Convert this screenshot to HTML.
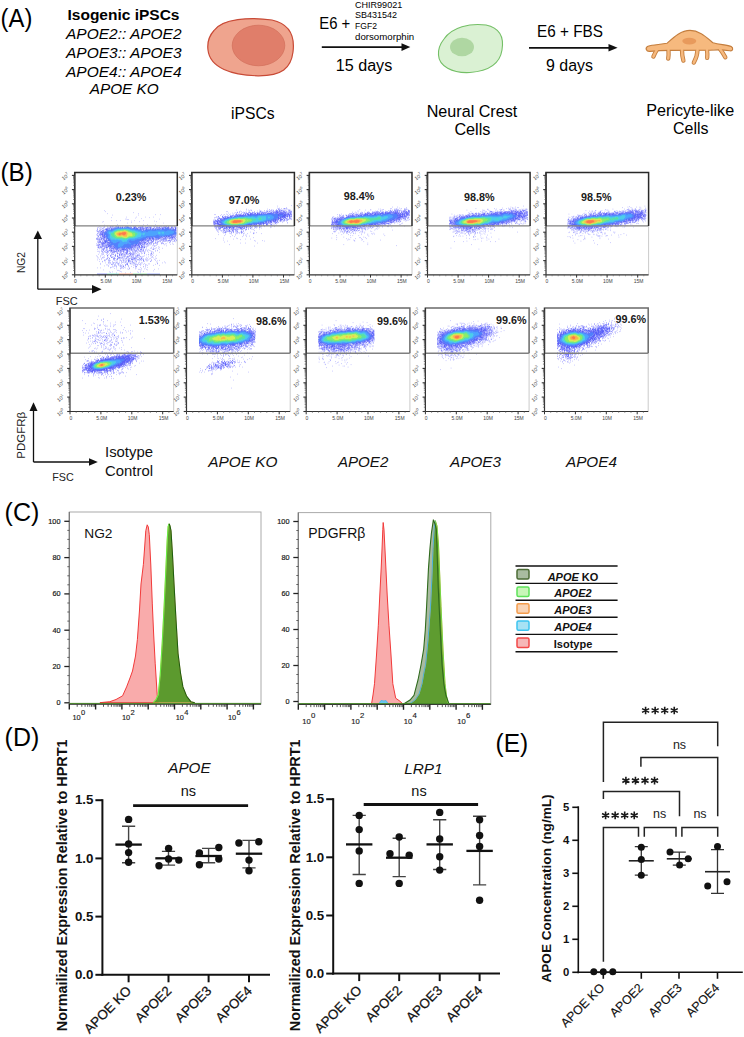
<!DOCTYPE html>
<html><head><meta charset="utf-8"><style>
html,body{margin:0;padding:0;background:#fff;width:744px;height:1037px;overflow:hidden}
svg{display:block;font-family:"Liberation Sans", sans-serif}
</style></head><body>
<svg width="744" height="1037" viewBox="0 0 744 1037">
<defs><filter id="bl" x="-20%" y="-50%" width="140%" height="200%"><feGaussianBlur stdDeviation="1.6"/></filter></defs>
<rect width="744" height="1037" fill="#fff"/>
<text x="0.6" y="26.6" font-size="26" text-anchor="start" font-weight="normal" font-style="normal" fill="#000" textLength="31.8" lengthAdjust="spacingAndGlyphs" >(A)</text>
<text x="123.5" y="20" font-size="14.5" text-anchor="middle" font-weight="bold" font-style="normal" fill="#000" textLength="112" lengthAdjust="spacingAndGlyphs" >Isogenic iPSCs</text>
<text x="123.8" y="39.0" font-size="14" text-anchor="middle" font-weight="normal" font-style="italic" fill="#000" textLength="115.5" lengthAdjust="spacingAndGlyphs" >APOE2:: APOE2</text>
<text x="123.8" y="57.8" font-size="14" text-anchor="middle" font-weight="normal" font-style="italic" fill="#000" textLength="115.5" lengthAdjust="spacingAndGlyphs" >APOE3:: APOE3</text>
<text x="123.8" y="76.6" font-size="14" text-anchor="middle" font-weight="normal" font-style="italic" fill="#000" textLength="115.5" lengthAdjust="spacingAndGlyphs" >APOE4:: APOE4</text>
<text x="124.2" y="94.2" font-size="14" text-anchor="middle" font-weight="normal" font-style="italic" fill="#000" textLength="69" lengthAdjust="spacingAndGlyphs" >APOE KO</text>
<path d="M214,30.5 C222,18.5 250,16.8 272,20 C290,24 295,36 293,52 C291,68 282,76 258,75.8 C232,75.3 210,68 208,50 C207,42 209,36 214,30.5 Z" fill="#EFA48E" stroke="#C84A36" stroke-width="1.2"/>
<ellipse cx="258.5" cy="45.5" rx="26.3" ry="20.3" fill="#E07E6A" stroke="#CF6A56" stroke-width="0.6"/>
<text x="319.3" y="28.6" font-size="17.2" text-anchor="start" font-weight="normal" font-style="normal" fill="#000" textLength="31" lengthAdjust="spacingAndGlyphs" >E6 +</text>
<text x="355" y="7.8" font-size="9.3" text-anchor="start" font-weight="normal" font-style="normal" fill="#000" textLength="47.2" lengthAdjust="spacingAndGlyphs" >CHIR99021</text>
<text x="355" y="18.4" font-size="9.3" text-anchor="start" font-weight="normal" font-style="normal" fill="#000" textLength="42" lengthAdjust="spacingAndGlyphs" >SB431542</text>
<text x="355" y="29.0" font-size="9.3" text-anchor="start" font-weight="normal" font-style="normal" fill="#000" textLength="22" lengthAdjust="spacingAndGlyphs" >FGF2</text>
<text x="355" y="39.599999999999994" font-size="9.3" text-anchor="start" font-weight="normal" font-style="normal" fill="#000" textLength="59.2" lengthAdjust="spacingAndGlyphs" >dorsomorphin</text>
<line x1="321.8" y1="47.1" x2="403" y2="47.1" stroke="#111" stroke-width="1.8"/>
<path d="M401.5,43.3 L410.3,47.1 L401.5,50.9 Z" fill="#111"/>
<text x="364" y="71" font-size="16" text-anchor="middle" font-weight="normal" font-style="normal" fill="#000" textLength="56.5" lengthAdjust="spacingAndGlyphs" >15 days</text>
<text x="252.8" y="118.7" font-size="15.7" text-anchor="middle" font-weight="normal" font-style="normal" fill="#000" textLength="43.5" lengthAdjust="spacingAndGlyphs" >iPSCs</text>
<path d="M444,39 C452,27 470,23 486,25 C500,28 504,38 502,50 C500,63 490,71 470,72.5 C452,73.5 439,66 438.5,55 C438,49 440,44 444,39 Z" fill="#DAF1D3" stroke="#74BF66" stroke-width="1.1"/>
<ellipse cx="462" cy="47" rx="12" ry="9.3" fill="#AFD7A2"/>
<text x="570" y="37.2" font-size="17" text-anchor="middle" font-weight="normal" font-style="normal" fill="#000" textLength="65.8" lengthAdjust="spacingAndGlyphs" >E6 + FBS</text>
<line x1="529" y1="47.8" x2="609.5" y2="47.8" stroke="#111" stroke-width="1.8"/>
<path d="M608.5,44 L617.6,47.8 L608.5,51.6 Z" fill="#111"/>
<text x="569.5" y="71.2" font-size="16.3" text-anchor="middle" font-weight="normal" font-style="normal" fill="#000" textLength="47" lengthAdjust="spacingAndGlyphs" >9 days</text>
<text x="472" y="116.6" font-size="16.3" text-anchor="middle" font-weight="normal" font-style="normal" fill="#000" textLength="90.6" lengthAdjust="spacingAndGlyphs" >Neural Crest</text>
<text x="472.4" y="134.9" font-size="16.3" text-anchor="middle" font-weight="normal" font-style="normal" fill="#000" textLength="36" lengthAdjust="spacingAndGlyphs" >Cells</text>
<path d="M657,49.5 Q655,53 653.4,56.6" fill="none" stroke="#C47E3E" stroke-width="4.3" stroke-linecap="round"/>
<path d="M668.5,50 Q668.8,55 668.2,58.6" fill="none" stroke="#C47E3E" stroke-width="4.3" stroke-linecap="round"/>
<path d="M682,50 Q682,56 683.4,60.6" fill="none" stroke="#C47E3E" stroke-width="4.3" stroke-linecap="round"/>
<path d="M697.5,50 Q697.2,57 693.8,62.6" fill="none" stroke="#C47E3E" stroke-width="4.3" stroke-linecap="round"/>
<path d="M707,50 Q707.6,54 707.2,57.9" fill="none" stroke="#C47E3E" stroke-width="4.3" stroke-linecap="round"/>
<path d="M720,49 Q723,53 725.3,57.3" fill="none" stroke="#C47E3E" stroke-width="4.3" stroke-linecap="round"/>
<path d="M648,46.2 C653,44.6 660,44.6 667,43.3 C674,37 681,30.4 690,30.4 C699,30.4 706,37 713,42.8 C720,44.8 728,44.6 731.2,46.6 C733.6,48.2 733,51.2 730,50.8 C724,49.8 716,49.6 710,50.2 L670,50.4 C664,50.4 656,50.8 650,51.4 C646,51.8 644.8,47.6 648,46.2 Z" fill="#F6B97E" stroke="#C47E3E" stroke-width="1.15"/>
<path d="M657,49.5 Q655,53 653.4,56.6" fill="none" stroke="#F6B97E" stroke-width="2.5" stroke-linecap="round"/>
<path d="M668.5,50 Q668.8,55 668.2,58.6" fill="none" stroke="#F6B97E" stroke-width="2.5" stroke-linecap="round"/>
<path d="M682,50 Q682,56 683.4,60.6" fill="none" stroke="#F6B97E" stroke-width="2.5" stroke-linecap="round"/>
<path d="M697.5,50 Q697.2,57 693.8,62.6" fill="none" stroke="#F6B97E" stroke-width="2.5" stroke-linecap="round"/>
<path d="M707,50 Q707.6,54 707.2,57.9" fill="none" stroke="#F6B97E" stroke-width="2.5" stroke-linecap="round"/>
<path d="M720,49 Q723,53 725.3,57.3" fill="none" stroke="#F6B97E" stroke-width="2.5" stroke-linecap="round"/>
<ellipse cx="689.3" cy="41.1" rx="7" ry="3.4" fill="#E89A5C"/>
<text x="690.2" y="116" font-size="16.3" text-anchor="middle" font-weight="normal" font-style="normal" fill="#000" textLength="88" lengthAdjust="spacingAndGlyphs" >Pericyte-like</text>
<text x="690.8" y="133.6" font-size="16.3" text-anchor="middle" font-weight="normal" font-style="normal" fill="#000" textLength="35.5" lengthAdjust="spacingAndGlyphs" >Cells</text>
<text x="0.5" y="180.6" font-size="26" text-anchor="start" font-weight="normal" font-style="normal" fill="#000" textLength="32.3" lengthAdjust="spacingAndGlyphs" >(B)</text>
<path d="M99 226.8h.5M100.5 227.3h.5M101 227.8h.5M175.5 241.8h.5M169 242.8h.5M157.5 243.8h.5m7 0h.5m.5 0h.5m5.5 0h.5M157 244.3h.5m13 0h.5m2.5 0h.5M164 244.8h.5M156 245.3h.5M152 245.8h.5m14 0h.5M158.5 246.8h.5M146.5 247.3h.5m4 0h.5m2 0h.5m5.5 0h.5M156 247.8h.5M146 248.3h.5m4 0h.5m.5 0h.5m3.5 0h.5m2 0h.5m4 0h.5M97 249.3h.5m62 0h.5M145.5 249.8h.5m.5 0h.5m1.5 0h.5M145.5 250.3h.5m1.5 0h.5m1 0h.5m6 0h.5m1 0h.5M150 250.8h.5m7 0h.5M97.5 251.3h1m.5 0h.5m48 0h.5m3.5 0h.5m3.5 0h.5M145 251.8h.5m7 0h.5M148.5 252.3h.5m2 0h.5m1.5 0h.5m5.5 0h.5M99.5 252.8h.5m38 0h.5M101.5 253.3h.5m40 0h.5m1.5 0h1m8.5 0h.5M103 253.8h.5m5.5 0h.5m30 0h.5m1.5 0h.5m2.5 0h.5m5 0h.5M98 254.3h.5m4.5 0h.5m2.5 0h.5m42 0h.5M101 254.8h.5m.5 0h.5m44 0h.5m1.5 0h.5M153 255.3h.5m3 0h.5M96.5 255.8h.5m3 0h.5m4 0h.5m39.5 0h.5m5 0h.5m.5 0h.5M97.5 256.4h.5m44 0h.5m.5 0h.5M100.5 256.9h.5m2.5 0h.5m44.5 0h.5m3 0h1m2.5 0h.5M102.5 257.4h.5m1 0h.5m42 0h.5m4 0h.5M97.5 257.9h.5m.5 0h.5m3 0h.5m.5 0h.5m49.5 0h.5M101.5 258.4h.5m45.5 0h.5m2.5 0h.5m5.5 0h.5M145.5 258.9h.5m.5 0h.5m2.5 0h.5m5 0h.5M99.5 259.4h.5m1.5 0h.5m49 0h.5m3 0h.5M97 259.9h.5m6.5 0h.5m1 0h.5m39 0h.5m.5 0h.5m.5 0h.5m1 0h.5M104 260.4h.5m46.5 0h.5m3.5 0h.5m3.5 0h.5M104 260.9h.5m1 0h.5m9.5 0h.5m3 0h.5m19.5 0h.5m7 0h.5m.5 0h.5m3 0h.5m5.5 0h.5M99.5 261.4h.5m2 0h.5m9.5 0h.5m24 0h.5m6 0h.5m1 0h.5m5 0h1M102.5 261.9h.5m14.5 0h.5m38 0h.5m8 0h.5M108 262.4h.5m3.5 0h.5m1.5 0h.5m4.5 0h.5m3.5 0h.5m15.5 0h.5m2 0h.5M105.5 262.9h.5m18.5 0h.5m11 0h.5m1.5 0h.5m3.5 0h.5m15 0h.5m4 0h.5m2.5 0h.5M100 263.4h.5m7.5 0h.5m1.5 0h.5m10.5 0h.5m18.5 0h.5m3.5 0h.5m13 0h.5M109.5 263.9h.5m9.5 0h.5m21 0h.5m6.5 0h.5m.5 0h.5m8 0h.5M100 264.4h.5m10.5 0h.5m31.5 0h.5m2 0h.5m9.5 0h.5M106 264.9h.5m.5 0h.5m38.5 0h.5M108.5 265.4h.5m9 0h.5m15 0h.5m6 0h.5m5 0h.5m1.5 0h.5m5 0h.5m6 0h.5M104 265.9h.5m7.5 0h.5m6.5 0h.5m8.5 0h1M108.5 266.4h.5m7 0h.5m15 0h.5m11 0h.5m1.5 0h.5M112.5 266.9h.5m.5 0h.5m14.5 0h.5m14 0h.5M110 267.4h.5m1 0h.5m4 0h.5m7.5 0h.5m9 0h.5m6 0h.5m6.5 0h.5M97.5 267.9h.5m2.5 0h.5m9 0h.5m12 0h.5m2.5 0h.5m3 0h.5m5.5 0h.5m1 0h.5m8 0h.5M114 268.4h.5m6 0h1m2 0h.5m5 0h.5m12 0h.5M116.5 268.9h.5m3 0h.5m7 0h.5m1 0h.5m5.5 0h.5m8.5 0h.5m14 0h.5M128.5 269.4h.5m9.5 0h.5m.5 0h.5m6.5 0h.5m7 0h.5M103.5 269.9h.5m36 0h.5m1 0h.5m5 0h.5M117 270.4h.5m.5 0h.5M119.5 270.9h.5m33.5 0h.5M120.5 271.4h.5m19.5 0h.5m2.5 0h.5M109 271.9h.5m3 0h.5m8.5 0h.5m15.5 0h.5M110 272.4h.5m20 0h.5m7.5 0h.5M116.5 272.9h.5m8.5 0h.5m14.5 0h.5" stroke="#2526fd" stroke-width="0.5" stroke-opacity="0.9" fill="none"/>
<path d="M104.5 226.8h.5m2.5 0h.5m43 0h.5m1.5 0h.5m.5 0h.5m1 0h.5m18 0h.5M98 227.3h.5m4.5 0h.5m1 0h.5M97.5 227.8h.5M102.5 228.3h1M97.5 228.8h.5m1 0h.5m.5 0h.5m2 0h.5M97.5 229.3h.5m3.5 0h.5m1 0h.5M97.5 229.8h.5m2.5 0h.5M99.5 230.3h1M96.5 230.8h1m1.5 0h.5M97 231.3h.5m1 0h1M97 231.8h.5m.5 0h.5M98.5 232.3h.5M98.5 233.3h.5M97 233.8h1M96.5 234.8h.5M97 235.3h.5m.5 0h.5M97 235.8h.5M98.5 236.3h.5M98 236.8h1M97 237.3h.5M99 237.8h.5m.5 0h.5m75 0h.5M97.5 238.3h1m76 0h.5M99.5 238.8h.5m69 0h.5m5.5 0h1M98 239.3h.5m.5 0h1m66.5 0h.5m6.5 0h.5M97 239.8h.5m1 0h.5m64.5 0h.5m1 0h1.5m5.5 0h.5m2 0h.5m.5 0h1M155.5 240.3h.5m3.5 0h1m.5 0h.5m2 0h.5m3 0h.5m.5 0h.5m.5 0h1m.5 0h.5m.5 0h.5m2 0h.5m1.5 0h.5M98 240.8h.5m3.5 0h.5m53.5 0h.5m1 0h.5m4 0h.5m1 0h.5m.5 0h.5m.5 0h1.5m1 0h1m.5 0h.5m.5 0h.5m3 0h.5m1.5 0h.5M97 241.3h.5m4.5 0h.5m51 0h.5m4 0h.5m.5 0h.5m.5 0h.5m2.5 0h.5m.5 0h.5m1 0h.5m7 0h.5m.5 0h.5M98 241.8h.5m54.5 0h.5m1.5 0h.5m2 0h1m1.5 0h.5m2 0h.5m4.5 0h.5m2 0h1m1.5 0h.5M97 242.3h.5m1 0h.5m49 0h1m1.5 0h.5m1.5 0h.5m2 0h.5m2 0h.5m11 0h.5M98.5 242.8h.5m47.5 0h.5m2 0h.5m1 0h1.5m3.5 0h1m.5 0h.5m4 0h1M147 243.3h1m1 0h1.5m.5 0h.5m1.5 0h.5m.5 0h.5m.5 0h.5m5.5 0h.5m1 0h1M96.5 243.8h.5m1.5 0h.5m47 0h.5m.5 0h.5m1 0h.5m4.5 0h.5m2 0h.5m5 0h.5m1 0h.5M97 244.3h.5m1.5 0h1m.5 0h.5m45 0h.5m.5 0h.5m4 0h.5m1 0h.5M98.5 244.8h.5m.5 0h.5m44.5 0h1m.5 0h.5m1.5 0h.5m1 0h.5m.5 0h.5M96.5 245.3h1m.5 0h1m.5 0h.5m44.5 0h.5m2 0h.5m6 0h.5M97.5 245.8h.5m2 0h.5m47.5 0h.5m5.5 0h.5m.5 0h.5M98 246.3h.5m46 0h.5m1.5 0h1m7 0h.5M98 246.8h.5m1 0h1.5m43 0h.5m.5 0h.5M97 247.3h.5m.5 0h.5m1.5 0h.5m.5 0h1m42 0h1M98 247.8h1m.5 0h1m3.5 0h.5m.5 0h.5m38.5 0h1M101 248.3h.5m.5 0h.5m1.5 0h1m38 0h.5M99.5 248.8h.5m3 0h1m2.5 0h.5m2 0h.5m32 0h.5m.5 0h.5m10.5 0h1M102.5 249.3h1m.5 0h.5m2 0h1m32.5 0h2m10.5 0h1.5M101 249.8h.5m.5 0h.5m.5 0h.5m30.5 0h1m1 0h.5m1 0h1.5m1.5 0h1m1.5 0h1M103 250.3h1m1 0h.5m1 0h1m1.5 0h1m21 0h1.5m.5 0h.5m1 0h1m.5 0h.5m6 0h.5m.5 0h.5M101.5 250.8h.5m4 0h.5m2 0h1m21 0h.5m4 0h.5m1 0h.5m1 0h.5m1 0h.5m.5 0h1m2 0h.5M101.5 251.3h1m1.5 0h.5m2.5 0h.5m.5 0h.5m2 0h.5m7.5 0h.5m10.5 0h.5m2 0h.5m2 0h1m1 0h1m2 0h.5m.5 0h.5m1.5 0h.5M102 251.8h.5m2 0h.5m.5 0h.5m1 0h1m7.5 0h1m.5 0h.5m2.5 0h.5m.5 0h.5m7.5 0h.5m2.5 0h.5m.5 0h.5m2 0h.5m4.5 0h1m1.5 0h.5m1 0h.5M102.5 252.3h1m1.5 0h.5m1 0h.5m1 0h.5m2 0h.5m1 0h1m.5 0h.5m.5 0h.5m2.5 0h.5m2 0h.5m3 0h1m6 0h.5m2.5 0h.5m1 0h.5m2 0h.5m6.5 0h.5M106.5 252.8h1m4 0h.5m1.5 0h1m1.5 0h.5m2.5 0h.5m.5 0h.5m1 0h.5m3.5 0h.5m4.5 0h.5m1 0h.5m1.5 0h.5m6.5 0h.5M107 253.3h.5m9.5 0h1.5m1.5 0h.5m3 0h.5m5 0h1.5m1 0h.5m1.5 0h1m1.5 0h.5m14.5 0h1M102.5 253.8h.5m8.5 0h1m5 0h.5m1 0h.5m1.5 0h.5m.5 0h1m1 0h.5m.5 0h.5m1 0h.5m.5 0h1m.5 0h.5m.5 0h.5m.5 0h.5m.5 0h.5m.5 0h.5m2 0h.5m15 0h.5M111.5 254.3h1m.5 0h1m1.5 0h.5m3.5 0h.5m.5 0h2m.5 0h.5m2.5 0h.5m3.5 0h.5m.5 0h.5m1 0h.5m.5 0h.5m3 0h.5m.5 0h.5m1 0h.5m12 0h.5M108 254.8h.5m7 0h.5m3 0h1m1.5 0h.5m2 0h1.5m1.5 0h.5m.5 0h.5m1.5 0h1m1 0h.5m.5 0h.5m.5 0h.5m16 0h.5m.5 0h.5M107 255.3h1m2.5 0h.5m.5 0h.5m3 0h.5m1.5 0h.5m1.5 0h1m1 0h.5m1.5 0h.5m2 0h.5m3.5 0h.5m.5 0h.5m1 0h.5m3 0h.5m.5 0h2M107.5 255.8h.5m2 0h1m3.5 0h1.5m1.5 0h.5m2 0h.5m1 0h1m2 0h.5m4.5 0h.5m1 0h.5m1.5 0h.5m4 0h1m.5 0h1M107.5 256.4h.5m2 0h.5m5 0h.5m1 0h1m5 0h.5m1.5 0h.5m2 0h.5m.5 0h1m2 0h.5m1.5 0h.5m1 0h.5m1 0h.5m.5 0h.5m2 0h.5M111.5 256.9h.5m.5 0h1m3.5 0h.5m.5 0h.5m.5 0h.5m2.5 0h.5m1.5 0h1m1 0h.5m.5 0h1m.5 0h.5m1 0h.5m.5 0h.5m1 0h.5m3.5 0h.5m3.5 0h1M108.5 257.4h.5m2 0h1.5m5.5 0h.5m1 0h.5m1 0h.5m11 0h.5m.5 0h1m.5 0h.5m1.5 0h.5m.5 0h.5M107 257.9h.5m6.5 0h1m3.5 0h2.5m1 0h1m.5 0h.5m2 0h.5m.5 0h.5m1 0h.5m2.5 0h.5m1 0h.5m2 0h1m2.5 0h.5m1.5 0h.5m1 0h.5M107.5 258.4h.5m1 0h1m3 0h1.5m.5 0h.5m1.5 0h.5m.5 0h.5m3 0h.5m3 0h.5m.5 0h.5m2.5 0h.5m.5 0h.5m.5 0h.5m1 0h.5m1 0h1.5m1 0h.5m2.5 0h.5m1 0h1M106.5 258.9h.5m.5 0h.5m6 0h.5m2.5 0h1m1 0h.5m3.5 0h.5m.5 0h.5m2 0h.5m1.5 0h1m3.5 0h1.5m.5 0h.5m3.5 0h.5m.5 0h.5m3 0h.5M106.5 259.4h.5m6 0h.5m1 0h.5m1 0h.5m1 0h.5m7.5 0h.5m5 0h2m1 0h.5m3 0h.5m.5 0h.5m1.5 0h.5m.5 0h1m.5 0h.5M108.5 259.9h.5m.5 0h.5m3 0h.5m4 0h.5m2.5 0h.5m1.5 0h.5m.5 0h.5m3 0h.5m.5 0h1.5m1.5 0h.5m.5 0h.5m1 0h.5m1.5 0h1m.5 0h.5m.5 0h.5m1 0h.5m.5 0h.5M108.5 260.4h1m.5 0h.5m3.5 0h.5m6 0h1m5 0h.5m1 0h.5m.5 0h.5m5.5 0h.5m5.5 0h.5m1.5 0h1M116.5 260.9h.5m6 0h1m.5 0h.5m.5 0h.5m2 0h1m.5 0h1m2 0h.5m1 0h.5m9 0h.5M109.5 261.4h.5m16.5 0h.5m1.5 0h1m.5 0h.5m1.5 0h.5m3.5 0h.5M108.5 261.9h.5m12 0h1m3 0h.5m2.5 0h1m2 0h.5m.5 0h.5m2.5 0h.5M109.5 262.4h.5m.5 0h.5m5.5 0h.5m5 0h.5m3 0h.5m6 0h.5m.5 0h.5M113 262.9h1m1.5 0h1m1 0h.5m8 0h.5m.5 0h.5m1.5 0h.5m.5 0h.5m3 0h.5m.5 0h.5M118.5 263.4h.5m8 0h.5m3 0h.5m3.5 0h.5M112 263.9h.5m1 0h.5m1.5 0h.5m1 0h.5m.5 0h.5m8 0h.5m.5 0h.5m2 0h.5m.5 0h.5m.5 0h.5m1 0h.5m1.5 0h.5m2.5 0h.5M111.5 264.4h1m2 0h.5m3 0h.5m6.5 0h.5m.5 0h.5m.5 0h1m7 0h.5m1 0h.5m2.5 0h1M115 264.9h.5m5 0h.5m1.5 0h.5m2 0h.5m2 0h.5m6.5 0h.5m2 0h1M120.5 265.4h1m1.5 0h.5m2 0h.5m9 0h.5M114 265.9h1.5m.5 0h.5m9 0h.5M120.5 266.4h1m1.5 0h1m11.5 0h1.5M120.5 266.9h.5m1 0h.5m1 0h.5m11.5 0h.5M121 267.4h.5" stroke="#1f23fa" stroke-width="0.5" stroke-opacity="1" fill="none"/>
<path d="M110 226.8h1m1.5 0h1m1.5 0h.5m7 0h.5m10 0h.5m6 0h.5m.5 0h1m.5 0h1m.5 0h.5m1.5 0h.5m2.5 0h.5m.5 0h.5m.5 0h.5m5.5 0h1m2 0h1m1 0h.5m1 0h.5m7.5 0h.5m.5 0h.5m2.5 0h.5M109.5 227.3h.5m.5 0h.5m20.5 0h.5m4.5 0h.5m1 0h1m1.5 0h.5m.5 0h1.5m2 0h.5m1 0h1.5m.5 0h1m1 0h.5m3.5 0h.5m1 0h.5m.5 0h.5m.5 0h.5m1 0h.5m1.5 0h.5m.5 0h.5m.5 0h.5m5 0h.5m1.5 0h1.5m2 0h1M107.5 227.8h.5m.5 0h.5m1 0h.5m27.5 0h.5m.5 0h2.5m2 0h1m.5 0h.5m.5 0h2m1 0h.5m.5 0h1.5m3 0h.5m1.5 0h1m.5 0h.5m.5 0h1m2.5 0h.5m8.5 0h1m1 0h.5m1 0h1.5M107 228.3h.5m.5 0h.5m1 0h1m32 0h1.5m.5 0h1m3 0h.5m1 0h1m.5 0h.5m.5 0h1.5m2.5 0h1m3.5 0h.5m8.5 0h2m.5 0h.5m.5 0h.5m1 0h1.5M105.5 228.8h1.5m.5 0h.5M104.5 229.3h.5m.5 0h.5M105 229.8h.5M102 230.3h.5m1 0h.5m.5 0h.5M102 230.8h2M100.5 231.3h1.5m.5 0h1M100 231.8h.5m.5 0h1M99.5 232.3h.5m1.5 0h.5M100 232.8h1M100 233.3h1M99 233.8h.5M99.5 234.3h1.5M99 234.8h.5m.5 0h.5M99 235.3h.5m1 0h1M100.5 235.8h.5m1 0h.5M100.5 236.3h.5m1 0h1m71.5 0h1.5M101.5 236.8h.5m.5 0h1m70 0h.5m.5 0h.5M100.5 237.3h.5m2 0h.5m63.5 0h.5m5.5 0h1m.5 0h.5m1 0h.5M100.5 237.8h.5m.5 0h1m1 0h1m59.5 0h.5m1 0h.5m1 0h.5m.5 0h.5m.5 0h.5m.5 0h.5m2 0h.5m1 0h1M96.5 238.3h.5m4 0h3.5m56.5 0h.5m1.5 0h.5m.5 0h2.5m1 0h1m1 0h1m1 0h1.5M96.5 238.8h1m4 0h.5m2.5 0h.5m54.5 0h.5m.5 0h.5m1.5 0h1.5m1.5 0h1m3 0h.5m.5 0h.5m2 0h.5M96.5 239.3h.5m.5 0h.5m2 0h.5m.5 0h.5m1.5 0h1.5m43 0h.5m.5 0h2.5m2 0h1.5m1.5 0h3m3.5 0h1m.5 0h1m6 0h.5m.5 0h.5M100 239.8h.5m.5 0h1.5m.5 0h.5m1 0h.5m41 0h1m1 0h.5m2.5 0h.5m.5 0h.5m1 0h1m.5 0h1m.5 0h.5m3.5 0h1.5m.5 0h.5m8.5 0h.5M99.5 240.3h.5m3 0h.5m.5 0h.5m39.5 0h.5m.5 0h.5m1 0h3m1 0h1.5m1 0h1M99 240.8h.5m1 0h.5m42 0h1m.5 0h1.5m1 0h.5m1 0h1m1 0h.5m.5 0h.5m1.5 0h.5M99.5 241.3h1m3.5 0h.5m40 0h.5m1 0h.5m.5 0h1.5m3 0h1M99.5 241.8h1.5m1.5 0h.5m.5 0h.5m38.5 0h1.5m.5 0h.5m1.5 0h.5m1.5 0h.5m2 0h.5m.5 0h1M99 242.3h1.5m1 0h.5m1.5 0h.5m38 0h1m.5 0h.5m.5 0h1.5M100 242.8h.5m1 0h2m40 0h2.5M101 243.3h3m38.5 0h.5m1 0h1m.5 0h.5M102 243.8h.5m.5 0h.5m.5 0h.5m37 0h1m.5 0h.5m.5 0h.5M101 244.3h.5m1 0h.5m.5 0h.5m.5 0h.5m.5 0h.5m36 0h1.5m1 0h.5M101.5 244.8h2m2 0h.5m34.5 0h.5m2.5 0h.5M102 245.3h1.5m.5 0h.5m1.5 0h.5m34.5 0h1m.5 0h.5M101 245.8h.5m2 0h.5m.5 0h2m32 0h1.5m1 0h1m1 0h.5M102.5 246.3h1m1.5 0h.5m1 0h.5m30 0h.5m.5 0h.5m.5 0h1m2 0h1M101.5 246.8h1.5m.5 0h1.5m1.5 0h1m.5 0h.5m30.5 0h1m1 0h1.5m1 0h.5M105.5 247.3h2m1.5 0h.5m25 0h.5m.5 0h1m.5 0h.5m1 0h1m1 0h.5m.5 0h2M106 247.8h2m2.5 0h.5m22.5 0h1m.5 0h.5m1.5 0h.5m.5 0h.5m.5 0h.5m.5 0h.5m.5 0h1M109.5 248.3h1m.5 0h.5m.5 0h.5m.5 0h.5m20 0h.5m.5 0h.5m1.5 0h1.5m1 0h.5M109.5 248.8h.5m1 0h2m.5 0h1m17 0h.5m.5 0h1m1.5 0h.5m2.5 0h.5M110.5 249.3h1m1.5 0h1m1 0h.5m4 0h.5m9 0h1.5m.5 0h1m1.5 0h.5m3.5 0h.5M110 249.8h.5m3.5 0h.5m1 0h2.5m.5 0h.5m.5 0h1m1 0h.5m5.5 0h.5m4 0h.5M110 250.3h.5m.5 0h1.5m1 0h1m3.5 0h1m1 0h1.5m2 0h.5m1.5 0h1.5m.5 0h1m.5 0h.5M110.5 250.8h1.5m.5 0h1m2.5 0h1.5m.5 0h.5m1 0h1m1 0h.5m.5 0h.5m.5 0h1.5m1.5 0h1.5M111 251.3h1m1.5 0h2.5m.5 0h.5m1 0h.5m.5 0h.5m1 0h.5m.5 0h.5m.5 0h1m3.5 0h1.5M112.5 251.8h1m.5 0h.5m8.5 0h1m2 0h1.5M125.5 252.3h.5m1.5 0h.5M126 252.8h2M126 253.3h1" stroke="#1a21f8" stroke-width="0.5" stroke-opacity="1" fill="none"/>
<path d="M111.5 226.8h1m3.5 0h1.5m.5 0h1m1 0h.5m4.5 0h1.5m3.5 0h.5m3.5 0h.5m.5 0h1m28.5 0h1m.5 0h1m1 0h1M115.5 227.3h.5m2.5 0h.5m.5 0h1m.5 0h.5m.5 0h1.5m.5 0h1m3.5 0h.5m.5 0h.5m.5 0h1m2 0h2m28.5 0h2m1 0h.5m1 0h.5M111 227.8h.5m1 0h.5m.5 0h2m.5 0h.5m3.5 0h1.5m.5 0h1m1.5 0h.5m4.5 0h1m1 0h.5m2 0h1m.5 0h.5m.5 0h.5m26 0h.5m2 0h1m.5 0h2M111.5 228.3h1m1 0h.5m.5 0h.5m16 0h.5m.5 0h.5m.5 0h2m.5 0h2.5m2 0h1m.5 0h.5m4.5 0h.5m11 0h.5m.5 0h.5m.5 0h1m1 0h1m.5 0h1m3 0h1M108.5 228.8h1.5m1 0h1m.5 0h1m23 0h2m1 0h.5m.5 0h1m.5 0h1.5m.5 0h.5m1 0h2m.5 0h.5m1 0h1m2 0h2m.5 0h1.5m1 0h1m1 0h1m.5 0h.5m.5 0h2m4 0h2m2.5 0h1m1.5 0h1M106 229.3h2m3 0h1.5m25.5 0h.5m1 0h1.5m.5 0h1.5m.5 0h.5m.5 0h.5m1 0h1.5m.5 0h.5m1 0h2m.5 0h1m.5 0h.5m.5 0h2m.5 0h1.5m2.5 0h.5m.5 0h1m6.5 0h2m1 0h3.5M105.5 229.8h2m33.5 0h1m1 0h1m1 0h1m28 0h.5m.5 0h1.5M106 230.3h.5m.5 0h.5m35.5 0h1m.5 0h.5m30 0h1.5M106 230.8h1m35.5 0h.5m32.5 0h.5M105 231.3h1m70 0h.5M102.5 231.8h.5m.5 0h.5m.5 0h.5m.5 0h.5m69.5 0h.5M102 232.3h.5m.5 0h2.5m70.5 0h.5M101.5 232.8h2M102.5 233.3h.5m.5 0h1M101 233.8h2.5M101 234.3h3M101.5 234.8h1.5m1 0h.5m69 0h1m.5 0h.5M102.5 235.3h1m.5 0h1m68 0h.5m.5 0h.5m1 0h1M102.5 235.8h2.5m.5 0h.5m66 0h1m1 0h.5m1 0h.5M103.5 236.3h.5m.5 0h.5m.5 0h.5m59.5 0h1.5m.5 0h3m.5 0h1.5m.5 0h1M103.5 236.8h3m53.5 0h.5m.5 0h1m1 0h.5m.5 0h1m.5 0h1.5m.5 0h2m2 0h.5m.5 0h.5M104 237.3h1.5m.5 0h.5m44.5 0h.5m8.5 0h1m1 0h1.5m1.5 0h1.5m3 0h1.5m.5 0h1.5M104.5 237.8h1m1 0h.5m40.5 0h1m.5 0h2m.5 0h2.5m.5 0h1m3 0h2m.5 0h1m.5 0h.5m8 0h1.5M105.5 238.3h.5m.5 0h.5m39.5 0h2m.5 0h1m.5 0h.5m.5 0h2.5m.5 0h.5m.5 0h5M106 238.8h1.5m38 0h.5m1 0h.5m1 0h2.5m.5 0h1.5m.5 0h.5m1.5 0h.5m2 0h.5M106.5 239.3h.5m.5 0h.5m34.5 0h4m5.5 0h.5M105.5 239.8h1.5m1 0h.5m33.5 0h2.5m1 0h.5M104.5 240.3h.5m.5 0h1m1 0h1m32 0h3M104.5 240.8h4.5m30.5 0h2m.5 0h1M104.5 241.3h1.5m1 0h.5m31.5 0h1m1 0h1M104.5 241.8h1.5m1.5 0h.5m1.5 0h.5m30 0h.5m.5 0h.5M104.5 242.3h1.5m.5 0h2.5m.5 0h.5m29 0h1m.5 0h1M103.5 242.8h.5m.5 0h1.5m.5 0h.5m.5 0h2.5m29 0h2m.5 0h.5M104 243.3h1m.5 0h.5m1 0h.5m.5 0h.5m.5 0h1.5m27.5 0h1.5m.5 0h.5m.5 0h.5M106 243.8h.5m1 0h1m.5 0h.5m28 0h1m.5 0h2.5M106.5 244.3h3m26 0h2m.5 0h1m.5 0h1M107.5 244.8h.5m.5 0h1m24 0h3.5m1 0h1.5m.5 0h.5M106.5 245.3h.5m1 0h.5m.5 0h.5m2 0h.5m.5 0h.5m18.5 0h4.5m.5 0h2M107 245.8h3m.5 0h.5m.5 0h1m.5 0h.5m18 0h.5m.5 0h.5m.5 0h.5m1 0h1m.5 0h1m.5 0h.5M108 246.3h4m.5 0h2m17 0h.5m.5 0h2.5m.5 0h1M108.5 246.8h.5m1.5 0h.5m.5 0h.5m.5 0h1m17.5 0h2m1.5 0h.5m.5 0h.5M109.5 247.3h1.5m.5 0h1m1 0h1.5m15.5 0h3M111.5 247.8h.5m.5 0h.5m.5 0h1.5m.5 0h.5m8 0h1.5m1 0h2.5m.5 0h1.5m.5 0h1M113.5 248.3h1m.5 0h1m.5 0h.5m2 0h.5m2.5 0h.5m.5 0h.5m.5 0h.5m.5 0h.5m.5 0h1m.5 0h.5m.5 0h1.5m1 0h.5M115 248.8h.5m.5 0h2m.5 0h1m.5 0h5m1 0h.5m.5 0h.5m.5 0h1.5m.5 0h1.5M116.5 249.3h.5m.5 0h.5m3 0h.5m.5 0h5m.5 0h.5M122 249.8h2m.5 0h1.5m1 0h.5" stroke="#141ef5" stroke-width="0.5" stroke-opacity="1" fill="none"/>
<path d="M126.5 226.8h2M117.5 227.3h1m8 0h2M116.5 227.8h3m5.5 0h4.5M115 228.3h12.5m.5 0h3m34 0h2.5M113.5 228.8h3m13.5 0h6.5m28 0h3.5M112.5 229.3h2.5m16 0h7m20.5 0h2m2.5 0h6M108 229.8h5.5m21.5 0h6m5 0h28M107.5 230.3h5.5m24.5 0h4m3.5 0h30M107 230.8h1.5m2.5 0h1.5m28 0h2m1 0h7m1 0h4.5m7.5 0h4m4 0h4M106.5 231.3h1.5m33 0h7.5m16.5 0h1.5m7 0h2M106 231.8h1.5m34.5 0h1.5m2.5 0h2m26 0h1.5M105.5 232.3h2m39 0h1m26.5 0h2M104.5 232.8h3m66 0h3M104.5 233.3h3m65.5 0h3.5M104 233.8h4m64 0h4.5M104 234.3h4.5m61 0h7M104.5 234.8h4.5m47.5 0h1.5m7 0h1.5m2 0h5M105.5 235.3h3.5m46.5 0h3.5m5.5 0h8M106 235.8h2.5m38 0h1m3 0h1m1.5 0h19M106 236.3h2m38 0h19M106.5 236.8h1.5m37.5 0h14.5M106.5 237.3h1.5m35 0h7.5m1 0h1.5m1.5 0h5M107 237.8h1.5m33 0h5.5m8.5 0h3M107 238.3h2.5m31 0h6M107.5 238.8h2m30 0h6M108 239.3h2m26.5 0h6M108.5 239.8h2m24.5 0h7M108.5 240.3h2.5m18.5 0h1.5m3.5 0h6M109 240.8h2m18 0h10.5M106 241.3h1m2.5 0h2m17 0h10.5M106 241.8h1m3 0h2m5.5 0h2.5m8.5 0h10.5M110 242.3h3m3.5 0h3.5m8.5 0h10.5M110 242.8h3.5m2 0h4m9 0h.5m1 0h8.5M110.5 243.3h8.5m8.5 0h1m2 0h7.5M110.5 243.8h8m8 0h2.5m1.5 0h7M110 244.3h8m5.5 0h10.5M109.5 244.8h8.5m5.5 0h9.5M109.5 245.3h2m2 0h4.5m5 0h8.5M110 245.8h.5m3.5 0h4m4.5 0h8.5M114.5 246.3h3.5m3.5 0h9.5M114.5 246.8h3.5m1.5 0h11.5M115 247.3h15.5M116 247.8h4.5m.5 0h3M117 248.3h2" stroke="#0a4bfa" stroke-width="0.5" stroke-opacity="1" fill="none"/>
<path d="M127.5 228.3h.5M116.5 228.8h13.5M115 229.3h3m2 0h1m7.5 0h2.5M113.5 229.8h3m13.5 0h5M113 230.3h2m16.5 0h6M108.5 230.8h2.5m1.5 0h1.5m20.5 0h6m10 0h1m4.5 0h7.5m4 0h4M108 231.3h5m22.5 0h5.5m7.5 0h16.5m1.5 0h7M107.5 231.8h5m25.5 0h4m1.5 0h2.5m2 0h26M107.5 232.3h1.5m30.5 0h7m1 0h10.5m2 0h2m2 0h10M107.5 232.8h1.5m31.5 0h17.5m2.5 0h1m2.5 0h9.5M107.5 233.3h2m31.5 0h2.5m1 0h13.5m2.5 0h1.5m1.5 0h9.5M108 233.8h1.5m32 0h1m2 0h14.5m1 0h12M108.5 234.3h1.5m31.5 0h1m2 0h25M109 234.8h1m31 0h2m1 0h12.5m1.5 0h7m1.5 0h2M109 235.3h1m31 0h14.5m3.5 0h5.5M108.5 235.8h1.5m31 0h5.5m1 0h3m1 0h1.5M108 236.3h2m30.5 0h5.5M108 236.8h2m29.5 0h6M108 237.3h2m27.5 0h5.5M108.5 237.8h2m26 0h5M109.5 238.3h1m24 0h6M109.5 238.8h1.5m18 0h10.5M110 239.3h1.5m2 0h.5m14 0h8.5M110.5 239.8h4.5m1 0h2.5m9 0h7.5M111 240.3h10.5m5.5 0h2.5m1.5 0h3.5M111 240.8h11m5 0h2M111.5 241.3h10.5m4.5 0h2M112 241.8h5.5m2.5 0h3m.5 0h5M113 242.3h3.5m3.5 0h8.5M113.5 242.8h2m4 0h9m.5 0h1M119 243.3h8.5m1 0h2M118.5 243.8h8m2.5 0h1.5M118 244.3h5.5M118 244.8h5.5M118 245.3h5M118 245.8h4.5M118 246.3h3.5M118 246.8h1.5" stroke="#007efc" stroke-width="0.5" stroke-opacity="1" fill="none"/>
<path d="M118 229.3h2m1 0h7.5M116.5 229.8h5m5 0h3.5M115 230.3h2.5m11.5 0h2.5M114 230.8h2m14 0h4.5M113 231.3h1.5m17 0h4M112.5 231.8h1.5m20.5 0h3.5M109 232.3h4.5m21.5 0h4.5m18.5 0h2m2 0h2M109 232.8h4m23 0h4.5m17.5 0h2.5m1 0h2.5M109.5 233.3h2m25.5 0h4m2.5 0h1m13.5 0h2.5m1.5 0h1.5M109.5 233.8h1.5m26.5 0h4m1 0h2m14.5 0h1M110 234.3h1m26.5 0h4m1 0h2M110 234.8h1m26 0h4m2 0h1M110 235.3h1.5m25 0h4.5M110 235.8h1.5m24.5 0h5M110 236.3h2m24 0h4.5M110 236.8h2.5m22.5 0h4.5M110 237.3h3.5m20 0h4M110.5 237.8h4m15 0h7M110.5 238.3h5m12.5 0h6.5M111 238.8h8.5m1.5 0h1.5m4.5 0h2M111.5 239.3h2m.5 0h9m2 0h3M115 239.8h1m2.5 0h9M121.5 240.3h5.5M122 240.8h5M122 241.3h4.5M123 241.8h.5" stroke="#00bae1" stroke-width="0.5" stroke-opacity="1" fill="none"/>
<path d="M121.5 229.8h5M117.5 230.3h5.5m3 0h3M116 230.8h2m10 0h2M114.5 231.3h2m12.5 0h2.5M114 231.8h1.5m14.5 0h4.5M113.5 232.3h1m17 0h3.5M113 232.8h1.5m18 0h3.5M111.5 233.3h2.5m20.5 0h2.5M111 233.8h3m21 0h2.5M111 234.3h3m21 0h2.5M111 234.8h3.5m20.5 0h2M111.5 235.3h3m20.5 0h1.5M111.5 235.8h3.5m19.5 0h1.5M112 236.3h3.5m18 0h2.5M112.5 236.8h3m17 0h2.5M113.5 237.3h3m12 0h5M114.5 237.8h8m5 0h2M115.5 238.3h9.5m1 0h2M119.5 238.8h1.5m1.5 0h4.5M123 239.3h2" stroke="#17d67d" stroke-width="0.5" stroke-opacity="1" fill="none"/>
<path d="M123 230.3h3M118 230.8h6m1.5 0h2.5M116.5 231.3h3.5m7 0h2M115.5 231.8h1.5m11 0h2M114.5 232.3h1.5m12.5 0h3M114.5 232.8h1m15 0h2M114 233.3h1m16.5 0h3M114 233.8h1m17 0h3M114 234.3h1.5m16.5 0h3M114.5 234.8h1m17 0h2.5M114.5 235.3h1.5m16.5 0h2.5M115 235.8h1.5m13 0h.5m2 0h2.5M115.5 236.3h1.5m11.5 0h5M115.5 236.8h6.5m6 0h4.5M116.5 237.3h7m3.5 0h1.5M122.5 237.8h5M125 238.3h1" stroke="#5be42f" stroke-width="0.5" stroke-opacity="1" fill="none"/>
<path d="M124 230.8h1.5M120 231.3h7M117 231.8h5m4.5 0h1.5M116 232.3h3m8 0h1.5M115.5 232.8h2m10 0h3M115 233.3h1.5m11 0h4M115 233.8h1.5m11 0h4.5M115.5 234.3h1m11 0h4.5M115.5 234.8h1.5m10 0h5.5M116 235.3h1.5m9.5 0h5.5M116.5 235.8h2m2.5 0h1.5m4.5 0h2.5m.5 0h2M117 236.3h6.5m3.5 0h1.5M122 236.8h6M123.5 237.3h3.5" stroke="#c8e913" stroke-width="0.5" stroke-opacity="1" fill="none"/>
<path d="M122 231.8h4.5M119 232.3h4.5m2 0h1.5M117.5 232.8h4.5m4 0h1.5M116.5 233.3h3m6.5 0h1.5M116.5 233.8h2m7.5 0h1.5M116.5 234.3h2m3 0h.5m3.5 0h2M117 234.8h2m1.5 0h2.5m2 0h2M117.5 235.3h9.5M118.5 235.8h2.5m1.5 0h4.5M123.5 236.3h3.5" stroke="#f69a03" stroke-width="0.5" stroke-opacity="1" fill="none"/>
<path d="M123.5 232.3h2M122 232.8h4M119.5 233.3h6.5M118.5 233.8h7.5M118.5 234.3h3m.5 0h3.5M119 234.8h1.5m2.5 0h2" stroke="#ff4100" stroke-width="0.5" stroke-opacity="1" fill="none"/><path d="M104 210.6h.5M105.5 211.6h.5M133 212.6h.5M107.5 213.6h.5m30.5 0h.5M155 214.6h.5m4.5 0h.5M112 215.1h.5m26 0h.5M126 217.1h.5m9.5 0h.5m8.5 0h.5m7.5 0h.5M111.5 217.6h.5m37.5 0h.5M135 218.1h.5M141 218.6h.5M125.5 219.1h1m33 0h.5M127.5 219.6h.5m.5 0h.5M111 220.6h.5m5 0h.5m3 0h.5m13.5 0h.5m8.5 0h.5M131.5 221.1h.5m22 0h.5M103 221.6h.5m35.5 0h.5m17 0h.5M102 222.1h.5M131 222.6h.5M127 223.1h.5m36 0h.5M117 224.6h.5m25.5 0h.5m3.5 0h.5m7.5 0h.5M104.5 225.1h.5" stroke="#2526fd" stroke-width="0.5" stroke-opacity="0.8" fill="none"/>
<g opacity="0.6"><path d="M97,273.6h10v1h-10z" fill="#3040ff"/><path d="M107,273.6h12v1h-12z" fill="#20d0a0"/><path d="M119,273.6h14v1h-14z" fill="#ff6020"/><path d="M133,273.6h14v1h-14z" fill="#40d060"/><path d="M147,273.6h13v1h-13z" fill="#4060ff"/></g>
<line x1="74.7" y1="225.9" x2="177.3" y2="225.9" stroke="#808080" stroke-width="1.4"/>
<line x1="177.3" y1="225.9" x2="177.3" y2="274.8" stroke="#c4c4c4" stroke-width="0.9"/>
<path d="M74.7,225.9 V172.5 H177.3 V225.9" fill="none" stroke="#2a2a2a" stroke-width="1.5"/>
<line x1="74.7" y1="172.5" x2="74.7" y2="274.8" stroke="#333" stroke-width="1.2"/>
<line x1="74.7" y1="274.8" x2="177.3" y2="274.8" stroke="#333" stroke-width="1.2"/>
<line x1="71.9" y1="274.8" x2="74.7" y2="274.8" stroke="#333" stroke-width="1.1"/>
<line x1="73.10000000000001" y1="270.5" x2="74.7" y2="270.5" stroke="#555" stroke-width="0.7"/>
<line x1="73.10000000000001" y1="268.0" x2="74.7" y2="268.0" stroke="#555" stroke-width="0.7"/>
<line x1="73.10000000000001" y1="266.3" x2="74.7" y2="266.3" stroke="#555" stroke-width="0.7"/>
<line x1="73.10000000000001" y1="264.9" x2="74.7" y2="264.9" stroke="#555" stroke-width="0.7"/>
<line x1="73.10000000000001" y1="263.7" x2="74.7" y2="263.7" stroke="#555" stroke-width="0.7"/>
<line x1="73.10000000000001" y1="262.7" x2="74.7" y2="262.7" stroke="#555" stroke-width="0.7"/>
<line x1="73.10000000000001" y1="262.0" x2="74.7" y2="262.0" stroke="#555" stroke-width="0.7"/>
<line x1="73.10000000000001" y1="261.3" x2="74.7" y2="261.3" stroke="#555" stroke-width="0.7"/>
<text x="0" y="0" font-size="5.2" text-anchor="middle" fill="#555" transform="translate(66.5 277.4) rotate(-38)">10<tspan dy="-2.4" font-size="3.8">0</tspan></text>
<line x1="71.9" y1="260.6" x2="74.7" y2="260.6" stroke="#333" stroke-width="1.1"/>
<line x1="73.10000000000001" y1="256.3" x2="74.7" y2="256.3" stroke="#555" stroke-width="0.7"/>
<line x1="73.10000000000001" y1="253.8" x2="74.7" y2="253.8" stroke="#555" stroke-width="0.7"/>
<line x1="73.10000000000001" y1="252.1" x2="74.7" y2="252.1" stroke="#555" stroke-width="0.7"/>
<line x1="73.10000000000001" y1="250.7" x2="74.7" y2="250.7" stroke="#555" stroke-width="0.7"/>
<line x1="73.10000000000001" y1="249.5" x2="74.7" y2="249.5" stroke="#555" stroke-width="0.7"/>
<line x1="73.10000000000001" y1="248.5" x2="74.7" y2="248.5" stroke="#555" stroke-width="0.7"/>
<line x1="73.10000000000001" y1="247.8" x2="74.7" y2="247.8" stroke="#555" stroke-width="0.7"/>
<line x1="73.10000000000001" y1="247.1" x2="74.7" y2="247.1" stroke="#555" stroke-width="0.7"/>
<text x="0" y="0" font-size="5.2" text-anchor="middle" fill="#555" transform="translate(66.5 263.2) rotate(-38)">10<tspan dy="-2.4" font-size="3.8">1</tspan></text>
<line x1="71.9" y1="246.4" x2="74.7" y2="246.4" stroke="#333" stroke-width="1.1"/>
<line x1="73.10000000000001" y1="242.1" x2="74.7" y2="242.1" stroke="#555" stroke-width="0.7"/>
<line x1="73.10000000000001" y1="239.6" x2="74.7" y2="239.6" stroke="#555" stroke-width="0.7"/>
<line x1="73.10000000000001" y1="237.9" x2="74.7" y2="237.9" stroke="#555" stroke-width="0.7"/>
<line x1="73.10000000000001" y1="236.5" x2="74.7" y2="236.5" stroke="#555" stroke-width="0.7"/>
<line x1="73.10000000000001" y1="235.3" x2="74.7" y2="235.3" stroke="#555" stroke-width="0.7"/>
<line x1="73.10000000000001" y1="234.3" x2="74.7" y2="234.3" stroke="#555" stroke-width="0.7"/>
<line x1="73.10000000000001" y1="233.6" x2="74.7" y2="233.6" stroke="#555" stroke-width="0.7"/>
<line x1="73.10000000000001" y1="232.9" x2="74.7" y2="232.9" stroke="#555" stroke-width="0.7"/>
<text x="0" y="0" font-size="5.2" text-anchor="middle" fill="#555" transform="translate(66.5 249.0) rotate(-38)">10<tspan dy="-2.4" font-size="3.8">2</tspan></text>
<line x1="71.9" y1="232.2" x2="74.7" y2="232.2" stroke="#333" stroke-width="1.1"/>
<line x1="73.10000000000001" y1="227.9" x2="74.7" y2="227.9" stroke="#555" stroke-width="0.7"/>
<line x1="73.10000000000001" y1="225.4" x2="74.7" y2="225.4" stroke="#555" stroke-width="0.7"/>
<line x1="73.10000000000001" y1="223.7" x2="74.7" y2="223.7" stroke="#555" stroke-width="0.7"/>
<line x1="73.10000000000001" y1="222.3" x2="74.7" y2="222.3" stroke="#555" stroke-width="0.7"/>
<line x1="73.10000000000001" y1="221.1" x2="74.7" y2="221.1" stroke="#555" stroke-width="0.7"/>
<line x1="73.10000000000001" y1="220.1" x2="74.7" y2="220.1" stroke="#555" stroke-width="0.7"/>
<line x1="73.10000000000001" y1="219.4" x2="74.7" y2="219.4" stroke="#555" stroke-width="0.7"/>
<line x1="73.10000000000001" y1="218.7" x2="74.7" y2="218.7" stroke="#555" stroke-width="0.7"/>
<text x="0" y="0" font-size="5.2" text-anchor="middle" fill="#555" transform="translate(66.5 234.8) rotate(-38)">10<tspan dy="-2.4" font-size="3.8">3</tspan></text>
<line x1="71.9" y1="218.0" x2="74.7" y2="218.0" stroke="#333" stroke-width="1.1"/>
<line x1="73.10000000000001" y1="213.7" x2="74.7" y2="213.7" stroke="#555" stroke-width="0.7"/>
<line x1="73.10000000000001" y1="211.2" x2="74.7" y2="211.2" stroke="#555" stroke-width="0.7"/>
<line x1="73.10000000000001" y1="209.5" x2="74.7" y2="209.5" stroke="#555" stroke-width="0.7"/>
<line x1="73.10000000000001" y1="208.1" x2="74.7" y2="208.1" stroke="#555" stroke-width="0.7"/>
<line x1="73.10000000000001" y1="206.9" x2="74.7" y2="206.9" stroke="#555" stroke-width="0.7"/>
<line x1="73.10000000000001" y1="205.9" x2="74.7" y2="205.9" stroke="#555" stroke-width="0.7"/>
<line x1="73.10000000000001" y1="205.2" x2="74.7" y2="205.2" stroke="#555" stroke-width="0.7"/>
<line x1="73.10000000000001" y1="204.5" x2="74.7" y2="204.5" stroke="#555" stroke-width="0.7"/>
<text x="0" y="0" font-size="5.2" text-anchor="middle" fill="#555" transform="translate(66.5 220.6) rotate(-38)">10<tspan dy="-2.4" font-size="3.8">4</tspan></text>
<line x1="71.9" y1="203.8" x2="74.7" y2="203.8" stroke="#333" stroke-width="1.1"/>
<line x1="73.10000000000001" y1="199.5" x2="74.7" y2="199.5" stroke="#555" stroke-width="0.7"/>
<line x1="73.10000000000001" y1="197.0" x2="74.7" y2="197.0" stroke="#555" stroke-width="0.7"/>
<line x1="73.10000000000001" y1="195.3" x2="74.7" y2="195.3" stroke="#555" stroke-width="0.7"/>
<line x1="73.10000000000001" y1="193.9" x2="74.7" y2="193.9" stroke="#555" stroke-width="0.7"/>
<line x1="73.10000000000001" y1="192.7" x2="74.7" y2="192.7" stroke="#555" stroke-width="0.7"/>
<line x1="73.10000000000001" y1="191.7" x2="74.7" y2="191.7" stroke="#555" stroke-width="0.7"/>
<line x1="73.10000000000001" y1="191.0" x2="74.7" y2="191.0" stroke="#555" stroke-width="0.7"/>
<line x1="73.10000000000001" y1="190.3" x2="74.7" y2="190.3" stroke="#555" stroke-width="0.7"/>
<text x="0" y="0" font-size="5.2" text-anchor="middle" fill="#555" transform="translate(66.5 206.4) rotate(-38)">10<tspan dy="-2.4" font-size="3.8">5</tspan></text>
<line x1="71.9" y1="189.6" x2="74.7" y2="189.6" stroke="#333" stroke-width="1.1"/>
<line x1="73.10000000000001" y1="185.3" x2="74.7" y2="185.3" stroke="#555" stroke-width="0.7"/>
<line x1="73.10000000000001" y1="182.8" x2="74.7" y2="182.8" stroke="#555" stroke-width="0.7"/>
<line x1="73.10000000000001" y1="181.1" x2="74.7" y2="181.1" stroke="#555" stroke-width="0.7"/>
<line x1="73.10000000000001" y1="179.7" x2="74.7" y2="179.7" stroke="#555" stroke-width="0.7"/>
<line x1="73.10000000000001" y1="178.5" x2="74.7" y2="178.5" stroke="#555" stroke-width="0.7"/>
<line x1="73.10000000000001" y1="177.5" x2="74.7" y2="177.5" stroke="#555" stroke-width="0.7"/>
<line x1="73.10000000000001" y1="176.8" x2="74.7" y2="176.8" stroke="#555" stroke-width="0.7"/>
<line x1="73.10000000000001" y1="176.1" x2="74.7" y2="176.1" stroke="#555" stroke-width="0.7"/>
<text x="0" y="0" font-size="5.2" text-anchor="middle" fill="#555" transform="translate(66.5 192.2) rotate(-38)">10<tspan dy="-2.4" font-size="3.8">6</tspan></text>
<line x1="71.9" y1="175.4" x2="74.7" y2="175.4" stroke="#333" stroke-width="1.1"/>
<text x="0" y="0" font-size="5.2" text-anchor="middle" fill="#555" transform="translate(66.5 178.0) rotate(-38)">10<tspan dy="-2.4" font-size="3.8">7</tspan></text>
<line x1="74.7" y1="274.8" x2="74.7" y2="277.6" stroke="#333" stroke-width="1"/>
<line x1="80.8" y1="274.8" x2="80.8" y2="276.3" stroke="#666" stroke-width="0.6"/>
<line x1="86.9" y1="274.8" x2="86.9" y2="276.3" stroke="#666" stroke-width="0.6"/>
<line x1="93.0" y1="274.8" x2="93.0" y2="276.3" stroke="#666" stroke-width="0.6"/>
<line x1="99.2" y1="274.8" x2="99.2" y2="276.3" stroke="#666" stroke-width="0.6"/>
<text x="75.5" y="283.1" font-size="5" text-anchor="middle" fill="#444">0</text>
<line x1="105.3" y1="274.8" x2="105.3" y2="277.6" stroke="#333" stroke-width="1"/>
<line x1="111.4" y1="274.8" x2="111.4" y2="276.3" stroke="#666" stroke-width="0.6"/>
<line x1="117.5" y1="274.8" x2="117.5" y2="276.3" stroke="#666" stroke-width="0.6"/>
<line x1="123.6" y1="274.8" x2="123.6" y2="276.3" stroke="#666" stroke-width="0.6"/>
<line x1="129.7" y1="274.8" x2="129.7" y2="276.3" stroke="#666" stroke-width="0.6"/>
<text x="106.1" y="283.1" font-size="5" text-anchor="middle" fill="#444">5.0M</text>
<line x1="135.8" y1="274.8" x2="135.8" y2="277.6" stroke="#333" stroke-width="1"/>
<line x1="142.0" y1="274.8" x2="142.0" y2="276.3" stroke="#666" stroke-width="0.6"/>
<line x1="148.1" y1="274.8" x2="148.1" y2="276.3" stroke="#666" stroke-width="0.6"/>
<line x1="154.2" y1="274.8" x2="154.2" y2="276.3" stroke="#666" stroke-width="0.6"/>
<line x1="160.3" y1="274.8" x2="160.3" y2="276.3" stroke="#666" stroke-width="0.6"/>
<text x="136.6" y="283.1" font-size="5" text-anchor="middle" fill="#444">10M</text>
<line x1="166.4" y1="274.8" x2="166.4" y2="277.6" stroke="#333" stroke-width="1"/>
<line x1="172.5" y1="274.8" x2="172.5" y2="276.3" stroke="#666" stroke-width="0.6"/>
<text x="167.2" y="283.1" font-size="5" text-anchor="middle" fill="#444">15M</text>
<text x="131" y="200.5" font-size="10.8" text-anchor="middle" font-weight="bold" font-style="normal" fill="#1a1a1a" >0.23%</text>
<path d="M291 205.6h.5M277.5 206.1h.5M286.5 207.6h.5M277 208.1h.5m1.5 0h.5M278.5 208.6h.5m2.5 0h.5m1 0h.5m.5 0h1m.5 0h.5m.5 0h.5M246.5 209.1h.5m20.5 0h.5m16 0h.5m1.5 0h.5m1 0h.5M269 209.6h.5m6.5 0h.5m11.5 0h.5M236 210.1h.5m10 0h.5m1 0h.5m1.5 0h.5m1 0h.5m7.5 0h.5m9.5 0h.5m1 0h1.5m.5 0h.5m15.5 0h1.5M249 210.6h.5m2 0h.5m8.5 0h.5m3.5 0h.5m1 0h.5M240 211.1h.5m17 0h.5m3.5 0h.5m2 0h.5M226 211.6h.5m1 0h.5m11 0h.5m1.5 0h.5m13 0h.5M237 212.1h.5m1.5 0h.5m4 0h.5m1.5 0h1M235.5 212.6h.5m1 0h1m1.5 0h.5m2 0h.5M228 213.1h.5m3.5 0h.5m2 0h.5m1 0h.5m4.5 0h.5M226 214.1h.5m3.5 0h.5m3 0h.5M214 214.6h.5m.5 0h.5m6 0h.5m2 0h.5m2.5 0h.5m2 0h.5M223.5 215.1h.5M220.5 215.6h.5M216.5 216.6h.5m1 0h1M217 217.1h.5M214.5 217.6h.5m.5 0h.5m.5 0h.5M214 219.1h.5m75.5 0h.5m1 0h.5M291.5 219.6h.5M286 220.6h.5m1 0h.5M284.5 221.1h.5m1 0h.5M283 221.6h.5M278.5 222.1h.5M278.5 222.6h.5m3.5 0h.5m4 0h.5M277.5 223.1h.5m9 0h.5M273.5 224.1h1m2 0h.5M270 224.6h.5m.5 0h1M268.5 225.1h.5m1 0h.5m1.5 0h.5M264 225.6h.5m7 0h.5M261 226.6h.5m2.5 0h.5m6 0h.5m3.5 0h.5M214 227.1h.5m43 0h.5m2.5 0h.5m10 0h.5M255.5 227.6h.5m3 0h1m10.5 0h.5M256 228.1h.5m4.5 0h.5M215 228.6h.5m.5 0h.5m33.5 0h1m3 0h.5M248 229.1h1m2 0h.5m.5 0h.5m7 0h.5M216.5 229.6h1m.5 0h.5m20 0h.5m6.5 0h1.5m6 0h.5M216 230.1h.5m27 0h.5M217.5 230.6h.5m2.5 0h1m19.5 0h.5m3.5 0h.5m9 0h.5M218.5 231.1h.5m2 0h.5m22 0h.5M217.5 231.6h.5m9.5 0h1m5 0h.5m9.5 0h.5M222 232.1h.5m1 0h.5m11.5 0h.5m1 0h1m2.5 0h.5m9 0h.5M218.5 232.6h.5m5 0h.5m8.5 0h1m2.5 0h.5m1 0h.5m1 0h.5m2.5 0h.5m10 0h.5m2.5 0h.5M223.5 233.1h.5m1 0h.5m3.5 0h.5m1.5 0h.5m9.5 0h1m2.5 0h.5m9 0h.5M230.5 233.6h.5m5.5 0h1m1.5 0h.5m4 0h.5m3 0h.5m5.5 0h1m7.5 0h.5M231.5 234.1h.5m3.5 0h.5m7 0h.5M218.5 234.6h.5m6.5 0h.5M235 235.1h.5m9.5 0h.5m.5 0h.5M224.5 235.6h.5m7.5 0h.5m10 0h.5M249.5 236.1h.5M230 236.6h.5m4 0h.5m7 0h.5m4 0h.5M253 237.6h.5M223.5 238.1h.5m12 0h.5M215.5 238.6h.5m21.5 0h.5M233 239.1h.5m12 0h.5m4.5 0h.5M240 239.6h.5M223 240.1h.5M254 240.6h.5m7.5 0h.5M227 241.1h.5m28 0h.5m8 0h.5M224.5 242.1h.5M240 243.1h.5m5 0h.5m11.5 0h.5M229.5 244.6h.5M254.5 246.1h.5" stroke="#2526fd" stroke-width="0.5" stroke-opacity="0.9" fill="none"/>
<path d="M278.5 209.1h.5m.5 0h.5M278 209.6h.5m1.5 0h.5M276.5 210.1h.5m1 0h.5m.5 0h1m1.5 0h1m.5 0h.5m1.5 0h.5M270.5 210.6h.5m2 0h.5m1.5 0h.5m1 0h1.5m1 0h.5m.5 0h.5m.5 0h1.5m1.5 0h.5m3.5 0h.5m1 0h.5M267 211.1h1.5m3 0h.5m1.5 0h.5m2 0h1m2 0h1m.5 0h.5m2 0h1m1.5 0h1m1.5 0h.5m1 0h.5m.5 0h1M259 211.6h.5m.5 0h1m5 0h.5m.5 0h.5m1.5 0h1m.5 0h.5m1.5 0h1m1 0h.5m4.5 0h1m1 0h1m.5 0h.5m.5 0h1m1 0h.5m2.5 0h.5m1 0h1M248.5 212.1h1.5m2 0h.5m1.5 0h.5m6 0h1m.5 0h1m.5 0h.5m1.5 0h.5m.5 0h.5m.5 0h.5m3 0h.5m15.5 0h.5m.5 0h.5m2 0h.5m.5 0h.5M244 212.6h.5m2 0h.5m1.5 0h.5m.5 0h.5m.5 0h.5m1.5 0h.5m.5 0h.5m2 0h.5m.5 0h.5m1.5 0h.5m4.5 0h1m21.5 0h.5m1.5 0h1.5m.5 0h.5M243 213.1h.5m.5 0h1m5 0h.5m1.5 0h1.5m.5 0h1m.5 0h.5m34 0h2M236.5 213.6h.5m4 0h.5m3.5 0h.5m.5 0h2M238.5 214.1h.5m.5 0h1m3 0h.5m46.5 0h.5M235 214.6h.5m.5 0h1m.5 0h1m.5 0h.5m51.5 0h1M232.5 215.1h.5m.5 0h.5m56.5 0h.5m.5 0h.5M228.5 215.6h.5m1.5 0h1m59.5 0h.5M222.5 216.1h.5m2.5 0h.5m1 0h.5m62.5 0h.5M222 216.6h1m1 0h.5m1 0h.5m.5 0h1m62.5 0h.5m.5 0h1M218.5 217.1h.5m3 0h.5m.5 0h.5m64 0h.5m1 0h1.5M219 217.6h.5m3 0h.5m66 0h.5M218 218.1h.5m.5 0h.5m66.5 0h.5m.5 0h.5m1.5 0h.5m.5 0h.5m1 0h.5M218.5 218.6h2m64.5 0h.5m.5 0h.5m2.5 0h.5m1 0h.5M217 219.1h1.5m66 0h.5m1 0h1.5m.5 0h.5m.5 0h.5M217.5 219.6h.5m64.5 0h.5m1 0h1m2 0h.5m.5 0h.5M213.5 220.1h.5m1 0h1m62.5 0h.5m.5 0h.5m3.5 0h.5m.5 0h.5m.5 0h.5m1.5 0h.5M214.5 220.6h.5m.5 0h1m63.5 0h1m2 0h.5m1 0h.5M215 221.1h1m61 0h1m1.5 0h.5m.5 0h.5m.5 0h1M277 221.6h.5m2.5 0h.5M273 222.1h.5m1 0h1.5m.5 0h1M271.5 222.6h.5m2 0h.5m.5 0h.5m.5 0h1M268.5 223.1h1m1 0h.5m1 0h.5M269 223.6h.5m.5 0h.5m4.5 0h1M266 224.1h.5m.5 0h.5m4 0h.5M213.5 224.6h.5m.5 0h.5m.5 0h.5m45.5 0h.5m1.5 0h.5m2 0h1m.5 0h.5M214 225.1h.5m1 0h.5m43 0h.5m4 0h.5m2 0h2M214.5 225.6h.5m1.5 0h.5m40.5 0h.5m.5 0h1.5m1.5 0h.5m1 0h.5M215 226.1h1m38.5 0h1m1 0h.5m.5 0h.5m1.5 0h.5M214.5 226.6h.5m.5 0h.5m.5 0h1m.5 0h.5m29.5 0h.5m.5 0h.5m.5 0h1m1 0h.5m1.5 0h.5m1 0h.5m.5 0h.5m2 0h.5m1 0h.5M216 227.1h1.5m.5 0h.5m.5 0h.5m26.5 0h1m.5 0h1m1 0h.5m.5 0h1m.5 0h.5m2 0h.5m.5 0h.5m.5 0h.5M215.5 227.6h.5m2 0h.5m1.5 0h1m25 0h1m4.5 0h.5M216 228.1h.5m2 0h1.5m3 0h.5m11 0h.5m1 0h.5m1 0h.5m1 0h.5m4.5 0h1m3 0h.5m1.5 0h.5M218 228.6h.5m1 0h1.5m2 0h.5m.5 0h1.5m.5 0h.5m1 0h.5m5.5 0h.5m2 0h.5m2 0h.5m1 0h2m1 0h1m.5 0h.5m1 0h.5M219.5 229.1h.5m.5 0h.5m2 0h.5m3.5 0h.5m.5 0h.5m3 0h.5m.5 0h1.5m.5 0h1.5m1 0h.5m2 0h1m1 0h1m3 0h.5M219.5 229.6h.5m3.5 0h.5m.5 0h.5m1 0h.5m2 0h.5m1 0h.5m1 0h1m1 0h.5m.5 0h1m1 0h.5m.5 0h.5m3.5 0h1M222.5 230.1h1.5m1 0h.5m.5 0h1m.5 0h1m.5 0h1m2 0h.5m3.5 0h.5m.5 0h.5M224 230.6h1m4 0h1m2 0h1.5m2 0h.5m.5 0h.5M227.5 231.1h.5m.5 0h.5m1.5 0h1m1.5 0h1m1 0h.5m1.5 0h.5M223.5 231.6h.5m1 0h.5m.5 0h.5m2.5 0h1m.5 0h.5m1.5 0h.5m3.5 0h1m3.5 0h1M224.5 232.1h2m4.5 0h.5m10 0h1M225 232.6h.5m5.5 0h.5m10 0h.5" stroke="#1f23fa" stroke-width="0.5" stroke-opacity="1" fill="none"/>
<path d="M275 211.6h.5m.5 0h2.5M272.5 212.1h.5m1 0h.5m.5 0h1m.5 0h3.5m.5 0h1m1.5 0h1m.5 0h1M261 212.6h.5m.5 0h.5m.5 0h.5m1.5 0h.5m1 0h.5m1 0h.5m1.5 0h.5m.5 0h1m1 0h1m.5 0h.5m.5 0h2.5m.5 0h.5m1 0h3.5m.5 0h2M251.5 213.1h.5m5 0h3m.5 0h.5m.5 0h.5m.5 0h1m2 0h1m12.5 0h1.5m.5 0h.5m1 0h.5m1 0h.5m.5 0h.5m.5 0h1m.5 0h.5M248.5 213.6h.5m1 0h2.5m1.5 0h.5m.5 0h1m1 0h1m.5 0h.5m.5 0h.5m1 0h.5m23.5 0h1m1.5 0h1.5m.5 0h1M244.5 214.1h1.5m1 0h2m.5 0h1.5m.5 0h.5m.5 0h1m1 0h1.5m29.5 0h1m.5 0h2m1 0h.5M240.5 214.6h.5m.5 0h.5m1 0h1m1 0h1.5m.5 0h1m38 0h1.5m.5 0h2.5M235.5 215.1h2m1 0h1m.5 0h1.5m.5 0h1.5m42.5 0h.5m.5 0h1.5m.5 0h1M232 215.6h.5m1 0h.5m.5 0h.5m.5 0h.5m50.5 0h1m.5 0h.5m.5 0h1M230 216.1h1m.5 0h1.5m.5 0h.5m52 0h2m1 0h1M229 216.6h.5m.5 0h1.5m54.5 0h.5m.5 0h1.5m.5 0h.5M224.5 217.1h2m.5 0h.5m.5 0h1m56 0h.5M223 217.6h1m1 0h.5m58.5 0h2M222 218.1h.5m.5 0h.5m59.5 0h.5m.5 0h.5m.5 0h.5M220.5 218.6h2m.5 0h.5m56.5 0h1.5m1.5 0h1M220 219.1h.5m59.5 0h1m.5 0h1.5M220 219.6h1m56.5 0h1.5m1 0h2.5M217.5 220.1h2m56.5 0h.5m1 0h.5m2.5 0h1.5M216.5 220.6h.5m.5 0h1.5m56 0h1m.5 0h1M213.5 221.1h.5m2 0h.5m.5 0h1m.5 0h.5m54 0h.5m.5 0h.5m.5 0h1.5M213.5 221.6h1.5m1 0h2m.5 0h.5m52 0h1.5m.5 0h2.5M213.5 222.1h1m.5 0h1m.5 0h2.5m49 0h4M213.5 222.6h1.5m2 0h1m48.5 0h.5m1 0h.5m1.5 0h.5m.5 0h.5M213.5 223.1h.5m.5 0h1.5m.5 0h2.5m45 0h.5m.5 0h3.5M213.5 223.6h.5m.5 0h4.5m44 0h2.5m.5 0h.5m.5 0h.5M214 224.1h1m2 0h1m.5 0h.5m39 0h1.5m1 0h2m.5 0h1M216 224.6h.5m1.5 0h1m37.5 0h.5m2 0h2M217 225.1h2.5m32.5 0h.5m1 0h1m.5 0h.5m1 0h.5M217.5 225.6h.5m1 0h.5m28.5 0h.5m.5 0h.5m.5 0h.5m.5 0h1m.5 0h1.5m.5 0h1.5M217.5 226.1h1.5m.5 0h1m25.5 0h1m.5 0h1m1.5 0h1M219 226.6h1m.5 0h.5m23.5 0h.5m.5 0h.5m.5 0h1M220.5 227.1h1m.5 0h1.5m1 0h2m8.5 0h.5m.5 0h1.5m1 0h.5m.5 0h3m1.5 0h.5m.5 0h.5M221 227.6h2m1 0h.5m1.5 0h1m.5 0h.5m.5 0h2m2.5 0h1.5m2.5 0h.5m.5 0h3m.5 0h1.5m.5 0h.5m.5 0h.5M224 228.1h1m.5 0h1.5m.5 0h.5m1 0h1.5m.5 0h.5m.5 0h.5m.5 0h1m6 0h.5m.5 0h.5m.5 0h.5M225.5 228.6h.5m3 0h1m1.5 0h.5m.5 0h.5" stroke="#1a21f8" stroke-width="0.5" stroke-opacity="1" fill="none"/>
<path d="M267.5 213.1h.5m.5 0h3m1 0h3.5m.5 0h1.5m.5 0h.5m4 0h.5M261.5 213.6h.5m.5 0h1.5m.5 0h1m1.5 0h6m.5 0h.5m1 0h.5m.5 0h1m.5 0h1m.5 0h5.5M256.5 214.1h2m.5 0h1m.5 0h2m1 0h3.5m9.5 0h2.5m.5 0h5.5M248 214.6h1m.5 0h6m.5 0h5m17 0h5m.5 0h2.5M244.5 215.1h1m2.5 0h3.5m3.5 0h1.5m21.5 0h1.5m3.5 0h3M236.5 215.6h1.5m.5 0h8m31.5 0h1m4 0h3M234.5 216.1h2m.5 0h3.5m.5 0h2.5m34.5 0h1m3 0h4M231.5 216.6h.5m.5 0h.5m1 0h1.5m43 0h1m1 0h5M230 217.1h.5m.5 0h1m46 0h1m1 0h5M227 217.6h3.5m47.5 0h1m.5 0h1.5m.5 0h2M224 218.1h4m49.5 0h3m.5 0h.5M223.5 218.6h2m51.5 0h.5m.5 0h2M223 219.1h.5m.5 0h.5m51 0h.5m.5 0h2M221 219.6h2.5m51 0h2.5M220 220.1h1.5m51 0h3.5M219.5 220.6h.5m.5 0h.5m50 0h3m.5 0h.5M219 221.1h1.5m47.5 0h1m.5 0h1.5M219 221.6h1.5m45.5 0h1m.5 0h.5m.5 0h.5m.5 0h1.5M220 222.1h.5m44.5 0h1.5m.5 0h.5M219 222.6h1.5m42.5 0h1.5m1 0h1M219.5 223.1h1.5m37.5 0h1m.5 0h4M221 223.6h.5m35.5 0h4.5m1 0h.5M219 224.1h2.5m31 0h2m.5 0h2.5M219 224.6h2.5m26.5 0h4m.5 0h1m.5 0h1.5m.5 0h.5M219.5 225.1h2.5m24.5 0h5.5M219.5 225.6h6m20 0h2M220.5 226.1h6.5m12.5 0h2m.5 0h3m.5 0h.5M222 226.6h2m.5 0h.5m1 0h4m4 0h4m.5 0h1.5m1 0h.5m.5 0h.5m.5 0h1.5M226.5 227.1h.5m.5 0h4m.5 0h2.5M230.5 227.6h1m.5 0h.5" stroke="#141ef5" stroke-width="0.5" stroke-opacity="1" fill="none"/>
<path d="M267 214.1h9.5M261 214.6h17M251.5 215.1h3.5m1.5 0h7.5m2 0h1.5m3.5 0h7m1.5 0h3.5M246.5 215.6h11.5m14 0h6m1 0h4M240.5 216.1h.5m2.5 0h8m3 0h2.5m16 0h5m1 0h2.5M235.5 216.6h9m29 0h4.5m1.5 0h1M233 217.1h4m36.5 0h4.5M230.5 217.6h3.5m39.5 0h4.5M228 218.1h3m42.5 0h4M225.5 218.6h3m44.5 0h4M224.5 219.1h2.5m44.5 0h4M223.5 219.6h2m45 0h4M221.5 220.1h3m43 0h4.5M221 220.6h2.5m42.5 0h5M220.5 221.1h1.5m43 0h2.5M220.5 221.6h1m42 0h2.5M220.5 222.1h1.5m38 0h4.5M220.5 222.6h1.5m35.5 0h5.5M221 223.1h1.5m30.5 0h5.5M221.5 223.6h1.5m26 0h1.5m.5 0h6M221.5 224.1h2m24 0h5m2 0h.5M221.5 224.6h4m20.5 0h2M222 225.1h4.5m18 0h2M225.5 225.6h2.5m10 0h7M227 226.1h12.5M230 226.6h3.5" stroke="#0a4bfa" stroke-width="0.5" stroke-opacity="1" fill="none"/>
<path d="M264 215.1h2m1.5 0h3.5M258 215.6h14M251.5 216.1h3m2.5 0h16M244.5 216.6h14m7 0h8M237 217.1h8m1 0h2m1.5 0h2m1.5 0h4.5m8.5 0h2m1.5 0h4M234 217.6h3.5m17.5 0h2m9 0h2m1.5 0h4M231 218.1h4m31 0h2.5m1 0h4M228.5 218.6h3m34.5 0h7M227 219.1h2m37 0h5.5M225.5 219.6h2m38 0h5M224.5 220.1h1.5m38.5 0h3M223.5 220.6h1.5m38 0h3M222 221.1h2.5m36 0h4.5M221.5 221.6h2.5m33.5 0h6M222 222.1h1.5m29.5 0h7M222 222.6h1.5m28.5 0h5.5M222.5 223.1h1.5m24.5 0h4.5M223 223.6h1.5m22.5 0h2m1.5 0h.5M223.5 224.1h2.5m19.5 0h2M225.5 224.6h1.5m17 0h2M226.5 225.1h2.5m8.5 0h7M228 225.6h10" stroke="#007efc" stroke-width="0.5" stroke-opacity="1" fill="none"/>
<path d="M258.5 216.6h7M245 217.1h1m2 0h1.5m2 0h1.5m4.5 0h8.5m2 0h1.5M237.5 217.6h17.5m2 0h9m2 0h1.5M235 218.1h3m3 0h.5m6.5 0h11m2 0h5m2.5 0h1M231.5 218.6h3.5m17 0h6.5m3 0h4.5M229 219.1h2.5m21.5 0h1m1 0h3.5m3 0h4.5M227.5 219.6h1.5m27 0h3m2 0h4.5M226 220.1h2.5m27 0h9M225 220.6h2m26 0h10M224.5 221.1h1.5m26.5 0h8M224 221.6h1.5m26.5 0h5.5M223.5 222.1h1.5m26 0h2M223.5 222.6h1.5m23 0h4M224 223.1h1.5m21 0h2M224.5 223.6h2m18.5 0h2M226 224.1h1.5m16.5 0h1.5M227 224.6h3.5m7.5 0h6M229 225.1h8.5" stroke="#00bae1" stroke-width="0.5" stroke-opacity="1" fill="none"/>
<path d="M238 218.1h3m.5 0h6.5m11 0h2M235 218.6h3m2 0h3.5m2 0h6.5m6.5 0h3M231.5 219.1h2.5m14 0h5m1 0h1m3.5 0h3M229 219.6h2.5m19.5 0h5m3 0h2M228.5 220.1h1m22 0h4M227 220.6h2m22.5 0h1.5M226 221.1h2.5m22.5 0h1.5M225.5 221.6h2m21.5 0h3M225 222.1h2m20 0h4M225 222.6h2m18.5 0h2.5M225.5 223.1h2m17 0h2M226.5 223.6h2.5m14 0h2M227.5 224.1h3.5m7.5 0h5.5M230.5 224.6h7.5" stroke="#17d67d" stroke-width="0.5" stroke-opacity="1" fill="none"/>
<path d="M238 218.6h2m3.5 0h2M234 219.1h4m1.5 0h8.5M231.5 219.6h2m11 0h6.5M229.5 220.1h2m13.5 0h6.5M229 220.6h1m15.5 0h1.5m.5 0h4M228.5 221.1h1m15.5 0h6M227.5 221.6h2m15 0h4.5M227 222.1h2.5m14.5 0h3M227 222.6h2.5m14 0h2M227.5 223.1h2.5m12 0h2.5M229 223.6h2.5m7 0h4.5M231 224.1h7.5" stroke="#5be42f" stroke-width="0.5" stroke-opacity="1" fill="none"/>
<path d="M238 219.1h1.5M233.5 219.6h11M231.5 220.1h2m9 0h2.5M230 220.6h2m11 0h2.5m1.5 0h.5M229.5 221.1h1.5m12 0h2M229.5 221.6h1m12.5 0h1.5M229.5 222.1h1m12 0h1.5M229.5 222.6h1.5m10 0h2.5M230 223.1h2m6.5 0h3.5M231.5 223.6h7" stroke="#c8e913" stroke-width="0.5" stroke-opacity="1" fill="none"/>
<path d="M233.5 220.1h9M232 220.6h2m7 0h2M231 221.1h2m8.5 0h1.5M230.5 221.6h2m9 0h1.5M230.5 222.1h2m8 0h2M231 222.6h2m4.5 0h3.5M232 223.1h6.5" stroke="#f69a03" stroke-width="0.5" stroke-opacity="1" fill="none"/>
<path d="M234 220.6h7M233 221.1h8.5M232.5 221.6h9M232.5 222.1h8M233 222.6h4.5" stroke="#ff4100" stroke-width="0.5" stroke-opacity="1" fill="none"/>
<line x1="191.8" y1="225.9" x2="294.4" y2="225.9" stroke="#808080" stroke-width="1.4"/>
<line x1="294.4" y1="225.9" x2="294.4" y2="274.8" stroke="#c4c4c4" stroke-width="0.9"/>
<path d="M191.8,225.9 V172.5 H294.4 V225.9" fill="none" stroke="#2a2a2a" stroke-width="1.5"/>
<line x1="191.8" y1="172.5" x2="191.8" y2="274.8" stroke="#333" stroke-width="1.2"/>
<line x1="191.8" y1="274.8" x2="294.4" y2="274.8" stroke="#333" stroke-width="1.2"/>
<line x1="189.0" y1="274.8" x2="191.8" y2="274.8" stroke="#333" stroke-width="1.1"/>
<line x1="190.20000000000002" y1="270.5" x2="191.8" y2="270.5" stroke="#555" stroke-width="0.7"/>
<line x1="190.20000000000002" y1="268.0" x2="191.8" y2="268.0" stroke="#555" stroke-width="0.7"/>
<line x1="190.20000000000002" y1="266.3" x2="191.8" y2="266.3" stroke="#555" stroke-width="0.7"/>
<line x1="190.20000000000002" y1="264.9" x2="191.8" y2="264.9" stroke="#555" stroke-width="0.7"/>
<line x1="190.20000000000002" y1="263.7" x2="191.8" y2="263.7" stroke="#555" stroke-width="0.7"/>
<line x1="190.20000000000002" y1="262.7" x2="191.8" y2="262.7" stroke="#555" stroke-width="0.7"/>
<line x1="190.20000000000002" y1="262.0" x2="191.8" y2="262.0" stroke="#555" stroke-width="0.7"/>
<line x1="190.20000000000002" y1="261.3" x2="191.8" y2="261.3" stroke="#555" stroke-width="0.7"/>
<text x="0" y="0" font-size="5.2" text-anchor="middle" fill="#555" transform="translate(183.6 277.4) rotate(-38)">10<tspan dy="-2.4" font-size="3.8">0</tspan></text>
<line x1="189.0" y1="260.6" x2="191.8" y2="260.6" stroke="#333" stroke-width="1.1"/>
<line x1="190.20000000000002" y1="256.3" x2="191.8" y2="256.3" stroke="#555" stroke-width="0.7"/>
<line x1="190.20000000000002" y1="253.8" x2="191.8" y2="253.8" stroke="#555" stroke-width="0.7"/>
<line x1="190.20000000000002" y1="252.1" x2="191.8" y2="252.1" stroke="#555" stroke-width="0.7"/>
<line x1="190.20000000000002" y1="250.7" x2="191.8" y2="250.7" stroke="#555" stroke-width="0.7"/>
<line x1="190.20000000000002" y1="249.5" x2="191.8" y2="249.5" stroke="#555" stroke-width="0.7"/>
<line x1="190.20000000000002" y1="248.5" x2="191.8" y2="248.5" stroke="#555" stroke-width="0.7"/>
<line x1="190.20000000000002" y1="247.8" x2="191.8" y2="247.8" stroke="#555" stroke-width="0.7"/>
<line x1="190.20000000000002" y1="247.1" x2="191.8" y2="247.1" stroke="#555" stroke-width="0.7"/>
<text x="0" y="0" font-size="5.2" text-anchor="middle" fill="#555" transform="translate(183.6 263.2) rotate(-38)">10<tspan dy="-2.4" font-size="3.8">1</tspan></text>
<line x1="189.0" y1="246.4" x2="191.8" y2="246.4" stroke="#333" stroke-width="1.1"/>
<line x1="190.20000000000002" y1="242.1" x2="191.8" y2="242.1" stroke="#555" stroke-width="0.7"/>
<line x1="190.20000000000002" y1="239.6" x2="191.8" y2="239.6" stroke="#555" stroke-width="0.7"/>
<line x1="190.20000000000002" y1="237.9" x2="191.8" y2="237.9" stroke="#555" stroke-width="0.7"/>
<line x1="190.20000000000002" y1="236.5" x2="191.8" y2="236.5" stroke="#555" stroke-width="0.7"/>
<line x1="190.20000000000002" y1="235.3" x2="191.8" y2="235.3" stroke="#555" stroke-width="0.7"/>
<line x1="190.20000000000002" y1="234.3" x2="191.8" y2="234.3" stroke="#555" stroke-width="0.7"/>
<line x1="190.20000000000002" y1="233.6" x2="191.8" y2="233.6" stroke="#555" stroke-width="0.7"/>
<line x1="190.20000000000002" y1="232.9" x2="191.8" y2="232.9" stroke="#555" stroke-width="0.7"/>
<text x="0" y="0" font-size="5.2" text-anchor="middle" fill="#555" transform="translate(183.6 249.0) rotate(-38)">10<tspan dy="-2.4" font-size="3.8">2</tspan></text>
<line x1="189.0" y1="232.2" x2="191.8" y2="232.2" stroke="#333" stroke-width="1.1"/>
<line x1="190.20000000000002" y1="227.9" x2="191.8" y2="227.9" stroke="#555" stroke-width="0.7"/>
<line x1="190.20000000000002" y1="225.4" x2="191.8" y2="225.4" stroke="#555" stroke-width="0.7"/>
<line x1="190.20000000000002" y1="223.7" x2="191.8" y2="223.7" stroke="#555" stroke-width="0.7"/>
<line x1="190.20000000000002" y1="222.3" x2="191.8" y2="222.3" stroke="#555" stroke-width="0.7"/>
<line x1="190.20000000000002" y1="221.1" x2="191.8" y2="221.1" stroke="#555" stroke-width="0.7"/>
<line x1="190.20000000000002" y1="220.1" x2="191.8" y2="220.1" stroke="#555" stroke-width="0.7"/>
<line x1="190.20000000000002" y1="219.4" x2="191.8" y2="219.4" stroke="#555" stroke-width="0.7"/>
<line x1="190.20000000000002" y1="218.7" x2="191.8" y2="218.7" stroke="#555" stroke-width="0.7"/>
<text x="0" y="0" font-size="5.2" text-anchor="middle" fill="#555" transform="translate(183.6 234.8) rotate(-38)">10<tspan dy="-2.4" font-size="3.8">3</tspan></text>
<line x1="189.0" y1="218.0" x2="191.8" y2="218.0" stroke="#333" stroke-width="1.1"/>
<line x1="190.20000000000002" y1="213.7" x2="191.8" y2="213.7" stroke="#555" stroke-width="0.7"/>
<line x1="190.20000000000002" y1="211.2" x2="191.8" y2="211.2" stroke="#555" stroke-width="0.7"/>
<line x1="190.20000000000002" y1="209.5" x2="191.8" y2="209.5" stroke="#555" stroke-width="0.7"/>
<line x1="190.20000000000002" y1="208.1" x2="191.8" y2="208.1" stroke="#555" stroke-width="0.7"/>
<line x1="190.20000000000002" y1="206.9" x2="191.8" y2="206.9" stroke="#555" stroke-width="0.7"/>
<line x1="190.20000000000002" y1="205.9" x2="191.8" y2="205.9" stroke="#555" stroke-width="0.7"/>
<line x1="190.20000000000002" y1="205.2" x2="191.8" y2="205.2" stroke="#555" stroke-width="0.7"/>
<line x1="190.20000000000002" y1="204.5" x2="191.8" y2="204.5" stroke="#555" stroke-width="0.7"/>
<text x="0" y="0" font-size="5.2" text-anchor="middle" fill="#555" transform="translate(183.6 220.6) rotate(-38)">10<tspan dy="-2.4" font-size="3.8">4</tspan></text>
<line x1="189.0" y1="203.8" x2="191.8" y2="203.8" stroke="#333" stroke-width="1.1"/>
<line x1="190.20000000000002" y1="199.5" x2="191.8" y2="199.5" stroke="#555" stroke-width="0.7"/>
<line x1="190.20000000000002" y1="197.0" x2="191.8" y2="197.0" stroke="#555" stroke-width="0.7"/>
<line x1="190.20000000000002" y1="195.3" x2="191.8" y2="195.3" stroke="#555" stroke-width="0.7"/>
<line x1="190.20000000000002" y1="193.9" x2="191.8" y2="193.9" stroke="#555" stroke-width="0.7"/>
<line x1="190.20000000000002" y1="192.7" x2="191.8" y2="192.7" stroke="#555" stroke-width="0.7"/>
<line x1="190.20000000000002" y1="191.7" x2="191.8" y2="191.7" stroke="#555" stroke-width="0.7"/>
<line x1="190.20000000000002" y1="191.0" x2="191.8" y2="191.0" stroke="#555" stroke-width="0.7"/>
<line x1="190.20000000000002" y1="190.3" x2="191.8" y2="190.3" stroke="#555" stroke-width="0.7"/>
<text x="0" y="0" font-size="5.2" text-anchor="middle" fill="#555" transform="translate(183.6 206.4) rotate(-38)">10<tspan dy="-2.4" font-size="3.8">5</tspan></text>
<line x1="189.0" y1="189.6" x2="191.8" y2="189.6" stroke="#333" stroke-width="1.1"/>
<line x1="190.20000000000002" y1="185.3" x2="191.8" y2="185.3" stroke="#555" stroke-width="0.7"/>
<line x1="190.20000000000002" y1="182.8" x2="191.8" y2="182.8" stroke="#555" stroke-width="0.7"/>
<line x1="190.20000000000002" y1="181.1" x2="191.8" y2="181.1" stroke="#555" stroke-width="0.7"/>
<line x1="190.20000000000002" y1="179.7" x2="191.8" y2="179.7" stroke="#555" stroke-width="0.7"/>
<line x1="190.20000000000002" y1="178.5" x2="191.8" y2="178.5" stroke="#555" stroke-width="0.7"/>
<line x1="190.20000000000002" y1="177.5" x2="191.8" y2="177.5" stroke="#555" stroke-width="0.7"/>
<line x1="190.20000000000002" y1="176.8" x2="191.8" y2="176.8" stroke="#555" stroke-width="0.7"/>
<line x1="190.20000000000002" y1="176.1" x2="191.8" y2="176.1" stroke="#555" stroke-width="0.7"/>
<text x="0" y="0" font-size="5.2" text-anchor="middle" fill="#555" transform="translate(183.6 192.2) rotate(-38)">10<tspan dy="-2.4" font-size="3.8">6</tspan></text>
<line x1="189.0" y1="175.4" x2="191.8" y2="175.4" stroke="#333" stroke-width="1.1"/>
<text x="0" y="0" font-size="5.2" text-anchor="middle" fill="#555" transform="translate(183.6 178.0) rotate(-38)">10<tspan dy="-2.4" font-size="3.8">7</tspan></text>
<line x1="191.8" y1="274.8" x2="191.8" y2="277.6" stroke="#333" stroke-width="1"/>
<line x1="197.9" y1="274.8" x2="197.9" y2="276.3" stroke="#666" stroke-width="0.6"/>
<line x1="204.0" y1="274.8" x2="204.0" y2="276.3" stroke="#666" stroke-width="0.6"/>
<line x1="210.1" y1="274.8" x2="210.1" y2="276.3" stroke="#666" stroke-width="0.6"/>
<line x1="216.3" y1="274.8" x2="216.3" y2="276.3" stroke="#666" stroke-width="0.6"/>
<text x="192.6" y="283.1" font-size="5" text-anchor="middle" fill="#444">0</text>
<line x1="222.4" y1="274.8" x2="222.4" y2="277.6" stroke="#333" stroke-width="1"/>
<line x1="228.5" y1="274.8" x2="228.5" y2="276.3" stroke="#666" stroke-width="0.6"/>
<line x1="234.6" y1="274.8" x2="234.6" y2="276.3" stroke="#666" stroke-width="0.6"/>
<line x1="240.7" y1="274.8" x2="240.7" y2="276.3" stroke="#666" stroke-width="0.6"/>
<line x1="246.8" y1="274.8" x2="246.8" y2="276.3" stroke="#666" stroke-width="0.6"/>
<text x="223.2" y="283.1" font-size="5" text-anchor="middle" fill="#444">5.0M</text>
<line x1="252.9" y1="274.8" x2="252.9" y2="277.6" stroke="#333" stroke-width="1"/>
<line x1="259.1" y1="274.8" x2="259.1" y2="276.3" stroke="#666" stroke-width="0.6"/>
<line x1="265.2" y1="274.8" x2="265.2" y2="276.3" stroke="#666" stroke-width="0.6"/>
<line x1="271.3" y1="274.8" x2="271.3" y2="276.3" stroke="#666" stroke-width="0.6"/>
<line x1="277.4" y1="274.8" x2="277.4" y2="276.3" stroke="#666" stroke-width="0.6"/>
<text x="253.7" y="283.1" font-size="5" text-anchor="middle" fill="#444">10M</text>
<line x1="283.5" y1="274.8" x2="283.5" y2="277.6" stroke="#333" stroke-width="1"/>
<line x1="289.6" y1="274.8" x2="289.6" y2="276.3" stroke="#666" stroke-width="0.6"/>
<text x="284.3" y="283.1" font-size="5" text-anchor="middle" fill="#444">15M</text>
<text x="244" y="203.7" font-size="10.8" text-anchor="middle" font-weight="bold" font-style="normal" fill="#1a1a1a" >97.0%</text>
<path d="M392.1 207.1h.5m4.5 0h.5M406.1 207.6h.5M399.1 208.1h.5M390.1 208.6h.5m.5 0h.5m4.5 0h.5m4.5 0h.5m3 0h.5m1.5 0h.5M378.6 209.1h.5m1 0h.5m13.5 0h.5m3 0h.5m2.5 0h.5m3.5 0h.5m.5 0h.5M359.6 209.6h.5m10.5 0h.5m11.5 0h1m24 0h.5M365.1 210.1h.5m5 0h.5m10.5 0h.5m10 0h.5M380.1 210.6h.5m7.5 0h.5m12.5 0h.5M357.6 211.1h.5m.5 0h.5M368.6 211.6h.5m3.5 0h.5M352.1 212.1h.5m2.5 0h.5m6 0h.5m2 0h.5M356.6 212.6h.5M352.1 213.1h.5m2 0h.5m3 0h.5M349.6 213.6h.5M341.1 214.1h.5M337.1 214.6h.5m2 0h.5M339.1 215.1h.5m3.5 0h.5m1.5 0h.5M339.6 215.6h.5m.5 0h.5m2 0h.5M333.6 216.6h.5m3.5 0h.5M332.6 217.1h.5M332.1 217.6h.5M332.1 218.1h.5M407.1 218.6h.5m1 0h.5M331.1 219.1h.5M409.1 219.6h.5M403.6 220.1h.5m.5 0h.5m2 0h.5m.5 0h.5M400.6 220.6h.5m5 0h.5M405.6 221.1h.5M400.1 221.6h1M399.1 222.6h.5M397.6 223.1h.5m4 0h.5M394.6 223.6h.5m6.5 0h.5M389.6 224.6h1m8.5 0h.5m.5 0h.5M384.6 225.6h.5m3 0h.5M387.1 226.1h.5m16.5 0h.5M382.1 226.6h.5m5 0h1M377.1 227.1h.5m1.5 0h.5m2.5 0h.5m9 0h.5M368.1 227.6h.5m4 0h.5M367.1 228.1h.5m2 0h.5m8.5 0h.5M331.1 228.6h.5m36.5 0h.5m2.5 0h.5m4.5 0h.5M334.1 229.1h.5m41 0h.5m1 0h.5M333.1 229.6h1m28.5 0h.5m2 0h.5m2 0h.5M335.1 230.1h.5m4 0h.5m19 0h1m2 0h.5m3 0h.5m8.5 0h.5m17 0h.5M336.1 230.6h.5m21.5 0h1M334.1 231.1h.5m6 0h.5m.5 0h.5m13.5 0h.5m1.5 0h.5m3.5 0h.5m.5 0h.5m7 0h.5M333.1 231.6h.5m1 0h1m6.5 0h.5m7 0h.5m2.5 0h.5m7.5 0h.5m1 0h.5m9 0h.5M334.6 232.1h.5m5.5 0h.5m1 0h.5m.5 0h.5m2.5 0h.5m2 0h1.5m2.5 0h.5m2 0h.5m9 0h.5M344.1 232.6h.5m1.5 0h.5m4.5 0h.5m8 0h.5m2.5 0h.5M338.6 233.1h.5m8 0h.5m5.5 0h.5m7.5 0h.5m2.5 0h.5m9 0h.5M332.1 233.6h.5m10.5 0h.5m3 0h.5m3.5 0h.5m2.5 0h.5m1 0h.5m16 0h.5M367.6 234.1h.5m4 0h.5m1.5 0h.5m9 0h.5M341.6 234.6h.5m6 0h.5m12.5 0h.5M367.6 235.1h.5M336.1 235.6h.5m13.5 0h.5m2 0h.5m5.5 0h.5m25.5 0h.5M368.6 236.1h.5M343.6 237.1h.5m19.5 0h.5M336.6 237.6h.5m13.5 0h.5m8 0h.5m.5 0h.5m4.5 0h.5M331.6 238.1h.5M346.1 238.6h.5m8.5 0h.5m5.5 0h.5m4.5 0h.5M348.1 239.1h.5M336.1 239.6h.5m13 0h.5m12 0h.5M347.6 240.1h.5m5.5 0h.5m7.5 0h.5m18 0h.5M354.1 240.6h.5M354.6 241.1h.5M363.6 241.6h.5M367.6 243.1h.5M343.6 244.6h.5m23.5 0h.5M396.1 245.6h.5" stroke="#2526fd" stroke-width="0.5" stroke-opacity="0.9" fill="none"/>
<path d="M395.6 209.1h.5M396.1 209.6h.5m1 0h.5m6 0h.5m1 0h1M390.1 210.1h.5m3.5 0h1.5m.5 0h.5m1.5 0h1m5.5 0h.5m3 0h.5M390.1 210.6h.5m3.5 0h.5m1 0h.5m1 0h1m1 0h.5m.5 0h.5m2.5 0h.5m1 0h1m2.5 0h1.5M375.6 211.1h.5m1 0h.5m2.5 0h.5m1.5 0h.5m2.5 0h.5m3.5 0h.5m.5 0h1m.5 0h1m4.5 0h.5m1.5 0h1m2 0h.5m1 0h2m1 0h.5m1 0h1.5M376.6 211.6h.5m.5 0h1m2 0h.5m2 0h.5m3 0h.5m.5 0h.5m13 0h.5m1.5 0h1.5m.5 0h.5m.5 0h1m1 0h.5M367.6 212.1h.5m4.5 0h.5m.5 0h1.5m.5 0h1.5m.5 0h.5m1 0h.5m2 0h.5m.5 0h.5m2 0h1m13 0h.5m1.5 0h1m.5 0h.5m.5 0h1M360.6 212.6h.5m1 0h.5m4.5 0h1.5m.5 0h.5m3 0h1m.5 0h.5m24.5 0h.5m1.5 0h1m1 0h.5m.5 0h.5M361.1 213.1h.5m.5 0h.5m2.5 0h.5m1 0h.5m2.5 0h.5m1.5 0h1.5M350.6 213.6h1m1.5 0h1m6 0h1m3.5 0h.5M349.6 214.1h.5m1.5 0h.5m3.5 0h2m2 0h.5m.5 0h2.5M348.6 214.6h.5m3 0h1m1.5 0h.5m.5 0h.5m.5 0h.5m.5 0h.5M346.6 215.1h.5m1.5 0h.5m.5 0h.5M342.1 215.6h.5m3.5 0h1m62 0h.5M340.6 216.1h.5m2.5 0h.5m2.5 0h.5M339.6 216.6h.5m1 0h.5m.5 0h.5m1 0h.5m62 0h.5M339.6 217.1h.5m1.5 0h1.5m63 0h1m.5 0h1.5M335.6 217.6h.5m1.5 0h1m66 0h1m3 0h.5M333.6 218.1h1m1 0h.5m.5 0h.5m66 0h.5m1 0h.5m2 0h.5M333.6 218.6h1.5m.5 0h.5m1 0h1m63.5 0h.5m1 0h1m.5 0h1M331.6 219.1h1m2 0h2m65 0h.5m2 0h.5m.5 0h1M333.1 219.6h.5m.5 0h.5m.5 0h.5m63.5 0h1m.5 0h.5m.5 0h.5m3.5 0h.5M332.6 220.1h.5m1 0h.5m64.5 0h.5M332.1 220.6h1m1 0h.5m63.5 0h.5m.5 0h.5M331.1 221.1h.5m64.5 0h1m.5 0h.5m1.5 0h.5M332.1 221.6h1m60.5 0h.5m2.5 0h.5m1 0h1M332.1 222.1h1m59 0h.5m.5 0h1m1 0h.5m1 0h.5M331.1 222.6h.5m.5 0h.5m57.5 0h2.5m1.5 0h.5M332.1 223.1h.5m54.5 0h.5m.5 0h1m1.5 0h1M332.1 223.6h.5m53.5 0h3.5M331.1 224.1h1.5m51.5 0h1M331.1 224.6h.5m1 0h1.5m45 0h1.5m2 0h.5m1.5 0h.5m.5 0h.5m2 0h.5M331.1 225.1h2.5m44.5 0h.5m2 0h1m1 0h1m1.5 0h.5M332.6 225.6h.5m.5 0h1m41 0h1m2 0h.5m1.5 0h.5M333.1 226.1h.5m.5 0h1m31.5 0h.5m1 0h.5m4.5 0h.5m2 0h.5m.5 0h1m.5 0h1M331.6 226.6h.5m1 0h.5m31 0h.5m3 0h.5m1.5 0h.5m1.5 0h.5m1.5 0h.5m1.5 0h.5m.5 0h.5M332.1 227.1h.5m.5 0h.5m.5 0h1.5m27 0h1m2.5 0h.5m.5 0h.5m2 0h.5m.5 0h.5m2 0h.5M331.6 227.6h.5m1.5 0h.5m1.5 0h.5m.5 0h.5m24 0h.5m3 0h1m5 0h.5m1 0h.5M331.6 228.1h.5m1 0h.5m1.5 0h.5m1 0h.5m.5 0h.5m.5 0h.5m.5 0h.5m.5 0h1m15.5 0h.5m1.5 0h1m.5 0h.5m.5 0h1.5m1.5 0h.5M333.6 228.6h.5m5 0h2m1 0h.5m6.5 0h.5m.5 0h.5m.5 0h.5m5.5 0h2.5m2 0h.5m1 0h.5m.5 0h.5m1 0h.5M335.1 229.1h.5m.5 0h2m.5 0h.5m4 0h.5m5.5 0h.5m2.5 0h.5m1 0h.5m.5 0h1m1 0h1m3.5 0h.5m2.5 0h.5m.5 0h.5M339.6 229.6h.5m1 0h1m1 0h.5m3.5 0h.5m2 0h.5m.5 0h1m.5 0h1m.5 0h.5m.5 0h.5m2 0h.5M341.6 230.1h.5m1.5 0h.5m1 0h.5m2 0h1m1.5 0h.5m1 0h.5m1 0h.5m.5 0h.5m1 0h.5M344.1 230.6h.5m1 0h.5m2.5 0h.5m1.5 0h1m2.5 0h1m1 0h1M344.1 231.1h.5m1 0h.5m1 0h.5m4.5 0h.5m1 0h.5M344.6 231.6h.5m1 0h.5m.5 0h1M347.6 232.1h.5" stroke="#1f23fa" stroke-width="0.5" stroke-opacity="1" fill="none"/>
<path d="M395.1 211.1h2M390.6 211.6h1.5m1 0h1m.5 0h1m1.5 0h1m10.5 0h1M386.1 212.1h1.5m1.5 0h1m.5 0h.5m2 0h1.5m.5 0h2m.5 0h1m7 0h2m1 0h1M375.6 212.6h.5m.5 0h1m1 0h1m1.5 0h.5m.5 0h1m.5 0h.5m.5 0h1.5m.5 0h1m.5 0h5m4 0h1m7 0h1.5m.5 0h1.5m.5 0h.5M368.1 213.1h.5m.5 0h.5m3.5 0h.5m1 0h1.5m.5 0h4m.5 0h3m1 0h1m.5 0h.5m10.5 0h2m.5 0h.5m1.5 0h1.5m.5 0h.5m.5 0h2.5m1 0h1M365.1 213.6h1.5m.5 0h2m.5 0h1.5m.5 0h2m.5 0h.5m.5 0h1.5m.5 0h.5m20.5 0h1m.5 0h2m.5 0h1m.5 0h1.5m.5 0h3.5M363.6 214.1h.5m1 0h1.5m.5 0h1m.5 0h1m.5 0h1.5m1 0h.5m28.5 0h2m.5 0h.5m1 0h.5m.5 0h.5m.5 0h.5m.5 0h.5M359.6 214.6h.5m.5 0h.5m1.5 0h.5m.5 0h1.5m37 0h3m1 0h2.5m.5 0h.5M350.1 215.1h1m1 0h2m1 0h.5m1 0h3m.5 0h.5m.5 0h1m.5 0h.5m39.5 0h.5m1 0h1m.5 0h4M348.6 215.6h.5m.5 0h1m.5 0h1.5m.5 0h.5m1 0h.5m.5 0h1.5m45.5 0h1m.5 0h1m.5 0h.5m.5 0h.5m.5 0h.5M347.6 216.1h2m.5 0h.5m52 0h1m.5 0h1.5m.5 0h.5M347.1 216.6h.5m.5 0h.5m53.5 0h1.5m.5 0h2M343.6 217.1h.5m2 0h.5m54.5 0h2.5m.5 0h.5m.5 0h.5M340.1 217.6h1.5m.5 0h.5m.5 0h1m56 0h.5m1 0h.5m.5 0h.5m.5 0h.5M339.1 218.1h.5m.5 0h3m56.5 0h1.5m1 0h.5M338.6 218.6h1.5m.5 0h.5m57.5 0h.5m.5 0h.5m.5 0h.5M337.1 219.1h2m58 0h1m.5 0h1.5M336.1 219.6h.5m.5 0h.5m.5 0h1m57 0h.5m1 0h1.5M336.1 220.1h2m56.5 0h.5m.5 0h1.5m.5 0h.5M334.6 220.6h1m.5 0h1.5m56 0h2m.5 0h.5M334.6 221.1h.5m.5 0h1m55 0h1.5m.5 0h1M333.6 221.6h.5m.5 0h1m53 0h1m.5 0h1m.5 0h.5m1 0h.5M333.6 222.1h2m53.5 0h1m.5 0h.5m.5 0h.5M332.6 222.6h1.5m.5 0h.5m50.5 0h.5m.5 0h.5M333.6 223.1h1.5m48 0h1m1.5 0h.5M332.6 223.6h1m1 0h.5m44.5 0h.5m.5 0h2m.5 0h2.5M334.6 224.1h1.5m41 0h2m.5 0h.5m1 0h.5m1 0h.5M334.6 224.6h.5m.5 0h1m38.5 0h1m1 0h.5m.5 0h.5M335.6 225.1h1m31.5 0h.5m3 0h.5m.5 0h1.5m1.5 0h2M335.6 225.6h1.5m28 0h1.5m.5 0h.5m1 0h.5m1 0h.5m2.5 0h.5M336.1 226.1h.5m.5 0h1m.5 0h.5m23 0h1m.5 0h1m1 0h1m2.5 0h3M335.6 226.6h3m.5 0h2.5m19 0h.5m2 0h1.5M337.1 227.1h1m1 0h.5m.5 0h1.5m15 0h1m1 0h.5m.5 0h1m.5 0h.5M338.1 227.6h.5m.5 0h.5m1 0h.5m6 0h1m.5 0h1m.5 0h.5m1 0h5.5m.5 0h.5m.5 0h.5m1 0h.5M342.1 228.1h1m.5 0h.5m.5 0h.5m.5 0h5m.5 0h.5m1 0h1m.5 0h.5m.5 0h1.5M343.1 228.6h1.5m1.5 0h2m5.5 0h.5M344.1 229.1h1m.5 0h1.5" stroke="#1a21f8" stroke-width="0.5" stroke-opacity="1" fill="none"/>
<path d="M393.6 212.6h1m.5 0h1.5M387.1 213.1h2.5m.5 0h.5m1 0h.5m.5 0h5M378.6 213.6h.5m.5 0h4m.5 0h.5m.5 0h6m.5 0h1m.5 0h.5m.5 0h3.5M374.1 214.1h5m.5 0h1.5m.5 0h.5m.5 0h1m1.5 0h1.5m10 0h1m.5 0h1m.5 0h1.5M365.1 214.6h3m1 0h.5m.5 0h2m.5 0h.5m.5 0h3m.5 0h.5m3 0h.5m16 0h1m.5 0h2m.5 0h1M363.6 215.1h2.5m.5 0h4m.5 0h.5m.5 0h1.5m23.5 0h4m.5 0h1M358.1 215.6h1m.5 0h2.5m1 0h1.5m32.5 0h4m1 0h.5M351.6 216.1h2m.5 0h1m2 0h.5m.5 0h1m38.5 0h.5m1 0h.5m.5 0h2.5M348.6 216.6h1m.5 0h4.5m1 0h1.5m40.5 0h4.5M346.6 217.1h3.5m47.5 0h3.5M345.6 217.6h2m49.5 0h3M343.6 218.1h2m51 0h1m.5 0h1.5M341.6 218.6h.5m.5 0h.5m.5 0h.5m51 0h.5m.5 0h2.5M339.6 219.1h1m.5 0h1m.5 0h.5m51 0h3M339.1 219.6h2.5m50.5 0h2m.5 0h.5m.5 0h.5M338.6 220.1h2m49 0h2m.5 0h2.5M338.1 220.6h.5m49.5 0h1.5m.5 0h2M336.6 221.1h1.5m.5 0h.5m48.5 0h1.5m.5 0h1m.5 0h.5M335.6 221.6h2.5m48 0h2.5M335.6 222.1h2m45.5 0h.5m.5 0h1m.5 0h.5m.5 0h.5M335.1 222.6h2.5m44 0h2m.5 0h1.5M335.6 223.1h1m.5 0h.5m40 0h.5m1 0h.5m.5 0h1.5m.5 0h1M335.6 223.6h1.5m.5 0h.5m37.5 0h3M337.1 224.1h1.5m32.5 0h2m.5 0h3M336.6 224.6h3m27 0h1m1 0h4.5m.5 0h1.5M336.6 225.1h3m.5 0h.5m23 0h1.5m1.5 0h.5m1.5 0h2m.5 0h.5M337.6 225.6h4m20 0h2m.5 0h1M339.6 226.1h1m1.5 0h.5m17.5 0h.5m1 0h.5M342.1 226.6h1.5m3 0h2.5m5 0h2m1 0h1.5m.5 0h.5m.5 0h.5M342.6 227.1h4.5m.5 0h1.5m.5 0h1.5m.5 0h3m.5 0h.5M345.1 227.6h.5m.5 0h1" stroke="#141ef5" stroke-width="0.5" stroke-opacity="1" fill="none"/>
<path d="M383.6 214.1h1.5m1.5 0h10M377.6 214.6h3m1 0h7m1 0h7.5M373.6 215.1h5m.5 0h7m5 0h6M364.6 215.6h12.5m3.5 0h2.5m9 0h5M359.1 216.1h9m2 0h4m18.5 0h5M354.6 216.6h1m1.5 0h3m.5 0h3m29 0h5M350.1 217.1h7m35.5 0h5M347.6 217.6h3m41 0h5.5M345.6 218.1h2.5m42.5 0h5.5M344.1 218.6h2m43.5 0h5.5M343.1 219.1h1.5m44 0h5.5M341.6 219.6h2m44 0h4.5M340.6 220.1h1.5m44.5 0h3M339.6 220.6h2m44.5 0h2M339.1 221.1h2m42 0h4M338.1 221.6h2.5m41 0h4.5M337.6 222.1h3m36 0h6.5M337.6 222.6h3m34.5 0h6.5M337.6 223.1h3m31 0h5M338.1 223.6h2.5m29 0h6M338.6 224.1h2.5m25 0h5M339.6 224.6h2m21 0h4M341.1 225.1h1.5m18.5 0h1.5M341.6 225.6h1.5m16.5 0h2M342.6 226.1h17.5M344.1 226.6h2.5m2.5 0h5" stroke="#0a4bfa" stroke-width="0.5" stroke-opacity="1" fill="none"/>
<path d="M388.6 214.6h1M378.6 215.1h.5m7 0h5M377.1 215.6h3.5m2.5 0h9M368.1 216.1h2m4 0h4m2 0h12.5M360.1 216.6h.5m3 0h13.5m4 0h3.5m3 0h5M357.1 217.1h7m6 0h4m8 0h1m4.5 0h5M350.6 217.6h6.5m30.5 0h4M348.1 218.1h2.5m36.5 0h3.5M346.1 218.6h2m38 0h3.5M344.6 219.1h1.5m39 0h3.5M343.6 219.6h1m38.5 0h4.5M342.1 220.1h2m38 0h4.5M341.6 220.6h1m38.5 0h5M341.1 221.1h1m34 0h7M340.6 221.6h1m32 0h8M340.6 222.1h1m30.5 0h4.5M340.6 222.6h1m29 0h4.5M340.6 223.1h1m25.5 0h4.5M340.6 223.6h1.5m23.5 0h4M341.1 224.1h1.5m20 0h3.5M341.6 224.6h1.5m18 0h1.5M342.6 225.1h1.5m15 0h2M343.1 225.6h16.5" stroke="#007efc" stroke-width="0.5" stroke-opacity="1" fill="none"/>
<path d="M378.1 216.1h2M377.1 216.6h4m3.5 0h3M364.1 217.1h6m4 0h4m2 0h2m1 0h4.5M357.1 217.6h7.5m1 0h11.5m3.5 0h7M350.6 218.1h5m14 0h5.5m5.5 0h6.5M348.1 218.6h2m30.5 0h5.5M346.1 219.1h2m32.5 0h4.5M344.6 219.6h2m31.5 0h5M344.1 220.1h1m28.5 0h8.5M342.6 220.6h1.5m28.5 0h8.5M342.1 221.1h1.5m28 0h4.5M341.6 221.6h1.5m27.5 0h3M341.6 222.1h1m26 0h3.5M341.6 222.6h1m24 0h4M341.6 223.1h1.5m22 0h2M342.1 223.6h1.5m18.5 0h3.5M342.6 224.1h1.5m17 0h1.5M343.1 224.6h4m12 0h2M344.1 225.1h15" stroke="#00bae1" stroke-width="0.5" stroke-opacity="1" fill="none"/>
<path d="M378.1 217.1h2M364.6 217.6h1m11.5 0h3.5M355.6 218.1h14m5.5 0h5.5M350.1 218.6h5m11.5 0h14M348.1 219.1h1.5m18.5 0h12.5M346.6 219.6h1.5m21 0h9M345.1 220.1h1.5m23 0h4M344.1 220.6h1.5m24 0h3M343.6 221.1h1.5m23 0h3.5M343.1 221.6h1.5m22 0h4M342.6 222.1h1.5m21.5 0h3M342.6 222.6h1.5m19.5 0h3M343.1 223.1h1.5m17.5 0h3M343.6 223.6h2m15.5 0h1M344.1 224.1h3.5m11.5 0h2M347.1 224.6h12" stroke="#17d67d" stroke-width="0.5" stroke-opacity="1" fill="none"/>
<path d="M355.1 218.6h11.5M349.6 219.1h5.5m8 0h5M348.1 219.6h1.5m16 0h3.5M346.6 220.1h1.5m17.5 0h4M345.6 220.6h1.5m18.5 0h4M345.1 221.1h1m19 0h3M344.6 221.6h1m18 0h3M344.1 222.1h1.5m17 0h3M344.1 222.6h1.5m16 0h2M344.6 223.1h2m14 0h1.5M345.6 223.6h2.5m11 0h2M347.6 224.1h11.5" stroke="#5be42f" stroke-width="0.5" stroke-opacity="1" fill="none"/>
<path d="M355.1 219.1h8M349.6 219.6h5.5m5.5 0h5M348.1 220.1h2m12 0h3.5M347.1 220.6h1.5m14 0h3M346.1 221.1h1.5m14.5 0h3M345.6 221.6h1.5m14.5 0h2M345.6 222.1h1.5m13.5 0h2M345.6 222.6h2m12 0h2M346.6 223.1h3m3.5 0h1m4.5 0h2M348.1 223.6h11" stroke="#c8e913" stroke-width="0.5" stroke-opacity="1" fill="none"/>
<path d="M355.1 219.6h5.5M350.1 220.1h6m1.5 0h4.5M348.6 220.6h2m2 0h1.5m5.5 0h3M347.6 221.1h2m10 0h2.5M347.1 221.6h2m10.5 0h2M347.1 222.1h2.5m9.5 0h1.5M347.6 222.6h2.5m2 0h3m2.5 0h2M349.6 223.1h3.5m1 0h4.5" stroke="#f69a03" stroke-width="0.5" stroke-opacity="1" fill="none"/>
<path d="M356.1 220.1h1.5M350.6 220.6h2m1.5 0h5.5M349.6 221.1h10M349.1 221.6h10.5M349.6 222.1h9.5M350.1 222.6h2m3 0h2.5" stroke="#ff4100" stroke-width="0.5" stroke-opacity="1" fill="none"/>
<line x1="309.4" y1="225.9" x2="412.0" y2="225.9" stroke="#808080" stroke-width="1.4"/>
<line x1="412.0" y1="225.9" x2="412.0" y2="274.8" stroke="#c4c4c4" stroke-width="0.9"/>
<path d="M309.4,225.9 V172.5 H412.0 V225.9" fill="none" stroke="#2a2a2a" stroke-width="1.5"/>
<line x1="309.4" y1="172.5" x2="309.4" y2="274.8" stroke="#333" stroke-width="1.2"/>
<line x1="309.4" y1="274.8" x2="412.0" y2="274.8" stroke="#333" stroke-width="1.2"/>
<line x1="306.59999999999997" y1="274.8" x2="309.4" y2="274.8" stroke="#333" stroke-width="1.1"/>
<line x1="307.79999999999995" y1="270.5" x2="309.4" y2="270.5" stroke="#555" stroke-width="0.7"/>
<line x1="307.79999999999995" y1="268.0" x2="309.4" y2="268.0" stroke="#555" stroke-width="0.7"/>
<line x1="307.79999999999995" y1="266.3" x2="309.4" y2="266.3" stroke="#555" stroke-width="0.7"/>
<line x1="307.79999999999995" y1="264.9" x2="309.4" y2="264.9" stroke="#555" stroke-width="0.7"/>
<line x1="307.79999999999995" y1="263.7" x2="309.4" y2="263.7" stroke="#555" stroke-width="0.7"/>
<line x1="307.79999999999995" y1="262.7" x2="309.4" y2="262.7" stroke="#555" stroke-width="0.7"/>
<line x1="307.79999999999995" y1="262.0" x2="309.4" y2="262.0" stroke="#555" stroke-width="0.7"/>
<line x1="307.79999999999995" y1="261.3" x2="309.4" y2="261.3" stroke="#555" stroke-width="0.7"/>
<text x="0" y="0" font-size="5.2" text-anchor="middle" fill="#555" transform="translate(301.2 277.4) rotate(-38)">10<tspan dy="-2.4" font-size="3.8">0</tspan></text>
<line x1="306.59999999999997" y1="260.6" x2="309.4" y2="260.6" stroke="#333" stroke-width="1.1"/>
<line x1="307.79999999999995" y1="256.3" x2="309.4" y2="256.3" stroke="#555" stroke-width="0.7"/>
<line x1="307.79999999999995" y1="253.8" x2="309.4" y2="253.8" stroke="#555" stroke-width="0.7"/>
<line x1="307.79999999999995" y1="252.1" x2="309.4" y2="252.1" stroke="#555" stroke-width="0.7"/>
<line x1="307.79999999999995" y1="250.7" x2="309.4" y2="250.7" stroke="#555" stroke-width="0.7"/>
<line x1="307.79999999999995" y1="249.5" x2="309.4" y2="249.5" stroke="#555" stroke-width="0.7"/>
<line x1="307.79999999999995" y1="248.5" x2="309.4" y2="248.5" stroke="#555" stroke-width="0.7"/>
<line x1="307.79999999999995" y1="247.8" x2="309.4" y2="247.8" stroke="#555" stroke-width="0.7"/>
<line x1="307.79999999999995" y1="247.1" x2="309.4" y2="247.1" stroke="#555" stroke-width="0.7"/>
<text x="0" y="0" font-size="5.2" text-anchor="middle" fill="#555" transform="translate(301.2 263.2) rotate(-38)">10<tspan dy="-2.4" font-size="3.8">1</tspan></text>
<line x1="306.59999999999997" y1="246.4" x2="309.4" y2="246.4" stroke="#333" stroke-width="1.1"/>
<line x1="307.79999999999995" y1="242.1" x2="309.4" y2="242.1" stroke="#555" stroke-width="0.7"/>
<line x1="307.79999999999995" y1="239.6" x2="309.4" y2="239.6" stroke="#555" stroke-width="0.7"/>
<line x1="307.79999999999995" y1="237.9" x2="309.4" y2="237.9" stroke="#555" stroke-width="0.7"/>
<line x1="307.79999999999995" y1="236.5" x2="309.4" y2="236.5" stroke="#555" stroke-width="0.7"/>
<line x1="307.79999999999995" y1="235.3" x2="309.4" y2="235.3" stroke="#555" stroke-width="0.7"/>
<line x1="307.79999999999995" y1="234.3" x2="309.4" y2="234.3" stroke="#555" stroke-width="0.7"/>
<line x1="307.79999999999995" y1="233.6" x2="309.4" y2="233.6" stroke="#555" stroke-width="0.7"/>
<line x1="307.79999999999995" y1="232.9" x2="309.4" y2="232.9" stroke="#555" stroke-width="0.7"/>
<text x="0" y="0" font-size="5.2" text-anchor="middle" fill="#555" transform="translate(301.2 249.0) rotate(-38)">10<tspan dy="-2.4" font-size="3.8">2</tspan></text>
<line x1="306.59999999999997" y1="232.2" x2="309.4" y2="232.2" stroke="#333" stroke-width="1.1"/>
<line x1="307.79999999999995" y1="227.9" x2="309.4" y2="227.9" stroke="#555" stroke-width="0.7"/>
<line x1="307.79999999999995" y1="225.4" x2="309.4" y2="225.4" stroke="#555" stroke-width="0.7"/>
<line x1="307.79999999999995" y1="223.7" x2="309.4" y2="223.7" stroke="#555" stroke-width="0.7"/>
<line x1="307.79999999999995" y1="222.3" x2="309.4" y2="222.3" stroke="#555" stroke-width="0.7"/>
<line x1="307.79999999999995" y1="221.1" x2="309.4" y2="221.1" stroke="#555" stroke-width="0.7"/>
<line x1="307.79999999999995" y1="220.1" x2="309.4" y2="220.1" stroke="#555" stroke-width="0.7"/>
<line x1="307.79999999999995" y1="219.4" x2="309.4" y2="219.4" stroke="#555" stroke-width="0.7"/>
<line x1="307.79999999999995" y1="218.7" x2="309.4" y2="218.7" stroke="#555" stroke-width="0.7"/>
<text x="0" y="0" font-size="5.2" text-anchor="middle" fill="#555" transform="translate(301.2 234.8) rotate(-38)">10<tspan dy="-2.4" font-size="3.8">3</tspan></text>
<line x1="306.59999999999997" y1="218.0" x2="309.4" y2="218.0" stroke="#333" stroke-width="1.1"/>
<line x1="307.79999999999995" y1="213.7" x2="309.4" y2="213.7" stroke="#555" stroke-width="0.7"/>
<line x1="307.79999999999995" y1="211.2" x2="309.4" y2="211.2" stroke="#555" stroke-width="0.7"/>
<line x1="307.79999999999995" y1="209.5" x2="309.4" y2="209.5" stroke="#555" stroke-width="0.7"/>
<line x1="307.79999999999995" y1="208.1" x2="309.4" y2="208.1" stroke="#555" stroke-width="0.7"/>
<line x1="307.79999999999995" y1="206.9" x2="309.4" y2="206.9" stroke="#555" stroke-width="0.7"/>
<line x1="307.79999999999995" y1="205.9" x2="309.4" y2="205.9" stroke="#555" stroke-width="0.7"/>
<line x1="307.79999999999995" y1="205.2" x2="309.4" y2="205.2" stroke="#555" stroke-width="0.7"/>
<line x1="307.79999999999995" y1="204.5" x2="309.4" y2="204.5" stroke="#555" stroke-width="0.7"/>
<text x="0" y="0" font-size="5.2" text-anchor="middle" fill="#555" transform="translate(301.2 220.6) rotate(-38)">10<tspan dy="-2.4" font-size="3.8">4</tspan></text>
<line x1="306.59999999999997" y1="203.8" x2="309.4" y2="203.8" stroke="#333" stroke-width="1.1"/>
<line x1="307.79999999999995" y1="199.5" x2="309.4" y2="199.5" stroke="#555" stroke-width="0.7"/>
<line x1="307.79999999999995" y1="197.0" x2="309.4" y2="197.0" stroke="#555" stroke-width="0.7"/>
<line x1="307.79999999999995" y1="195.3" x2="309.4" y2="195.3" stroke="#555" stroke-width="0.7"/>
<line x1="307.79999999999995" y1="193.9" x2="309.4" y2="193.9" stroke="#555" stroke-width="0.7"/>
<line x1="307.79999999999995" y1="192.7" x2="309.4" y2="192.7" stroke="#555" stroke-width="0.7"/>
<line x1="307.79999999999995" y1="191.7" x2="309.4" y2="191.7" stroke="#555" stroke-width="0.7"/>
<line x1="307.79999999999995" y1="191.0" x2="309.4" y2="191.0" stroke="#555" stroke-width="0.7"/>
<line x1="307.79999999999995" y1="190.3" x2="309.4" y2="190.3" stroke="#555" stroke-width="0.7"/>
<text x="0" y="0" font-size="5.2" text-anchor="middle" fill="#555" transform="translate(301.2 206.4) rotate(-38)">10<tspan dy="-2.4" font-size="3.8">5</tspan></text>
<line x1="306.59999999999997" y1="189.6" x2="309.4" y2="189.6" stroke="#333" stroke-width="1.1"/>
<line x1="307.79999999999995" y1="185.3" x2="309.4" y2="185.3" stroke="#555" stroke-width="0.7"/>
<line x1="307.79999999999995" y1="182.8" x2="309.4" y2="182.8" stroke="#555" stroke-width="0.7"/>
<line x1="307.79999999999995" y1="181.1" x2="309.4" y2="181.1" stroke="#555" stroke-width="0.7"/>
<line x1="307.79999999999995" y1="179.7" x2="309.4" y2="179.7" stroke="#555" stroke-width="0.7"/>
<line x1="307.79999999999995" y1="178.5" x2="309.4" y2="178.5" stroke="#555" stroke-width="0.7"/>
<line x1="307.79999999999995" y1="177.5" x2="309.4" y2="177.5" stroke="#555" stroke-width="0.7"/>
<line x1="307.79999999999995" y1="176.8" x2="309.4" y2="176.8" stroke="#555" stroke-width="0.7"/>
<line x1="307.79999999999995" y1="176.1" x2="309.4" y2="176.1" stroke="#555" stroke-width="0.7"/>
<text x="0" y="0" font-size="5.2" text-anchor="middle" fill="#555" transform="translate(301.2 192.2) rotate(-38)">10<tspan dy="-2.4" font-size="3.8">6</tspan></text>
<line x1="306.59999999999997" y1="175.4" x2="309.4" y2="175.4" stroke="#333" stroke-width="1.1"/>
<text x="0" y="0" font-size="5.2" text-anchor="middle" fill="#555" transform="translate(301.2 178.0) rotate(-38)">10<tspan dy="-2.4" font-size="3.8">7</tspan></text>
<line x1="309.4" y1="274.8" x2="309.4" y2="277.6" stroke="#333" stroke-width="1"/>
<line x1="315.5" y1="274.8" x2="315.5" y2="276.3" stroke="#666" stroke-width="0.6"/>
<line x1="321.6" y1="274.8" x2="321.6" y2="276.3" stroke="#666" stroke-width="0.6"/>
<line x1="327.7" y1="274.8" x2="327.7" y2="276.3" stroke="#666" stroke-width="0.6"/>
<line x1="333.9" y1="274.8" x2="333.9" y2="276.3" stroke="#666" stroke-width="0.6"/>
<text x="310.2" y="283.1" font-size="5" text-anchor="middle" fill="#444">0</text>
<line x1="340.0" y1="274.8" x2="340.0" y2="277.6" stroke="#333" stroke-width="1"/>
<line x1="346.1" y1="274.8" x2="346.1" y2="276.3" stroke="#666" stroke-width="0.6"/>
<line x1="352.2" y1="274.8" x2="352.2" y2="276.3" stroke="#666" stroke-width="0.6"/>
<line x1="358.3" y1="274.8" x2="358.3" y2="276.3" stroke="#666" stroke-width="0.6"/>
<line x1="364.4" y1="274.8" x2="364.4" y2="276.3" stroke="#666" stroke-width="0.6"/>
<text x="340.8" y="283.1" font-size="5" text-anchor="middle" fill="#444">5.0M</text>
<line x1="370.5" y1="274.8" x2="370.5" y2="277.6" stroke="#333" stroke-width="1"/>
<line x1="376.7" y1="274.8" x2="376.7" y2="276.3" stroke="#666" stroke-width="0.6"/>
<line x1="382.8" y1="274.8" x2="382.8" y2="276.3" stroke="#666" stroke-width="0.6"/>
<line x1="388.9" y1="274.8" x2="388.9" y2="276.3" stroke="#666" stroke-width="0.6"/>
<line x1="395.0" y1="274.8" x2="395.0" y2="276.3" stroke="#666" stroke-width="0.6"/>
<text x="371.3" y="283.1" font-size="5" text-anchor="middle" fill="#444">10M</text>
<line x1="401.1" y1="274.8" x2="401.1" y2="277.6" stroke="#333" stroke-width="1"/>
<line x1="407.2" y1="274.8" x2="407.2" y2="276.3" stroke="#666" stroke-width="0.6"/>
<text x="401.9" y="283.1" font-size="5" text-anchor="middle" fill="#444">15M</text>
<text x="359" y="200.3" font-size="10.8" text-anchor="middle" font-weight="bold" font-style="normal" fill="#1a1a1a" >98.4%</text>
<path d="M523.2 206.1h.5M510.7 207.1h.5m4 0h.5M512.2 207.6h.5m4.5 0h.5m.5 0h.5M502.2 208.1h.5m5.5 0h.5m5 0h.5M475.7 208.6h.5m18 0h.5m11.5 0h.5m3.5 0h.5m1.5 0h.5M487.7 209.1h.5m8 0h.5m12 0h1m4 0h.5m1 0h1m5.5 0h.5m1.5 0h.5m1 0h.5m.5 0h1M487.2 209.6h.5m12 0h.5m.5 0h1.5m1.5 0h.5m5.5 0h.5m16.5 0h.5M466.7 210.1h.5m15 0h.5m1 0h.5m4 0h.5m6.5 0h.5M483.7 210.6h.5m5.5 0h.5m13.5 0h.5M484.7 211.1h.5M470.7 211.6h.5m9 0h.5m5.5 0h.5M481.7 212.1h1m3 0h.5M468.7 212.6h.5M471.2 213.1h.5m1 0h.5M451.7 214.1h.5M459.2 214.6h.5m1 0h.5m1.5 0h.5M454.2 215.1h.5m3 0h.5M453.7 216.1h.5m1.5 0h1m.5 0h.5M454.2 216.6h1M449.7 217.1h.5m.5 0h.5m1.5 0h.5M449.7 217.6h.5M451.7 218.1h.5M449.7 218.6h.5M519.7 221.1h.5M520.7 221.6h.5m3.5 0h1.5M523.7 222.1h.5M516.2 222.6h1M515.7 223.1h.5m4 0h.5m4.5 0h.5M511.2 223.6h.5m3.5 0h1m1 0h.5m3.5 0h.5m2 0h.5M511.7 224.1h.5m6 0h.5m.5 0h.5m3 0h.5M506.7 224.6h.5m2 0h.5m9.5 0h.5M504.7 225.1h.5M502.2 225.6h.5m1.5 0h1m.5 0h.5m3 0h.5M498.7 226.1h.5m3 0h.5M503.7 226.6h.5M494.2 227.1h.5m15 0h.5M490.7 227.6h.5m3 0h.5m17.5 0h.5M486.7 228.1h.5m5.5 0h.5M450.7 228.6h1m.5 0h.5m32 0h.5m3 0h.5m2.5 0h.5M449.7 229.1h1m2 0h.5m32 0h.5m2 0h.5m2 0h.5m1.5 0h.5M449.7 229.6h.5m3.5 0h.5m28 0h.5m2 0h.5m5.5 0h.5m.5 0h.5M455.7 230.1h.5m2.5 0h.5m.5 0h.5m23 0h.5M456.2 230.6h.5m.5 0h.5m18 0h.5m9 0h.5m8.5 0h.5M453.7 231.1h.5m.5 0h1m.5 0h.5m23.5 0h.5m.5 0h.5m6.5 0h.5M457.2 231.6h1m.5 0h.5m.5 0h.5m1.5 0h.5m1.5 0h1m18 0h.5m1.5 0h.5M452.7 232.1h.5m.5 0h.5m4 0h.5m.5 0h.5m6.5 0h.5m5 0h.5m3 0h.5m3.5 0h.5m5.5 0h.5m31.5 0h.5M456.2 232.6h.5m5 0h.5m8 0h.5m2 0h1m1.5 0h.5m1.5 0h.5M456.7 233.1h1m2.5 0h.5m.5 0h.5m.5 0h.5m1 0h.5m4.5 0h.5m2 0h.5m3 0h.5m2 0h.5m1.5 0h.5m.5 0h.5m3 0h.5m6.5 0h.5M455.2 233.6h1m9 0h.5m2.5 0h.5m1.5 0h.5m4.5 0h.5M464.7 234.1h.5m3 0h.5m6 0h.5m6.5 0h.5m2.5 0h.5M459.2 234.6h.5m9.5 0h.5M474.2 235.1h.5m5.5 0h.5m6.5 0h.5M456.2 235.6h.5m9.5 0h.5m2.5 0h.5M453.7 236.1h.5m4.5 0h.5m1 0h.5m2 0h.5M453.2 236.6h.5m19.5 0h.5m1.5 0h.5M473.2 237.1h1m6.5 0h.5m5 0h.5m4.5 0h.5M466.2 238.1h.5m16 0h.5m3.5 0h.5M469.2 238.6h.5m11.5 0h.5M477.7 239.1h.5m10.5 0h.5m9.5 0h.5M473.7 239.6h.5m1 0h.5M486.7 240.1h.5M466.7 241.1h.5m14 0h.5M454.2 241.6h.5m8.5 0h.5m26.5 0h.5m4.5 0h.5M471.2 244.6h.5M450.7 248.1h.5M478.7 249.1h.5" stroke="#2526fd" stroke-width="0.5" stroke-opacity="0.9" fill="none"/>
<path d="M510.7 209.6h.5m4.5 0h.5m3.5 0h.5m2.5 0h.5M509.7 210.1h.5m2.5 0h.5m1 0h.5m1.5 0h.5m2 0h.5m1 0h.5m1.5 0h.5m2 0h1M500.2 210.6h.5m9.5 0h.5m.5 0h1m1 0h1m1.5 0h.5m.5 0h.5m2.5 0h.5m2 0h3M496.7 211.1h.5m.5 0h.5m3 0h.5m2 0h.5m4 0h.5m3.5 0h.5m.5 0h.5m1 0h1.5m1.5 0h1m1.5 0h1.5m1.5 0h1m1 0h.5m.5 0h1M489.7 211.6h2.5m1.5 0h.5m3.5 0h.5m1 0h.5m.5 0h.5m.5 0h.5m.5 0h.5m2 0h.5m1 0h1.5m.5 0h1.5m4 0h1m8 0h1m1.5 0h.5m.5 0h.5m.5 0h.5M482.7 212.1h.5m2 0h.5m5 0h.5m.5 0h1m2.5 0h1m1.5 0h.5m1.5 0h.5m23.5 0h1m1.5 0h.5m.5 0h.5M483.7 212.6h.5m5 0h.5m1 0h.5m1.5 0h.5m31 0h.5m.5 0h1.5m.5 0h.5M475.7 213.1h1m1.5 0h1m5 0h.5m2.5 0h1m36 0h.5m.5 0h.5m.5 0h1M469.2 213.6h.5m2 0h1.5m2 0h1.5m1 0h.5m1 0h.5m.5 0h.5m1.5 0h.5m.5 0h.5m3 0h1.5M468.7 214.1h.5m.5 0h1m3 0h.5m.5 0h1m2.5 0h1m.5 0h.5m1 0h.5M467.2 214.6h.5m.5 0h.5M462.7 215.1h.5m2.5 0h.5m2 0h.5m.5 0h1M459.7 215.6h1m3 0h.5m1.5 0h1.5M459.2 216.1h.5m1 0h.5m.5 0h1m.5 0h.5m1.5 0h.5M458.7 216.6h1.5M456.2 217.1h.5m3 0h.5m65.5 0h.5m.5 0h.5M453.7 217.6h1m2.5 0h1.5m.5 0h.5m64.5 0h.5m2 0h1M453.2 218.1h.5m2 0h1m.5 0h1m63.5 0h1.5m.5 0h.5m1 0h1m.5 0h.5M452.7 218.6h.5m.5 0h.5m.5 0h1m64.5 0h.5m1 0h.5m.5 0h.5m.5 0h.5m.5 0h.5m.5 0h.5M449.7 219.1h.5m4 0h.5m69 0h1m2 0h1M450.7 219.6h.5m.5 0h.5m1.5 0h.5m65 0h1m.5 0h.5m1 0h1.5m3.5 0h.5M449.2 220.1h.5m.5 0h.5m1 0h1m65 0h.5m1.5 0h.5m2.5 0h1m1 0h1M449.2 220.6h1m.5 0h1.5m69 0h1m2.5 0h.5M514.2 221.1h.5m.5 0h.5m1.5 0h.5M512.7 221.6h.5m.5 0h1m1.5 0h.5M509.2 222.1h.5m1 0h.5m.5 0h.5m2.5 0h.5M507.7 222.6h.5m.5 0h1m1 0h.5M449.7 223.1h.5m55 0h1.5m2 0h.5M449.2 223.6h1.5m55 0h1.5m1 0h.5M449.7 224.1h1m50 0h.5m1 0h1m1.5 0h.5m1 0h.5M449.2 224.6h.5m1.5 0h.5m47.5 0h.5m.5 0h.5M497.7 225.1h1m4 0h.5M451.2 225.6h2m38.5 0h.5m.5 0h.5m3.5 0h.5M449.2 226.1h.5m1 0h1m.5 0h.5m33.5 0h.5m1 0h1.5m.5 0h.5m2.5 0h1m1 0h.5M449.7 226.6h1m1.5 0h.5m.5 0h.5m31 0h.5m1.5 0h.5m1 0h.5m1.5 0h1m1 0h.5m.5 0h.5M449.7 227.1h.5m3 0h1m.5 0h.5m29 0h1m4.5 0h.5M450.7 227.6h.5m2.5 0h.5m.5 0h.5m.5 0h.5m.5 0h1m23.5 0h.5m.5 0h.5m.5 0h.5M451.7 228.1h.5m1.5 0h.5m.5 0h.5m1.5 0h.5m1 0h.5m21 0h1m4 0h1M455.2 228.6h.5m3 0h.5m.5 0h.5m1.5 0h.5m9.5 0h.5m3.5 0h.5m.5 0h.5m1 0h1m1.5 0h1m2 0h.5M454.7 229.1h.5m1 0h.5m4.5 0h.5m1 0h.5m5.5 0h1m.5 0h1m.5 0h.5m.5 0h1m.5 0h.5m.5 0h.5m1 0h.5m.5 0h1m.5 0h.5M458.2 229.6h.5m3 0h.5m1 0h.5m2 0h1m.5 0h1.5m3.5 0h1m1 0h.5m.5 0h.5m3.5 0h.5M461.2 230.1h1m.5 0h1m.5 0h2.5m.5 0h.5m1.5 0h1m1 0h.5m.5 0h1.5m3 0h.5m.5 0h.5M461.2 230.6h.5m.5 0h1m2.5 0h1m3 0h.5m2.5 0h.5m1.5 0h.5M465.7 231.1h.5m1.5 0h1.5m.5 0h1m2 0h1m.5 0h.5M467.2 231.6h.5m1 0h1m.5 0h.5m1.5 0h.5m1.5 0h1M466.7 232.1h1m.5 0h.5M468.7 232.6h.5" stroke="#1f23fa" stroke-width="0.5" stroke-opacity="1" fill="none"/>
<path d="M511.2 211.1h1M505.2 211.6h.5m4 0h.5m.5 0h1m.5 0h.5m2.5 0h1m.5 0h1.5m1.5 0h2M500.7 212.1h.5m1.5 0h.5m1 0h2m.5 0h1m1.5 0h.5m1 0h3.5m.5 0h1m.5 0h3.5m.5 0h2M495.2 212.6h3.5m.5 0h3m1 0h1.5m3 0h2m5 0h.5m.5 0h1.5m.5 0h.5m.5 0h1.5m.5 0h1m.5 0h.5M491.7 213.1h.5m1 0h2.5m1 0h.5m1 0h.5m1 0h1.5m12.5 0h1.5m2.5 0h1m1 0h1.5m.5 0h1.5m.5 0h.5m3 0h.5M483.7 213.6h1.5m3 0h.5m.5 0h.5m1 0h2m.5 0h1.5m4.5 0h1m21 0h2m1 0h1m.5 0h.5m.5 0h.5M482.2 214.1h.5m.5 0h2.5m1 0h.5m1.5 0h1m.5 0h1m30 0h1m.5 0h.5m.5 0h1.5m.5 0h1m.5 0h.5M472.7 214.6h1m.5 0h.5m1.5 0h1m1.5 0h1m1 0h4.5m1 0h.5m.5 0h.5m34 0h.5m.5 0h1m.5 0h.5m2 0h1M471.2 215.1h.5m.5 0h1.5m2 0h1.5m1 0h1.5m.5 0h1m.5 0h1m39.5 0h.5m.5 0h1m.5 0h1.5m.5 0h1M467.7 215.6h1m.5 0h.5m2 0h.5m49 0h1m1 0h1.5m.5 0h.5m.5 0h1.5M465.7 216.1h.5m.5 0h1.5m.5 0h1m51.5 0h1m.5 0h4M461.2 216.6h1m1 0h.5m.5 0h1m.5 0h1m54 0h2m.5 0h.5m.5 0h1M461.7 217.1h2m.5 0h1m55 0h.5m.5 0h4M460.2 217.6h1m58.5 0h1m1 0h1.5M459.7 218.1h.5m58.5 0h.5M455.7 218.6h1.5m62 0h.5M455.2 219.1h1m.5 0h1.5m.5 0h.5m58 0h2.5M454.7 219.6h1.5m58.5 0h1m1 0h.5m1 0h1M453.2 220.1h1m.5 0h.5m58.5 0h.5m.5 0h1m1 0h.5M453.7 220.6h1m55 0h.5m1 0h4M449.7 221.1h1.5m1 0h.5m1 0h.5m54 0h1m1.5 0h1.5m1.5 0h.5M449.7 221.6h2m1 0h.5m54 0h.5m.5 0h1.5m.5 0h.5m1 0h.5M450.2 222.1h1m.5 0h1.5m52 0h2m.5 0h.5M450.2 222.6h2m.5 0h.5m47.5 0h4m2 0h1M450.2 223.1h1m.5 0h1.5m46 0h.5m1 0h2.5m.5 0h1M451.2 223.6h1m46.5 0h.5m1 0h.5m1 0h.5m.5 0h.5M451.2 224.1h.5m.5 0h.5m.5 0h.5m41 0h4.5M452.2 224.6h1m37 0h.5m.5 0h3.5m1.5 0h1m.5 0h1M453.2 225.1h1.5m33.5 0h.5m.5 0h1m1 0h3.5M453.7 225.6h1m.5 0h.5m29 0h.5m2 0h1.5m1.5 0h1M454.7 226.1h2.5m26.5 0h2M454.2 226.6h.5m1 0h.5m1 0h1.5m23 0h1m.5 0h.5M455.2 227.1h1.5m1.5 0h.5m1 0h1m.5 0h.5m.5 0h1m10.5 0h1m2 0h.5m2 0h1m.5 0h.5m1.5 0h1M457.7 227.6h1m1 0h1m1 0h.5m1 0h1m.5 0h.5m3 0h.5m1 0h3.5m1 0h1m1 0h1m1.5 0h2M459.2 228.1h1m.5 0h1m.5 0h.5m.5 0h2.5m.5 0h1m.5 0h1m.5 0h2m3 0h1m.5 0h1.5m.5 0h1M463.2 228.6h1m.5 0h.5m.5 0h2m.5 0h.5m.5 0h2M466.7 229.1h1" stroke="#1a21f8" stroke-width="0.5" stroke-opacity="1" fill="none"/>
<path d="M504.7 212.6h1m1 0h1m2.5 0h1.5m.5 0h.5M501.2 213.1h.5m.5 0h5.5m.5 0h5m2 0h2.5M494.7 213.6h1m.5 0h2m2 0h3.5m5 0h1.5m2 0h4.5m1.5 0h3M491.2 214.1h1m.5 0h1m1 0h4m.5 0h.5m.5 0h2m11 0h1m.5 0h2.5m.5 0h3.5M488.2 214.6h1m.5 0h1m.5 0h6.5m.5 0h1.5m.5 0h.5m13.5 0h3m.5 0h.5m.5 0h1m.5 0h.5M483.2 215.1h1m1.5 0h.5m.5 0h.5m1 0h.5m27.5 0h1m1 0h2.5M472.2 215.6h4m1 0h2m.5 0h.5m.5 0h1.5m1 0h3.5m30 0h4.5M469.7 216.1h3.5m.5 0h.5m42 0h1m.5 0h2m.5 0h1M466.7 216.6h1.5m.5 0h1.5m46 0h.5m1 0h2.5M465.7 217.1h1m.5 0h.5m49.5 0h.5m.5 0h2M461.2 217.6h1.5m.5 0h2m.5 0h.5m49 0h1m.5 0h1.5m1 0h.5M460.2 218.1h.5m.5 0h3m49.5 0h5M459.7 218.6h1.5m52 0h1m.5 0h2.5m.5 0h.5M459.2 219.1h1m51.5 0h2.5m1 0h1.5M456.7 219.6h1m1 0h1m49.5 0h.5m.5 0h1m.5 0h.5m.5 0h2M455.2 220.1h3.5m49 0h5M454.7 220.6h.5m.5 0h1.5m49.5 0h.5m.5 0h.5m.5 0h.5M454.2 221.1h.5m.5 0h.5m50 0h1m.5 0h1M453.7 221.6h1.5m46 0h3m.5 0h.5m.5 0h1M453.2 222.1h.5m.5 0h.5m45 0h1.5m.5 0h.5m.5 0h.5m.5 0h1M453.7 222.6h.5m44.5 0h1.5M453.7 223.1h1m38.5 0h1.5m2.5 0h2M453.2 223.6h1m.5 0h.5m35 0h.5m.5 0h1.5m.5 0h3m.5 0h1m.5 0h.5M453.7 224.1h1.5m34.5 0h1.5m.5 0h1m.5 0h.5m.5 0h.5M454.2 224.6h.5m.5 0h.5m29.5 0h3m1 0h1M455.2 225.1h.5m.5 0h1m26.5 0h1m1.5 0h.5m.5 0h.5M457.2 225.6h2m23 0h1m.5 0h.5M458.2 226.1h.5m.5 0h4.5m13.5 0h3m.5 0h.5m.5 0h.5m.5 0h1M458.7 226.6h1m.5 0h10.5m.5 0h.5m.5 0h1m1 0h1m.5 0h.5m.5 0h2.5m.5 0h.5m.5 0h.5M463.2 227.1h1m.5 0h2m.5 0h5m3 0h1M466.2 227.6h1.5" stroke="#141ef5" stroke-width="0.5" stroke-opacity="1" fill="none"/>
<path d="M503.7 213.6h4.5m2 0h2M502.2 214.1h11M500.7 214.6h3.5m3.5 0h2.5m1 0h2.5M488.7 215.1h14.5m9 0h4M486.7 215.6h16m9.5 0h4M474.2 216.1h13.5m8.5 0h1.5m15 0h3.5M470.2 216.6h10.5m32 0h3.5M467.7 217.1h3m41.5 0h4M466.2 217.6h2.5m43 0h3M464.2 218.1h2m43.5 0h4M461.2 218.6h3.5m44 0h4.5M460.2 219.1h2.5m45 0h4M459.7 219.6h1m45.5 0h3M458.7 220.1h1.5m45 0h2.5M457.2 220.6h2m42.5 0h5M455.7 221.1h3m41 0h6M455.2 221.6h3m40.5 0h2.5M454.7 222.1h3m35 0h7M454.7 222.6h2m34 0h8M454.7 223.1h1.5m33.5 0h3m2 0h2M455.2 223.6h1m32.5 0h1.5M455.2 224.1h2m27 0h5M455.7 224.6h3m24 0h2M457.2 225.1h3m21.5 0h2M459.2 225.6h6m11 0h6M463.7 226.1h13.5" stroke="#0a4bfa" stroke-width="0.5" stroke-opacity="1" fill="none"/>
<path d="M504.2 214.6h3.5m2.5 0h1M503.2 215.1h9M502.7 215.6h9.5M487.7 216.1h8.5m1.5 0h6m2.5 0h2.5m1 0h3M480.7 216.6h23m5.5 0h3.5M470.7 217.1h10.5m11 0h7m2.5 0h1.5m4.5 0h4.5M468.7 217.6h2.5m31 0h1m4 0h4.5M466.2 218.1h2.5m38 0h3M464.7 218.6h1.5m36.5 0h6M462.7 219.1h2m37.5 0h5.5M460.7 219.6h2.5m38 0h5M460.2 220.1h1.5m38.5 0h5M459.2 220.6h1.5m31.5 0h2.5m4 0h3M458.7 221.1h1.5m31.5 0h8M458.2 221.6h1.5m31 0h8M457.7 222.1h1.5m30.5 0h3M456.7 222.6h2.5m29.5 0h2M456.2 223.1h3m28.5 0h2M456.2 223.6h3m24.5 0h5M457.2 224.1h3m22 0h2M458.7 224.6h4m18.5 0h1.5M460.2 225.1h7m8.5 0h6M465.2 225.6h11" stroke="#007efc" stroke-width="0.5" stroke-opacity="1" fill="none"/>
<path d="M503.7 216.1h2.5m2.5 0h1M503.7 216.6h5.5M481.2 217.1h11m7 0h2.5m1.5 0h4.5M471.2 217.6h11m2.5 0h17.5m1 0h4M468.7 218.1h2.5m1 0h.5m17.5 0h16.5M466.2 218.6h2m23 0h11.5M464.7 219.1h1.5m25 0h4.5m1 0h.5m1 0h4M463.2 219.6h2m25.5 0h10.5M461.7 220.1h2m27 0h9.5M460.7 220.6h1.5m28 0h2m2.5 0h4M460.2 221.1h1m28.5 0h2M459.7 221.6h1m28 0h2M459.2 222.1h1.5m27 0h2M459.2 222.6h1.5m24 0h4M459.2 223.1h1.5m22.5 0h4.5M459.2 223.6h2.5m20 0h2M460.2 224.1h3m17.5 0h1.5M462.7 224.6h5m7.5 0h6M467.2 225.1h8.5" stroke="#00bae1" stroke-width="0.5" stroke-opacity="1" fill="none"/>
<path d="M482.2 217.6h2.5M471.2 218.1h1m.5 0h17.5M468.2 218.6h5.5m11 0h6.5M466.2 219.1h2m19 0h4m4.5 0h1m.5 0h1M465.2 219.6h1m21.5 0h3M463.7 220.1h1.5m22 0h3.5M462.2 220.6h1.5m23 0h3.5M461.2 221.1h1.5m22.5 0h4.5M460.7 221.6h1.5m22 0h4.5M460.7 222.1h1.5m21.5 0h4M460.7 222.6h1.5m20.5 0h2M460.7 223.1h2m18.5 0h2M461.7 223.6h2m13.5 0h.5m2.5 0h1.5M463.2 224.1h4m7.5 0h6M467.7 224.6h7.5" stroke="#17d67d" stroke-width="0.5" stroke-opacity="1" fill="none"/>
<path d="M473.7 218.6h11M468.2 219.1h6m6.5 0h6.5M466.2 219.6h2m14 0h5.5M465.2 220.1h1.5m16 0h4.5M463.7 220.6h2m17 0h4M462.7 221.1h2m18 0h2.5M462.2 221.6h1.5m18.5 0h2M462.2 222.1h1.5m18 0h2M462.2 222.6h1.5m17 0h2M462.7 223.1h3m11 0h1m2 0h1.5M463.7 223.6h3.5m6.5 0h3.5m.5 0h2.5M467.2 224.1h7.5" stroke="#5be42f" stroke-width="0.5" stroke-opacity="1" fill="none"/>
<path d="M474.2 219.1h6.5M468.2 219.6h10.5m.5 0h3M466.7 220.1h1.5m12 0h2.5M465.7 220.6h1.5m13.5 0h2M464.7 221.1h1.5m14.5 0h2M463.7 221.6h2.5m14 0h2M463.7 222.1h2.5m13.5 0h2M463.7 222.6h3m9.5 0h4.5M465.7 223.1h1.5m6.5 0h3m1 0h2M467.2 223.6h6.5" stroke="#c8e913" stroke-width="0.5" stroke-opacity="1" fill="none"/>
<path d="M478.7 219.6h.5M468.2 220.1h12M467.2 220.6h1.5m8 0h4M466.2 221.1h1.5m10 0h3M466.2 221.6h1m10 0h3M466.2 222.1h1m7.5 0h5M466.7 222.6h1m5.5 0h3M467.2 223.1h6.5" stroke="#f69a03" stroke-width="0.5" stroke-opacity="1" fill="none"/>
<path d="M468.7 220.6h8M467.7 221.1h10M467.2 221.6h10M467.2 222.1h7.5M467.7 222.6h5.5" stroke="#ff4100" stroke-width="0.5" stroke-opacity="1" fill="none"/>
<line x1="427.5" y1="225.9" x2="530.1" y2="225.9" stroke="#808080" stroke-width="1.4"/>
<line x1="530.1" y1="225.9" x2="530.1" y2="274.8" stroke="#c4c4c4" stroke-width="0.9"/>
<path d="M427.5,225.9 V172.5 H530.1 V225.9" fill="none" stroke="#2a2a2a" stroke-width="1.5"/>
<line x1="427.5" y1="172.5" x2="427.5" y2="274.8" stroke="#333" stroke-width="1.2"/>
<line x1="427.5" y1="274.8" x2="530.1" y2="274.8" stroke="#333" stroke-width="1.2"/>
<line x1="424.7" y1="274.8" x2="427.5" y2="274.8" stroke="#333" stroke-width="1.1"/>
<line x1="425.9" y1="270.5" x2="427.5" y2="270.5" stroke="#555" stroke-width="0.7"/>
<line x1="425.9" y1="268.0" x2="427.5" y2="268.0" stroke="#555" stroke-width="0.7"/>
<line x1="425.9" y1="266.3" x2="427.5" y2="266.3" stroke="#555" stroke-width="0.7"/>
<line x1="425.9" y1="264.9" x2="427.5" y2="264.9" stroke="#555" stroke-width="0.7"/>
<line x1="425.9" y1="263.7" x2="427.5" y2="263.7" stroke="#555" stroke-width="0.7"/>
<line x1="425.9" y1="262.7" x2="427.5" y2="262.7" stroke="#555" stroke-width="0.7"/>
<line x1="425.9" y1="262.0" x2="427.5" y2="262.0" stroke="#555" stroke-width="0.7"/>
<line x1="425.9" y1="261.3" x2="427.5" y2="261.3" stroke="#555" stroke-width="0.7"/>
<text x="0" y="0" font-size="5.2" text-anchor="middle" fill="#555" transform="translate(419.3 277.4) rotate(-38)">10<tspan dy="-2.4" font-size="3.8">0</tspan></text>
<line x1="424.7" y1="260.6" x2="427.5" y2="260.6" stroke="#333" stroke-width="1.1"/>
<line x1="425.9" y1="256.3" x2="427.5" y2="256.3" stroke="#555" stroke-width="0.7"/>
<line x1="425.9" y1="253.8" x2="427.5" y2="253.8" stroke="#555" stroke-width="0.7"/>
<line x1="425.9" y1="252.1" x2="427.5" y2="252.1" stroke="#555" stroke-width="0.7"/>
<line x1="425.9" y1="250.7" x2="427.5" y2="250.7" stroke="#555" stroke-width="0.7"/>
<line x1="425.9" y1="249.5" x2="427.5" y2="249.5" stroke="#555" stroke-width="0.7"/>
<line x1="425.9" y1="248.5" x2="427.5" y2="248.5" stroke="#555" stroke-width="0.7"/>
<line x1="425.9" y1="247.8" x2="427.5" y2="247.8" stroke="#555" stroke-width="0.7"/>
<line x1="425.9" y1="247.1" x2="427.5" y2="247.1" stroke="#555" stroke-width="0.7"/>
<text x="0" y="0" font-size="5.2" text-anchor="middle" fill="#555" transform="translate(419.3 263.2) rotate(-38)">10<tspan dy="-2.4" font-size="3.8">1</tspan></text>
<line x1="424.7" y1="246.4" x2="427.5" y2="246.4" stroke="#333" stroke-width="1.1"/>
<line x1="425.9" y1="242.1" x2="427.5" y2="242.1" stroke="#555" stroke-width="0.7"/>
<line x1="425.9" y1="239.6" x2="427.5" y2="239.6" stroke="#555" stroke-width="0.7"/>
<line x1="425.9" y1="237.9" x2="427.5" y2="237.9" stroke="#555" stroke-width="0.7"/>
<line x1="425.9" y1="236.5" x2="427.5" y2="236.5" stroke="#555" stroke-width="0.7"/>
<line x1="425.9" y1="235.3" x2="427.5" y2="235.3" stroke="#555" stroke-width="0.7"/>
<line x1="425.9" y1="234.3" x2="427.5" y2="234.3" stroke="#555" stroke-width="0.7"/>
<line x1="425.9" y1="233.6" x2="427.5" y2="233.6" stroke="#555" stroke-width="0.7"/>
<line x1="425.9" y1="232.9" x2="427.5" y2="232.9" stroke="#555" stroke-width="0.7"/>
<text x="0" y="0" font-size="5.2" text-anchor="middle" fill="#555" transform="translate(419.3 249.0) rotate(-38)">10<tspan dy="-2.4" font-size="3.8">2</tspan></text>
<line x1="424.7" y1="232.2" x2="427.5" y2="232.2" stroke="#333" stroke-width="1.1"/>
<line x1="425.9" y1="227.9" x2="427.5" y2="227.9" stroke="#555" stroke-width="0.7"/>
<line x1="425.9" y1="225.4" x2="427.5" y2="225.4" stroke="#555" stroke-width="0.7"/>
<line x1="425.9" y1="223.7" x2="427.5" y2="223.7" stroke="#555" stroke-width="0.7"/>
<line x1="425.9" y1="222.3" x2="427.5" y2="222.3" stroke="#555" stroke-width="0.7"/>
<line x1="425.9" y1="221.1" x2="427.5" y2="221.1" stroke="#555" stroke-width="0.7"/>
<line x1="425.9" y1="220.1" x2="427.5" y2="220.1" stroke="#555" stroke-width="0.7"/>
<line x1="425.9" y1="219.4" x2="427.5" y2="219.4" stroke="#555" stroke-width="0.7"/>
<line x1="425.9" y1="218.7" x2="427.5" y2="218.7" stroke="#555" stroke-width="0.7"/>
<text x="0" y="0" font-size="5.2" text-anchor="middle" fill="#555" transform="translate(419.3 234.8) rotate(-38)">10<tspan dy="-2.4" font-size="3.8">3</tspan></text>
<line x1="424.7" y1="218.0" x2="427.5" y2="218.0" stroke="#333" stroke-width="1.1"/>
<line x1="425.9" y1="213.7" x2="427.5" y2="213.7" stroke="#555" stroke-width="0.7"/>
<line x1="425.9" y1="211.2" x2="427.5" y2="211.2" stroke="#555" stroke-width="0.7"/>
<line x1="425.9" y1="209.5" x2="427.5" y2="209.5" stroke="#555" stroke-width="0.7"/>
<line x1="425.9" y1="208.1" x2="427.5" y2="208.1" stroke="#555" stroke-width="0.7"/>
<line x1="425.9" y1="206.9" x2="427.5" y2="206.9" stroke="#555" stroke-width="0.7"/>
<line x1="425.9" y1="205.9" x2="427.5" y2="205.9" stroke="#555" stroke-width="0.7"/>
<line x1="425.9" y1="205.2" x2="427.5" y2="205.2" stroke="#555" stroke-width="0.7"/>
<line x1="425.9" y1="204.5" x2="427.5" y2="204.5" stroke="#555" stroke-width="0.7"/>
<text x="0" y="0" font-size="5.2" text-anchor="middle" fill="#555" transform="translate(419.3 220.6) rotate(-38)">10<tspan dy="-2.4" font-size="3.8">4</tspan></text>
<line x1="424.7" y1="203.8" x2="427.5" y2="203.8" stroke="#333" stroke-width="1.1"/>
<line x1="425.9" y1="199.5" x2="427.5" y2="199.5" stroke="#555" stroke-width="0.7"/>
<line x1="425.9" y1="197.0" x2="427.5" y2="197.0" stroke="#555" stroke-width="0.7"/>
<line x1="425.9" y1="195.3" x2="427.5" y2="195.3" stroke="#555" stroke-width="0.7"/>
<line x1="425.9" y1="193.9" x2="427.5" y2="193.9" stroke="#555" stroke-width="0.7"/>
<line x1="425.9" y1="192.7" x2="427.5" y2="192.7" stroke="#555" stroke-width="0.7"/>
<line x1="425.9" y1="191.7" x2="427.5" y2="191.7" stroke="#555" stroke-width="0.7"/>
<line x1="425.9" y1="191.0" x2="427.5" y2="191.0" stroke="#555" stroke-width="0.7"/>
<line x1="425.9" y1="190.3" x2="427.5" y2="190.3" stroke="#555" stroke-width="0.7"/>
<text x="0" y="0" font-size="5.2" text-anchor="middle" fill="#555" transform="translate(419.3 206.4) rotate(-38)">10<tspan dy="-2.4" font-size="3.8">5</tspan></text>
<line x1="424.7" y1="189.6" x2="427.5" y2="189.6" stroke="#333" stroke-width="1.1"/>
<line x1="425.9" y1="185.3" x2="427.5" y2="185.3" stroke="#555" stroke-width="0.7"/>
<line x1="425.9" y1="182.8" x2="427.5" y2="182.8" stroke="#555" stroke-width="0.7"/>
<line x1="425.9" y1="181.1" x2="427.5" y2="181.1" stroke="#555" stroke-width="0.7"/>
<line x1="425.9" y1="179.7" x2="427.5" y2="179.7" stroke="#555" stroke-width="0.7"/>
<line x1="425.9" y1="178.5" x2="427.5" y2="178.5" stroke="#555" stroke-width="0.7"/>
<line x1="425.9" y1="177.5" x2="427.5" y2="177.5" stroke="#555" stroke-width="0.7"/>
<line x1="425.9" y1="176.8" x2="427.5" y2="176.8" stroke="#555" stroke-width="0.7"/>
<line x1="425.9" y1="176.1" x2="427.5" y2="176.1" stroke="#555" stroke-width="0.7"/>
<text x="0" y="0" font-size="5.2" text-anchor="middle" fill="#555" transform="translate(419.3 192.2) rotate(-38)">10<tspan dy="-2.4" font-size="3.8">6</tspan></text>
<line x1="424.7" y1="175.4" x2="427.5" y2="175.4" stroke="#333" stroke-width="1.1"/>
<text x="0" y="0" font-size="5.2" text-anchor="middle" fill="#555" transform="translate(419.3 178.0) rotate(-38)">10<tspan dy="-2.4" font-size="3.8">7</tspan></text>
<line x1="427.5" y1="274.8" x2="427.5" y2="277.6" stroke="#333" stroke-width="1"/>
<line x1="433.6" y1="274.8" x2="433.6" y2="276.3" stroke="#666" stroke-width="0.6"/>
<line x1="439.7" y1="274.8" x2="439.7" y2="276.3" stroke="#666" stroke-width="0.6"/>
<line x1="445.8" y1="274.8" x2="445.8" y2="276.3" stroke="#666" stroke-width="0.6"/>
<line x1="452.0" y1="274.8" x2="452.0" y2="276.3" stroke="#666" stroke-width="0.6"/>
<text x="428.3" y="283.1" font-size="5" text-anchor="middle" fill="#444">0</text>
<line x1="458.1" y1="274.8" x2="458.1" y2="277.6" stroke="#333" stroke-width="1"/>
<line x1="464.2" y1="274.8" x2="464.2" y2="276.3" stroke="#666" stroke-width="0.6"/>
<line x1="470.3" y1="274.8" x2="470.3" y2="276.3" stroke="#666" stroke-width="0.6"/>
<line x1="476.4" y1="274.8" x2="476.4" y2="276.3" stroke="#666" stroke-width="0.6"/>
<line x1="482.5" y1="274.8" x2="482.5" y2="276.3" stroke="#666" stroke-width="0.6"/>
<text x="458.9" y="283.1" font-size="5" text-anchor="middle" fill="#444">5.0M</text>
<line x1="488.6" y1="274.8" x2="488.6" y2="277.6" stroke="#333" stroke-width="1"/>
<line x1="494.8" y1="274.8" x2="494.8" y2="276.3" stroke="#666" stroke-width="0.6"/>
<line x1="500.9" y1="274.8" x2="500.9" y2="276.3" stroke="#666" stroke-width="0.6"/>
<line x1="507.0" y1="274.8" x2="507.0" y2="276.3" stroke="#666" stroke-width="0.6"/>
<line x1="513.1" y1="274.8" x2="513.1" y2="276.3" stroke="#666" stroke-width="0.6"/>
<text x="489.4" y="283.1" font-size="5" text-anchor="middle" fill="#444">10M</text>
<line x1="519.2" y1="274.8" x2="519.2" y2="277.6" stroke="#333" stroke-width="1"/>
<line x1="525.3" y1="274.8" x2="525.3" y2="276.3" stroke="#666" stroke-width="0.6"/>
<text x="520.0" y="283.1" font-size="5" text-anchor="middle" fill="#444">15M</text>
<text x="479.2" y="201" font-size="10.8" text-anchor="middle" font-weight="bold" font-style="normal" fill="#1a1a1a" >98.8%</text>
<path d="M644.7 206.1h.5M629.2 206.6h.5M627.7 207.1h.5m8 0h.5m3 0h.5M622.2 207.6h.5m8 0h.5M631.7 208.1h.5m7.5 0h.5m.5 0h.5m4 0h.5M635.2 208.6h.5M612.7 209.1h.5m11 0h.5m3.5 0h1m3 0h.5m2 0h.5M605.2 209.6h.5m21.5 0h1m10.5 0h1m1 0h.5M606.7 210.1h.5m.5 0h.5m18 0h.5M585.7 210.6h.5m9 0h1m5.5 0h.5m14.5 0h.5m5.5 0h.5m.5 0h.5m1 0h.5M589.2 211.1h.5m2 0h1m7.5 0h.5m4 0h.5m3.5 0h.5m10 0h.5M594.7 211.6h.5M590.7 212.1h.5m1.5 0h.5M588.2 212.6h.5m6.5 0h.5M584.7 213.1h.5M583.7 213.6h.5M568.7 214.1h.5M577.7 214.6h.5m4 0h.5M579.7 215.1h.5M577.7 215.6h.5M573.7 216.1h.5M571.7 216.6h.5m1 0h.5m2 0h1M568.7 217.1h.5m3 0h.5m1 0h.5M569.7 217.6h.5M568.2 218.6h.5m2.5 0h.5M644.7 219.6h.5M644.7 220.1h.5M642.2 220.6h.5M642.7 221.1h.5m2 0h.5M638.2 221.6h.5M643.2 222.1h.5M634.2 222.6h.5M637.2 223.1h.5M636.2 223.6h.5m1.5 0h.5M630.2 224.1h.5m1 0h.5M622.7 225.1h.5m2 0h.5M620.2 225.6h1m5.5 0h.5M624.7 226.1h.5M616.2 226.6h.5m.5 0h.5M622.7 227.1h.5m1 0h.5m8.5 0h.5M608.2 227.6h.5M567.7 228.6h.5m38.5 0h.5M603.2 229.1h.5m1.5 0h1m4 0h.5M571.7 229.6h.5m30 0h.5m3 0h.5M603.2 230.1h.5m4 0h.5M571.7 230.6h.5m1 0h.5m3 0h.5m18.5 0h.5m1 0h.5m2 0h.5m10 0h.5M573.7 231.1h1m2.5 0h.5m2.5 0h.5m2.5 0h.5m6.5 0h.5m3.5 0h1m1 0h.5m3 0h.5m1 0h.5M575.7 231.6h.5m4 0h.5m.5 0h.5m1.5 0h.5m3 0h.5M569.2 232.1h.5m7 0h.5m7.5 0h1m6 0h.5m.5 0h.5m4 0h.5m15.5 0h.5m1 0h.5M568.7 232.6h.5m4 0h1m.5 0h.5m5 0h1m11.5 0h.5m7 0h.5m.5 0h1M579.2 233.1h.5m5.5 0h.5m1.5 0h.5m10.5 0h.5m5.5 0h.5m.5 0h.5m8.5 0h.5M576.2 233.6h.5m.5 0h.5m5 0h.5m40.5 0h.5M575.2 234.1h.5m12.5 0h1m4.5 0h.5m2.5 0h.5m5 0h.5m2 0h.5M589.7 234.6h.5m3.5 0h.5m26.5 0h.5M575.2 235.1h.5m20.5 0h.5m14.5 0h.5m6.5 0h.5m7.5 0h.5M572.2 235.6h.5m7.5 0h.5m1 0h.5m15.5 0h.5m1.5 0h.5m6 0h.5m.5 0h.5M578.7 236.1h.5m5 0h.5m13 0h1m.5 0h.5m2 0h.5m3.5 0h.5M567.7 236.6h.5m1.5 0h.5M591.7 237.1h.5m7.5 0h.5m18.5 0h.5M570.2 237.6h.5M572.7 238.1h.5m11 0h1M599.7 238.6h.5M584.7 239.1h.5m23 0h.5M577.7 239.6h.5m5 0h.5M593.2 240.6h.5M573.2 241.1h.5m7 0h.5M610.2 242.6h.5M574.7 243.1h.5m19 0h.5M597.2 244.6h.5" stroke="#2526fd" stroke-width="0.5" stroke-opacity="0.9" fill="none"/>
<path d="M645.7 209.1h.5M631.7 209.6h.5m3 0h.5m9 0h.5M628.7 210.1h.5m.5 0h.5m2 0h.5m.5 0h.5m1 0h.5m.5 0h1m3 0h.5m2.5 0h.5m1.5 0h.5m.5 0h.5M628.2 210.6h.5m1 0h1m1.5 0h1m1 0h1m.5 0h1m1 0h1m2.5 0h1.5m.5 0h.5m1.5 0h1M614.7 211.1h.5m6.5 0h.5m5 0h.5m1.5 0h1m2.5 0h.5m2 0h1m1 0h1.5m.5 0h.5m1.5 0h.5m1 0h.5m2 0h.5M600.2 211.6h.5m8 0h.5m5 0h1m4.5 0h1m2 0h1m.5 0h.5m1 0h.5m7.5 0h.5m8 0h.5m1 0h.5m.5 0h1M598.7 212.1h1m.5 0h1m6.5 0h.5m6.5 0h1m1 0h1.5m.5 0h.5m.5 0h.5m1 0h.5m.5 0h.5m.5 0h.5m19 0h.5m2.5 0h.5M594.2 212.6h.5m5 0h1m1.5 0h.5m1.5 0h.5m1.5 0h.5m.5 0h.5m.5 0h.5m1 0h.5m2.5 0h.5m3 0h.5m1 0h.5m24.5 0h.5m.5 0h.5m.5 0h.5m.5 0h.5M590.7 213.1h.5m.5 0h.5m1.5 0h.5m1 0h.5m2 0h1m.5 0h1.5m1.5 0h.5m.5 0h1.5m4.5 0h.5m1.5 0h1m31.5 0h.5M589.7 213.6h.5m1 0h.5m1.5 0h1m.5 0h.5m3 0h1.5m1.5 0h1m41.5 0h.5M586.2 214.1h.5m2 0h1m.5 0h.5m2.5 0h.5m2 0h.5m.5 0h.5m.5 0h.5m46 0h1m.5 0h.5M584.7 214.6h1.5m58 0h.5m.5 0h.5M584.2 215.1h.5m60.5 0h1M578.7 215.6h1m1 0h.5m.5 0h.5m2 0h.5m1.5 0h1m58.5 0h.5M578.2 216.1h.5m1.5 0h.5m1 0h.5m.5 0h.5m62 0h.5M578.2 216.6h.5m.5 0h.5m1.5 0h.5m62.5 0h.5m.5 0h.5M577.7 217.1h1.5m65 0h.5m.5 0h.5M572.7 217.6h.5m2.5 0h.5m.5 0h1m66.5 0h.5M575.2 218.1h.5m66.5 0h1.5m2 0h.5M572.7 218.6h.5m.5 0h1m.5 0h.5m66 0h1m1 0h1m.5 0h.5M571.7 219.1h.5m1 0h1m64.5 0h.5m4.5 0h.5M567.7 219.6h1.5m2.5 0h.5m65.5 0h1m2.5 0h1m.5 0h.5m.5 0h.5M568.7 220.1h.5m1 0h1m64.5 0h1m1 0h.5m.5 0h.5M567.7 220.6h.5m1 0h.5m1 0h.5m.5 0h.5m61 0h.5m1 0h1m.5 0h1m1 0h.5M568.7 221.1h1m62 0h.5m1 0h.5m2 0h.5m.5 0h.5M568.2 221.6h1m61 0h.5m1.5 0h.5m2.5 0h1M567.7 222.1h.5m59 0h1m1 0h1m2 0h1m.5 0h1m.5 0h.5M626.2 222.6h.5m2.5 0h2m1.5 0h.5m.5 0h.5M567.7 223.1h1.5m57 0h2.5M567.7 223.6h.5m53.5 0h.5m2 0h1.5m.5 0h.5m1 0h.5M620.7 224.1h.5m.5 0h.5m2 0h1.5M567.7 224.6h.5m50 0h.5m1.5 0h1M567.7 225.1h.5m1 0h.5m45 0h1m3 0h.5m2 0h.5M568.2 225.6h.5m.5 0h.5m41.5 0h.5m1 0h.5m2.5 0h1m.5 0h.5m1 0h.5M567.7 226.1h1m39.5 0h.5m2 0h1m.5 0h.5m1.5 0h.5m.5 0h1m2 0h.5M568.2 226.6h2m2.5 0h.5m.5 0h.5m34 0h.5m1 0h.5m1 0h.5M568.2 227.1h1m.5 0h.5m1.5 0h.5m.5 0h.5m.5 0h1.5m27 0h1m.5 0h1.5m1.5 0h1m2.5 0h.5M567.7 227.6h.5m3 0h1.5m27.5 0h.5m.5 0h.5m1.5 0h1.5m.5 0h.5m2 0h.5M569.7 228.1h1.5m1.5 0h.5m1 0h.5m1 0h.5m.5 0h.5m18 0h1m.5 0h.5m1 0h.5m.5 0h.5m1 0h.5M570.7 228.6h.5m2 0h.5m.5 0h.5m.5 0h.5m1 0h2m1.5 0h1m.5 0h.5m8.5 0h1.5m1.5 0h.5m4 0h.5m1 0h2M571.7 229.1h.5m1 0h.5m1 0h.5m.5 0h1m.5 0h.5m1.5 0h.5m2 0h.5m1.5 0h.5m.5 0h.5m3.5 0h.5m1.5 0h.5m2.5 0h.5m1 0h1m1 0h.5m2 0h.5M572.7 229.6h.5m2 0h.5m1 0h.5m1 0h.5m.5 0h1m1 0h1m2 0h.5m1 0h.5m1 0h.5m.5 0h.5m.5 0h1m5 0h.5m2 0h.5m1 0h.5m.5 0h.5m.5 0h.5M578.2 230.1h1m2 0h.5m1.5 0h.5m1 0h.5m.5 0h.5m2 0h.5m.5 0h.5m1 0h.5m1.5 0h.5m.5 0h.5m3 0h1m.5 0h.5m1 0h.5M579.7 230.6h.5m1 0h.5m.5 0h.5m5.5 0h1m2 0h.5m1.5 0h.5M584.7 231.1h.5m1 0h.5m.5 0h.5m.5 0h.5m3.5 0h1M592.7 231.6h.5" stroke="#1f23fa" stroke-width="0.5" stroke-opacity="1" fill="none"/>
<path d="M630.7 211.1h1.5M627.7 211.6h.5m.5 0h.5m.5 0h2m.5 0h1m2 0h2.5m1 0h1m1 0h1.5M625.2 212.1h1m1.5 0h1.5m.5 0h.5m1 0h.5m.5 0h.5m.5 0h1m1 0h3m.5 0h1m.5 0h1.5M615.7 212.6h.5m4 0h.5m1 0h1m1 0h.5m1 0h.5m6.5 0h1.5m1.5 0h.5m.5 0h.5m.5 0h.5m.5 0h1m.5 0h1m.5 0h1.5M606.2 213.1h1m1 0h.5m4 0h1.5m.5 0h3.5m1 0h.5m1.5 0h1m11.5 0h1m1 0h.5m1 0h1m2.5 0h2.5M603.2 213.6h1m.5 0h2.5m.5 0h.5m1 0h2m.5 0h1m.5 0h1m2 0h.5m.5 0h.5m1 0h.5m15.5 0h2m4 0h1.5m.5 0h.5M599.7 214.1h2.5m1 0h7m1 0h.5m.5 0h.5m28 0h2M590.2 214.6h1.5m1 0h.5m2 0h.5m.5 0h1m.5 0h.5m.5 0h2m.5 0h1m1.5 0h.5m36.5 0h.5m.5 0h1.5m.5 0h.5M589.2 215.1h.5m.5 0h.5m.5 0h1m.5 0h2m.5 0h.5m1.5 0h.5m43 0h.5m.5 0h.5m.5 0h2M588.2 215.6h.5m1 0h1.5m49 0h2m1 0h1m.5 0h.5M583.7 216.1h1m.5 0h2m1.5 0h.5m51 0h.5m.5 0h.5m1 0h2M582.2 216.6h.5m2.5 0h.5m54.5 0h1m1.5 0h1.5M580.2 217.1h1m1 0h1m56.5 0h2M580.2 217.6h1.5m56 0h2m.5 0h2.5M576.7 218.1h1.5m.5 0h.5m.5 0h.5m55.5 0h4.5m.5 0h1.5M576.7 218.6h1m.5 0h.5m55.5 0h1m1 0h.5m.5 0h1m1 0h.5m.5 0h.5M574.2 219.1h.5m1 0h.5m.5 0h.5m57 0h1m.5 0h.5m1.5 0h1M573.2 219.6h1m.5 0h1.5m56 0h1.5m.5 0h1m.5 0h1.5M573.2 220.1h1.5m56 0h2m.5 0h.5m1 0h.5M572.7 220.6h1.5m52.5 0h.5m.5 0h1m.5 0h2m.5 0h1.5M570.7 221.1h1m.5 0h1.5m52 0h3.5m.5 0h1M569.7 221.6h1.5m.5 0h1.5m52 0h1.5M569.7 222.1h2m.5 0h.5m50 0h2m.5 0h.5m.5 0h.5M569.7 222.6h1m1 0h.5m47.5 0h3m2 0h.5m.5 0h.5M569.2 223.1h.5m.5 0h1.5m46.5 0h1m2 0h.5M569.2 223.6h2m.5 0h.5m42.5 0h1m.5 0h2m.5 0h1M569.2 224.1h.5m.5 0h1.5m42 0h.5m.5 0h2.5m.5 0h1.5M569.7 224.6h.5m1 0h1m38 0h.5m.5 0h.5m.5 0h1m.5 0h.5m1 0h1m1 0h1M570.2 225.1h1m.5 0h2.5m32.5 0h4.5m1 0h1M570.2 225.6h2.5m1 0h1m30.5 0h2m.5 0h1m1 0h1M571.7 226.1h1.5m1 0h.5m.5 0h1m25 0h1.5m.5 0h1m.5 0h1.5m.5 0h.5m.5 0h.5M575.2 226.6h.5m.5 0h.5m22 0h.5m.5 0h.5m.5 0h.5m1.5 0h2m.5 0h1.5M575.7 227.1h2.5m.5 0h1.5m13.5 0h1.5m.5 0h2.5m.5 0h.5m2 0h.5M576.2 227.6h.5m.5 0h3.5m.5 0h1m1 0h1.5m3 0h.5m.5 0h.5m.5 0h1m.5 0h1.5m1.5 0h1m1 0h1.5m.5 0h.5M577.7 228.1h1m.5 0h1.5m.5 0h.5m.5 0h1.5m.5 0h.5m1 0h1.5m1 0h2m1 0h1.5m.5 0h.5m.5 0h.5M578.7 228.6h1.5m2.5 0h.5m.5 0h1m.5 0h.5m1 0h.5m.5 0h1.5m.5 0h1M585.2 229.1h1.5m.5 0h.5" stroke="#1a21f8" stroke-width="0.5" stroke-opacity="1" fill="none"/>
<path d="M625.7 212.6h3m.5 0h3M622.7 213.1h2m.5 0h.5m.5 0h1.5m.5 0h5m5 0h.5m1 0h1M619.2 213.6h4m.5 0h1m8 0h1.5m3.5 0h1m.5 0h1.5M612.7 214.1h2.5m.5 0h.5m.5 0h.5m.5 0h3.5m11.5 0h1.5m.5 0h1m1 0h1.5m.5 0h2M604.7 214.6h2m1 0h6m.5 0h.5m.5 0h1m.5 0h.5m16 0h.5m.5 0h6.5M598.2 215.1h1m.5 0h1.5m1.5 0h1m.5 0h2.5m.5 0h.5m2 0h.5m.5 0h.5m1 0h.5m21.5 0h2.5m.5 0h2.5m.5 0h.5M591.7 215.6h1m.5 0h3m.5 0h2m3.5 0h.5m31.5 0h2m.5 0h2m.5 0h1M589.2 216.1h.5m1 0h1m.5 0h2m1.5 0h.5m.5 0h.5m37 0h1m.5 0h1m.5 0h1.5m1 0h.5M586.2 216.6h.5m.5 0h3m44 0h6M583.2 217.1h4m46.5 0h1.5m.5 0h.5m.5 0h.5m.5 0h2M581.7 217.6h1.5m.5 0h.5m49 0h3m.5 0h1M580.2 218.1h2.5m49.5 0h1.5m.5 0h1.5M578.7 218.6h.5m.5 0h1.5m49.5 0h3.5M577.2 219.1h1.5m.5 0h.5m49.5 0h1m.5 0h2.5M576.2 219.6h1m.5 0h.5m47.5 0h1.5m.5 0h3m.5 0h.5M574.7 220.1h.5m.5 0h.5m.5 0h.5m48.5 0h1.5m.5 0h3M574.2 220.6h.5m.5 0h1m48.5 0h.5m.5 0h.5M574.7 221.1h.5m48 0h.5m.5 0h1.5M573.2 221.6h1.5m48 0h2.5M572.7 222.1h1.5m43 0h2m.5 0h.5m.5 0h1M573.7 222.6h.5m42 0h1.5m.5 0h.5m.5 0h.5M572.2 223.1h1m.5 0h.5m39 0h.5m.5 0h2.5m.5 0h.5M572.2 223.6h1m.5 0h.5m37.5 0h3M572.2 224.1h.5m.5 0h1.5m32 0h1.5m.5 0h.5m.5 0h.5m.5 0h1m.5 0h1M572.2 224.6h3.5m27.5 0h3.5m.5 0h.5m.5 0h2M574.2 225.1h2.5m25 0h1m1 0h1.5m.5 0h.5M575.2 225.6h1.5m23.5 0h2.5m.5 0h.5m.5 0h1M576.2 226.1h3.5m.5 0h1m13 0h1m1 0h1m.5 0h3.5M577.2 226.6h.5m.5 0h.5m.5 0h2m1.5 0h.5m8.5 0h1.5m.5 0h.5m.5 0h1.5m.5 0h1M581.2 227.1h4.5m.5 0h1.5m.5 0h1.5m.5 0h1m.5 0h1.5M585.7 227.6h1.5" stroke="#141ef5" stroke-width="0.5" stroke-opacity="1" fill="none"/>
<path d="M624.7 213.6h6.5M621.7 214.1h11M618.2 214.6h4.5m3 0h2.5m3 0h2M608.7 215.1h1m3 0h8.5m10.5 0h2.5M599.2 215.6h3m.5 0h15m14.5 0h2M594.7 216.1h1m1.5 0h7.5m6 0h1m20.5 0h2M590.2 216.6h7.5m34.5 0h2M587.2 217.1h3.5m41 0h2M584.2 217.6h3m41 0h5M582.7 218.1h1.5m43.5 0h4.5M581.2 218.6h2m42.5 0h5M579.7 219.1h2m43 0h4.5M578.2 219.6h2m44 0h1.5M577.2 220.1h1.5m45 0h1.5M576.2 220.6h2m44 0h2.5M575.2 221.1h2m41 0h5M574.7 221.6h2m38.5 0h7M574.2 222.1h2m38 0h3M574.2 222.6h1.5m37 0h2M574.2 223.1h1.5m32 0h5.5M574.2 223.6h2m28 0h7.5M574.7 224.1h2m26 0h4M575.7 224.6h2m23.5 0h2M576.7 225.1h3.5m18 0h3.5M577.7 225.6h4m12 0h6.5M581.2 226.1h5m2.5 0h5.5M583.7 226.6h8" stroke="#0a4bfa" stroke-width="0.5" stroke-opacity="1" fill="none"/>
<path d="M622.7 214.6h3m2.5 0h3M621.2 215.1h10.5M617.7 215.6h4.5m2.5 0h7.5M604.7 216.1h6m1 0h9.5m4 0h7M597.7 216.6h9m2 0h6.5m3 0h1.5m5.5 0h7M590.7 217.1h7.5m4 0h1m22 0h6.5M587.2 217.6h4m33.5 0h3.5M584.2 218.1h2.5m37.5 0h3.5M583.2 218.6h1.5m39 0h2M581.7 219.1h2m39.5 0h1.5M580.2 219.6h2m37 0h5M578.7 220.1h2m37.5 0h5.5M578.2 220.6h1m36 0h7M577.2 221.1h1.5m35.5 0h4M576.7 221.6h1.5m35 0h2M576.2 222.1h1.5m31 0h5.5M575.7 222.6h2m28 0h7M575.7 223.1h2m25.5 0h4.5M576.2 223.6h2m24 0h2M576.7 224.1h3m21 0h2M577.7 224.6h3m16 0h4.5M580.2 225.1h2m11 0h5M581.7 225.6h5.5m3.5 0h3M586.2 226.1h2.5" stroke="#007efc" stroke-width="0.5" stroke-opacity="1" fill="none"/>
<path d="M622.2 215.6h2.5M621.2 216.1h4M606.7 216.6h2m6.5 0h3m1.5 0h5.5M598.2 217.1h4m1 0h22M591.2 217.6h7m3 0h3m5 0h6.5m2 0h7M586.7 218.1h4.5m19 0h2.5m5.5 0h6M584.7 218.6h2m24 0h1.5m6 0h5.5M583.7 219.1h1.5m33 0h5M582.2 219.6h1.5m27.5 0h.5m2 0h5.5M580.7 220.1h2m27.5 0h2m.5 0h5.5M579.2 220.6h2m28.5 0h5.5M578.7 221.1h1.5m28.5 0h5.5M578.2 221.6h1m27.5 0h6.5M577.7 222.1h1.5m25 0h4.5M577.7 222.6h1.5m24 0h2.5M577.7 223.1h1.5m22.5 0h1.5M578.2 223.6h2m20 0h2M579.7 224.1h1.5m15 0h4.5M580.7 224.6h2m1 0h1.5m8 0h3.5M582.2 225.1h5m4 0h2M587.2 225.6h3.5" stroke="#00bae1" stroke-width="0.5" stroke-opacity="1" fill="none"/>
<path d="M598.2 217.6h3m3 0h5m6.5 0h2M591.2 218.1h8m1.5 0h9.5m2.5 0h5.5M586.7 218.6h4.5m10.5 0h6m.5 0h2.5m1.5 0h6M585.2 219.1h1.5m22 0h9.5M583.7 219.6h1.5m23 0h3m.5 0h2M582.7 220.1h1.5m22 0h4m2 0h.5M581.2 220.6h2m22 0h4.5M580.2 221.1h1.5m23 0h4M579.2 221.6h2m22.5 0h3M579.2 222.1h1.5m22 0h1.5M579.2 222.6h1.5m20.5 0h2M579.2 223.1h2m17 0h3.5M580.2 223.6h1.5m14.5 0h4M581.2 224.1h4m8 0h3M582.7 224.6h1m1.5 0h1.5m4.5 0h2M587.2 225.1h4" stroke="#17d67d" stroke-width="0.5" stroke-opacity="1" fill="none"/>
<path d="M599.2 218.1h1.5M591.2 218.6h10.5m6 0h.5M586.7 219.1h5m3.5 0h2.5m3 0h8M585.2 219.6h1.5m14.5 0h7M584.2 220.1h1m16.5 0h4.5M583.2 220.6h1m17.5 0h3.5M581.7 221.1h1.5m18.5 0h3M581.2 221.6h1.5m19 0h2M580.7 222.1h1.5m18 0h2.5M580.7 222.6h1.5m15 0h4M581.2 223.1h1.5m13 0h2.5M581.7 223.6h4m7.5 0h3M585.2 224.1h1.5m4.5 0h2M586.7 224.6h4.5" stroke="#5be42f" stroke-width="0.5" stroke-opacity="1" fill="none"/>
<path d="M591.7 219.1h3.5m2.5 0h3M586.7 219.6h5.5m1.5 0h7.5M585.2 220.1h1.5m9 0h3m1.5 0h1.5M584.2 220.6h1.5m15 0h1M583.2 221.1h1.5m13 0h1m1.5 0h1.5M582.7 221.6h1.5m13 0h4.5M582.2 222.1h1.5m12.5 0h4M582.2 222.6h2.5m10.5 0h2M582.7 223.1h3m7 0h3M585.7 223.6h1.5m4 0h2M586.7 224.1h4.5" stroke="#c8e913" stroke-width="0.5" stroke-opacity="1" fill="none"/>
<path d="M592.2 219.6h1.5M586.7 220.1h9m3 0h1.5M585.7 220.6h2m6 0h7M584.7 221.1h2m7.5 0h3.5m1 0h1.5M584.2 221.6h2m8 0h3M583.7 222.1h2.5m7.5 0h2.5M584.7 222.6h2m5.5 0h3M585.7 223.1h3.5m1.5 0h2M587.2 223.6h4" stroke="#f69a03" stroke-width="0.5" stroke-opacity="1" fill="none"/>
<path d="M587.7 220.6h6M586.7 221.1h7.5M586.2 221.6h8M586.2 222.1h7.5M586.7 222.6h5.5M589.2 223.1h1.5" stroke="#ff4100" stroke-width="0.5" stroke-opacity="1" fill="none"/>
<line x1="546.0" y1="225.9" x2="648.6" y2="225.9" stroke="#808080" stroke-width="1.4"/>
<line x1="648.6" y1="225.9" x2="648.6" y2="274.8" stroke="#c4c4c4" stroke-width="0.9"/>
<path d="M546.0,225.9 V172.5 H648.6 V225.9" fill="none" stroke="#2a2a2a" stroke-width="1.5"/>
<line x1="546.0" y1="172.5" x2="546.0" y2="274.8" stroke="#333" stroke-width="1.2"/>
<line x1="546.0" y1="274.8" x2="648.6" y2="274.8" stroke="#333" stroke-width="1.2"/>
<line x1="543.2" y1="274.8" x2="546.0" y2="274.8" stroke="#333" stroke-width="1.1"/>
<line x1="544.4" y1="270.5" x2="546.0" y2="270.5" stroke="#555" stroke-width="0.7"/>
<line x1="544.4" y1="268.0" x2="546.0" y2="268.0" stroke="#555" stroke-width="0.7"/>
<line x1="544.4" y1="266.3" x2="546.0" y2="266.3" stroke="#555" stroke-width="0.7"/>
<line x1="544.4" y1="264.9" x2="546.0" y2="264.9" stroke="#555" stroke-width="0.7"/>
<line x1="544.4" y1="263.7" x2="546.0" y2="263.7" stroke="#555" stroke-width="0.7"/>
<line x1="544.4" y1="262.7" x2="546.0" y2="262.7" stroke="#555" stroke-width="0.7"/>
<line x1="544.4" y1="262.0" x2="546.0" y2="262.0" stroke="#555" stroke-width="0.7"/>
<line x1="544.4" y1="261.3" x2="546.0" y2="261.3" stroke="#555" stroke-width="0.7"/>
<text x="0" y="0" font-size="5.2" text-anchor="middle" fill="#555" transform="translate(537.8 277.4) rotate(-38)">10<tspan dy="-2.4" font-size="3.8">0</tspan></text>
<line x1="543.2" y1="260.6" x2="546.0" y2="260.6" stroke="#333" stroke-width="1.1"/>
<line x1="544.4" y1="256.3" x2="546.0" y2="256.3" stroke="#555" stroke-width="0.7"/>
<line x1="544.4" y1="253.8" x2="546.0" y2="253.8" stroke="#555" stroke-width="0.7"/>
<line x1="544.4" y1="252.1" x2="546.0" y2="252.1" stroke="#555" stroke-width="0.7"/>
<line x1="544.4" y1="250.7" x2="546.0" y2="250.7" stroke="#555" stroke-width="0.7"/>
<line x1="544.4" y1="249.5" x2="546.0" y2="249.5" stroke="#555" stroke-width="0.7"/>
<line x1="544.4" y1="248.5" x2="546.0" y2="248.5" stroke="#555" stroke-width="0.7"/>
<line x1="544.4" y1="247.8" x2="546.0" y2="247.8" stroke="#555" stroke-width="0.7"/>
<line x1="544.4" y1="247.1" x2="546.0" y2="247.1" stroke="#555" stroke-width="0.7"/>
<text x="0" y="0" font-size="5.2" text-anchor="middle" fill="#555" transform="translate(537.8 263.2) rotate(-38)">10<tspan dy="-2.4" font-size="3.8">1</tspan></text>
<line x1="543.2" y1="246.4" x2="546.0" y2="246.4" stroke="#333" stroke-width="1.1"/>
<line x1="544.4" y1="242.1" x2="546.0" y2="242.1" stroke="#555" stroke-width="0.7"/>
<line x1="544.4" y1="239.6" x2="546.0" y2="239.6" stroke="#555" stroke-width="0.7"/>
<line x1="544.4" y1="237.9" x2="546.0" y2="237.9" stroke="#555" stroke-width="0.7"/>
<line x1="544.4" y1="236.5" x2="546.0" y2="236.5" stroke="#555" stroke-width="0.7"/>
<line x1="544.4" y1="235.3" x2="546.0" y2="235.3" stroke="#555" stroke-width="0.7"/>
<line x1="544.4" y1="234.3" x2="546.0" y2="234.3" stroke="#555" stroke-width="0.7"/>
<line x1="544.4" y1="233.6" x2="546.0" y2="233.6" stroke="#555" stroke-width="0.7"/>
<line x1="544.4" y1="232.9" x2="546.0" y2="232.9" stroke="#555" stroke-width="0.7"/>
<text x="0" y="0" font-size="5.2" text-anchor="middle" fill="#555" transform="translate(537.8 249.0) rotate(-38)">10<tspan dy="-2.4" font-size="3.8">2</tspan></text>
<line x1="543.2" y1="232.2" x2="546.0" y2="232.2" stroke="#333" stroke-width="1.1"/>
<line x1="544.4" y1="227.9" x2="546.0" y2="227.9" stroke="#555" stroke-width="0.7"/>
<line x1="544.4" y1="225.4" x2="546.0" y2="225.4" stroke="#555" stroke-width="0.7"/>
<line x1="544.4" y1="223.7" x2="546.0" y2="223.7" stroke="#555" stroke-width="0.7"/>
<line x1="544.4" y1="222.3" x2="546.0" y2="222.3" stroke="#555" stroke-width="0.7"/>
<line x1="544.4" y1="221.1" x2="546.0" y2="221.1" stroke="#555" stroke-width="0.7"/>
<line x1="544.4" y1="220.1" x2="546.0" y2="220.1" stroke="#555" stroke-width="0.7"/>
<line x1="544.4" y1="219.4" x2="546.0" y2="219.4" stroke="#555" stroke-width="0.7"/>
<line x1="544.4" y1="218.7" x2="546.0" y2="218.7" stroke="#555" stroke-width="0.7"/>
<text x="0" y="0" font-size="5.2" text-anchor="middle" fill="#555" transform="translate(537.8 234.8) rotate(-38)">10<tspan dy="-2.4" font-size="3.8">3</tspan></text>
<line x1="543.2" y1="218.0" x2="546.0" y2="218.0" stroke="#333" stroke-width="1.1"/>
<line x1="544.4" y1="213.7" x2="546.0" y2="213.7" stroke="#555" stroke-width="0.7"/>
<line x1="544.4" y1="211.2" x2="546.0" y2="211.2" stroke="#555" stroke-width="0.7"/>
<line x1="544.4" y1="209.5" x2="546.0" y2="209.5" stroke="#555" stroke-width="0.7"/>
<line x1="544.4" y1="208.1" x2="546.0" y2="208.1" stroke="#555" stroke-width="0.7"/>
<line x1="544.4" y1="206.9" x2="546.0" y2="206.9" stroke="#555" stroke-width="0.7"/>
<line x1="544.4" y1="205.9" x2="546.0" y2="205.9" stroke="#555" stroke-width="0.7"/>
<line x1="544.4" y1="205.2" x2="546.0" y2="205.2" stroke="#555" stroke-width="0.7"/>
<line x1="544.4" y1="204.5" x2="546.0" y2="204.5" stroke="#555" stroke-width="0.7"/>
<text x="0" y="0" font-size="5.2" text-anchor="middle" fill="#555" transform="translate(537.8 220.6) rotate(-38)">10<tspan dy="-2.4" font-size="3.8">4</tspan></text>
<line x1="543.2" y1="203.8" x2="546.0" y2="203.8" stroke="#333" stroke-width="1.1"/>
<line x1="544.4" y1="199.5" x2="546.0" y2="199.5" stroke="#555" stroke-width="0.7"/>
<line x1="544.4" y1="197.0" x2="546.0" y2="197.0" stroke="#555" stroke-width="0.7"/>
<line x1="544.4" y1="195.3" x2="546.0" y2="195.3" stroke="#555" stroke-width="0.7"/>
<line x1="544.4" y1="193.9" x2="546.0" y2="193.9" stroke="#555" stroke-width="0.7"/>
<line x1="544.4" y1="192.7" x2="546.0" y2="192.7" stroke="#555" stroke-width="0.7"/>
<line x1="544.4" y1="191.7" x2="546.0" y2="191.7" stroke="#555" stroke-width="0.7"/>
<line x1="544.4" y1="191.0" x2="546.0" y2="191.0" stroke="#555" stroke-width="0.7"/>
<line x1="544.4" y1="190.3" x2="546.0" y2="190.3" stroke="#555" stroke-width="0.7"/>
<text x="0" y="0" font-size="5.2" text-anchor="middle" fill="#555" transform="translate(537.8 206.4) rotate(-38)">10<tspan dy="-2.4" font-size="3.8">5</tspan></text>
<line x1="543.2" y1="189.6" x2="546.0" y2="189.6" stroke="#333" stroke-width="1.1"/>
<line x1="544.4" y1="185.3" x2="546.0" y2="185.3" stroke="#555" stroke-width="0.7"/>
<line x1="544.4" y1="182.8" x2="546.0" y2="182.8" stroke="#555" stroke-width="0.7"/>
<line x1="544.4" y1="181.1" x2="546.0" y2="181.1" stroke="#555" stroke-width="0.7"/>
<line x1="544.4" y1="179.7" x2="546.0" y2="179.7" stroke="#555" stroke-width="0.7"/>
<line x1="544.4" y1="178.5" x2="546.0" y2="178.5" stroke="#555" stroke-width="0.7"/>
<line x1="544.4" y1="177.5" x2="546.0" y2="177.5" stroke="#555" stroke-width="0.7"/>
<line x1="544.4" y1="176.8" x2="546.0" y2="176.8" stroke="#555" stroke-width="0.7"/>
<line x1="544.4" y1="176.1" x2="546.0" y2="176.1" stroke="#555" stroke-width="0.7"/>
<text x="0" y="0" font-size="5.2" text-anchor="middle" fill="#555" transform="translate(537.8 192.2) rotate(-38)">10<tspan dy="-2.4" font-size="3.8">6</tspan></text>
<line x1="543.2" y1="175.4" x2="546.0" y2="175.4" stroke="#333" stroke-width="1.1"/>
<text x="0" y="0" font-size="5.2" text-anchor="middle" fill="#555" transform="translate(537.8 178.0) rotate(-38)">10<tspan dy="-2.4" font-size="3.8">7</tspan></text>
<line x1="546.0" y1="274.8" x2="546.0" y2="277.6" stroke="#333" stroke-width="1"/>
<line x1="552.1" y1="274.8" x2="552.1" y2="276.3" stroke="#666" stroke-width="0.6"/>
<line x1="558.2" y1="274.8" x2="558.2" y2="276.3" stroke="#666" stroke-width="0.6"/>
<line x1="564.3" y1="274.8" x2="564.3" y2="276.3" stroke="#666" stroke-width="0.6"/>
<line x1="570.5" y1="274.8" x2="570.5" y2="276.3" stroke="#666" stroke-width="0.6"/>
<text x="546.8" y="283.1" font-size="5" text-anchor="middle" fill="#444">0</text>
<line x1="576.6" y1="274.8" x2="576.6" y2="277.6" stroke="#333" stroke-width="1"/>
<line x1="582.7" y1="274.8" x2="582.7" y2="276.3" stroke="#666" stroke-width="0.6"/>
<line x1="588.8" y1="274.8" x2="588.8" y2="276.3" stroke="#666" stroke-width="0.6"/>
<line x1="594.9" y1="274.8" x2="594.9" y2="276.3" stroke="#666" stroke-width="0.6"/>
<line x1="601.0" y1="274.8" x2="601.0" y2="276.3" stroke="#666" stroke-width="0.6"/>
<text x="577.4" y="283.1" font-size="5" text-anchor="middle" fill="#444">5.0M</text>
<line x1="607.1" y1="274.8" x2="607.1" y2="277.6" stroke="#333" stroke-width="1"/>
<line x1="613.3" y1="274.8" x2="613.3" y2="276.3" stroke="#666" stroke-width="0.6"/>
<line x1="619.4" y1="274.8" x2="619.4" y2="276.3" stroke="#666" stroke-width="0.6"/>
<line x1="625.5" y1="274.8" x2="625.5" y2="276.3" stroke="#666" stroke-width="0.6"/>
<line x1="631.6" y1="274.8" x2="631.6" y2="276.3" stroke="#666" stroke-width="0.6"/>
<text x="607.9" y="283.1" font-size="5" text-anchor="middle" fill="#444">10M</text>
<line x1="637.7" y1="274.8" x2="637.7" y2="277.6" stroke="#333" stroke-width="1"/>
<line x1="643.8" y1="274.8" x2="643.8" y2="276.3" stroke="#666" stroke-width="0.6"/>
<text x="638.5" y="283.1" font-size="5" text-anchor="middle" fill="#444">15M</text>
<text x="596.2" y="201" font-size="10.8" text-anchor="middle" font-weight="bold" font-style="normal" fill="#1a1a1a" >98.5%</text>
<line x1="37.8" y1="289.2" x2="37.8" y2="238" stroke="#111" stroke-width="1.3"/>
<path d="M33.6,239 L37.8,230.4 L42,239 Z" fill="#111"/>
<line x1="37.8" y1="289.2" x2="93" y2="289.2" stroke="#111" stroke-width="1.3"/>
<path d="M92,285 L101.6,289.2 L92,293.4 Z" fill="#111"/>
<text x="0" y="0" font-size="11.5" text-anchor="middle" fill="#222" transform="translate(25.2 262.5) rotate(-90)" textLength="21" lengthAdjust="spacingAndGlyphs">NG2</text>
<text x="66.8" y="304.5" font-size="11" text-anchor="middle" font-weight="normal" font-style="normal" fill="#222" >FSC</text>
<path d="M110 313.6h.5M98.5 316.1h.5M103 319.1h1m17.5 0h.5M97.5 319.6h.5M101 320.1h1M82 320.6h.5m25 0h.5M103 321.6h.5M103.5 322.1h.5m11 0h.5m5 0h.5M93 323.1h.5m16.5 0h.5M85.5 323.6h.5m8.5 0h.5M103 324.1h.5M100.5 324.6h.5m14 0h.5M91.5 325.1h.5m5.5 0h.5m1 0h.5m6 0h.5m4.5 0h.5m2.5 0h.5m.5 0h.5m15 0h.5M99.5 325.6h1m3.5 0h.5m16.5 0h.5M106.5 326.1h.5m.5 0h.5M105 326.6h.5m4.5 0h.5m2.5 0h.5M97 327.1h.5M124.5 327.6h.5M94 328.1h.5m3 0h.5M83 328.6h.5m1 0h.5m10 0h.5m10 0h.5M94 329.1h1m10 0h.5m1.5 0h.5m1.5 0h.5M98 329.6h1m9 0h.5m4.5 0h.5m.5 0h.5m1 0h.5m7.5 0h.5M89 330.1h.5m9.5 0h.5m2 0h.5m1.5 0h.5m5.5 0h.5M82 330.6h.5m4 0h.5m13.5 0h1m14.5 0h.5m9 0h.5m4 0h.5M107 331.1h.5m3 0h.5m4.5 0h.5m12 0h.5m4 0h.5M96.5 331.6h.5m1.5 0h.5m1 0h.5M98.5 332.1h.5m11 0h.5m3.5 0h.5m5.5 0h.5m5.5 0h.5M83.5 332.6h.5m14.5 0h.5m1.5 0h.5m2.5 0h.5m.5 0h.5m6 0h.5m4.5 0h.5m6 0h.5M85.5 333.1h.5m2 0h.5m8 0h.5m1 0h1m.5 0h.5m1 0h.5m.5 0h.5m3.5 0h.5m1.5 0h.5m.5 0h.5m3.5 0h.5m7 0h.5m1.5 0h.5m7 0h.5M106 333.6h1m5.5 0h.5M97.5 334.1h.5m15 0h.5m16.5 0h.5M94.5 334.6h.5m14.5 0h.5m2.5 0h.5M83 335.1h.5m9 0h.5m2 0h.5m.5 0h.5m3.5 0h.5m7 0h.5m3.5 0h.5m2 0h1M90 335.6h.5m2 0h.5m.5 0h.5m3.5 0h.5m1 0h.5m5 0h.5m1 0h.5m1.5 0h.5m.5 0h.5m4.5 0h1m3 0h.5M89 336.1h.5m4 0h1m.5 0h.5m1 0h1m3 0h.5m.5 0h.5m1.5 0h.5m1 0h.5m6.5 0h.5M88 336.6h.5m1.5 0h.5m6.5 0h.5m.5 0h.5m3 0h.5m1 0h.5m1.5 0h.5m1.5 0h.5m1.5 0h.5m7.5 0h.5m.5 0h.5M98 337.1h.5m3.5 0h.5m1 0h.5m1 0h.5m1 0h.5m3.5 0h.5m2 0h.5m1.5 0h.5m.5 0h.5m16 0h.5M92.5 337.6h.5m7 0h.5m1.5 0h.5m1.5 0h.5m1.5 0h1m4 0h.5m6.5 0h.5m5 0h.5m2.5 0h.5M88.5 338.1h.5m3 0h.5m2.5 0h1m3.5 0h.5m6.5 0h1m7 0h.5m6 0h.5m2.5 0h.5m7 0h.5M88.5 338.6h.5m1 0h.5m10.5 0h.5m7 0h.5m7 0h.5m.5 0h.5m3.5 0h.5m1.5 0h.5m20.5 0h.5M88.5 339.1h.5m7.5 0h.5m8 0h.5m.5 0h.5m4.5 0h.5m1.5 0h.5m2.5 0h.5M97.5 339.6h1m4 0h.5m2.5 0h.5m1 0h.5m3.5 0h.5m17.5 0h.5M87.5 340.1h.5m6.5 0h1.5m2.5 0h.5m1.5 0h.5m3 0h1.5m10 0h.5m1 0h.5M95.5 340.6h.5m3 0h.5m4.5 0h1m1.5 0h.5m.5 0h.5m2.5 0h.5m.5 0h.5m9.5 0h.5M90 341.1h.5m2 0h.5m9.5 0h.5m2.5 0h.5m3.5 0h.5m6 0h.5m5.5 0h.5M93.5 341.6h2m.5 0h.5m9.5 0h.5m3.5 0h.5m5 0h.5m.5 0h.5M88.5 342.1h.5m8.5 0h.5m5.5 0h.5m5 0h.5m2.5 0h.5m4.5 0h.5M92.5 342.6h.5m4 0h.5m2 0h.5m7.5 0h.5m.5 0h.5m2 0h.5m.5 0h.5m5.5 0h.5m3.5 0h.5M86.5 343.1h.5m8 0h.5m5 0h1.5m2.5 0h.5m13.5 0h.5M93.5 343.6h.5m1.5 0h.5m4.5 0h1m.5 0h.5m3.5 0h.5m7.5 0h.5m3.5 0h.5M91 344.1h.5m13 0h.5m2 0h.5m3 0h.5m3.5 0h.5m1.5 0h1M89.5 344.6h.5m10 0h.5m3 0h.5m6.5 0h.5m.5 0h.5m2 0h.5M103 345.1h.5m.5 0h.5m6.5 0h1m3 0h.5m1 0h.5m6.5 0h.5M97 345.6h.5m.5 0h.5m2.5 0h.5m8 0h1m5.5 0h.5M90 346.1h.5m20 0h.5M101.5 346.6h.5m3 0h.5m8 0h.5M89 347.1h.5m14 0h.5m2 0h.5m7 0h.5m.5 0h.5M101 347.6h.5m19.5 0h.5m9.5 0h.5M88.5 348.1h.5m6 0h.5m1.5 0h.5m8 0h.5m.5 0h.5m1 0h.5m2.5 0h.5m2 0h.5m5.5 0h.5M94.5 348.6h.5m10.5 0h.5m4 0h.5m5 0h.5M96.5 349.1h.5m6 0h.5m.5 0h.5m2.5 0h.5m7 0h.5M108.5 349.6h.5m.5 0h1m10.5 0h.5M115.5 350.1h.5m8 0h.5M92.5 350.6h.5m.5 0h.5m15 0h.5M91.5 351.1h.5m10.5 0h.5m9 0h.5m21.5 0h.5M89 351.6h.5m2.5 0h.5m2 0h.5m7 0h.5m24.5 0h.5m3.5 0h.5m.5 0h.5m8 0h.5M96.5 352.1h.5m4 0h.5m10.5 0h.5m13.5 0h.5m1.5 0h.5m8.5 0h.5M94 352.6h.5m8 0h.5m1 0h.5m2 0h.5m2.5 0h.5m18.5 0h.5m11 0h.5m.5 0h1M101 353.1h.5m4 0h.5m2 0h.5m2.5 0h.5m13 0h.5m6.5 0h.5M109 353.6h.5m14 0h.5m3.5 0h.5m3.5 0h.5m2 0h1m1 0h1m3.5 0h.5M98 354.1h.5m17.5 0h.5m.5 0h.5m7 0h1m6.5 0h.5m3.5 0h.5M105.5 354.6h.5m1 0h.5m3 0h1m1.5 0h.5m3.5 0h.5m1 0h1m3 0h.5m10 0h.5m.5 0h.5m.5 0h.5m4.5 0h.5m2.5 0h.5M119.5 355.1h.5m.5 0h.5m14 0h1m1 0h.5m2.5 0h.5M100.5 355.6h.5m6 0h.5m3 0h.5m3 0h.5m21 0h.5m2.5 0h.5M99 356.1h.5m8 0h.5m.5 0h.5m29 0h.5m1 0h.5M90.5 356.6h.5m6 0h.5m5 0h.5m3 0h.5m1.5 0h1m27 0h1.5m4 0h.5M84 357.1h.5m10.5 0h.5m7 0h1m1 0h.5m31 0h.5m.5 0h1M101.5 357.6h.5m36.5 0h.5M135.5 358.1h.5m3 0h.5M88.5 358.6h.5m8.5 0h.5m2 0h.5m38 0h.5M94.5 359.1h.5m1 0h.5m38.5 0h1m.5 0h.5m.5 0h.5M85.5 359.6h.5m8 0h.5m.5 0h.5M91.5 360.1h.5m43 0h.5M87.5 360.6h1m47.5 0h.5M86.5 361.1h1.5m.5 0h.5m47.5 0h.5m4 0h.5m1.5 0h.5M91 361.6h.5m44.5 0h.5M89 362.1h.5m42.5 0h.5M84 363.1h.5m3.5 0h.5m44 0h.5m6.5 0h.5M84 363.6h1m2 0h.5m43 0h.5m1.5 0h.5M83 364.1h.5m2.5 0h.5m42 0h1m.5 0h.5M83.5 364.6h.5m1.5 0h.5m41 0h.5M85 365.1h.5m41 0h.5m1 0h.5m.5 0h.5m.5 0h1M82.5 365.6h.5m1 0h.5m42.5 0h.5m1.5 0h.5m5.5 0h.5M84 366.1h.5m41.5 0h.5m7.5 0h.5M82 366.6h.5m41 0h.5m.5 0h.5M83.5 367.1h.5m43.5 0h.5m3 0h.5M82 367.6h1m.5 0h.5m37.5 0h.5m3 0h.5m5 0h.5M122 368.1h.5m.5 0h.5M82 368.6h.5m.5 0h.5m34.5 0h.5m1 0h.5m7.5 0h.5M82 369.1h.5m34 0h.5m5 0h1m5 0h.5M115 369.6h.5m6 0h.5m8 0h.5M113 370.1h.5m3.5 0h.5M84 370.6h1m26.5 0h.5m1 0h.5m4 0h1M82.5 371.1h1.5m25.5 0h2m.5 0h.5m.5 0h1m4.5 0h.5m2.5 0h.5M82.5 371.6h.5m27 0h.5m12 0h.5M113.5 372.1h.5m2.5 0h.5M82.5 372.6h.5m1 0h1m.5 0h1m3 0h.5m6.5 0h.5m3.5 0h1.5m2 0h1m.5 0h.5m1.5 0h.5m5.5 0h1m6.5 0h.5m.5 0h.5m.5 0h.5m2.5 0h.5M84.5 373.1h.5m2.5 0h.5m1.5 0h.5m1.5 0h.5m1 0h.5m3 0h.5m3 0h.5m1 0h2m1.5 0h.5m1.5 0h1m3 0h1m1 0h.5m1 0h.5m3 0h.5m.5 0h2m2 0h.5M88 373.6h.5m5 0h.5m.5 0h.5m2.5 0h1m1 0h.5m7 0h.5m6 0h.5M101 374.1h.5m.5 0h1M84.5 374.6h.5m8.5 0h.5m7.5 0h.5m3.5 0h.5m2.5 0h.5m1 0h.5m5.5 0h.5m3 0h.5m16.5 0h.5M93.5 375.1h.5m1.5 0h.5m2 0h.5m3 0h.5m5 0h.5M88.5 375.6h.5m14.5 0h.5M88 376.1h.5m4.5 0h.5m17.5 0h.5m14 0h.5M106.5 376.6h.5m2 0h.5m2 0h.5M106.5 377.1h.5M98.5 377.6h.5M82 378.1h.5m16.5 0h.5m4.5 0h.5m1.5 0h.5M111.5 378.6h.5m1 0h.5" stroke="#2526fd" stroke-width="0.5" stroke-opacity="0.9" fill="none"/>
<path d="M128.5 354.1h1m.5 0h1.5M123.5 354.6h2m1.5 0h.5m1 0h.5m.5 0h1m1 0h.5M116.5 355.1h.5m.5 0h.5m1 0h.5m2 0h.5m1 0h.5m.5 0h.5m1.5 0h.5m1 0h.5m.5 0h.5m.5 0h.5m.5 0h1m.5 0h1m.5 0h.5m.5 0h.5M117 355.6h.5m2 0h.5m2 0h1.5m.5 0h.5m.5 0h1.5m.5 0h.5m1 0h1.5m.5 0h.5m1 0h.5m.5 0h1.5M114 356.1h.5m.5 0h.5m.5 0h1m.5 0h1.5m.5 0h.5m1 0h.5m.5 0h1m.5 0h1.5m4.5 0h2.5m.5 0h.5m1 0h2M111 356.6h.5m1 0h.5m.5 0h1m.5 0h.5m.5 0h1m.5 0h1.5m11 0h.5m1 0h.5m1 0h.5m1 0h1M106 357.1h.5m.5 0h.5m.5 0h.5m2.5 0h.5m.5 0h3.5m15.5 0h.5m.5 0h.5m1 0h.5m1.5 0h.5M103 357.6h1m2.5 0h1m1 0h.5m1 0h2m19 0h3M103 358.1h.5m2 0h.5m1 0h.5m1.5 0h.5m22 0h.5m1 0h.5m.5 0h1M100.5 358.6h.5m.5 0h.5m.5 0h.5m.5 0h1m27 0h3m.5 0h.5M100 359.1h2m29.5 0h1m.5 0h1.5M98 359.6h1m32 0h3M97 360.1h1m.5 0h.5m33 0h1m.5 0h.5M95 360.6h.5m.5 0h1.5m33.5 0h1M129.5 361.1h3.5M91.5 361.6h.5m.5 0h.5m.5 0h.5m35 0h.5m1 0h1M90.5 362.1h.5m1 0h.5m1 0h.5m34 0h.5m.5 0h.5m.5 0h1M91 362.6h1.5m35 0h.5m.5 0h.5m1 0h.5m.5 0h.5M89 363.1h2.5m34 0h.5m.5 0h.5m1 0h.5m1 0h1.5M88 363.6h1m1.5 0h.5m33.5 0h.5m.5 0h1m1.5 0h.5m.5 0h.5M87.5 364.1h.5m1.5 0h1m34 0h.5M86 364.6h1m1 0h1.5m34.5 0h1.5M85.5 365.1h.5m2 0h1m34 0h1.5m.5 0h1.5M85 365.6h2m.5 0h1m35 0h.5m1 0h.5M86.5 366.1h1m32.5 0h.5m.5 0h.5m.5 0h.5m1 0h.5m.5 0h.5M85 366.6h.5m.5 0h.5m1 0h.5m30.5 0h1.5m.5 0h1m.5 0h1M85 367.1h1m1 0h.5m29.5 0h4M84.5 367.6h3m29 0h1m.5 0h.5m.5 0h1M84.5 368.1h.5m.5 0h1.5m.5 0h.5m26.5 0h1m3 0h.5M85 368.6h3.5m24 0h.5m.5 0h2M84 369.1h.5m2 0h.5m.5 0h1m22 0h2m.5 0h1M83 369.6h4m1 0h.5m21.5 0h1m1 0h1.5M85 370.1h.5m1 0h.5m.5 0h1m16.5 0h3.5m.5 0h1M82 370.6h1.5m2.5 0h.5m.5 0h3m13 0h1.5m.5 0h.5m.5 0h1m.5 0h.5m.5 0h.5m.5 0h1.5M87.5 371.1h2m1.5 0h.5m8.5 0h1.5m2.5 0h1m.5 0h.5m1 0h1.5M87.5 371.6h.5m1.5 0h3.5m1 0h1.5m2 0h1m6 0h1m.5 0h.5m.5 0h1M87 372.1h1.5m.5 0h.5m.5 0h.5m1 0h1.5m2 0h.5m1.5 0h.5m.5 0h.5m.5 0h1m1 0h.5m4.5 0h1M88 372.6h1m3.5 0h.5m1 0h1m3 0h.5m.5 0h.5m.5 0h.5" stroke="#1f23fa" stroke-width="0.5" stroke-opacity="1" fill="none"/>
<path d="M127.5 355.6h1M125 356.1h.5m.5 0h3.5M119 356.6h5m.5 0h4.5m.5 0h.5M115.5 357.1h1m1 0h.5m.5 0h1.5m.5 0h2m.5 0h1m.5 0h4.5m.5 0h.5M112 357.6h.5m.5 0h.5m1 0h1m.5 0h1m.5 0h2.5m4 0h2.5m.5 0h.5m.5 0h2m.5 0h.5M109.5 358.1h1m1.5 0h2.5m1 0h.5m9.5 0h5m.5 0h.5M105 358.6h1.5m.5 0h.5m.5 0h1m.5 0h3m1 0h.5m12 0h5M102.5 359.1h1.5m1 0h4m17.5 0h2m.5 0h2M101.5 359.6h.5m.5 0h.5m.5 0h1m22.5 0h3m.5 0h.5M100 360.1h.5m.5 0h1m25 0h.5m.5 0h2.5M97.5 360.6h2m27 0h4M96.5 361.1h.5m.5 0h.5m28.5 0h1.5m.5 0h.5M95.5 361.6h1m29 0h3.5M94 362.1h.5m.5 0h.5m28.5 0h2.5m.5 0h1M93 362.6h.5m.5 0h.5m29 0h1.5m.5 0h2M91.5 363.1h1.5m30.5 0h1.5M91 363.6h1.5m31 0h1M90.5 364.1h1.5m30.5 0h1.5M90 364.6h1.5m29.5 0h2.5M89 365.1h.5m.5 0h1m28 0h3m.5 0h.5M88.5 365.6h2m27.5 0h4M88.5 366.1h1.5m27 0h.5m.5 0h1m.5 0h.5M88 366.6h2m25.5 0h1.5m.5 0h.5M87.5 367.1h.5m1 0h1m24 0h1.5M88 367.6h1.5m22.5 0h2m.5 0h1.5M88 368.1h.5m.5 0h1.5m19.5 0h4M88.5 368.6h1.5m17.5 0h4m.5 0h.5M88.5 369.1h2m15.5 0h1.5m1.5 0h.5M88.5 369.6h1m.5 0h1.5m11.5 0h2m.5 0h2M89 370.1h4m8 0h2.5m.5 0h1M90 370.6h1m.5 0h4m.5 0h.5m.5 0h5.5M91.5 371.1h1.5m.5 0h3.5m.5 0h.5m1 0h.5" stroke="#1a21f8" stroke-width="0.5" stroke-opacity="1" fill="none"/>
<path d="M120 357.6h1m.5 0h2.5M116 358.1h9.5M112.5 358.6h1m1 0h.5m.5 0h10M109 359.1h3.5m.5 0h1m.5 0h1.5m8 0h2.5M104.5 359.6h6.5m13.5 0h2.5M102 360.1h4m18.5 0h2M100 360.6h3m21 0h2.5M98.5 361.1h2m22 0h4M97 361.6h1m24 0h3M95.5 362.1h2m24.5 0h2M94.5 362.6h.5m.5 0h.5m25.5 0h2M93.5 363.1h1.5m26 0h2.5M93 363.6h1m26 0h3M92 364.1h1.5m25 0h1m.5 0h2.5M91.5 364.6h1.5m24.5 0h3.5M91 365.1h1.5m24 0h2.5M90.5 365.6h1.5m23 0h3M90 366.1h1.5m22.5 0h1m.5 0h1.5M90 366.6h1.5m21 0h1.5m.5 0h1M90 367.1h1.5m19 0h1.5m.5 0h1M90 367.6h1.5m17.5 0h3M90.5 368.1h1.5m15.5 0h2.5M90.5 368.6h2m12 0h3M91 369.1h2m9.5 0h2.5M92 369.6h.5m.5 0h3m3.5 0h3.5M93 370.1h1.5m.5 0h5.5" stroke="#141ef5" stroke-width="0.5" stroke-opacity="1" fill="none"/>
<path d="M116 359.1h8M111 359.6h13.5M106 360.1h10m3.5 0h5M103 360.6h5.5m11.5 0h4M100.5 361.1h3m17 0h2M99 361.6h1.5m20 0h1.5M97.5 362.1h1.5m21 0h2M96 362.6h1.5m22 0h2M95 363.1h1m21.5 0h3.5M94 363.6h1m21.5 0h3.5M93.5 364.1h1m21.5 0h2.5M93 364.6h.5m21.5 0h2.5M92.5 365.1h1m20.5 0h2.5M92 365.6h1m19.5 0h2.5M91.5 366.1h1m18.5 0h3M91.5 366.6h1m17.5 0h2.5M91.5 367.1h1m16 0h2M91.5 367.6h1.5m13.5 0h2.5M92 368.1h1.5m11 0h2.5M92.5 368.6h2m8 0h2M93 369.1h9.5M96 369.6h3.5" stroke="#0a4bfa" stroke-width="0.5" stroke-opacity="1" fill="none"/>
<path d="M116 360.1h3.5M108.5 360.6h11.5M103.5 361.1h17M100.5 361.6h3m12.5 0h4.5M99 362.1h1.5m15.5 0h4M97.5 362.6h1.5m16.5 0h4M96 363.1h1.5m17.5 0h2.5M95 363.6h1m18.5 0h2M94.5 364.1h.5m18.5 0h2.5M93.5 364.6h1m18 0h2.5M93.5 365.1h.5m17.5 0h2.5M93 365.6h1m16.5 0h2M92.5 366.1h1m16 0h1.5M92.5 366.6h1m15 0h1.5M92.5 367.1h1.5m12.5 0h2M93 367.6h1.5m10 0h2M93.5 368.1h2m7 0h2M94.5 368.6h8" stroke="#007efc" stroke-width="0.5" stroke-opacity="1" fill="none"/>
<path d="M103.5 361.6h12.5M100.5 362.1h3m6.5 0h6M99 362.6h1m11.5 0h4M97.5 363.1h1.5m12.5 0h3.5M96 363.6h1.5m14 0h3M95 364.1h1.5m14.5 0h2.5M94.5 364.6h1m15 0h2M94 365.1h1m15 0h1.5M94 365.6h.5m14.5 0h1.5M93.5 366.1h1m13.5 0h1.5M93.5 366.6h1m12 0h2M94 367.1h1m9.5 0h2M94.5 367.6h1.5m7 0h1.5M95.5 368.1h7" stroke="#00bae1" stroke-width="0.5" stroke-opacity="1" fill="none"/>
<path d="M103.5 362.1h6.5M100 362.6h3.5m4.5 0h3.5M99 363.1h1m9.5 0h2M97.5 363.6h1.5m10.5 0h2M96.5 364.1h1m12 0h1.5M95.5 364.6h1m13 0h1M95 365.1h1m12.5 0h1.5M94.5 365.6h1m12 0h1.5M94.5 366.1h1m10.5 0h2M94.5 366.6h1.5m8.5 0h2M95 367.1h1.5m6.5 0h1.5M96 367.6h7" stroke="#17d67d" stroke-width="0.5" stroke-opacity="1" fill="none"/>
<path d="M103.5 362.6h4.5M100 363.1h9.5M99 363.6h1m7 0h2.5M97.5 364.1h1.5m8.5 0h2M96.5 364.6h1.5m9.5 0h2M96 365.1h1.5m9 0h2M95.5 365.6h1.5m8.5 0h2M95.5 366.1h1.5m7.5 0h1.5M96 366.6h1.5m5.5 0h1.5M96.5 367.1h3m1.5 0h2" stroke="#5be42f" stroke-width="0.5" stroke-opacity="1" fill="none"/>
<path d="M100 363.6h2m.5 0h4.5M99 364.1h1.5m4 0h3M98 364.6h1.5m5.5 0h2.5M97.5 365.1h1.5m5.5 0h2M97 365.6h1.5m5.5 0h1.5M97 366.1h2m4 0h1.5M97.5 366.6h3m1 0h1.5M99.5 367.1h1.5" stroke="#c8e913" stroke-width="0.5" stroke-opacity="1" fill="none"/>
<path d="M102 363.6h.5M100.5 364.1h4M99.5 364.6h1m2.5 0h2M99 365.1h1.5m2.5 0h1.5M98.5 365.6h2m2 0h1.5M99 366.1h4M100.5 366.6h1" stroke="#f69a03" stroke-width="0.5" stroke-opacity="1" fill="none"/>
<path d="M100.5 364.6h2.5M100.5 365.1h2.5M100.5 365.6h2" stroke="#ff4100" stroke-width="0.5" stroke-opacity="1" fill="none"/>
<line x1="70.0" y1="353.3" x2="173.7" y2="353.3" stroke="#808080" stroke-width="1.4"/>
<line x1="173.7" y1="353.3" x2="173.7" y2="411.5" stroke="#c4c4c4" stroke-width="0.9"/>
<path d="M70.0,353.3 V308.0 H173.7 V353.3" fill="none" stroke="#6a6a6a" stroke-width="1.5"/>
<line x1="70.0" y1="308.0" x2="70.0" y2="411.5" stroke="#333" stroke-width="1.2"/>
<line x1="70.0" y1="411.5" x2="173.7" y2="411.5" stroke="#333" stroke-width="1.2"/>
<line x1="67.2" y1="411.5" x2="70.0" y2="411.5" stroke="#333" stroke-width="1.1"/>
<line x1="68.4" y1="407.2" x2="70.0" y2="407.2" stroke="#555" stroke-width="0.7"/>
<line x1="68.4" y1="404.6" x2="70.0" y2="404.6" stroke="#555" stroke-width="0.7"/>
<line x1="68.4" y1="402.9" x2="70.0" y2="402.9" stroke="#555" stroke-width="0.7"/>
<line x1="68.4" y1="401.4" x2="70.0" y2="401.4" stroke="#555" stroke-width="0.7"/>
<line x1="68.4" y1="400.3" x2="70.0" y2="400.3" stroke="#555" stroke-width="0.7"/>
<line x1="68.4" y1="399.3" x2="70.0" y2="399.3" stroke="#555" stroke-width="0.7"/>
<line x1="68.4" y1="398.6" x2="70.0" y2="398.6" stroke="#555" stroke-width="0.7"/>
<line x1="68.4" y1="397.8" x2="70.0" y2="397.8" stroke="#555" stroke-width="0.7"/>
<text x="0" y="0" font-size="5.2" text-anchor="middle" fill="#555" transform="translate(61.8 414.1) rotate(-38)">10<tspan dy="-2.4" font-size="3.8">0</tspan></text>
<line x1="67.2" y1="397.1" x2="70.0" y2="397.1" stroke="#333" stroke-width="1.1"/>
<line x1="68.4" y1="392.8" x2="70.0" y2="392.8" stroke="#555" stroke-width="0.7"/>
<line x1="68.4" y1="390.2" x2="70.0" y2="390.2" stroke="#555" stroke-width="0.7"/>
<line x1="68.4" y1="388.5" x2="70.0" y2="388.5" stroke="#555" stroke-width="0.7"/>
<line x1="68.4" y1="387.1" x2="70.0" y2="387.1" stroke="#555" stroke-width="0.7"/>
<line x1="68.4" y1="385.9" x2="70.0" y2="385.9" stroke="#555" stroke-width="0.7"/>
<line x1="68.4" y1="384.9" x2="70.0" y2="384.9" stroke="#555" stroke-width="0.7"/>
<line x1="68.4" y1="384.2" x2="70.0" y2="384.2" stroke="#555" stroke-width="0.7"/>
<line x1="68.4" y1="383.5" x2="70.0" y2="383.5" stroke="#555" stroke-width="0.7"/>
<text x="0" y="0" font-size="5.2" text-anchor="middle" fill="#555" transform="translate(61.8 399.7) rotate(-38)">10<tspan dy="-2.4" font-size="3.8">1</tspan></text>
<line x1="67.2" y1="382.8" x2="70.0" y2="382.8" stroke="#333" stroke-width="1.1"/>
<line x1="68.4" y1="378.4" x2="70.0" y2="378.4" stroke="#555" stroke-width="0.7"/>
<line x1="68.4" y1="375.9" x2="70.0" y2="375.9" stroke="#555" stroke-width="0.7"/>
<line x1="68.4" y1="374.1" x2="70.0" y2="374.1" stroke="#555" stroke-width="0.7"/>
<line x1="68.4" y1="372.7" x2="70.0" y2="372.7" stroke="#555" stroke-width="0.7"/>
<line x1="68.4" y1="371.5" x2="70.0" y2="371.5" stroke="#555" stroke-width="0.7"/>
<line x1="68.4" y1="370.5" x2="70.0" y2="370.5" stroke="#555" stroke-width="0.7"/>
<line x1="68.4" y1="369.8" x2="70.0" y2="369.8" stroke="#555" stroke-width="0.7"/>
<line x1="68.4" y1="369.1" x2="70.0" y2="369.1" stroke="#555" stroke-width="0.7"/>
<text x="0" y="0" font-size="5.2" text-anchor="middle" fill="#555" transform="translate(61.8 385.4) rotate(-38)">10<tspan dy="-2.4" font-size="3.8">2</tspan></text>
<line x1="67.2" y1="368.4" x2="70.0" y2="368.4" stroke="#333" stroke-width="1.1"/>
<line x1="68.4" y1="364.1" x2="70.0" y2="364.1" stroke="#555" stroke-width="0.7"/>
<line x1="68.4" y1="361.5" x2="70.0" y2="361.5" stroke="#555" stroke-width="0.7"/>
<line x1="68.4" y1="359.8" x2="70.0" y2="359.8" stroke="#555" stroke-width="0.7"/>
<line x1="68.4" y1="358.3" x2="70.0" y2="358.3" stroke="#555" stroke-width="0.7"/>
<line x1="68.4" y1="357.2" x2="70.0" y2="357.2" stroke="#555" stroke-width="0.7"/>
<line x1="68.4" y1="356.2" x2="70.0" y2="356.2" stroke="#555" stroke-width="0.7"/>
<line x1="68.4" y1="355.5" x2="70.0" y2="355.5" stroke="#555" stroke-width="0.7"/>
<line x1="68.4" y1="354.7" x2="70.0" y2="354.7" stroke="#555" stroke-width="0.7"/>
<text x="0" y="0" font-size="5.2" text-anchor="middle" fill="#555" transform="translate(61.8 371.0) rotate(-38)">10<tspan dy="-2.4" font-size="3.8">3</tspan></text>
<line x1="67.2" y1="354.0" x2="70.0" y2="354.0" stroke="#333" stroke-width="1.1"/>
<line x1="68.4" y1="349.7" x2="70.0" y2="349.7" stroke="#555" stroke-width="0.7"/>
<line x1="68.4" y1="347.1" x2="70.0" y2="347.1" stroke="#555" stroke-width="0.7"/>
<line x1="68.4" y1="345.4" x2="70.0" y2="345.4" stroke="#555" stroke-width="0.7"/>
<line x1="68.4" y1="344.0" x2="70.0" y2="344.0" stroke="#555" stroke-width="0.7"/>
<line x1="68.4" y1="342.8" x2="70.0" y2="342.8" stroke="#555" stroke-width="0.7"/>
<line x1="68.4" y1="341.8" x2="70.0" y2="341.8" stroke="#555" stroke-width="0.7"/>
<line x1="68.4" y1="341.1" x2="70.0" y2="341.1" stroke="#555" stroke-width="0.7"/>
<line x1="68.4" y1="340.4" x2="70.0" y2="340.4" stroke="#555" stroke-width="0.7"/>
<text x="0" y="0" font-size="5.2" text-anchor="middle" fill="#555" transform="translate(61.8 356.6) rotate(-38)">10<tspan dy="-2.4" font-size="3.8">4</tspan></text>
<line x1="67.2" y1="339.6" x2="70.0" y2="339.6" stroke="#333" stroke-width="1.1"/>
<line x1="68.4" y1="335.3" x2="70.0" y2="335.3" stroke="#555" stroke-width="0.7"/>
<line x1="68.4" y1="332.7" x2="70.0" y2="332.7" stroke="#555" stroke-width="0.7"/>
<line x1="68.4" y1="331.0" x2="70.0" y2="331.0" stroke="#555" stroke-width="0.7"/>
<line x1="68.4" y1="329.6" x2="70.0" y2="329.6" stroke="#555" stroke-width="0.7"/>
<line x1="68.4" y1="328.4" x2="70.0" y2="328.4" stroke="#555" stroke-width="0.7"/>
<line x1="68.4" y1="327.4" x2="70.0" y2="327.4" stroke="#555" stroke-width="0.7"/>
<line x1="68.4" y1="326.7" x2="70.0" y2="326.7" stroke="#555" stroke-width="0.7"/>
<line x1="68.4" y1="326.0" x2="70.0" y2="326.0" stroke="#555" stroke-width="0.7"/>
<text x="0" y="0" font-size="5.2" text-anchor="middle" fill="#555" transform="translate(61.8 342.2) rotate(-38)">10<tspan dy="-2.4" font-size="3.8">5</tspan></text>
<line x1="67.2" y1="325.3" x2="70.0" y2="325.3" stroke="#333" stroke-width="1.1"/>
<line x1="68.4" y1="321.0" x2="70.0" y2="321.0" stroke="#555" stroke-width="0.7"/>
<line x1="68.4" y1="318.4" x2="70.0" y2="318.4" stroke="#555" stroke-width="0.7"/>
<line x1="68.4" y1="316.6" x2="70.0" y2="316.6" stroke="#555" stroke-width="0.7"/>
<line x1="68.4" y1="315.2" x2="70.0" y2="315.2" stroke="#555" stroke-width="0.7"/>
<line x1="68.4" y1="314.1" x2="70.0" y2="314.1" stroke="#555" stroke-width="0.7"/>
<line x1="68.4" y1="313.1" x2="70.0" y2="313.1" stroke="#555" stroke-width="0.7"/>
<line x1="68.4" y1="312.3" x2="70.0" y2="312.3" stroke="#555" stroke-width="0.7"/>
<line x1="68.4" y1="311.6" x2="70.0" y2="311.6" stroke="#555" stroke-width="0.7"/>
<text x="0" y="0" font-size="5.2" text-anchor="middle" fill="#555" transform="translate(61.8 327.9) rotate(-38)">10<tspan dy="-2.4" font-size="3.8">6</tspan></text>
<line x1="67.2" y1="310.9" x2="70.0" y2="310.9" stroke="#333" stroke-width="1.1"/>
<text x="0" y="0" font-size="5.2" text-anchor="middle" fill="#555" transform="translate(61.8 313.5) rotate(-38)">10<tspan dy="-2.4" font-size="3.8">7</tspan></text>
<line x1="70.0" y1="411.5" x2="70.0" y2="414.3" stroke="#333" stroke-width="1"/>
<line x1="76.2" y1="411.5" x2="76.2" y2="413.0" stroke="#666" stroke-width="0.6"/>
<line x1="82.4" y1="411.5" x2="82.4" y2="413.0" stroke="#666" stroke-width="0.6"/>
<line x1="88.5" y1="411.5" x2="88.5" y2="413.0" stroke="#666" stroke-width="0.6"/>
<line x1="94.7" y1="411.5" x2="94.7" y2="413.0" stroke="#666" stroke-width="0.6"/>
<text x="70.8" y="419.8" font-size="5" text-anchor="middle" fill="#444">0</text>
<line x1="100.9" y1="411.5" x2="100.9" y2="414.3" stroke="#333" stroke-width="1"/>
<line x1="107.1" y1="411.5" x2="107.1" y2="413.0" stroke="#666" stroke-width="0.6"/>
<line x1="113.3" y1="411.5" x2="113.3" y2="413.0" stroke="#666" stroke-width="0.6"/>
<line x1="119.4" y1="411.5" x2="119.4" y2="413.0" stroke="#666" stroke-width="0.6"/>
<line x1="125.6" y1="411.5" x2="125.6" y2="413.0" stroke="#666" stroke-width="0.6"/>
<text x="101.7" y="419.8" font-size="5" text-anchor="middle" fill="#444">5.0M</text>
<line x1="131.8" y1="411.5" x2="131.8" y2="414.3" stroke="#333" stroke-width="1"/>
<line x1="138.0" y1="411.5" x2="138.0" y2="413.0" stroke="#666" stroke-width="0.6"/>
<line x1="144.2" y1="411.5" x2="144.2" y2="413.0" stroke="#666" stroke-width="0.6"/>
<line x1="150.3" y1="411.5" x2="150.3" y2="413.0" stroke="#666" stroke-width="0.6"/>
<line x1="156.5" y1="411.5" x2="156.5" y2="413.0" stroke="#666" stroke-width="0.6"/>
<text x="132.6" y="419.8" font-size="5" text-anchor="middle" fill="#444">10M</text>
<line x1="162.7" y1="411.5" x2="162.7" y2="414.3" stroke="#333" stroke-width="1"/>
<line x1="168.9" y1="411.5" x2="168.9" y2="413.0" stroke="#666" stroke-width="0.6"/>
<text x="163.5" y="419.8" font-size="5" text-anchor="middle" fill="#444">15M</text>
<text x="154" y="324.4" font-size="10.8" text-anchor="middle" font-weight="bold" font-style="normal" fill="#1a1a1a" >1.53%</text>
<path d="M233 318.6h.5M207.5 323.6h.5m30 0h.5M210.5 324.1h.5m20 0h.5m2 0h.5m2 0h.5M231 324.6h.5m9 0h.5m8 0h.5M229 325.1h.5m1.5 0h.5m8 0h.5m1 0h.5m6 0h.5M228 325.6h.5m5.5 0h.5m2.5 0h.5m4 0h.5m3.5 0h.5m.5 0h.5M224.5 326.1h1m1.5 0h.5m3.5 0h.5m1.5 0h.5m4 0h.5m.5 0h.5m1.5 0h.5m9 0h.5M218 326.6h.5m9 0h.5m5 0h.5m1 0h.5m5 0h.5m9.5 0h1M202.5 327.1h.5m15.5 0h.5m3.5 0h.5m8 0h.5m1.5 0h.5M202 327.6h.5m3.5 0h.5m4.5 0h.5m4.5 0h.5m34.5 0h.5M253 328.1h.5M252 328.6h.5M255 329.1h.5M205.5 329.6h.5M202 330.6h.5m1 0h.5M253 346.1h.5M254 346.6h.5M249.5 347.6h.5M243.5 348.1h.5m4.5 0h.5M242.5 348.6h.5m1.5 0h.5m5.5 0h1M199.5 349.1h.5m44.5 0h.5m4 0h.5m.5 0h.5m.5 0h.5M247 349.6h.5M239.5 350.1h.5M202 350.6h.5m38.5 0h.5M200 351.1h.5m5.5 0h.5m28 0h.5M206.5 351.6h.5m28.5 0h.5m1 0h.5m3 0h.5M199.5 352.1h.5M202 352.6h.5m20 0h.5m5.5 0h.5m2 0h.5m1 0h.5m2 0h.5m2.5 0h.5m8.5 0h.5M201 353.1h.5m2 0h.5m6.5 0h.5m17 0h.5m3 0h.5m17 0h.5M204.5 353.6h.5m15 0h.5m4.5 0h.5m7 0h.5M202.5 354.1h.5m24.5 0h.5m2.5 0h.5m1 0h.5M207.5 354.6h.5m4 0h.5m4.5 0h.5m2.5 0h.5m3 0h.5m1.5 0h1m9.5 0h.5M223 355.1h.5m2 0h.5m2.5 0h.5m15 0h.5M221 355.6h.5m7 0h.5m4 0h.5M217.5 356.1h.5m5 0h1m5 0h.5m9 0h.5M214 356.6h.5m15 0h.5m22.5 0h.5M242.5 357.1h.5M241 357.6h.5M217.5 358.1h.5m2.5 0h.5m1.5 0h.5m11 0h.5M212.5 358.6h.5m5 0h.5m4 0h.5m6 0h.5m.5 0h.5m1.5 0h.5m16.5 0h.5M228.5 359.1h.5m4 0h.5m9.5 0h.5m8 0h.5M221.5 359.6h.5m1.5 0h.5m10 0h.5m12.5 0h.5M222.5 360.1h.5m14.5 0h.5M217.5 360.6h.5m1 0h.5M235.5 361.1h.5m3.5 0h.5m4 0h.5M244.5 361.6h.5M212.5 362.1h.5m22.5 0h.5m1.5 0h.5m6 0h.5m.5 0h.5M213.5 362.6h.5m21.5 0h.5m2 0h.5m1 0h.5m1 0h.5m3.5 0h.5M211.5 363.1h.5M234.5 363.6h.5M209.5 364.1h.5M209 364.6h.5m31 0h.5M233.5 365.1h.5m5.5 0h.5M234 365.6h1M231.5 366.1h.5M207 366.6h.5m24.5 0h.5m1 0h.5m5.5 0h.5M206.5 367.1h.5m28.5 0h.5m6 0h.5M230.5 367.6h.5m1 0h.5M228 368.1h.5M200.5 368.6h.5m5.5 0h.5M205 369.6h1m7.5 0h.5m2.5 0h.5M202.5 370.1h.5m12.5 0h.5m4.5 0h.5M200.5 370.6h.5m7.5 0h.5m.5 0h.5m.5 0h.5m.5 0h.5M202.5 371.1h.5m5 0h.5m4 0h.5m19 0h.5M199.5 372.1h.5m4 0h.5m43.5 0h.5M201.5 372.6h.5M212 373.1h.5M211.5 373.6h.5M212 374.1h.5m24.5 0h.5M211 374.6h.5M230 377.1h.5M233 380.1h.5M231 388.1h.5" stroke="#2526fd" stroke-width="0.5" stroke-opacity="0.9" fill="none"/>
<path d="M236.5 326.1h.5M235 326.6h.5m1.5 0h.5m8.5 0h.5M226 327.1h.5m8.5 0h.5m10 0h.5m.5 0h.5m1 0h.5M222.5 327.6h.5m2.5 0h.5m10 0h1m4.5 0h.5m.5 0h1m.5 0h.5m3.5 0h.5M219.5 328.1h.5m.5 0h.5m3 0h.5m.5 0h.5m4 0h.5m7 0h.5m7 0h.5m.5 0h.5m.5 0h.5m1.5 0h.5M211 328.6h.5m1.5 0h.5m1 0h1m2 0h1m1 0h.5m1 0h1m1 0h.5m1 0h1m.5 0h.5m1 0h1m9 0h.5m.5 0h.5m1 0h2m2 0h.5m.5 0h.5m2.5 0h1m.5 0h1M207 329.1h.5m2 0h.5m1.5 0h.5m.5 0h.5m1 0h.5m2.5 0h.5m.5 0h.5m.5 0h1m.5 0h1m1 0h.5m.5 0h.5m7.5 0h1m7 0h1m5.5 0h.5m1 0h.5m.5 0h2.5M206.5 329.6h1m1 0h.5m.5 0h.5m1 0h.5m2 0h1m2.5 0h.5m16 0h1m12.5 0h1m1 0h.5m1 0h.5m1.5 0h.5m.5 0h.5M206.5 330.1h.5m.5 0h.5m.5 0h.5m2 0h.5m4 0h.5M206 330.6h.5m.5 0h.5m2.5 0h1m40.5 0h.5m1.5 0h1M201 331.1h.5m1.5 0h.5m4 0h1m.5 0h.5m44.5 0h.5m.5 0h.5M199 331.6h.5m1.5 0h.5m1 0h.5m1.5 0h.5m.5 0h.5m47 0h.5m1.5 0h.5M200.5 332.1h.5M199 332.6h.5m1 0h.5m.5 0h.5m1.5 0h.5m51 0h.5M200 333.1h.5m.5 0h.5m.5 0h.5M201.5 333.6h1M199.5 334.1h.5M254.5 341.1h.5M254.5 341.6h.5M253 342.1h1m1 0h.5M254.5 342.6h.5M249.5 343.1h.5m2.5 0h.5M248.5 343.6h.5m1 0h.5M248 344.1h.5m3 0h1M251 344.6h1.5M249.5 345.1h.5m2 0h.5m.5 0h.5M243 345.6h1.5m1 0h1m1.5 0h.5m2 0h.5M242 346.1h1m2 0h.5m.5 0h.5m1 0h.5m2.5 0h1M241 346.6h.5m4 0h.5m.5 0h1M200 347.1h.5m40 0h.5m.5 0h.5m1.5 0h.5m2.5 0h1M239.5 347.6h.5M200.5 348.1h.5m32 0h.5m5 0h.5m5.5 0h1M200.5 348.6h.5m.5 0h.5m.5 0h.5m2 0h.5m28.5 0h1m.5 0h1.5m1 0h.5m.5 0h.5m1 0h.5M205.5 349.1h.5m2.5 0h.5m.5 0h.5m.5 0h1m7 0h1m.5 0h1m14 0h.5m1.5 0h.5m1.5 0h.5M201 349.6h.5m2 0h.5m2.5 0h1.5m.5 0h.5m1 0h.5m2 0h.5m.5 0h.5m.5 0h.5m1 0h.5m2 0h.5m3.5 0h.5m.5 0h1m3.5 0h.5m.5 0h.5m.5 0h1m.5 0h.5m.5 0h1m2 0h.5m.5 0h1M208 350.1h.5m.5 0h.5m.5 0h.5m1.5 0h.5m.5 0h.5m1 0h1m.5 0h1m3 0h.5m2.5 0h.5m3.5 0h.5m1.5 0h1m1.5 0h2m3 0h1m.5 0h.5M206 350.6h.5m5 0h.5m.5 0h.5m2 0h.5m.5 0h.5m1.5 0h.5m1 0h.5m1 0h.5m3.5 0h.5m.5 0h.5m2 0h1m8.5 0h.5M207 351.1h.5m.5 0h.5m2 0h.5m.5 0h1m.5 0h.5m4.5 0h.5m3.5 0h.5m2 0h.5m2 0h1.5m3 0h.5m1.5 0h.5m3 0h.5M209 351.6h.5m1 0h.5m1 0h.5m1 0h1m1 0h1m.5 0h.5m.5 0h1.5m4.5 0h.5m1 0h1m5.5 0h.5M210 352.1h.5m1 0h.5m.5 0h.5m.5 0h.5m2 0h1m6 0h.5M216.5 352.6h1m.5 0h.5m5 0h.5m.5 0h.5M215.5 353.1h.5m1 0h.5m1.5 0h.5m5 0h.5M213.5 353.6h1m1 0h.5M213.5 354.1h.5m.5 0h.5m.5 0h.5M224.5 360.1h.5m7.5 0h.5M230.5 360.6h.5m1 0h1M217 361.1h.5m4.5 0h.5m2 0h.5m2 0h.5m1.5 0h.5m1 0h.5m2.5 0h.5M217 361.6h.5m.5 0h1m2 0h1m2 0h1m1 0h.5m1.5 0h.5m2.5 0h1m1 0h.5m1 0h.5M217.5 362.1h1m3.5 0h1m3 0h.5m1 0h1.5m3.5 0h.5m1 0h1M216.5 362.6h1m.5 0h.5m3 0h1m5.5 0h.5m.5 0h.5m.5 0h1.5m.5 0h1M214.5 363.1h1m3 0h1m1.5 0h.5m8.5 0h.5m1 0h1M213.5 363.6h.5m5.5 0h.5m.5 0h.5m11 0h1M213.5 364.1h.5m1.5 0h.5m2.5 0h.5M210.5 364.6h.5m2 0h.5m1.5 0h1.5m.5 0h.5m3 0h.5m8.5 0h.5M211 365.1h.5m2.5 0h.5m3 0h1m11 0h.5m.5 0h.5M208 365.6h1m.5 0h.5m1 0h.5m1.5 0h.5m5.5 0h.5m9 0h.5M211 366.1h.5m2.5 0h.5m4 0h1m8 0h.5m1.5 0h.5M208.5 366.6h1.5m1 0h.5m1.5 0h.5m.5 0h.5m11.5 0h1m.5 0h1m.5 0h.5m1 0h.5M207 367.1h.5m2.5 0h.5m.5 0h1.5m1.5 0h.5m1.5 0h.5m1.5 0h1m3.5 0h.5m.5 0h1m2.5 0h1m2.5 0h.5M207 367.6h.5m4 0h1m1 0h.5m1 0h.5m1.5 0h.5m.5 0h1m.5 0h.5m1.5 0h.5m2 0h.5m4.5 0h.5M208 368.1h.5m.5 0h1m.5 0h.5m.5 0h.5m1.5 0h.5m1.5 0h1m.5 0h.5m1 0h.5m.5 0h1.5m2 0h1M209 368.6h1m1 0h.5m.5 0h.5m1 0h.5m3.5 0h.5m2.5 0h1.5M211 369.1h1m2 0h.5m5.5 0h.5M212.5 369.6h.5m8 0h.5" stroke="#1f23fa" stroke-width="0.5" stroke-opacity="1" fill="none"/>
<path d="M225.5 329.1h.5m.5 0h.5m.5 0h.5m3 0h.5m4.5 0h1m.5 0h1m2.5 0h1.5m.5 0h1m.5 0h.5M218.5 329.6h.5m.5 0h1m.5 0h.5m5 0h1.5m.5 0h1m.5 0h1m.5 0h.5m2.5 0h2m.5 0h.5m1 0h1m2 0h.5m.5 0h.5m2 0h.5M216 330.1h2m.5 0h1m1.5 0h.5m.5 0h.5m.5 0h1m1.5 0h1m1 0h1.5m.5 0h.5m1.5 0h.5m2 0h.5m.5 0h.5m1.5 0h1.5m.5 0h.5m2 0h.5m2 0h.5m1 0h.5m.5 0h.5m1 0h.5M214 330.6h.5m.5 0h.5m1 0h1m.5 0h2m.5 0h1.5m.5 0h1.5m1.5 0h.5m8 0h.5m14.5 0h2M210 331.1h1m1.5 0h.5m1 0h.5m1 0h1m31.5 0h1m.5 0h.5m.5 0h2M209 331.6h.5m.5 0h.5m1 0h1m2.5 0h1m34.5 0h1m.5 0h.5M205.5 332.1h1m1 0h.5m2 0h.5m41 0h.5m.5 0h1.5M206 332.6h.5m.5 0h1m44 0h.5m2 0h.5M204 333.1h1m.5 0h.5m46.5 0h2M204 333.6h1m48 0h1.5M203.5 334.1h.5m49 0h.5m.5 0h.5m.5 0h.5M199 334.6h.5m1 0h1m1 0h.5m50.5 0h.5m.5 0h.5M201.5 335.1h.5m51.5 0h.5m.5 0h1M200 335.6h.5m53.5 0h.5M254 336.1h.5m.5 0h.5M254 336.6h.5M254 337.1h1M254 337.6h1M254 338.1h.5m.5 0h.5M253.5 338.6h1M253 339.1h1m.5 0h.5M252.5 339.6h1m.5 0h1M252 340.1h2.5M251 340.6h1.5M250.5 341.1h.5m1 0h1M250.5 341.6h1.5m1 0h.5M250.5 342.1h.5m1 0h.5M249.5 342.6h.5m1 0h.5m.5 0h.5M246.5 343.1h1.5m.5 0h.5m2 0h.5m.5 0h.5M245.5 343.6h2.5M242 344.1h1m.5 0h2M199 344.6h.5m36 0h.5m2.5 0h1m.5 0h2m3.5 0h.5m.5 0h.5M199 345.1h1m34.5 0h.5m1 0h.5m.5 0h1.5m.5 0h1m3 0h.5m1.5 0h.5M199 345.6h.5m.5 0h1m28.5 0h.5m4 0h1m.5 0h.5m3.5 0h.5m1 0h1M199.5 346.1h1.5m5 0h.5m21.5 0h1m1 0h.5m1 0h1.5m.5 0h.5m1.5 0h.5m.5 0h1m.5 0h.5m1.5 0h.5m.5 0h1M200.5 346.6h1m3.5 0h.5m1.5 0h.5m1 0h.5m1.5 0h.5m16 0h.5m.5 0h.5m1 0h.5m.5 0h1m3.5 0h2m.5 0h.5m.5 0h1m.5 0h.5M201.5 347.1h1m.5 0h.5m1 0h1m1 0h.5m.5 0h.5m.5 0h1m.5 0h.5m.5 0h.5m7 0h.5m1.5 0h1m1.5 0h.5m2 0h1m.5 0h.5m.5 0h2.5m1 0h.5m1.5 0h.5m1 0h.5m.5 0h.5m1 0h.5m.5 0h.5m.5 0h.5M201 347.6h.5m.5 0h1.5m.5 0h.5m.5 0h1m.5 0h.5m1 0h2m1.5 0h1m.5 0h.5m.5 0h.5m2 0h.5m.5 0h2m1.5 0h3.5m.5 0h.5m2.5 0h1m.5 0h.5m.5 0h.5m.5 0h1m.5 0h.5m.5 0h1m3 0h1M201.5 348.1h1m2.5 0h1m1 0h.5m.5 0h1m2 0h3m1 0h3m.5 0h.5m2.5 0h.5m.5 0h1m1.5 0h.5m2 0h.5m2 0h.5m1 0h1m5 0h.5M208 348.6h.5m.5 0h1m1.5 0h.5m1.5 0h.5m1.5 0h2.5m1 0h.5m1.5 0h2m2 0h1m.5 0h2m1 0h1m.5 0h.5M213.5 349.1h.5m2.5 0h.5m4 0h.5m1 0h.5m.5 0h1m.5 0h.5m1 0h1m1.5 0h1m1.5 0h.5m.5 0h.5M224.5 349.6h1.5m.5 0h.5M224.5 362.1h1M223 362.6h1m1 0h1M222.5 363.1h1.5m.5 0h1m3 0h1M223 363.6h1m.5 0h1.5m1.5 0h.5m1 0h.5M221 364.1h.5m.5 0h1m1 0h4.5M221 364.6h1m3 0h1.5m1.5 0h.5M215 365.1h1.5m5.5 0h2m1 0h1.5m1 0h1.5M215.5 365.6h.5m.5 0h.5m.5 0h.5m2.5 0h1m.5 0h.5m1 0h.5m.5 0h1.5M215 366.1h2.5m.5 0h.5m1.5 0h1m.5 0h.5m.5 0h1M216 366.6h.5m1 0h.5m.5 0h.5m2 0h1m1.5 0h.5M220 367.1h.5M220 367.6h.5m.5 0h.5" stroke="#1a21f8" stroke-width="0.5" stroke-opacity="1" fill="none"/>
<path d="M226.5 330.1h.5m3 0h.5m11.5 0h1m.5 0h.5M226 330.6h1.5m2 0h1m.5 0h1.5m4.5 0h2m1.5 0h1.5m.5 0h1m.5 0h1m.5 0h.5M217.5 331.1h.5m.5 0h2m.5 0h1m.5 0h.5m.5 0h.5m1 0h1m2 0h1m2.5 0h3m1 0h2m.5 0h1m.5 0h1m.5 0h1m3 0h1m.5 0h.5M213 331.6h.5m.5 0h1m1.5 0h.5m.5 0h.5m.5 0h.5m1 0h2m.5 0h1.5m.5 0h2m12 0h1.5m6 0h.5m.5 0h1m.5 0h2M212 332.1h3m1 0h.5m.5 0h.5m29.5 0h1.5m.5 0h.5m1.5 0h.5M209 332.6h1m.5 0h.5m.5 0h1m1.5 0h.5m34 0h2.5m.5 0h.5M206 333.1h.5m1 0h1.5m.5 0h1m40 0h2M206.5 333.6h1m1 0h1m41.5 0h1.5M204 334.1h2m45 0h.5m.5 0h1M203.5 334.6h1m47 0h.5m.5 0h.5M203 335.1h1m47.5 0h1.5M199 335.6h.5m2 0h1m49.5 0h1M199 336.1h1m.5 0h.5m.5 0h1m49.5 0h.5m1 0h.5M199.5 336.6h1.5m51 0h.5m.5 0h1M199.5 337.1h.5m.5 0h.5m50.5 0h.5m.5 0h1.5M199 337.6h.5m52 0h.5m.5 0h.5M251 338.1h1.5m.5 0h.5M252.5 338.6h.5M250 339.1h3M249.5 339.6h.5m.5 0h1M249.5 340.1h.5m1 0h.5M249 340.6h2M249 341.1h1.5M244.5 341.6h.5m.5 0h1.5m.5 0h2M246.5 342.1h2.5M199 342.6h1m43.5 0h1.5m.5 0h1.5m.5 0h.5M199 343.1h1.5m42 0h.5m.5 0h2M199 343.6h1m1 0h.5m37.5 0h3.5m2 0h.5M200 344.1h1.5m31.5 0h1.5m.5 0h.5m1 0h1.5m1 0h.5m.5 0h1m.5 0h.5M200.5 344.6h1.5m27 0h6.5M201.5 345.1h1m2 0h2.5m23.5 0h1m.5 0h1m.5 0h1M201 345.6h3m1.5 0h1m1 0h1.5m1 0h2m7.5 0h1m.5 0h.5m.5 0h1.5m1 0h2.5m1 0h1m1 0h1m.5 0h.5m.5 0h1.5M202 346.1h3m3.5 0h1m1 0h.5m.5 0h1m.5 0h1.5m2 0h1m.5 0h1m2 0h1.5m.5 0h1m.5 0h1m1 0h1M202 346.6h.5m1.5 0h1m4 0h.5m2 0h4m.5 0h1m1 0h1.5m.5 0h.5m.5 0h.5m1 0h1m.5 0h1m.5 0h1M212.5 347.1h.5m.5 0h.5m.5 0h1.5m.5 0h.5m.5 0h1m3 0h.5m.5 0h.5M214.5 347.6h1" stroke="#141ef5" stroke-width="0.5" stroke-opacity="1" fill="none"/>
<path d="M229.5 331.1h2m10.5 0h3M227 331.6h11.5m1.5 0h6M218 332.1h10m3.5 0h10m3.5 0h2M215.5 332.6h6.5m2.5 0h2m11.5 0h2.5m5.5 0h2.5M211.5 333.1h6m29 0h4M209.5 333.6h5.5m32.5 0h3.5M206 334.1h5.5m37 0h2.5M205 334.6h3.5m41 0h2M204 335.1h2.5m43 0h2M203 335.6h2m45 0h2M202.5 336.1h1.5m46.5 0h1.5M201.5 336.6h2m47 0h1.5M201 337.1h2m47.5 0h1M200 337.6h2.5m47.5 0h1.5M199 338.1h3m47.5 0h1.5M199 338.6h2m48 0h1.5M199 339.1h1.5m48 0h1.5M199 339.6h1m48.5 0h1M199 340.1h1m48 0h1.5M199 340.6h1m44.5 0h4.5M199 341.1h1.5m43.5 0h4.5M199 341.6h2m42 0h1.5M199 342.1h3m39.5 0h2.5M200 342.6h2.5m36 0h4.5M201 343.1h2.5m28.5 0h10M201.5 343.6h5m22.5 0h9.5M202 344.1h5m14 0h4m2.5 0h5.5M202 344.6h6.5m1.5 0h2m7.5 0h9M202.5 345.1h1.5m3 0h20.5M209 345.6h1m2 0h7.5M215 346.1h1.5" stroke="#0a4bfa" stroke-width="0.5" stroke-opacity="1" fill="none"/>
<path d="M228 332.1h3.5m10 0h3.5M222 332.6h2.5m2 0h11.5m2.5 0h5.5M217.5 333.1h10.5m6 0h12.5M215 333.6h4m.5 0h1.5m4 0h1m9.5 0h5m2 0h5M211.5 334.1h5m20.5 0h2m4.5 0h5M208.5 334.6h6.5m30.5 0h4M206.5 335.1h5.5m35.5 0h2M205 335.6h2.5m41 0h1.5M204 336.1h2.5m42 0h2M203.5 336.6h2m43 0h2M203 337.1h2m43 0h2.5M202.5 337.6h1.5m43.5 0h2.5M202 338.1h1.5m43.5 0h2.5M201 338.6h2m44 0h2M200.5 339.1h2.5m43.5 0h2M200 339.6h2.5m42 0h4M200 340.1h2m41.5 0h4.5M200 340.6h2m40.5 0h2M200.5 341.1h2m38.5 0h3M201 341.6h2.5m34.5 0h5M202 342.1h4m25.5 0h2.5m2.5 0h5M202.5 342.6h4.5m22.5 0h9M203.5 343.1h4m13.5 0h5m2 0h4M206.5 343.6h6m7.5 0h9M207 344.1h14m4 0h2.5M208.5 344.6h1.5m2 0h7.5" stroke="#007efc" stroke-width="0.5" stroke-opacity="1" fill="none"/>
<path d="M228 333.1h6M219 333.6h.5m1.5 0h4m1 0h9.5m5 0h2M216.5 334.1h5.5m2 0h7m3.5 0h2.5m2 0h4.5M215 334.6h2.5m17.5 0h4.5m2.5 0h3.5M212 335.1h4m20 0h2.5m4.5 0h4.5M207.5 335.6h6.5m29.5 0h5M206.5 336.1h5.5m32.5 0h4M205.5 336.6h2m37.5 0h3.5M205 337.1h2m38 0h3M204 337.6h2.5m38.5 0h2.5M203.5 338.1h2m39.5 0h2M203 338.6h2m39 0h3M203 339.1h1.5m37.5 0h4.5M202.5 339.6h2m37 0h3M202 340.1h5m33.5 0h3M202 340.6h5m30.5 0h5M202.5 341.1h4.5m29.5 0h4.5M203.5 341.6h4m4 0h1.5m17 0h8M206 342.1h2m2.5 0h3m7.5 0h6.5m.5 0h3.5m2.5 0h2.5M207 342.6h7m5.5 0h10M207.5 343.1h13.5m5 0h2M212.5 343.6h7.5" stroke="#00bae1" stroke-width="0.5" stroke-opacity="1" fill="none"/>
<path d="M222 334.1h2m7 0h3.5M217.5 334.6h17.5m4.5 0h2.5M216 335.1h6.5m2 0h7m2.5 0h2m2.5 0h4.5M214 335.6h3m3.5 0h1m13 0h5m2.5 0h1.5M212 336.1h3.5m20 0h3.5m3 0h2.5M207.5 336.6h6m22.5 0h1m5 0h3M207 337.1h5m29 0h4M206.5 337.6h4m29.5 0h5M205.5 338.1h4.5m29 0h6M205 338.6h4.5m29.5 0h5M204.5 339.1h5m26.5 0h1.5m.5 0h4M204.5 339.6h5m26.5 0h5.5M207 340.1h2m26.5 0h5M207 340.6h2m1 0h3.5m13 0h.5m5.5 0h5M207 341.1h7m8.5 0h14M207.5 341.6h4m1.5 0h2.5m2 0h12.5M208 342.1h2.5m3 0h7.5m6.5 0h.5M214 342.6h5.5" stroke="#17d67d" stroke-width="0.5" stroke-opacity="1" fill="none"/>
<path d="M222.5 335.1h2m7 0h2.5M217 335.6h3.5m1 0h13m5 0h2.5M215.5 336.1h2.5m1 0h3.5m2.5 0h6.5m1.5 0h2.5m3.5 0h3M213.5 336.6h3.5m3 0h1.5m5 0h3.5m4 0h2m1 0h5M212 337.1h4m19 0h6M210.5 337.6h3.5m21 0h5M210 338.1h3m22 0h4M209.5 338.6h3m22.5 0h4M209.5 339.1h3m22 0h1.5m1.5 0h.5M209.5 339.6h4m13.5 0h1m5 0h3M209 340.1h6.5m9.5 0h5m1 0h4.5M209 340.6h1m3.5 0h7m.5 0h5.5m.5 0h5.5M214 341.1h8.5M215.5 341.6h2" stroke="#5be42f" stroke-width="0.5" stroke-opacity="1" fill="none"/>
<path d="M218 336.1h1m3.5 0h2.5m6.5 0h1.5M217 336.6h3m1.5 0h5m3.5 0h4M216 337.1h7m1.5 0h10.5M214 337.6h8m3 0h10M213 338.1h8m4.5 0h9.5M212.5 338.6h5.5m.5 0h2.5m4.5 0h9.5M212.5 339.1h5.5m.5 0h2.5m1 0h12.5M213.5 339.6h13.5m1 0h5M215.5 340.1h9.5m5 0h1M220.5 340.6h.5" stroke="#c8e913" stroke-width="0.5" stroke-opacity="1" fill="none"/>
<path d="M223 337.1h1.5M222 337.6h3M221 338.1h4.5M218 338.6h.5m2.5 0h4.5M218 339.1h.5m2.5 0h1" stroke="#f69a03" stroke-width="0.5" stroke-opacity="1" fill="none"/>
<line x1="186.5" y1="353.3" x2="290.2" y2="353.3" stroke="#808080" stroke-width="1.4"/>
<line x1="290.2" y1="353.3" x2="290.2" y2="411.5" stroke="#c4c4c4" stroke-width="0.9"/>
<path d="M186.5,353.3 V308.0 H290.2 V353.3" fill="none" stroke="#6a6a6a" stroke-width="1.5"/>
<line x1="186.5" y1="308.0" x2="186.5" y2="411.5" stroke="#333" stroke-width="1.2"/>
<line x1="186.5" y1="411.5" x2="290.2" y2="411.5" stroke="#333" stroke-width="1.2"/>
<line x1="183.7" y1="411.5" x2="186.5" y2="411.5" stroke="#333" stroke-width="1.1"/>
<line x1="184.9" y1="407.2" x2="186.5" y2="407.2" stroke="#555" stroke-width="0.7"/>
<line x1="184.9" y1="404.6" x2="186.5" y2="404.6" stroke="#555" stroke-width="0.7"/>
<line x1="184.9" y1="402.9" x2="186.5" y2="402.9" stroke="#555" stroke-width="0.7"/>
<line x1="184.9" y1="401.4" x2="186.5" y2="401.4" stroke="#555" stroke-width="0.7"/>
<line x1="184.9" y1="400.3" x2="186.5" y2="400.3" stroke="#555" stroke-width="0.7"/>
<line x1="184.9" y1="399.3" x2="186.5" y2="399.3" stroke="#555" stroke-width="0.7"/>
<line x1="184.9" y1="398.6" x2="186.5" y2="398.6" stroke="#555" stroke-width="0.7"/>
<line x1="184.9" y1="397.8" x2="186.5" y2="397.8" stroke="#555" stroke-width="0.7"/>
<text x="0" y="0" font-size="5.2" text-anchor="middle" fill="#555" transform="translate(178.3 414.1) rotate(-38)">10<tspan dy="-2.4" font-size="3.8">0</tspan></text>
<line x1="183.7" y1="397.1" x2="186.5" y2="397.1" stroke="#333" stroke-width="1.1"/>
<line x1="184.9" y1="392.8" x2="186.5" y2="392.8" stroke="#555" stroke-width="0.7"/>
<line x1="184.9" y1="390.2" x2="186.5" y2="390.2" stroke="#555" stroke-width="0.7"/>
<line x1="184.9" y1="388.5" x2="186.5" y2="388.5" stroke="#555" stroke-width="0.7"/>
<line x1="184.9" y1="387.1" x2="186.5" y2="387.1" stroke="#555" stroke-width="0.7"/>
<line x1="184.9" y1="385.9" x2="186.5" y2="385.9" stroke="#555" stroke-width="0.7"/>
<line x1="184.9" y1="384.9" x2="186.5" y2="384.9" stroke="#555" stroke-width="0.7"/>
<line x1="184.9" y1="384.2" x2="186.5" y2="384.2" stroke="#555" stroke-width="0.7"/>
<line x1="184.9" y1="383.5" x2="186.5" y2="383.5" stroke="#555" stroke-width="0.7"/>
<text x="0" y="0" font-size="5.2" text-anchor="middle" fill="#555" transform="translate(178.3 399.7) rotate(-38)">10<tspan dy="-2.4" font-size="3.8">1</tspan></text>
<line x1="183.7" y1="382.8" x2="186.5" y2="382.8" stroke="#333" stroke-width="1.1"/>
<line x1="184.9" y1="378.4" x2="186.5" y2="378.4" stroke="#555" stroke-width="0.7"/>
<line x1="184.9" y1="375.9" x2="186.5" y2="375.9" stroke="#555" stroke-width="0.7"/>
<line x1="184.9" y1="374.1" x2="186.5" y2="374.1" stroke="#555" stroke-width="0.7"/>
<line x1="184.9" y1="372.7" x2="186.5" y2="372.7" stroke="#555" stroke-width="0.7"/>
<line x1="184.9" y1="371.5" x2="186.5" y2="371.5" stroke="#555" stroke-width="0.7"/>
<line x1="184.9" y1="370.5" x2="186.5" y2="370.5" stroke="#555" stroke-width="0.7"/>
<line x1="184.9" y1="369.8" x2="186.5" y2="369.8" stroke="#555" stroke-width="0.7"/>
<line x1="184.9" y1="369.1" x2="186.5" y2="369.1" stroke="#555" stroke-width="0.7"/>
<text x="0" y="0" font-size="5.2" text-anchor="middle" fill="#555" transform="translate(178.3 385.4) rotate(-38)">10<tspan dy="-2.4" font-size="3.8">2</tspan></text>
<line x1="183.7" y1="368.4" x2="186.5" y2="368.4" stroke="#333" stroke-width="1.1"/>
<line x1="184.9" y1="364.1" x2="186.5" y2="364.1" stroke="#555" stroke-width="0.7"/>
<line x1="184.9" y1="361.5" x2="186.5" y2="361.5" stroke="#555" stroke-width="0.7"/>
<line x1="184.9" y1="359.8" x2="186.5" y2="359.8" stroke="#555" stroke-width="0.7"/>
<line x1="184.9" y1="358.3" x2="186.5" y2="358.3" stroke="#555" stroke-width="0.7"/>
<line x1="184.9" y1="357.2" x2="186.5" y2="357.2" stroke="#555" stroke-width="0.7"/>
<line x1="184.9" y1="356.2" x2="186.5" y2="356.2" stroke="#555" stroke-width="0.7"/>
<line x1="184.9" y1="355.5" x2="186.5" y2="355.5" stroke="#555" stroke-width="0.7"/>
<line x1="184.9" y1="354.7" x2="186.5" y2="354.7" stroke="#555" stroke-width="0.7"/>
<text x="0" y="0" font-size="5.2" text-anchor="middle" fill="#555" transform="translate(178.3 371.0) rotate(-38)">10<tspan dy="-2.4" font-size="3.8">3</tspan></text>
<line x1="183.7" y1="354.0" x2="186.5" y2="354.0" stroke="#333" stroke-width="1.1"/>
<line x1="184.9" y1="349.7" x2="186.5" y2="349.7" stroke="#555" stroke-width="0.7"/>
<line x1="184.9" y1="347.1" x2="186.5" y2="347.1" stroke="#555" stroke-width="0.7"/>
<line x1="184.9" y1="345.4" x2="186.5" y2="345.4" stroke="#555" stroke-width="0.7"/>
<line x1="184.9" y1="344.0" x2="186.5" y2="344.0" stroke="#555" stroke-width="0.7"/>
<line x1="184.9" y1="342.8" x2="186.5" y2="342.8" stroke="#555" stroke-width="0.7"/>
<line x1="184.9" y1="341.8" x2="186.5" y2="341.8" stroke="#555" stroke-width="0.7"/>
<line x1="184.9" y1="341.1" x2="186.5" y2="341.1" stroke="#555" stroke-width="0.7"/>
<line x1="184.9" y1="340.4" x2="186.5" y2="340.4" stroke="#555" stroke-width="0.7"/>
<text x="0" y="0" font-size="5.2" text-anchor="middle" fill="#555" transform="translate(178.3 356.6) rotate(-38)">10<tspan dy="-2.4" font-size="3.8">4</tspan></text>
<line x1="183.7" y1="339.6" x2="186.5" y2="339.6" stroke="#333" stroke-width="1.1"/>
<line x1="184.9" y1="335.3" x2="186.5" y2="335.3" stroke="#555" stroke-width="0.7"/>
<line x1="184.9" y1="332.7" x2="186.5" y2="332.7" stroke="#555" stroke-width="0.7"/>
<line x1="184.9" y1="331.0" x2="186.5" y2="331.0" stroke="#555" stroke-width="0.7"/>
<line x1="184.9" y1="329.6" x2="186.5" y2="329.6" stroke="#555" stroke-width="0.7"/>
<line x1="184.9" y1="328.4" x2="186.5" y2="328.4" stroke="#555" stroke-width="0.7"/>
<line x1="184.9" y1="327.4" x2="186.5" y2="327.4" stroke="#555" stroke-width="0.7"/>
<line x1="184.9" y1="326.7" x2="186.5" y2="326.7" stroke="#555" stroke-width="0.7"/>
<line x1="184.9" y1="326.0" x2="186.5" y2="326.0" stroke="#555" stroke-width="0.7"/>
<text x="0" y="0" font-size="5.2" text-anchor="middle" fill="#555" transform="translate(178.3 342.2) rotate(-38)">10<tspan dy="-2.4" font-size="3.8">5</tspan></text>
<line x1="183.7" y1="325.3" x2="186.5" y2="325.3" stroke="#333" stroke-width="1.1"/>
<line x1="184.9" y1="321.0" x2="186.5" y2="321.0" stroke="#555" stroke-width="0.7"/>
<line x1="184.9" y1="318.4" x2="186.5" y2="318.4" stroke="#555" stroke-width="0.7"/>
<line x1="184.9" y1="316.6" x2="186.5" y2="316.6" stroke="#555" stroke-width="0.7"/>
<line x1="184.9" y1="315.2" x2="186.5" y2="315.2" stroke="#555" stroke-width="0.7"/>
<line x1="184.9" y1="314.1" x2="186.5" y2="314.1" stroke="#555" stroke-width="0.7"/>
<line x1="184.9" y1="313.1" x2="186.5" y2="313.1" stroke="#555" stroke-width="0.7"/>
<line x1="184.9" y1="312.3" x2="186.5" y2="312.3" stroke="#555" stroke-width="0.7"/>
<line x1="184.9" y1="311.6" x2="186.5" y2="311.6" stroke="#555" stroke-width="0.7"/>
<text x="0" y="0" font-size="5.2" text-anchor="middle" fill="#555" transform="translate(178.3 327.9) rotate(-38)">10<tspan dy="-2.4" font-size="3.8">6</tspan></text>
<line x1="183.7" y1="310.9" x2="186.5" y2="310.9" stroke="#333" stroke-width="1.1"/>
<text x="0" y="0" font-size="5.2" text-anchor="middle" fill="#555" transform="translate(178.3 313.5) rotate(-38)">10<tspan dy="-2.4" font-size="3.8">7</tspan></text>
<line x1="186.5" y1="411.5" x2="186.5" y2="414.3" stroke="#333" stroke-width="1"/>
<line x1="192.7" y1="411.5" x2="192.7" y2="413.0" stroke="#666" stroke-width="0.6"/>
<line x1="198.9" y1="411.5" x2="198.9" y2="413.0" stroke="#666" stroke-width="0.6"/>
<line x1="205.0" y1="411.5" x2="205.0" y2="413.0" stroke="#666" stroke-width="0.6"/>
<line x1="211.2" y1="411.5" x2="211.2" y2="413.0" stroke="#666" stroke-width="0.6"/>
<text x="187.3" y="419.8" font-size="5" text-anchor="middle" fill="#444">0</text>
<line x1="217.4" y1="411.5" x2="217.4" y2="414.3" stroke="#333" stroke-width="1"/>
<line x1="223.6" y1="411.5" x2="223.6" y2="413.0" stroke="#666" stroke-width="0.6"/>
<line x1="229.8" y1="411.5" x2="229.8" y2="413.0" stroke="#666" stroke-width="0.6"/>
<line x1="235.9" y1="411.5" x2="235.9" y2="413.0" stroke="#666" stroke-width="0.6"/>
<line x1="242.1" y1="411.5" x2="242.1" y2="413.0" stroke="#666" stroke-width="0.6"/>
<text x="218.2" y="419.8" font-size="5" text-anchor="middle" fill="#444">5.0M</text>
<line x1="248.3" y1="411.5" x2="248.3" y2="414.3" stroke="#333" stroke-width="1"/>
<line x1="254.5" y1="411.5" x2="254.5" y2="413.0" stroke="#666" stroke-width="0.6"/>
<line x1="260.7" y1="411.5" x2="260.7" y2="413.0" stroke="#666" stroke-width="0.6"/>
<line x1="266.8" y1="411.5" x2="266.8" y2="413.0" stroke="#666" stroke-width="0.6"/>
<line x1="273.0" y1="411.5" x2="273.0" y2="413.0" stroke="#666" stroke-width="0.6"/>
<text x="249.1" y="419.8" font-size="5" text-anchor="middle" fill="#444">10M</text>
<line x1="279.2" y1="411.5" x2="279.2" y2="414.3" stroke="#333" stroke-width="1"/>
<line x1="285.4" y1="411.5" x2="285.4" y2="413.0" stroke="#666" stroke-width="0.6"/>
<text x="280.0" y="419.8" font-size="5" text-anchor="middle" fill="#444">15M</text>
<text x="271.2" y="324.6" font-size="10.8" text-anchor="middle" font-weight="bold" font-style="normal" fill="#1a1a1a" >98.6%</text>
<path d="M335.8 320.6h.5M362.8 322.1h.5M352.8 322.6h.5m13.5 0h.5M359.8 324.1h.5M333.8 324.6h.5m35.5 0h.5M321.8 325.1h.5m17.5 0h.5m.5 0h.5m4 0h.5M334.3 325.6h.5m8 0h.5m4 0h.5m8.5 0h.5m3.5 0h.5m2.5 0h.5m4 0h.5M340.3 326.1h.5m5 0h.5m12.5 0h.5m1.5 0h.5m11 0h.5M338.3 326.6h.5m2.5 0h.5m2 0h.5m7 0h1m4.5 0h.5m4.5 0h.5m7.5 0h.5M328.3 327.1h.5m1 0h.5m8.5 0h.5m16 0h.5M334.8 327.6h.5m5.5 0h.5m29 0h.5M325.8 328.1h.5m2 0h.5m1 0h.5M332.3 328.6h.5M322.3 329.1h.5m5.5 0h.5M320.8 329.6h1m2 0h.5m.5 0h.5M322.8 330.1h.5m3 0h.5M372.8 343.1h.5M371.3 344.1h.5M367.8 345.1h.5M372.8 345.6h.5M369.3 346.1h.5m.5 0h.5m1 0h.5M372.8 346.6h.5M363.3 347.1h.5m2 0h.5m3.5 0h.5M363.8 347.6h.5M361.3 348.1h.5m3.5 0h.5M360.3 348.6h.5m4.5 0h.5M318.8 349.1h.5m53 0h.5M360.8 349.6h.5m4.5 0h.5M354.8 350.1h.5m2.5 0h1M351.3 350.6h.5m1 0h.5m6 0h.5m6.5 0h.5M358.3 351.1h.5M320.8 351.6h.5m31.5 0h.5m1.5 0h1m4 0h.5m3.5 0h.5M318.8 352.1h.5m31 0h.5m4 0h.5M326.8 352.6h.5m.5 0h.5m10 0h.5m11 0h.5m5 0h1m5 0h.5m3.5 0h.5M320.8 353.1h.5m10.5 0h.5m8 0h.5m1.5 0h.5m7.5 0h.5M319.3 353.6h.5m.5 0h.5m2 0h.5m3 0h.5m3.5 0h.5m1.5 0h.5m2.5 0h.5m4.5 0h.5m4 0h.5m.5 0h.5m1.5 0h.5m11 0h.5M323.3 354.1h.5m5 0h1m9 0h.5m6.5 0h.5m11 0h.5M322.3 354.6h.5m8.5 0h.5m1 0h.5m7 0h.5m5.5 0h.5M328.3 355.1h.5m13.5 0h.5m.5 0h.5m5.5 0h.5M326.3 355.6h.5m9 0h.5m2 0h.5M327.3 356.1h.5m1 0h.5m1.5 0h.5m5 0h.5m2 0h.5m4 0h.5m24.5 0h.5M322.8 356.6h.5m27.5 0h.5M318.8 357.1h.5m12 0h.5m3 0h.5M335.8 357.6h.5m6 0h.5M322.3 358.1h.5m8.5 0h.5m9.5 0h.5m7.5 0h.5M318.8 358.6h.5m3 0h.5m16 0h.5M323.3 359.1h.5m23 0h.5M319.3 359.6h.5m3 0h.5m6.5 0h.5M330.3 360.1h.5m11 0h.5m2 0h.5m1 0h.5M330.3 360.6h.5M328.8 361.6h.5m6 0h.5M318.8 362.1h.5m5 0h.5m13.5 0h.5m6 0h.5M323.8 362.6h.5m13 0h.5m9.5 0h.5M327.8 363.1h.5M335.8 363.6h.5m5 0h.5M324.8 364.1h.5m21 0h.5M325.3 364.6h.5m25 0h.5M338.8 365.1h.5M332.3 366.1h.5m10 0h.5m1 0h.5M347.8 367.1h.5M326.3 367.6h.5M332.3 371.1h.5" stroke="#2526fd" stroke-width="0.5" stroke-opacity="0.9" fill="none"/>
<path d="M347.3 326.6h.5M349.8 327.1h.5m.5 0h.5m8 0h.5m2.5 0h.5m.5 0h.5M335.3 327.6h1.5m9 0h.5m.5 0h.5m1 0h1m7 0h1m2 0h.5m1.5 0h.5M336.8 328.1h.5m3 0h.5m1 0h.5m2 0h1m1.5 0h1m2 0h.5m2.5 0h1m1.5 0h.5m2 0h.5m4 0h1m2.5 0h.5m4 0h.5M334.3 328.6h.5m.5 0h.5m3.5 0h.5m1.5 0h.5m8.5 0h.5m1 0h.5m3 0h.5m1 0h.5m.5 0h1m2 0h.5m3 0h.5m.5 0h.5m.5 0h.5m.5 0h1.5m.5 0h.5m1.5 0h.5M333.3 329.1h.5m1.5 0h2m.5 0h1m1 0h.5m4 0h.5m23.5 0h.5m2 0h.5m1 0h.5M334.8 329.6h.5m.5 0h.5m6.5 0h.5m26.5 0h.5m.5 0h.5m.5 0h.5M329.3 330.1h.5m.5 0h1.5m1 0h1m36 0h.5m3 0h1M329.8 330.6h1m41 0h.5M319.8 331.1h.5m1 0h.5m.5 0h.5m2 0h.5m2.5 0h.5m.5 0h.5M318.8 331.6h.5m.5 0h.5m.5 0h.5m.5 0h.5m.5 0h.5M318.3 332.1h.5m2.5 0h.5m1.5 0h1.5M320.3 332.6h2M319.3 333.1h.5M319.3 333.6h2M319.3 334.1h.5M372.3 340.6h1M371.8 341.1h1m1 0h.5M370.8 342.1h.5m.5 0h.5m1 0h.5M368.8 342.6h1M369.3 343.1h1m3 0h.5M365.3 343.6h.5m1 0h.5m1 0h.5m1.5 0h.5M363.3 344.1h1m5.5 0h.5M361.8 344.6h1m.5 0h1m1.5 0h.5m.5 0h1M358.3 345.1h.5m.5 0h1m.5 0h.5m1 0h.5m1.5 0h1m.5 0h.5m1 0h.5M318.8 345.6h1m38 0h.5m1.5 0h.5m1.5 0h.5m.5 0h.5m1.5 0h.5M318.3 346.1h.5m.5 0h.5m1.5 0h.5m30.5 0h.5m1 0h.5m3 0h.5m6 0h1m.5 0h.5M319.3 346.6h.5m31.5 0h.5m2.5 0h2m3 0h.5m4.5 0h.5m1 0h.5M321.3 347.1h1m29 0h1.5m1 0h.5m1.5 0h.5m.5 0h.5m2 0h.5m4.5 0h.5M322.3 347.6h.5m27 0h.5m.5 0h.5m1 0h1m.5 0h.5m.5 0h.5m.5 0h.5m.5 0h1m.5 0h.5M319.3 348.1h1m1 0h.5m.5 0h.5m29 0h.5m1.5 0h1.5m4 0h.5M319.8 348.6h.5m.5 0h1m.5 0h1m3 0h.5m.5 0h.5m21.5 0h1m5.5 0h.5m2 0h.5m.5 0h.5M320.8 349.1h.5m1 0h.5m.5 0h1m.5 0h.5m.5 0h.5m24 0h.5m.5 0h.5m1 0h.5m1.5 0h.5m1 0h.5m2 0h1M321.8 349.6h1.5m.5 0h1m1.5 0h1.5m.5 0h.5m16 0h.5m1.5 0h.5m.5 0h1m1 0h.5m.5 0h.5m.5 0h.5m2 0h.5m1 0h.5M324.3 350.1h.5m3 0h1m1.5 0h.5m5.5 0h.5m1 0h.5m4.5 0h2m1 0h.5m.5 0h.5m1.5 0h.5M322.8 350.6h.5m1.5 0h.5m2.5 0h1m.5 0h.5m1.5 0h.5m4 0h1m.5 0h.5m1 0h.5m1 0h.5m.5 0h.5m1 0h1m2 0h1.5m.5 0h.5m2 0h.5M322.8 351.1h.5m1 0h.5m4 0h1m2 0h1m.5 0h.5m1 0h.5m.5 0h1m1 0h1m.5 0h.5m1.5 0h.5m2.5 0h.5m5 0h.5M323.8 351.6h.5m4.5 0h.5m3.5 0h.5m1.5 0h.5m5 0h.5m1 0h.5m1 0h1m1.5 0h.5m2 0h.5M329.3 352.1h1m.5 0h.5m1.5 0h.5m.5 0h1.5m4.5 0h.5m.5 0h.5m3 0h1m2.5 0h.5M344.3 352.6h.5m1.5 0h.5M334.8 353.1h.5M336.8 353.6h.5M337.3 354.1h.5M336.3 354.6h.5m.5 0h.5M337.3 355.1h.5" stroke="#1f23fa" stroke-width="0.5" stroke-opacity="1" fill="none"/>
<path d="M346.8 328.6h3m2.5 0h1m9.5 0h1.5M347.3 329.1h.5m.5 0h.5m.5 0h1.5m1.5 0h1m.5 0h1m2 0h1m.5 0h1m.5 0h.5m1.5 0h2m.5 0h.5m1.5 0h2M336.3 329.6h.5m1 0h.5m.5 0h.5m.5 0h1m.5 0h.5m.5 0h.5m1.5 0h1m.5 0h1.5m1 0h.5m.5 0h1m1.5 0h1.5m1 0h2m1 0h1.5m.5 0h.5m.5 0h.5m.5 0h1m1.5 0h.5m2 0h.5m2 0h.5M335.8 330.1h.5m.5 0h3m1.5 0h.5m1 0h.5m.5 0h.5m1.5 0h.5m4.5 0h1m15.5 0h1.5M330.8 330.6h.5m1 0h.5m.5 0h.5m1 0h.5m1.5 0h1.5m.5 0h.5m5 0h.5m23.5 0h.5m.5 0h1m2.5 0h1M330.3 331.1h1m1 0h.5m1 0h1m.5 0h1m33 0h1m3.5 0h.5M327.8 331.6h.5m2 0h.5m39 0h1.5m.5 0h.5m.5 0h1.5M325.8 332.1h4m.5 0h.5m39.5 0h1m.5 0h2M323.3 332.6h.5m.5 0h1m.5 0h1m1 0h.5m42.5 0h.5m.5 0h1.5m.5 0h.5M323.8 333.1h.5m1 0h1m45 0h1.5m.5 0h.5M322.8 333.6h.5m.5 0h.5m47.5 0h1.5M320.3 334.1h.5m1 0h.5m.5 0h.5M318.8 334.6h1M318.3 335.1h.5m.5 0h.5m.5 0h1M319.3 335.6h.5M318.3 336.1h.5M372.3 338.6h.5m.5 0h1M371.3 339.1h1.5m.5 0h1M372.3 339.6h.5m1 0h.5M371.3 340.1h1m1.5 0h.5M369.8 340.6h.5m.5 0h.5m.5 0h.5M366.8 341.1h.5m.5 0h1m1 0h.5M366.8 341.6h1.5m.5 0h2M364.3 342.1h.5m.5 0h1.5m1.5 0h1.5M318.3 342.6h.5m44 0h1m.5 0h.5m1 0h1M318.8 343.1h1m41.5 0h.5m.5 0h1m.5 0h.5M318.8 343.6h1.5m37 0h1m1.5 0h1m2.5 0h.5M318.8 344.1h1m.5 0h.5m1 0h.5m34.5 0h1.5m.5 0h1.5m1 0h.5m.5 0h.5M319.3 344.6h1.5m.5 0h1.5m26 0h1m.5 0h1m.5 0h.5m.5 0h1m.5 0h.5m1 0h.5m1.5 0h.5M319.3 345.1h1m.5 0h.5m.5 0h2.5m22.5 0h.5m.5 0h.5m.5 0h1m.5 0h.5m2 0h.5m2 0h1.5m.5 0h.5M320.3 345.6h2m1 0h.5m.5 0h.5m11.5 0h.5m.5 0h1m2.5 0h.5m6 0h1.5m.5 0h2.5m.5 0h.5m1 0h.5m.5 0h1m.5 0h1M323.3 346.1h.5m.5 0h.5m4.5 0h.5m7 0h.5m1 0h.5m1 0h3m2.5 0h1.5m1.5 0h.5m2 0h1.5M324.3 346.6h1m.5 0h.5m1 0h.5m.5 0h1m.5 0h.5m5 0h2m.5 0h4m.5 0h.5m2 0h.5m.5 0h.5m.5 0h.5m1 0h1.5M323.3 347.1h1.5m1.5 0h1.5m1.5 0h4m4.5 0h.5m1.5 0h.5m1 0h4m2.5 0h.5m.5 0h.5M323.3 347.6h1.5m.5 0h2m.5 0h.5m.5 0h1m1 0h1m1 0h1m2.5 0h1m.5 0h1m.5 0h1.5m1.5 0h1m1 0h1m.5 0h.5m1 0h1.5m.5 0h.5M324.3 348.1h1m1 0h1m.5 0h2.5m1 0h.5m1.5 0h1.5m1 0h2.5m.5 0h.5m.5 0h.5m.5 0h.5m1 0h.5m.5 0h.5m3.5 0h2.5M323.8 348.6h.5m5 0h.5m1 0h.5m.5 0h.5m1 0h1.5m.5 0h1m.5 0h3.5m.5 0h1m1 0h.5m.5 0h1m1 0h2.5M330.3 349.1h1.5m.5 0h3m3 0h.5m1.5 0h.5m.5 0h1m1.5 0h2m2.5 0h.5M331.3 349.6h.5m.5 0h.5m.5 0h1.5m4 0h4.5M331.8 350.1h.5m1 0h.5m2 0h.5m2 0h.5m1.5 0h1.5m.5 0h.5M333.3 350.6h.5m.5 0h1" stroke="#1a21f8" stroke-width="0.5" stroke-opacity="1" fill="none"/>
<path d="M362.3 329.6h1M346.3 330.1h1m.5 0h1m.5 0h1m2 0h1m.5 0h.5m.5 0h1m.5 0h1m2 0h2m.5 0h3.5m1 0h.5M340.3 330.6h1m.5 0h.5m.5 0h.5m2 0h1m.5 0h4m1.5 0h2m4.5 0h.5m.5 0h.5m1 0h2m.5 0h.5m.5 0h2.5M336.8 331.1h.5m1.5 0h.5m1 0h2.5m.5 0h.5m.5 0h2m5 0h.5m16 0h.5m.5 0h.5M332.3 331.6h.5m.5 0h2.5m.5 0h1.5m.5 0h.5m30.5 0h.5M332.3 332.1h.5m2.5 0h.5m32.5 0h1m.5 0h.5M329.3 332.6h1m.5 0h1m37.5 0h.5M326.3 333.1h1m1.5 0h1m.5 0h.5m38.5 0h.5m1 0h.5M324.3 333.6h.5m1 0h.5m.5 0h.5m1 0h1.5m39.5 0h1.5m2.5 0h1M323.3 334.1h1.5m.5 0h1m43.5 0h2.5m.5 0h1.5M322.3 334.6h.5m.5 0h2m45.5 0h1m1.5 0h1M321.3 335.1h.5m.5 0h2m46.5 0h3.5M320.8 335.6h1m49.5 0h1.5m.5 0h1M320.3 336.1h1m50.5 0h2.5M318.3 336.6h3m50 0h2M318.3 337.1h1.5m.5 0h.5m50 0h1.5m1 0h.5M318.3 337.6h2m50 0h1m.5 0h2.5M370.3 338.1h.5m.5 0h.5m1 0h.5m.5 0h.5M318.8 338.6h.5m50.5 0h2M318.3 339.1h.5m50.5 0h1.5M318.3 339.6h.5m50 0h2M318.3 340.1h.5m47.5 0h3.5M318.8 340.6h.5m46 0h.5m.5 0h2.5m.5 0h.5M318.3 341.1h1.5m44.5 0h.5m.5 0h.5M318.3 341.6h1.5m42.5 0h.5m.5 0h2.5M318.8 342.1h.5m.5 0h1m36 0h.5m1 0h1m2.5 0h1m.5 0h1M318.8 342.6h.5m.5 0h2m34.5 0h4.5m1 0h.5M319.8 343.1h1m.5 0h2.5m32 0h1m1 0h.5m.5 0h2.5M320.8 343.6h1m1 0h.5m.5 0h.5m.5 0h.5m23 0h1m.5 0h.5m1.5 0h3m1 0h1.5M323.3 344.1h2m.5 0h.5m14 0h1m.5 0h1m.5 0h.5m.5 0h.5m1 0h2.5m1.5 0h.5m3 0h.5m1 0h2M324.3 344.6h1.5m3.5 0h2.5m2.5 0h1m1.5 0h2m.5 0h6.5m.5 0h.5m1 0h1m6 0h.5M324.8 345.1h4.5m.5 0h.5m.5 0h.5m.5 0h1.5m1 0h1.5m.5 0h1m1 0h2m1 0h.5m.5 0h2m.5 0h.5m.5 0h1M325.8 345.6h2m1.5 0h1m1 0h3.5m1 0h.5m2 0h.5m.5 0h1m1.5 0h1m.5 0h2.5M325.8 346.1h.5m.5 0h1m2.5 0h.5m.5 0h3.5m8.5 0h2M326.8 346.6h.5m3.5 0h2.5m.5 0h1.5M334.3 347.1h1M334.8 347.6h.5m.5 0h.5M334.8 348.1h.5" stroke="#141ef5" stroke-width="0.5" stroke-opacity="1" fill="none"/>
<path d="M354.3 330.6h4M346.8 331.1h4.5m1.5 0h2.5m2 0h10M338.8 331.6h14.5m5.5 0h4m1.5 0h4M333.3 332.1h2m1.5 0h9.5m19.5 0h2.5M331.8 332.6h6m29 0h2M330.8 333.1h1.5m35 0h1.5M329.8 333.6h1.5m36 0h2M326.3 334.1h4.5m37 0h2M325.3 334.6h2m1.5 0h1m39 0h1.5M324.3 335.1h2m42.5 0h2M322.3 335.6h3m44 0h2M321.3 336.1h3m45 0h2.5M321.3 336.6h1m47 0h2M320.8 337.1h1.5m46.5 0h2M320.3 337.6h1.5m47 0h1.5M319.8 338.1h2m46.5 0h2M319.3 338.6h2.5m46 0h2M318.8 339.1h2.5m45 0h3M318.8 339.6h2.5m44 0h3.5M318.8 340.1h2.5m42.5 0h2.5M319.3 340.6h2m41 0h3M319.8 341.1h2m35 0h2m2.5 0h3M320.3 341.6h2m33.5 0h6.5M320.8 342.1h2.5m32 0h1.5m2.5 0h2M321.8 342.6h3.5m25 0h6M323.8 343.1h3m10.5 0h2m2.5 0h14M325.3 343.6h3m.5 0h19.5M326.3 344.1h14m4.5 0h1M326.8 344.6h2.5m2.5 0h2.5" stroke="#0a4bfa" stroke-width="0.5" stroke-opacity="1" fill="none"/>
<path d="M355.3 331.1h2M353.3 331.6h5.5m4 0h1.5M346.3 332.1h8m3.5 0h8M337.8 332.6h9m12.5 0h7.5M332.3 333.1h7m21 0h2m2.5 0h2.5M331.3 333.6h6.5m27.5 0h2M330.8 334.1h1.5m33 0h2.5M327.3 334.6h1.5m1 0h1.5m34.5 0h3M326.3 335.1h4m36 0h2.5M325.3 335.6h1.5m40 0h2.5M324.3 336.1h1.5m41.5 0h2M322.3 336.6h3m42.5 0h1.5M322.3 337.1h2m43 0h1.5M321.8 337.6h1.5m44 0h1.5M321.8 338.1h1.5m43 0h2M321.8 338.6h1m42.5 0h2.5M321.3 339.1h1.5m41 0h2.5M321.3 339.6h1m40 0h3M321.3 340.1h1m39 0h2.5M321.3 340.6h1.5m33.5 0h6M321.8 341.1h1.5m31.5 0h2m2 0h2.5M322.3 341.6h1.5m27.5 0h4.5M323.3 342.1h4m14.5 0h3.5m1.5 0h8.5M325.3 342.6h25M326.8 343.1h10.5m2 0h2.5M328.3 343.6h.5" stroke="#007efc" stroke-width="0.5" stroke-opacity="1" fill="none"/>
<path d="M354.3 332.1h3.5M346.8 332.6h8m2 0h2.5M339.3 333.1h8m10 0h3m2 0h2.5M337.8 333.6h5.5m15 0h7M332.3 334.1h7m20.5 0h2.5m1 0h2M331.3 334.6h5m28 0h1.5M330.3 335.1h1.5m33 0h1.5M326.8 335.6h4m34.5 0h1.5M325.8 336.1h4m36 0h1.5M325.3 336.6h1m39.5 0h2M324.3 337.1h1.5m40 0h1.5M323.3 337.6h2m40 0h2M323.3 338.1h2m37.5 0h3.5M322.8 338.6h2m37 0h3.5M322.8 339.1h1.5m36.5 0h3M322.3 339.6h1.5m33 0h5.5M322.3 340.1h1.5m31.5 0h6M322.8 340.6h1.5m27.5 0h4.5M323.3 341.1h5.5m12.5 0h3.5m6 0h4M323.8 341.6h7m1.5 0h1.5m3 0h14.5M327.3 342.1h14.5m3.5 0h1.5" stroke="#00bae1" stroke-width="0.5" stroke-opacity="1" fill="none"/>
<path d="M354.8 332.6h2M347.3 333.1h10M343.3 333.6h5m.5 0h5.5m2 0h2M339.3 334.1h7.5m10.5 0h2.5m2.5 0h1M336.3 334.6h6m15.5 0h6.5M331.8 335.1h5m2 0h1m19.5 0h5.5M330.8 335.6h4m25.5 0h5M329.8 336.1h2m29.5 0h4.5M326.3 336.6h4.5m30.5 0h4.5M325.8 337.1h3m32.5 0h4.5M325.3 337.6h2m33.5 0h4.5M325.3 338.1h1.5m31.5 0h4.5M324.8 338.6h2m30.5 0h4.5M324.3 339.1h3m25.5 0h.5m2.5 0h5M323.8 339.6h4m23.5 0h5.5M323.8 340.1h6m1 0h1m9.5 0h7m2 0h5M324.3 340.6h9.5m5.5 0h12.5M328.8 341.1h12.5m3.5 0h6M330.8 341.6h1.5m1.5 0h3" stroke="#17d67d" stroke-width="0.5" stroke-opacity="1" fill="none"/>
<path d="M348.3 333.6h.5m5.5 0h2M346.8 334.1h10.5M342.3 334.6h9.5m4 0h2M336.8 335.1h2m1 0h7m9.5 0h3M334.8 335.6h8m14.5 0h3M331.8 336.1h4m3 0h3m16 0h3.5M330.8 336.6h3.5m5.5 0h1m17 0h3.5M328.8 337.1h4m24.5 0h4M327.3 337.6h5m24.5 0h4M326.8 338.1h6m19 0h6.5M326.8 338.6h6.5m10 0h2m2.5 0h.5m2.5 0h6.5M327.3 339.1h7m4.5 0h14m.5 0h2.5M327.8 339.6h7m3.5 0h13M329.8 340.1h1m1 0h9.5m7 0h2M333.8 340.6h5.5" stroke="#5be42f" stroke-width="0.5" stroke-opacity="1" fill="none"/>
<path d="M351.8 334.6h4M346.8 335.1h9.5M342.8 335.6h10m.5 0h4M335.8 336.1h3m3 0h10.5m2 0h3.5M334.3 336.6h5.5m1 0h5m2 0h1.5m1.5 0h2m1 0h4M332.8 337.1h3.5m1.5 0h8m2 0h1m2 0h6.5M332.3 337.6h3.5m2 0h8.5m.5 0h2.5m1 0h6.5M332.8 338.1h3m2 0h14M333.3 338.6h10m2 0h2.5m.5 0h2.5M334.3 339.1h4.5M334.8 339.6h3.5" stroke="#c8e913" stroke-width="0.5" stroke-opacity="1" fill="none"/>
<path d="M352.8 335.6h.5M352.3 336.1h2M345.8 336.6h2m1.5 0h1.5m2 0h1M336.3 337.1h1.5m8 0h2m1 0h2M335.8 337.6h2m8.5 0h.5m2.5 0h1M335.8 338.1h2" stroke="#f69a03" stroke-width="0.5" stroke-opacity="1" fill="none"/>
<line x1="306.2" y1="353.3" x2="409.9" y2="353.3" stroke="#808080" stroke-width="1.4"/>
<line x1="409.9" y1="353.3" x2="409.9" y2="411.5" stroke="#c4c4c4" stroke-width="0.9"/>
<path d="M306.2,353.3 V308.0 H409.9 V353.3" fill="none" stroke="#6a6a6a" stroke-width="1.5"/>
<line x1="306.2" y1="308.0" x2="306.2" y2="411.5" stroke="#333" stroke-width="1.2"/>
<line x1="306.2" y1="411.5" x2="409.9" y2="411.5" stroke="#333" stroke-width="1.2"/>
<line x1="303.4" y1="411.5" x2="306.2" y2="411.5" stroke="#333" stroke-width="1.1"/>
<line x1="304.59999999999997" y1="407.2" x2="306.2" y2="407.2" stroke="#555" stroke-width="0.7"/>
<line x1="304.59999999999997" y1="404.6" x2="306.2" y2="404.6" stroke="#555" stroke-width="0.7"/>
<line x1="304.59999999999997" y1="402.9" x2="306.2" y2="402.9" stroke="#555" stroke-width="0.7"/>
<line x1="304.59999999999997" y1="401.4" x2="306.2" y2="401.4" stroke="#555" stroke-width="0.7"/>
<line x1="304.59999999999997" y1="400.3" x2="306.2" y2="400.3" stroke="#555" stroke-width="0.7"/>
<line x1="304.59999999999997" y1="399.3" x2="306.2" y2="399.3" stroke="#555" stroke-width="0.7"/>
<line x1="304.59999999999997" y1="398.6" x2="306.2" y2="398.6" stroke="#555" stroke-width="0.7"/>
<line x1="304.59999999999997" y1="397.8" x2="306.2" y2="397.8" stroke="#555" stroke-width="0.7"/>
<text x="0" y="0" font-size="5.2" text-anchor="middle" fill="#555" transform="translate(298.0 414.1) rotate(-38)">10<tspan dy="-2.4" font-size="3.8">0</tspan></text>
<line x1="303.4" y1="397.1" x2="306.2" y2="397.1" stroke="#333" stroke-width="1.1"/>
<line x1="304.59999999999997" y1="392.8" x2="306.2" y2="392.8" stroke="#555" stroke-width="0.7"/>
<line x1="304.59999999999997" y1="390.2" x2="306.2" y2="390.2" stroke="#555" stroke-width="0.7"/>
<line x1="304.59999999999997" y1="388.5" x2="306.2" y2="388.5" stroke="#555" stroke-width="0.7"/>
<line x1="304.59999999999997" y1="387.1" x2="306.2" y2="387.1" stroke="#555" stroke-width="0.7"/>
<line x1="304.59999999999997" y1="385.9" x2="306.2" y2="385.9" stroke="#555" stroke-width="0.7"/>
<line x1="304.59999999999997" y1="384.9" x2="306.2" y2="384.9" stroke="#555" stroke-width="0.7"/>
<line x1="304.59999999999997" y1="384.2" x2="306.2" y2="384.2" stroke="#555" stroke-width="0.7"/>
<line x1="304.59999999999997" y1="383.5" x2="306.2" y2="383.5" stroke="#555" stroke-width="0.7"/>
<text x="0" y="0" font-size="5.2" text-anchor="middle" fill="#555" transform="translate(298.0 399.7) rotate(-38)">10<tspan dy="-2.4" font-size="3.8">1</tspan></text>
<line x1="303.4" y1="382.8" x2="306.2" y2="382.8" stroke="#333" stroke-width="1.1"/>
<line x1="304.59999999999997" y1="378.4" x2="306.2" y2="378.4" stroke="#555" stroke-width="0.7"/>
<line x1="304.59999999999997" y1="375.9" x2="306.2" y2="375.9" stroke="#555" stroke-width="0.7"/>
<line x1="304.59999999999997" y1="374.1" x2="306.2" y2="374.1" stroke="#555" stroke-width="0.7"/>
<line x1="304.59999999999997" y1="372.7" x2="306.2" y2="372.7" stroke="#555" stroke-width="0.7"/>
<line x1="304.59999999999997" y1="371.5" x2="306.2" y2="371.5" stroke="#555" stroke-width="0.7"/>
<line x1="304.59999999999997" y1="370.5" x2="306.2" y2="370.5" stroke="#555" stroke-width="0.7"/>
<line x1="304.59999999999997" y1="369.8" x2="306.2" y2="369.8" stroke="#555" stroke-width="0.7"/>
<line x1="304.59999999999997" y1="369.1" x2="306.2" y2="369.1" stroke="#555" stroke-width="0.7"/>
<text x="0" y="0" font-size="5.2" text-anchor="middle" fill="#555" transform="translate(298.0 385.4) rotate(-38)">10<tspan dy="-2.4" font-size="3.8">2</tspan></text>
<line x1="303.4" y1="368.4" x2="306.2" y2="368.4" stroke="#333" stroke-width="1.1"/>
<line x1="304.59999999999997" y1="364.1" x2="306.2" y2="364.1" stroke="#555" stroke-width="0.7"/>
<line x1="304.59999999999997" y1="361.5" x2="306.2" y2="361.5" stroke="#555" stroke-width="0.7"/>
<line x1="304.59999999999997" y1="359.8" x2="306.2" y2="359.8" stroke="#555" stroke-width="0.7"/>
<line x1="304.59999999999997" y1="358.3" x2="306.2" y2="358.3" stroke="#555" stroke-width="0.7"/>
<line x1="304.59999999999997" y1="357.2" x2="306.2" y2="357.2" stroke="#555" stroke-width="0.7"/>
<line x1="304.59999999999997" y1="356.2" x2="306.2" y2="356.2" stroke="#555" stroke-width="0.7"/>
<line x1="304.59999999999997" y1="355.5" x2="306.2" y2="355.5" stroke="#555" stroke-width="0.7"/>
<line x1="304.59999999999997" y1="354.7" x2="306.2" y2="354.7" stroke="#555" stroke-width="0.7"/>
<text x="0" y="0" font-size="5.2" text-anchor="middle" fill="#555" transform="translate(298.0 371.0) rotate(-38)">10<tspan dy="-2.4" font-size="3.8">3</tspan></text>
<line x1="303.4" y1="354.0" x2="306.2" y2="354.0" stroke="#333" stroke-width="1.1"/>
<line x1="304.59999999999997" y1="349.7" x2="306.2" y2="349.7" stroke="#555" stroke-width="0.7"/>
<line x1="304.59999999999997" y1="347.1" x2="306.2" y2="347.1" stroke="#555" stroke-width="0.7"/>
<line x1="304.59999999999997" y1="345.4" x2="306.2" y2="345.4" stroke="#555" stroke-width="0.7"/>
<line x1="304.59999999999997" y1="344.0" x2="306.2" y2="344.0" stroke="#555" stroke-width="0.7"/>
<line x1="304.59999999999997" y1="342.8" x2="306.2" y2="342.8" stroke="#555" stroke-width="0.7"/>
<line x1="304.59999999999997" y1="341.8" x2="306.2" y2="341.8" stroke="#555" stroke-width="0.7"/>
<line x1="304.59999999999997" y1="341.1" x2="306.2" y2="341.1" stroke="#555" stroke-width="0.7"/>
<line x1="304.59999999999997" y1="340.4" x2="306.2" y2="340.4" stroke="#555" stroke-width="0.7"/>
<text x="0" y="0" font-size="5.2" text-anchor="middle" fill="#555" transform="translate(298.0 356.6) rotate(-38)">10<tspan dy="-2.4" font-size="3.8">4</tspan></text>
<line x1="303.4" y1="339.6" x2="306.2" y2="339.6" stroke="#333" stroke-width="1.1"/>
<line x1="304.59999999999997" y1="335.3" x2="306.2" y2="335.3" stroke="#555" stroke-width="0.7"/>
<line x1="304.59999999999997" y1="332.7" x2="306.2" y2="332.7" stroke="#555" stroke-width="0.7"/>
<line x1="304.59999999999997" y1="331.0" x2="306.2" y2="331.0" stroke="#555" stroke-width="0.7"/>
<line x1="304.59999999999997" y1="329.6" x2="306.2" y2="329.6" stroke="#555" stroke-width="0.7"/>
<line x1="304.59999999999997" y1="328.4" x2="306.2" y2="328.4" stroke="#555" stroke-width="0.7"/>
<line x1="304.59999999999997" y1="327.4" x2="306.2" y2="327.4" stroke="#555" stroke-width="0.7"/>
<line x1="304.59999999999997" y1="326.7" x2="306.2" y2="326.7" stroke="#555" stroke-width="0.7"/>
<line x1="304.59999999999997" y1="326.0" x2="306.2" y2="326.0" stroke="#555" stroke-width="0.7"/>
<text x="0" y="0" font-size="5.2" text-anchor="middle" fill="#555" transform="translate(298.0 342.2) rotate(-38)">10<tspan dy="-2.4" font-size="3.8">5</tspan></text>
<line x1="303.4" y1="325.3" x2="306.2" y2="325.3" stroke="#333" stroke-width="1.1"/>
<line x1="304.59999999999997" y1="321.0" x2="306.2" y2="321.0" stroke="#555" stroke-width="0.7"/>
<line x1="304.59999999999997" y1="318.4" x2="306.2" y2="318.4" stroke="#555" stroke-width="0.7"/>
<line x1="304.59999999999997" y1="316.6" x2="306.2" y2="316.6" stroke="#555" stroke-width="0.7"/>
<line x1="304.59999999999997" y1="315.2" x2="306.2" y2="315.2" stroke="#555" stroke-width="0.7"/>
<line x1="304.59999999999997" y1="314.1" x2="306.2" y2="314.1" stroke="#555" stroke-width="0.7"/>
<line x1="304.59999999999997" y1="313.1" x2="306.2" y2="313.1" stroke="#555" stroke-width="0.7"/>
<line x1="304.59999999999997" y1="312.3" x2="306.2" y2="312.3" stroke="#555" stroke-width="0.7"/>
<line x1="304.59999999999997" y1="311.6" x2="306.2" y2="311.6" stroke="#555" stroke-width="0.7"/>
<text x="0" y="0" font-size="5.2" text-anchor="middle" fill="#555" transform="translate(298.0 327.9) rotate(-38)">10<tspan dy="-2.4" font-size="3.8">6</tspan></text>
<line x1="303.4" y1="310.9" x2="306.2" y2="310.9" stroke="#333" stroke-width="1.1"/>
<text x="0" y="0" font-size="5.2" text-anchor="middle" fill="#555" transform="translate(298.0 313.5) rotate(-38)">10<tspan dy="-2.4" font-size="3.8">7</tspan></text>
<line x1="306.2" y1="411.5" x2="306.2" y2="414.3" stroke="#333" stroke-width="1"/>
<line x1="312.4" y1="411.5" x2="312.4" y2="413.0" stroke="#666" stroke-width="0.6"/>
<line x1="318.6" y1="411.5" x2="318.6" y2="413.0" stroke="#666" stroke-width="0.6"/>
<line x1="324.7" y1="411.5" x2="324.7" y2="413.0" stroke="#666" stroke-width="0.6"/>
<line x1="330.9" y1="411.5" x2="330.9" y2="413.0" stroke="#666" stroke-width="0.6"/>
<text x="307.0" y="419.8" font-size="5" text-anchor="middle" fill="#444">0</text>
<line x1="337.1" y1="411.5" x2="337.1" y2="414.3" stroke="#333" stroke-width="1"/>
<line x1="343.3" y1="411.5" x2="343.3" y2="413.0" stroke="#666" stroke-width="0.6"/>
<line x1="349.5" y1="411.5" x2="349.5" y2="413.0" stroke="#666" stroke-width="0.6"/>
<line x1="355.6" y1="411.5" x2="355.6" y2="413.0" stroke="#666" stroke-width="0.6"/>
<line x1="361.8" y1="411.5" x2="361.8" y2="413.0" stroke="#666" stroke-width="0.6"/>
<text x="337.9" y="419.8" font-size="5" text-anchor="middle" fill="#444">5.0M</text>
<line x1="368.0" y1="411.5" x2="368.0" y2="414.3" stroke="#333" stroke-width="1"/>
<line x1="374.2" y1="411.5" x2="374.2" y2="413.0" stroke="#666" stroke-width="0.6"/>
<line x1="380.4" y1="411.5" x2="380.4" y2="413.0" stroke="#666" stroke-width="0.6"/>
<line x1="386.5" y1="411.5" x2="386.5" y2="413.0" stroke="#666" stroke-width="0.6"/>
<line x1="392.7" y1="411.5" x2="392.7" y2="413.0" stroke="#666" stroke-width="0.6"/>
<text x="368.8" y="419.8" font-size="5" text-anchor="middle" fill="#444">10M</text>
<line x1="398.9" y1="411.5" x2="398.9" y2="414.3" stroke="#333" stroke-width="1"/>
<line x1="405.1" y1="411.5" x2="405.1" y2="413.0" stroke="#666" stroke-width="0.6"/>
<text x="399.7" y="419.8" font-size="5" text-anchor="middle" fill="#444">15M</text>
<text x="392.2" y="324.6" font-size="10.8" text-anchor="middle" font-weight="bold" font-style="normal" fill="#1a1a1a" >99.6%</text>
<path d="M450.3 320.6h.5M477.8 321.1h.5M473.3 321.6h.5M459.8 323.1h.5m.5 0h.5m1.5 0h.5m5.5 0h.5m2 0h.5m14 0h.5m.5 0h.5M461.8 323.6h.5m1.5 0h.5m9.5 0h.5m7 0h.5m3.5 0h.5M455.8 324.1h.5m.5 0h1m6.5 0h.5m2.5 0h.5m16.5 0h.5m6 0h.5M461.3 324.6h.5m3.5 0h.5m15.5 0h.5m1 0h.5m.5 0h.5m.5 0h.5m1.5 0h1m1 0h1M457.3 325.1h.5m15.5 0h1m.5 0h.5m1 0h.5m5 0h.5m10.5 0h.5M463.3 325.6h.5m.5 0h.5m7.5 0h.5m3.5 0h.5m1 0h.5M447.8 326.1h.5m.5 0h.5m4.5 0h.5m7 0h.5m5 0h.5M452.3 326.6h1m37.5 0h1m1.5 0h.5m3 0h.5M451.3 327.1h.5m4 0h.5m38 0h.5m6 0h.5M450.8 327.6h.5m41.5 0h.5m1 0h.5m1.5 0h.5M443.3 328.1h.5m7.5 0h.5m45.5 0h.5M440.3 328.6h.5m6.5 0h.5m46 0h1m6 0h1M440.3 329.1h.5m52 0h.5m1 0h.5M441.3 329.6h.5m4.5 0h.5M442.3 330.1h1m1.5 0h.5m50.5 0h.5m.5 0h.5M503.8 330.6h.5M439.3 331.1h.5m53.5 0h.5M495.3 331.6h.5m5 0h.5M437.3 332.1h.5m58.5 0h1m.5 0h.5M493.3 332.6h1m2.5 0h.5M494.3 333.1h.5m1 0h.5M495.3 333.6h.5M492.8 334.1h.5M493.3 334.6h.5M492.8 335.1h.5M493.8 335.6h.5m2.5 0h.5M494.3 336.1h.5m1.5 0h.5M490.3 336.6h.5m2 0h.5M499.3 337.6h.5M488.3 338.1h.5m2 0h.5m1.5 0h.5M488.3 339.1h.5m2.5 0h.5M490.8 339.6h1M487.3 340.1h.5m.5 0h.5m6.5 0h.5M487.3 340.6h.5m1.5 0h.5m4 0h.5M484.8 341.1h.5M482.8 341.6h.5m5.5 0h.5m.5 0h.5m2.5 0h.5M484.3 342.1h1M482.3 342.6h1m6.5 0h.5M481.3 343.1h.5M476.8 343.6h.5m3 0h.5m2 0h.5M474.8 344.1h.5m1.5 0h1M478.8 344.6h.5m1.5 0h.5m7 0h.5M478.3 345.1h.5m3.5 0h.5M470.8 345.6h.5m2 0h.5m.5 0h.5m3 0h.5M474.8 346.1h.5m1 0h.5M467.8 346.6h.5m2 0h.5m.5 0h1m5.5 0h.5m3.5 0h.5M478.3 347.1h.5M471.8 347.6h.5m1 0h.5M472.3 348.1h.5M439.3 348.6h.5m28 0h.5M464.8 349.1h.5m2 0h1M462.3 349.6h.5m.5 0h.5m3 0h.5m4 0h.5M438.8 350.1h.5m23.5 0h.5m1.5 0h.5m2.5 0h.5m.5 0h.5M440.8 350.6h.5m1.5 0h.5m19 0h.5m4 0h.5m.5 0h.5M438.3 351.1h.5m21 0h.5M441.8 351.6h.5m17.5 0h.5m3.5 0h.5M437.8 352.1h.5m4 0h.5m2 0h.5m2 0h1m8 0h.5m1.5 0h.5m5 0h.5M444.3 352.6h1m3.5 0h.5m6 0h.5m4 0h.5m8.5 0h.5M440.8 353.1h.5m2.5 0h.5m1 0h.5m8 0h.5m2 0h.5m2.5 0h.5m3 0h1M440.8 353.6h.5m8 0h.5m4 0h.5m1.5 0h.5m3.5 0h.5m1 0h.5m6.5 0h.5M439.3 354.1h.5m8 0h.5m10.5 0h.5m17 0h.5M440.8 354.6h.5m.5 0h.5m2.5 0h1m5 0h.5m3 0h1m2 0h.5m.5 0h.5M438.3 355.1h.5m6.5 0h1.5m.5 0h.5m.5 0h.5m2 0h.5m1 0h.5m5.5 0h1m4.5 0h.5M442.3 355.6h.5m5 0h.5m2 0h.5m.5 0h.5m1.5 0h.5m1.5 0h.5M448.8 356.1h.5m5.5 0h.5m.5 0h.5m4 0h.5m.5 0h.5M441.8 356.6h.5m6.5 0h.5m.5 0h.5m6.5 0h.5M445.3 357.1h.5m7 0h.5m4 0h.5m5.5 0h.5M442.3 357.6h.5m8 0h1m10.5 0h.5M453.3 358.1h.5m6 0h.5M443.3 358.6h.5m4.5 0h.5m7.5 0h.5m1 0h.5M450.3 359.1h.5m2 0h.5M453.8 359.6h.5m15.5 0h.5M450.3 360.1h.5m2.5 0h.5M445.8 360.6h.5M450.8 368.1h.5M440.3 369.6h.5" stroke="#2526fd" stroke-width="0.5" stroke-opacity="0.9" fill="none"/>
<path d="M469.8 325.1h.5m15 0h.5M468.8 325.6h1m10 0h1.5m.5 0h.5m2 0h.5m3 0h.5M462.8 326.1h.5m7.5 0h.5m1 0h1m1.5 0h.5m2.5 0h.5m1.5 0h.5m.5 0h.5m4.5 0h.5m1 0h.5m.5 0h1M458.8 326.6h.5m1.5 0h1.5m.5 0h.5m1 0h.5m2.5 0h.5m.5 0h.5m.5 0h1m4.5 0h.5m2.5 0h.5m.5 0h1.5m1 0h.5m1 0h.5m1.5 0h1m1 0h1.5m.5 0h1.5M457.8 327.1h.5m1 0h.5m2 0h.5m.5 0h1m3.5 0h.5m2 0h.5m1 0h1.5m.5 0h1m.5 0h.5m.5 0h.5m2 0h.5m1 0h.5m2 0h1m.5 0h.5m.5 0h.5m.5 0h.5m2.5 0h1M454.3 327.6h.5m.5 0h1m.5 0h1m1 0h.5m.5 0h.5m2.5 0h.5m1 0h.5m1.5 0h.5m1 0h.5m3 0h.5m1 0h.5m.5 0h.5m.5 0h1m.5 0h.5m.5 0h.5m5 0h.5m.5 0h.5m.5 0h1m1 0h.5m.5 0h1m1 0h.5m.5 0h1M453.3 328.1h.5m3.5 0h.5m.5 0h.5m2 0h.5m.5 0h.5m4 0h.5m20 0h.5m.5 0h.5m1.5 0h.5M453.3 328.6h.5m.5 0h.5m.5 0h1m30.5 0h.5m.5 0h1.5m1 0h.5m1 0h.5M452.8 329.1h.5m2.5 0h.5m31 0h.5m1 0h.5m1 0h.5M448.3 329.6h.5m2 0h1m35.5 0h.5m1 0h.5m.5 0h1m.5 0h.5M445.8 330.1h.5m.5 0h.5m2 0h1m39 0h.5m.5 0h.5m1 0h1M443.8 330.6h1m3 0h1.5m39 0h.5m.5 0h1m.5 0h1M440.3 331.1h.5m.5 0h.5m3.5 0h.5m42 0h1m2.5 0h.5m.5 0h.5M439.3 331.6h1m1.5 0h.5m1.5 0h.5m.5 0h1m43.5 0h.5m1.5 0h.5m.5 0h.5M439.3 332.1h1m.5 0h.5m1 0h.5m.5 0h.5m.5 0h.5m44.5 0h1m.5 0h.5M439.8 332.6h1m1 0h1.5m46.5 0h.5m.5 0h1.5M437.8 333.1h1m2 0h1m48.5 0h.5M439.8 333.6h.5m.5 0h.5m48.5 0h.5m.5 0h.5m.5 0h.5m.5 0h.5M438.3 334.1h1m52 0h.5M437.3 334.6h.5m.5 0h.5m1 0h.5m47.5 0h2.5m.5 0h.5M438.8 335.1h1.5m46.5 0h1.5m3 0h.5M437.3 335.6h.5m1 0h.5m46.5 0h1.5m.5 0h.5m1 0h.5m1 0h.5M437.8 336.1h1m48 0h.5m2.5 0h1M485.3 336.6h.5m.5 0h.5m1 0h.5M437.8 337.1h1m47.5 0h1M485.3 337.6h.5m.5 0h.5M484.3 338.1h1m.5 0h1M484.3 338.6h.5m.5 0h.5M483.3 339.1h.5m1 0h.5m.5 0h1M482.3 339.6h.5m.5 0h.5m.5 0h.5m.5 0h.5m.5 0h.5M437.3 340.1h1m41.5 0h.5m1 0h.5m2 0h.5m1 0h1M479.3 340.6h1m.5 0h1m1 0h.5m2.5 0h.5M437.3 341.1h1m44 0h.5M476.8 341.6h.5m1 0h.5m1 0h1M477.8 342.1h1m.5 0h1M474.3 342.6h1m1 0h.5m1.5 0h.5m.5 0h.5M472.3 343.1h.5m.5 0h.5m2 0h.5m2 0h.5M472.8 343.6h1m.5 0h.5M469.8 344.1h1m.5 0h1m.5 0h.5M439.3 344.6h.5m27 0h.5m.5 0h1.5m1 0h1M437.8 345.1h.5m.5 0h.5m.5 0h.5m25 0h1m3 0h.5m1 0h.5M440.8 345.6h.5m24 0h1m1 0h.5M438.3 346.1h1m1 0h1.5m21.5 0h1m.5 0h1m1.5 0h.5M437.3 346.6h.5m1 0h.5m.5 0h.5m1 0h1m18.5 0h.5m1 0h1m.5 0h1m1.5 0h.5M437.3 347.1h1m.5 0h.5m2 0h.5m.5 0h.5m17.5 0h1m3.5 0h.5m.5 0h.5m1 0h.5M438.8 347.6h.5m3.5 0h.5m.5 0h.5m.5 0h1m12 0h1m1 0h2.5m2 0h.5m.5 0h.5m.5 0h1M438.3 348.1h.5m1.5 0h.5m.5 0h1m.5 0h1m1.5 0h.5m.5 0h.5m8.5 0h1m1.5 0h2m1.5 0h.5M439.8 348.6h.5m.5 0h.5m4.5 0h2.5m5.5 0h.5m1 0h.5m.5 0h.5m3.5 0h1m5 0h.5m.5 0h.5M443.8 349.1h.5m.5 0h.5m1 0h1m.5 0h1m5.5 0h.5m.5 0h.5m1.5 0h.5m1 0h1M440.8 349.6h.5m2.5 0h1.5m1 0h1.5m2 0h.5m1 0h.5m1 0h1.5m2 0h.5m2.5 0h1.5M441.3 350.1h1m1.5 0h.5m1.5 0h2.5m1 0h1m.5 0h.5m.5 0h.5m1.5 0h.5m.5 0h1m.5 0h1.5m.5 0h.5M441.3 350.6h.5m3.5 0h.5m3 0h.5m3.5 0h.5m1.5 0h1m.5 0h.5m2 0h1M441.3 351.1h.5m4 0h.5m2 0h.5m2 0h1.5m.5 0h.5m3 0h.5m.5 0h.5M450.8 351.6h.5m.5 0h1m3.5 0h.5m.5 0h.5M449.8 352.1h.5m.5 0h.5m.5 0h.5m.5 0h.5m.5 0h.5M445.8 352.6h.5m4.5 0h.5m1 0h.5M446.3 353.1h.5m.5 0h.5m2.5 0h1m.5 0h.5m.5 0h.5M447.3 353.6h1m3 0h.5M451.8 354.1h.5" stroke="#1f23fa" stroke-width="0.5" stroke-opacity="1" fill="none"/>
<path d="M469.3 327.6h1.5m10 0h2M458.8 328.1h.5m.5 0h.5m2.5 0h1m.5 0h.5m3 0h2.5m.5 0h.5m.5 0h1.5m1 0h1m1 0h1m.5 0h.5m1 0h1m.5 0h1.5m.5 0h.5m1.5 0h1M457.8 328.6h.5m.5 0h2m.5 0h.5m.5 0h.5m.5 0h2.5m1 0h1.5m.5 0h.5m.5 0h1m.5 0h1m.5 0h.5m1 0h1.5m1 0h1m.5 0h.5m.5 0h3m.5 0h1m.5 0h1.5m.5 0h.5M454.3 329.1h.5m2 0h.5m.5 0h.5m.5 0h2m.5 0h.5m.5 0h1.5m1 0h1m.5 0h.5m6.5 0h.5m.5 0h.5m.5 0h.5m3 0h.5m3.5 0h.5m.5 0h1.5m1 0h.5M451.8 329.6h1m1 0h1m1.5 0h2m26.5 0h1.5m.5 0h.5M451.8 330.1h1m.5 0h.5m.5 0h.5m.5 0h1m29 0h1.5M450.3 330.6h2m33 0h1.5m.5 0h.5M447.3 331.1h.5m1 0h.5m1 0h.5m35 0h.5m1 0h.5M446.3 331.6h2m.5 0h.5m35.5 0h.5m1 0h.5m.5 0h.5M445.8 332.1h.5m38.5 0h.5m.5 0h1M443.8 332.6h.5m.5 0h1.5m40.5 0h.5m.5 0h.5m1 0h.5M441.8 333.1h1m.5 0h.5m.5 0h1m39 0h1.5m1 0h3M442.8 333.6h1.5m40 0h1m.5 0h1.5m.5 0h.5m1 0h.5M440.8 334.1h.5m1 0h1m41 0h3M440.3 334.6h2m41.5 0h1m1 0h1M440.8 335.1h.5m42 0h1m1 0h1M482.8 335.6h1m.5 0h1M439.8 336.1h1.5m41 0h.5m.5 0h1m.5 0h.5M439.3 336.6h2m41.5 0h.5m.5 0h.5M438.8 337.1h1.5m41.5 0h1m.5 0h.5m.5 0h.5M437.8 337.6h1m1.5 0h.5m41 0h1m.5 0h.5M437.3 338.1h1m1 0h1m39 0h4.5M437.3 338.6h1.5m.5 0h1m41.5 0h.5M437.3 339.1h.5m1.5 0h.5m38 0h.5m.5 0h2m.5 0h2M437.3 339.6h1m40 0h3.5M438.8 340.1h1m37 0h1M438.3 340.6h.5m.5 0h.5m35.5 0h2.5M439.3 341.1h.5m34.5 0h1M437.8 341.6h.5m1 0h.5m31.5 0h2.5m.5 0h1M437.8 342.1h.5m.5 0h.5m31 0h1m.5 0h2.5m.5 0h.5M437.3 342.6h.5m1 0h1.5m29.5 0h1m1 0h.5m.5 0h.5m.5 0h.5M437.3 343.1h1m1 0h1.5m27 0h.5m.5 0h3M437.3 343.6h.5m.5 0h1m.5 0h1.5m23.5 0h.5m.5 0h.5m.5 0h1m.5 0h2M437.3 344.1h1.5m1.5 0h1.5m20.5 0h1m.5 0h.5m.5 0h.5m1.5 0h.5m.5 0h1M437.3 344.6h1m3 0h1.5m.5 0h.5m16.5 0h.5m.5 0h.5m.5 0h.5m2.5 0h1.5M442.3 345.1h1m.5 0h.5m14.5 0h1.5m.5 0h1m2 0h.5M441.8 345.6h.5m1.5 0h1.5m.5 0h1.5m.5 0h.5m8.5 0h1.5m1 0h.5m1.5 0h3M442.8 346.1h.5m.5 0h3m2 0h.5m4 0h2m.5 0h1m1 0h.5m1 0h1.5m.5 0h.5m.5 0h1M442.8 346.6h.5m.5 0h1.5m.5 0h.5m2 0h1.5m.5 0h1.5m.5 0h1m2 0h3m1 0h1M442.8 347.1h.5m.5 0h2m.5 0h.5m.5 0h1m.5 0h1.5m.5 0h2m1.5 0h1.5m.5 0h2M447.3 347.6h.5m1 0h.5m.5 0h.5m.5 0h.5m1 0h1m.5 0h.5m1.5 0h1M448.3 348.1h1.5m.5 0h1.5m.5 0h.5m.5 0h.5M448.3 348.6h.5m.5 0h.5m.5 0h.5m1.5 0h1M449.3 349.1h1m.5 0h1m.5 0h.5M450.3 349.6h1" stroke="#1a21f8" stroke-width="0.5" stroke-opacity="1" fill="none"/>
<path d="M464.3 329.1h.5m3 0h5.5m2.5 0h2m3 0h1.5M458.8 329.6h1m2 0h4m.5 0h1m.5 0h.5m1 0h1m.5 0h.5m.5 0h.5m1 0h.5m.5 0h8m.5 0h.5m.5 0h1M453.8 330.1h.5m2 0h1.5m2 0h1.5m.5 0h2m5.5 0h7m1.5 0h1m.5 0h.5m.5 0h4m.5 0h.5M452.8 330.6h2.5m.5 0h1m21.5 0h1.5m.5 0h.5m.5 0h1m.5 0h2.5M451.3 331.1h2.5m25 0h.5m.5 0h2.5m1 0h2M449.3 331.6h2m1 0h.5m27 0h4M447.8 332.1h1.5m.5 0h1m31 0h1.5m.5 0h1M446.3 332.6h2m35 0h1.5M445.3 333.1h.5m.5 0h1m35 0h2M444.3 333.6h.5m.5 0h1m37 0h.5M443.8 334.1h.5m.5 0h.5m37 0h.5m.5 0h.5M442.3 334.6h2.5m36.5 0h1.5m.5 0h.5M441.8 335.1h2m37 0h2M441.3 335.6h2m37 0h1m.5 0h.5M441.3 336.1h1.5m37 0h2M441.8 336.6h.5m37 0h2m.5 0h.5M441.3 337.1h1m35 0h.5m.5 0h3.5M441.3 337.6h.5m35 0h1m1 0h.5m1 0h1.5M440.3 338.1h1.5m34 0h1.5m.5 0h1M440.3 338.6h1m33.5 0h1m.5 0h2M439.8 339.1h1.5m33 0h1m.5 0h2M439.8 339.6h2m32 0h3.5M439.8 340.1h.5m.5 0h.5m29 0h.5m.5 0h1.5m.5 0h3.5M439.8 340.6h1.5m29 0h2m.5 0h2M439.8 341.1h2.5m26.5 0h1m.5 0h1.5m.5 0h1.5M439.8 341.6h2m.5 0h.5m26 0h1.5M439.8 342.1h2m.5 0h1.5m24 0h1.5m.5 0h.5M440.8 342.6h2m.5 0h1m19 0h1.5m.5 0h.5m.5 0h2m.5 0h1M440.8 343.1h4m17 0h6M441.8 343.6h.5m.5 0h2.5m13.5 0h1m.5 0h1.5m.5 0h1.5m.5 0h.5M443.8 344.1h.5m.5 0h1m.5 0h2m8 0h2.5m.5 0h.5m.5 0h1.5M444.3 344.6h3m.5 0h1.5m4 0h.5m1 0h1.5m.5 0h.5m.5 0h2M444.3 345.1h1.5m.5 0h2.5m.5 0h1m.5 0h1m.5 0h1m.5 0h.5m.5 0h3.5M448.3 345.6h4m.5 0h3.5M449.8 346.1h.5m.5 0h1.5m.5 0h.5" stroke="#141ef5" stroke-width="0.5" stroke-opacity="1" fill="none"/>
<path d="M464.3 330.1h5m7 0h1.5M457.3 330.6h21M453.8 331.1h10m5.5 0h9.5M452.8 331.6h2.5m15.5 0h1m1 0h6.5M450.8 332.1h2.5m21.5 0h1.5m1.5 0h3.5M448.3 332.6h3.5m26 0h4.5M447.3 333.1h2.5m28.5 0h4M446.3 333.6h2m30.5 0h3.5M445.8 334.1h1.5m32 0h3M444.8 334.6h2m32 0h2.5M443.8 335.1h2.5m32 0h2.5M443.3 335.6h2m31 0h4M442.8 336.1h2m30.5 0h4.5M442.3 336.6h2.5m29.5 0h5M442.3 337.1h2m29.5 0h3.5M441.8 337.6h2.5m29 0h3M441.8 338.1h2m29.5 0h2M441.3 338.6h2.5m28.5 0h2.5M441.3 339.1h2m27 0h4M441.8 339.6h2m25.5 0h4.5M441.8 340.1h2m25 0h1.5M441.8 340.6h3m23 0h2M442.3 341.1h3m21.5 0h2M442.8 341.6h3m17 0h5.5M443.8 342.1h4.5m13.5 0h5.5M444.3 342.6h4.5m10 0h4.5M444.8 343.1h4.5m7.5 0h5M445.3 343.6h4.5m2 0h7M448.3 344.1h8M449.3 344.6h3.5" stroke="#0a4bfa" stroke-width="0.5" stroke-opacity="1" fill="none"/>
<path d="M463.8 331.1h5.5M455.3 331.6h9.5m2 0h4m1 0h1M453.3 332.1h3m4.5 0h3m4.5 0h6.5m1.5 0h1.5M451.8 332.6h2m15.5 0h8.5M449.8 333.1h3m17 0h8.5M448.3 333.6h2.5m22 0h6M447.3 334.1h2.5m23.5 0h6M446.8 334.6h1.5m25 0h5.5M446.3 335.1h1.5m25.5 0h5M445.3 335.6h2m25.5 0h3.5M444.8 336.1h2m26 0h2.5M444.8 336.6h1.5m26 0h2M444.3 337.1h1.5m26 0h2M444.3 337.6h1.5m25.5 0h2M443.8 338.1h1.5m25 0h3M443.8 338.6h1.5m24.5 0h2.5M443.3 339.1h2m23.5 0h1.5M443.8 339.6h1.5m20.5 0h.5m1.5 0h1.5M443.8 340.1h2m19 0h4M444.8 340.6h3m15.5 0h4.5M445.3 341.1h3.5m12.5 0h5.5M445.8 341.6h3.5m9.5 0h4M448.3 342.1h1.5m7.5 0h4.5M448.8 342.6h5.5m1.5 0h3M449.3 343.1h7.5M449.8 343.6h2" stroke="#007efc" stroke-width="0.5" stroke-opacity="1" fill="none"/>
<path d="M464.8 331.6h2M456.3 332.1h4.5m3 0h4.5M453.8 332.6h11m2 0h2.5M452.8 333.1h1.5m13 0h2.5M450.8 333.6h2m15 0h5M449.8 334.1h1.5m17 0h5M448.3 334.6h2m18.5 0h4.5M447.8 335.1h1.5m20 0h4M447.3 335.6h1m21.5 0h3M446.8 336.1h1m22 0h3M446.3 336.6h1m22.5 0h2.5M445.8 337.1h1m23 0h2M445.8 337.6h1m22.5 0h2M445.3 338.1h1.5m22 0h1.5M445.3 338.6h1m19 0h4.5M445.3 339.1h1.5m17.5 0h4.5M445.3 339.6h2.5m16 0h2m.5 0h1.5M445.8 340.1h3.5m12.5 0h3M447.8 340.6h2m10 0h3.5M448.8 341.1h3.5m5.5 0h3.5M449.3 341.6h4.5m2.5 0h2.5M449.8 342.1h7.5M454.3 342.6h1.5" stroke="#00bae1" stroke-width="0.5" stroke-opacity="1" fill="none"/>
<path d="M464.8 332.6h2M454.3 333.1h13M452.8 333.6h2m8 0h2m1.5 0h1.5M451.3 334.1h2m13.5 0h1.5M450.3 334.6h2m15 0h1.5M449.3 335.1h2m16.5 0h1.5M448.3 335.6h2m18 0h1.5M447.8 336.1h1.5m19 0h1.5M447.3 336.6h1.5m19.5 0h1.5M446.8 337.1h1.5m19.5 0h2M446.8 337.6h1m16.5 0h5M446.8 338.1h1.5m15.5 0h5M446.3 338.6h2.5m14.5 0h2M446.8 339.1h3m12.5 0h2M447.8 339.6h3m10 0h3M449.3 340.1h3.5m6 0h3M449.8 340.6h5m2.5 0h2.5M452.3 341.1h5.5M453.8 341.6h2.5" stroke="#17d67d" stroke-width="0.5" stroke-opacity="1" fill="none"/>
<path d="M454.8 333.6h8m2 0h1.5M453.3 334.1h2.5m5 0h6M452.3 334.6h1m10 0h4M451.3 335.1h1.5m10.5 0h4.5M450.3 335.6h1.5m11.5 0h5M449.3 336.1h2m12 0h5M448.8 336.6h2m12.5 0h5M448.3 337.1h2m12.5 0h5M447.8 337.6h2.5m12.5 0h1.5M448.3 338.1h2.5m11.5 0h1.5M448.8 338.6h2.5m10.5 0h1.5M449.8 339.1h3.5m6.5 0h2.5M450.8 339.6h4m3.5 0h2.5M452.8 340.1h6M454.8 340.6h2.5" stroke="#5be42f" stroke-width="0.5" stroke-opacity="1" fill="none"/>
<path d="M455.8 334.1h5M453.3 334.6h10M452.8 335.1h2m6.5 0h2M451.8 335.6h1.5m8.5 0h1.5M451.3 336.1h1.5m9 0h1.5M450.8 336.6h2m9 0h1.5M450.3 337.1h2.5m8.5 0h1.5M450.3 337.6h3m8 0h1.5M450.8 338.1h3m7 0h1.5M451.3 338.6h3m5 0h2.5M453.3 339.1h2.5m2 0h2M454.8 339.6h3.5" stroke="#c8e913" stroke-width="0.5" stroke-opacity="1" fill="none"/>
<path d="M454.8 335.1h6.5M453.3 335.6h8.5M452.8 336.1h3.5m2.5 0h3M452.8 336.6h2m4.5 0h2.5M452.8 337.1h2m4.5 0h2M453.3 337.6h1.5m4 0h2.5M453.8 338.1h2m2.5 0h2.5M454.3 338.6h5M455.8 339.1h2" stroke="#f69a03" stroke-width="0.5" stroke-opacity="1" fill="none"/>
<path d="M456.3 336.1h2.5M454.8 336.6h4.5M454.8 337.1h4.5M454.8 337.6h4M455.8 338.1h2.5" stroke="#ff4100" stroke-width="0.5" stroke-opacity="1" fill="none"/>
<line x1="425.4" y1="353.3" x2="529.1" y2="353.3" stroke="#808080" stroke-width="1.4"/>
<line x1="529.1" y1="353.3" x2="529.1" y2="411.5" stroke="#c4c4c4" stroke-width="0.9"/>
<path d="M425.4,353.3 V308.0 H529.1 V353.3" fill="none" stroke="#6a6a6a" stroke-width="1.5"/>
<line x1="425.4" y1="308.0" x2="425.4" y2="411.5" stroke="#333" stroke-width="1.2"/>
<line x1="425.4" y1="411.5" x2="529.1" y2="411.5" stroke="#333" stroke-width="1.2"/>
<line x1="422.59999999999997" y1="411.5" x2="425.4" y2="411.5" stroke="#333" stroke-width="1.1"/>
<line x1="423.79999999999995" y1="407.2" x2="425.4" y2="407.2" stroke="#555" stroke-width="0.7"/>
<line x1="423.79999999999995" y1="404.6" x2="425.4" y2="404.6" stroke="#555" stroke-width="0.7"/>
<line x1="423.79999999999995" y1="402.9" x2="425.4" y2="402.9" stroke="#555" stroke-width="0.7"/>
<line x1="423.79999999999995" y1="401.4" x2="425.4" y2="401.4" stroke="#555" stroke-width="0.7"/>
<line x1="423.79999999999995" y1="400.3" x2="425.4" y2="400.3" stroke="#555" stroke-width="0.7"/>
<line x1="423.79999999999995" y1="399.3" x2="425.4" y2="399.3" stroke="#555" stroke-width="0.7"/>
<line x1="423.79999999999995" y1="398.6" x2="425.4" y2="398.6" stroke="#555" stroke-width="0.7"/>
<line x1="423.79999999999995" y1="397.8" x2="425.4" y2="397.8" stroke="#555" stroke-width="0.7"/>
<text x="0" y="0" font-size="5.2" text-anchor="middle" fill="#555" transform="translate(417.2 414.1) rotate(-38)">10<tspan dy="-2.4" font-size="3.8">0</tspan></text>
<line x1="422.59999999999997" y1="397.1" x2="425.4" y2="397.1" stroke="#333" stroke-width="1.1"/>
<line x1="423.79999999999995" y1="392.8" x2="425.4" y2="392.8" stroke="#555" stroke-width="0.7"/>
<line x1="423.79999999999995" y1="390.2" x2="425.4" y2="390.2" stroke="#555" stroke-width="0.7"/>
<line x1="423.79999999999995" y1="388.5" x2="425.4" y2="388.5" stroke="#555" stroke-width="0.7"/>
<line x1="423.79999999999995" y1="387.1" x2="425.4" y2="387.1" stroke="#555" stroke-width="0.7"/>
<line x1="423.79999999999995" y1="385.9" x2="425.4" y2="385.9" stroke="#555" stroke-width="0.7"/>
<line x1="423.79999999999995" y1="384.9" x2="425.4" y2="384.9" stroke="#555" stroke-width="0.7"/>
<line x1="423.79999999999995" y1="384.2" x2="425.4" y2="384.2" stroke="#555" stroke-width="0.7"/>
<line x1="423.79999999999995" y1="383.5" x2="425.4" y2="383.5" stroke="#555" stroke-width="0.7"/>
<text x="0" y="0" font-size="5.2" text-anchor="middle" fill="#555" transform="translate(417.2 399.7) rotate(-38)">10<tspan dy="-2.4" font-size="3.8">1</tspan></text>
<line x1="422.59999999999997" y1="382.8" x2="425.4" y2="382.8" stroke="#333" stroke-width="1.1"/>
<line x1="423.79999999999995" y1="378.4" x2="425.4" y2="378.4" stroke="#555" stroke-width="0.7"/>
<line x1="423.79999999999995" y1="375.9" x2="425.4" y2="375.9" stroke="#555" stroke-width="0.7"/>
<line x1="423.79999999999995" y1="374.1" x2="425.4" y2="374.1" stroke="#555" stroke-width="0.7"/>
<line x1="423.79999999999995" y1="372.7" x2="425.4" y2="372.7" stroke="#555" stroke-width="0.7"/>
<line x1="423.79999999999995" y1="371.5" x2="425.4" y2="371.5" stroke="#555" stroke-width="0.7"/>
<line x1="423.79999999999995" y1="370.5" x2="425.4" y2="370.5" stroke="#555" stroke-width="0.7"/>
<line x1="423.79999999999995" y1="369.8" x2="425.4" y2="369.8" stroke="#555" stroke-width="0.7"/>
<line x1="423.79999999999995" y1="369.1" x2="425.4" y2="369.1" stroke="#555" stroke-width="0.7"/>
<text x="0" y="0" font-size="5.2" text-anchor="middle" fill="#555" transform="translate(417.2 385.4) rotate(-38)">10<tspan dy="-2.4" font-size="3.8">2</tspan></text>
<line x1="422.59999999999997" y1="368.4" x2="425.4" y2="368.4" stroke="#333" stroke-width="1.1"/>
<line x1="423.79999999999995" y1="364.1" x2="425.4" y2="364.1" stroke="#555" stroke-width="0.7"/>
<line x1="423.79999999999995" y1="361.5" x2="425.4" y2="361.5" stroke="#555" stroke-width="0.7"/>
<line x1="423.79999999999995" y1="359.8" x2="425.4" y2="359.8" stroke="#555" stroke-width="0.7"/>
<line x1="423.79999999999995" y1="358.3" x2="425.4" y2="358.3" stroke="#555" stroke-width="0.7"/>
<line x1="423.79999999999995" y1="357.2" x2="425.4" y2="357.2" stroke="#555" stroke-width="0.7"/>
<line x1="423.79999999999995" y1="356.2" x2="425.4" y2="356.2" stroke="#555" stroke-width="0.7"/>
<line x1="423.79999999999995" y1="355.5" x2="425.4" y2="355.5" stroke="#555" stroke-width="0.7"/>
<line x1="423.79999999999995" y1="354.7" x2="425.4" y2="354.7" stroke="#555" stroke-width="0.7"/>
<text x="0" y="0" font-size="5.2" text-anchor="middle" fill="#555" transform="translate(417.2 371.0) rotate(-38)">10<tspan dy="-2.4" font-size="3.8">3</tspan></text>
<line x1="422.59999999999997" y1="354.0" x2="425.4" y2="354.0" stroke="#333" stroke-width="1.1"/>
<line x1="423.79999999999995" y1="349.7" x2="425.4" y2="349.7" stroke="#555" stroke-width="0.7"/>
<line x1="423.79999999999995" y1="347.1" x2="425.4" y2="347.1" stroke="#555" stroke-width="0.7"/>
<line x1="423.79999999999995" y1="345.4" x2="425.4" y2="345.4" stroke="#555" stroke-width="0.7"/>
<line x1="423.79999999999995" y1="344.0" x2="425.4" y2="344.0" stroke="#555" stroke-width="0.7"/>
<line x1="423.79999999999995" y1="342.8" x2="425.4" y2="342.8" stroke="#555" stroke-width="0.7"/>
<line x1="423.79999999999995" y1="341.8" x2="425.4" y2="341.8" stroke="#555" stroke-width="0.7"/>
<line x1="423.79999999999995" y1="341.1" x2="425.4" y2="341.1" stroke="#555" stroke-width="0.7"/>
<line x1="423.79999999999995" y1="340.4" x2="425.4" y2="340.4" stroke="#555" stroke-width="0.7"/>
<text x="0" y="0" font-size="5.2" text-anchor="middle" fill="#555" transform="translate(417.2 356.6) rotate(-38)">10<tspan dy="-2.4" font-size="3.8">4</tspan></text>
<line x1="422.59999999999997" y1="339.6" x2="425.4" y2="339.6" stroke="#333" stroke-width="1.1"/>
<line x1="423.79999999999995" y1="335.3" x2="425.4" y2="335.3" stroke="#555" stroke-width="0.7"/>
<line x1="423.79999999999995" y1="332.7" x2="425.4" y2="332.7" stroke="#555" stroke-width="0.7"/>
<line x1="423.79999999999995" y1="331.0" x2="425.4" y2="331.0" stroke="#555" stroke-width="0.7"/>
<line x1="423.79999999999995" y1="329.6" x2="425.4" y2="329.6" stroke="#555" stroke-width="0.7"/>
<line x1="423.79999999999995" y1="328.4" x2="425.4" y2="328.4" stroke="#555" stroke-width="0.7"/>
<line x1="423.79999999999995" y1="327.4" x2="425.4" y2="327.4" stroke="#555" stroke-width="0.7"/>
<line x1="423.79999999999995" y1="326.7" x2="425.4" y2="326.7" stroke="#555" stroke-width="0.7"/>
<line x1="423.79999999999995" y1="326.0" x2="425.4" y2="326.0" stroke="#555" stroke-width="0.7"/>
<text x="0" y="0" font-size="5.2" text-anchor="middle" fill="#555" transform="translate(417.2 342.2) rotate(-38)">10<tspan dy="-2.4" font-size="3.8">5</tspan></text>
<line x1="422.59999999999997" y1="325.3" x2="425.4" y2="325.3" stroke="#333" stroke-width="1.1"/>
<line x1="423.79999999999995" y1="321.0" x2="425.4" y2="321.0" stroke="#555" stroke-width="0.7"/>
<line x1="423.79999999999995" y1="318.4" x2="425.4" y2="318.4" stroke="#555" stroke-width="0.7"/>
<line x1="423.79999999999995" y1="316.6" x2="425.4" y2="316.6" stroke="#555" stroke-width="0.7"/>
<line x1="423.79999999999995" y1="315.2" x2="425.4" y2="315.2" stroke="#555" stroke-width="0.7"/>
<line x1="423.79999999999995" y1="314.1" x2="425.4" y2="314.1" stroke="#555" stroke-width="0.7"/>
<line x1="423.79999999999995" y1="313.1" x2="425.4" y2="313.1" stroke="#555" stroke-width="0.7"/>
<line x1="423.79999999999995" y1="312.3" x2="425.4" y2="312.3" stroke="#555" stroke-width="0.7"/>
<line x1="423.79999999999995" y1="311.6" x2="425.4" y2="311.6" stroke="#555" stroke-width="0.7"/>
<text x="0" y="0" font-size="5.2" text-anchor="middle" fill="#555" transform="translate(417.2 327.9) rotate(-38)">10<tspan dy="-2.4" font-size="3.8">6</tspan></text>
<line x1="422.59999999999997" y1="310.9" x2="425.4" y2="310.9" stroke="#333" stroke-width="1.1"/>
<text x="0" y="0" font-size="5.2" text-anchor="middle" fill="#555" transform="translate(417.2 313.5) rotate(-38)">10<tspan dy="-2.4" font-size="3.8">7</tspan></text>
<line x1="425.4" y1="411.5" x2="425.4" y2="414.3" stroke="#333" stroke-width="1"/>
<line x1="431.6" y1="411.5" x2="431.6" y2="413.0" stroke="#666" stroke-width="0.6"/>
<line x1="437.8" y1="411.5" x2="437.8" y2="413.0" stroke="#666" stroke-width="0.6"/>
<line x1="443.9" y1="411.5" x2="443.9" y2="413.0" stroke="#666" stroke-width="0.6"/>
<line x1="450.1" y1="411.5" x2="450.1" y2="413.0" stroke="#666" stroke-width="0.6"/>
<text x="426.2" y="419.8" font-size="5" text-anchor="middle" fill="#444">0</text>
<line x1="456.3" y1="411.5" x2="456.3" y2="414.3" stroke="#333" stroke-width="1"/>
<line x1="462.5" y1="411.5" x2="462.5" y2="413.0" stroke="#666" stroke-width="0.6"/>
<line x1="468.7" y1="411.5" x2="468.7" y2="413.0" stroke="#666" stroke-width="0.6"/>
<line x1="474.8" y1="411.5" x2="474.8" y2="413.0" stroke="#666" stroke-width="0.6"/>
<line x1="481.0" y1="411.5" x2="481.0" y2="413.0" stroke="#666" stroke-width="0.6"/>
<text x="457.1" y="419.8" font-size="5" text-anchor="middle" fill="#444">5.0M</text>
<line x1="487.2" y1="411.5" x2="487.2" y2="414.3" stroke="#333" stroke-width="1"/>
<line x1="493.4" y1="411.5" x2="493.4" y2="413.0" stroke="#666" stroke-width="0.6"/>
<line x1="499.6" y1="411.5" x2="499.6" y2="413.0" stroke="#666" stroke-width="0.6"/>
<line x1="505.7" y1="411.5" x2="505.7" y2="413.0" stroke="#666" stroke-width="0.6"/>
<line x1="511.9" y1="411.5" x2="511.9" y2="413.0" stroke="#666" stroke-width="0.6"/>
<text x="488.0" y="419.8" font-size="5" text-anchor="middle" fill="#444">10M</text>
<line x1="518.1" y1="411.5" x2="518.1" y2="414.3" stroke="#333" stroke-width="1"/>
<line x1="524.3" y1="411.5" x2="524.3" y2="413.0" stroke="#666" stroke-width="0.6"/>
<text x="518.9" y="419.8" font-size="5" text-anchor="middle" fill="#444">15M</text>
<text x="511.2" y="323.6" font-size="10.8" text-anchor="middle" font-weight="bold" font-style="normal" fill="#1a1a1a" >99.6%</text>
<path d="M633.5 317.1h.5M614 318.1h.5M614 319.1h.5M609 320.1h.5m10 0h.5M605 320.6h.5m6.5 0h.5M611 321.1h.5m8 0h.5M603.5 321.6h.5m5.5 0h.5m4 0h.5m6.5 0h.5M599 322.6h.5m6.5 0h.5m5 0h.5m7.5 0h.5M604.5 323.1h.5m1.5 0h.5m1.5 0h.5m2 0h.5m3.5 0h.5M577 323.6h.5m16.5 0h.5m2.5 0h.5m5 0h.5m.5 0h.5m13 0h.5M559.5 324.1h.5m28.5 0h.5m2 0h.5m3 0h.5m3.5 0h.5m1 0h.5m11 0h.5m4 0h.5m.5 0h.5m3 0h.5M594 324.6h.5m17 0h.5m3 0h1M570.5 325.1h.5m18.5 0h.5m6.5 0h1m14.5 0h.5m1 0h.5m4 0h.5m3 0h.5M576.5 325.6h.5m4 0h.5m.5 0h.5m13 0h.5m22 0h.5M567.5 326.1h.5m2.5 0h.5m5.5 0h.5m1.5 0h.5m1 0h.5m1 0h1m.5 0h.5m3 0h.5m4.5 0h1m1 0h.5m1 0h.5m19 0h1.5m.5 0h.5M573 326.6h.5m5.5 0h.5m5 0h.5m1.5 0h.5m4.5 0h.5m1 0h.5m21.5 0h.5m2 0h.5m1.5 0h.5M567.5 327.1h.5m4 0h.5m2.5 0h.5m2.5 0h.5m6 0h.5m.5 0h.5m.5 0h.5m30 0h.5m1 0h.5m1 0h.5M559 327.6h.5m8 0h.5m21.5 0h.5m24.5 0h.5M569 328.1h.5m17.5 0h.5m.5 0h.5m25.5 0h.5m2.5 0h.5m3.5 0h.5M559 329.1h.5m1 0h.5m.5 0h.5m1 0h.5m.5 0h.5m50 0h.5M557 329.6h.5m5 0h.5m57 0h.5M613.5 330.1h.5m3 0h.5M559 330.6h.5M616.5 331.1h.5m3 0h.5M615 331.6h.5m3.5 0h.5M612 332.1h1m1.5 0h.5M557 332.6h.5m57.5 0h.5m1.5 0h.5M610.5 333.1h.5M610.5 333.6h.5m.5 0h.5m3 0h.5M611 334.1h.5m2 0h.5M610 335.1h.5M608.5 335.6h.5M606 336.1h.5M613.5 336.6h.5M610.5 337.1h.5M605 337.6h.5M603.5 338.1h1m2.5 0h.5M602 338.6h.5m5.5 0h.5M602.5 340.1h.5m2.5 0h.5M600 340.6h1m2 0h.5m1.5 0h.5M604.5 341.1h.5m4 0h.5M599 341.6h.5m1 0h.5M596.5 342.1h.5M594.5 343.1h1m3 0h.5M595 343.6h.5m2.5 0h.5M593.5 344.1h.5m7 0h.5M598 345.6h.5M590 346.1h.5m.5 0h.5M584 346.6h.5m2.5 0h.5m1.5 0h.5m2 0h1m3 0h.5m.5 0h.5M583.5 347.1h.5m4.5 0h.5M582 347.6h.5m3.5 0h.5m1 0h1m.5 0h.5m6.5 0h.5M582 348.1h.5m3 0h.5M557 348.6h1m25 0h1M579.5 349.1h.5m2 0h.5m.5 0h1M579 349.6h.5m2.5 0h.5m1.5 0h.5M559 350.1h.5m23 0h.5m12 0h.5M558 350.6h.5m.5 0h.5m17.5 0h.5m1.5 0h.5m2 0h.5M577 351.1h1.5m8 0h.5M559 351.6h.5m.5 0h1m15.5 0h.5m.5 0h.5M581 352.1h.5M557.5 352.6h.5m4 0h.5m14 0h.5m1.5 0h.5M557 353.1h.5m1.5 0h.5m19 0h.5M559 353.6h.5m2.5 0h.5m22 0h.5M560 354.1h1m14.5 0h.5m.5 0h.5M557.5 354.6h.5m2 0h.5m.5 0h.5m13 0h.5m.5 0h.5m2.5 0h.5m3 0h.5M559.5 355.1h.5m3 0h.5m8.5 0h.5M559.5 355.6h.5m2 0h1m11.5 0h.5m5 0h.5M557 356.1h.5m5.5 0h.5m11.5 0h.5M557.5 356.6h.5m15 0h.5m1 0h.5M559.5 357.1h.5m1.5 0h.5m.5 0h1.5m11 0h.5m1.5 0h1M559.5 357.6h.5m2 0h.5m1 0h.5m8 0h1m1.5 0h.5M565 358.1h.5m5.5 0h.5m5 0h.5M557 358.6h.5m.5 0h.5m1.5 0h.5m.5 0h.5M566 359.1h.5m1 0h.5m1.5 0h.5m.5 0h.5m5.5 0h.5M558 359.6h.5m2.5 0h.5m2 0h.5m10.5 0h.5M564 360.1h.5m3.5 0h.5m9.5 0h.5M563 360.6h.5m.5 0h.5m5.5 0h.5M560.5 361.1h.5m4.5 0h.5m6.5 0h.5M562 361.6h.5m4.5 0h.5M562 362.1h.5m4.5 0h.5m1 0h.5m1 0h.5M569.5 363.1h.5M563 363.6h.5M574.5 365.1h.5M558 367.1h.5M561 368.6h.5" stroke="#2526fd" stroke-width="0.5" stroke-opacity="0.9" fill="none"/>
<path d="M608.5 323.6h.5M603.5 324.1h.5m2.5 0h.5m1 0h1M604 324.6h.5m.5 0h1.5m1 0h1M603.5 325.1h.5m2 0h1m3.5 0h.5M598 325.6h1m1.5 0h1m2 0h2m.5 0h.5m3.5 0h.5m1 0h.5M599.5 326.1h1.5m.5 0h1m.5 0h1.5m1 0h.5m.5 0h.5m1.5 0h.5m2 0h.5M583 326.6h.5m12.5 0h.5m.5 0h.5m.5 0h.5m.5 0h.5m1 0h.5m.5 0h.5m2.5 0h1m1 0h1M578.5 327.1h1m2.5 0h1.5m8.5 0h.5m2 0h.5m2.5 0h1m.5 0h1m9 0h1m.5 0h1.5m.5 0h.5M575.5 327.6h.5m7 0h1m9.5 0h.5m2 0h.5m10 0h1m1 0h.5m.5 0h.5m2 0h.5m.5 0h.5M572.5 328.1h1m1 0h1m1 0h.5m3.5 0h.5m.5 0h.5m1.5 0h1m6 0h.5m2 0h1m.5 0h1.5m12.5 0h1.5m1 0h.5m.5 0h.5m1 0h.5M568 328.6h.5m1.5 0h.5m.5 0h1m3 0h1m1.5 0h.5m2 0h1m.5 0h.5m1 0h.5m4.5 0h.5m1.5 0h1m1 0h.5m1 0h.5m14 0h2m1 0h1m1 0h.5M568 329.1h.5m2.5 0h.5m1.5 0h1m4 0h3m1 0h2m.5 0h.5m3 0h.5m1 0h1m1 0h.5m17 0h1.5m3 0h.5M566 329.6h.5m.5 0h1m3.5 0h1m10 0h.5m3.5 0h1m22 0h.5m1 0h.5m1.5 0h.5M563.5 330.1h1m.5 0h.5m.5 0h1m42 0h1m2 0h.5M561.5 330.6h.5m.5 0h.5m2.5 0h1.5m41.5 0h.5m.5 0h.5m2 0h.5M562.5 331.1h2m44.5 0h.5m.5 0h1M559 331.6h1m1 0h.5m.5 0h.5m45 0h.5m.5 0h1.5m1 0h1M559 332.1h1m1 0h1m45 0h.5m.5 0h1M559 332.6h.5m.5 0h.5m.5 0h.5m45.5 0h.5m1 0h.5M559.5 333.1h1m45.5 0h1m.5 0h.5M557.5 333.6h1m47 0h.5m.5 0h1.5m1 0h.5M558 334.1h.5m46 0h.5m1 0h.5m2 0h.5M557 334.6h1m45.5 0h1m.5 0h1m2.5 0h.5m.5 0h.5M603 335.1h.5m.5 0h.5m1 0h.5m1.5 0h.5m1 0h.5M603 335.6h.5m.5 0h1m1 0h.5M602.5 336.1h.5m1 0h.5M602.5 336.6h1.5m1 0h.5M601 337.1h.5m.5 0h.5M600 337.6h.5m3 0h.5M598.5 338.1h.5m.5 0h.5m2.5 0h.5M597 338.6h.5m.5 0h2M599.5 339.1h.5M596 339.6h.5m1 0h1m.5 0h.5M595.5 340.1h.5m.5 0h.5m1 0h.5m1 0h.5M597.5 340.6h.5m.5 0h.5m.5 0h.5M593.5 341.1h.5m.5 0h1m2 0h.5M592.5 341.6h.5m2.5 0h.5m.5 0h.5M591.5 342.1h.5m2 0h.5m1 0h1M589 342.6h1m1 0h.5m.5 0h.5m.5 0h.5m1 0h.5M589.5 343.1h.5m1 0h.5m.5 0h.5M589.5 343.6h.5m1.5 0h.5M588.5 344.1h1m1.5 0h.5M587 344.6h.5m2.5 0h.5M557.5 345.1h.5m25.5 0h.5m2.5 0h1m2 0h.5M557.5 345.6h.5m26 0h1m2 0h1.5m1 0h.5M557.5 346.1h1.5m.5 0h.5m23 0h.5m5.5 0h.5M558.5 346.6h1m.5 0h.5m20 0h.5m6.5 0h.5M557 347.1h.5m3 0h.5m20 0h.5M558.5 347.6h.5m19.5 0h1.5M557 348.1h.5m3 0h1m13 0h.5m2 0h.5m.5 0h.5m1 0h1M561 348.6h.5m12.5 0h.5m2 0h.5M560 349.1h1.5m9 0h.5m.5 0h1m1.5 0h.5m.5 0h.5m1.5 0h.5M559 349.6h.5m.5 0h1.5m.5 0h1m8.5 0h.5m2 0h.5m.5 0h.5m3 0h.5M561.5 350.1h1m1 0h2m4.5 0h1m1.5 0h.5m1 0h1M562.5 350.6h.5m1 0h1m.5 0h2m3.5 0h.5m.5 0h1.5m.5 0h.5M561.5 351.1h1m1.5 0h.5m2 0h1.5m.5 0h1.5m1 0h.5m2 0h1.5M564.5 351.6h.5m1 0h.5m.5 0h.5m1 0h2m.5 0h.5m3 0h.5M562 352.1h.5m2 0h.5m3.5 0h.5m1 0h.5m1 0h.5m1 0h.5m.5 0h.5M563.5 352.6h1m3.5 0h1.5m3 0h.5m1 0h.5M562.5 353.1h.5m1 0h.5m1.5 0h.5m.5 0h.5m.5 0h.5m.5 0h2m1.5 0h.5m1 0h.5M564.5 353.6h.5m1.5 0h1m.5 0h.5m.5 0h.5m.5 0h2m1 0h.5m.5 0h.5M563 354.1h.5m1.5 0h1m1 0h.5m.5 0h.5m.5 0h.5m1 0h.5m.5 0h1M564.5 354.6h1m.5 0h3m1 0h.5m1.5 0h.5M564.5 355.1h1m.5 0h1m1 0h1m1 0h.5M568 355.6h1m2 0h.5M565.5 356.1h2.5m2 0h.5M565.5 356.6h.5m1 0h2m1 0h.5M565.5 357.1h.5m2.5 0h1m1.5 0h1M566.5 357.6h.5m2 0h.5m1 0h.5M567 358.1h.5m.5 0h.5m.5 0h.5m.5 0h.5M567.5 358.6h.5m.5 0h.5m1 0h.5" stroke="#1f23fa" stroke-width="0.5" stroke-opacity="1" fill="none"/>
<path d="M602.5 326.6h.5m.5 0h.5M601.5 327.1h1m.5 0h1M598.5 327.6h.5m.5 0h1m.5 0h3.5m.5 0h1.5M597 328.1h2.5m1 0h2.5m.5 0h4M595.5 328.6h.5m.5 0h1m.5 0h4.5m.5 0h2m1 0h.5m.5 0h1M574 329.1h.5m1 0h.5m16 0h1m.5 0h.5m.5 0h1m1.5 0h.5m1 0h.5m.5 0h1m1 0h1m1 0h.5m1 0h3m.5 0h.5M573 329.6h2m.5 0h.5m.5 0h1.5m.5 0h.5m.5 0h.5m3 0h.5m1 0h1.5m4 0h.5m1.5 0h4m6 0h1m1 0h1m1.5 0h2M568 330.1h1m.5 0h1.5m.5 0h1.5m.5 0h.5m.5 0h.5m.5 0h.5m.5 0h1.5m1 0h.5m.5 0h1m.5 0h1m1 0h.5m.5 0h2.5m1 0h1.5m.5 0h1.5m.5 0h1m.5 0h1m8 0h1m1 0h2m.5 0h.5M568 330.6h3m.5 0h.5m.5 0h.5m4 0h.5m.5 0h1.5m.5 0h1m.5 0h1m.5 0h.5m.5 0h1.5m.5 0h4m.5 0h1.5m11 0h1m.5 0h2.5M567 331.1h.5m.5 0h1m13 0h1.5m.5 0h.5m1 0h.5m.5 0h1m.5 0h2m13 0h1m1.5 0h.5m.5 0h1.5M563.5 331.6h1m.5 0h.5m1 0h.5m.5 0h.5m19 0h1m.5 0h.5m14 0h1m.5 0h1m.5 0h1.5M563.5 332.1h3m36 0h2m.5 0h.5m.5 0h.5M561.5 332.6h1m.5 0h1m38 0h1m.5 0h1m.5 0h.5M562.5 333.1h1m38.5 0h1.5m.5 0h.5M560.5 333.6h1.5m39.5 0h.5m.5 0h2M560 334.1h1m40 0h.5m1 0h.5m1 0h.5M558.5 334.6h1m.5 0h.5m40 0h1.5m1 0h.5M557.5 335.1h2m36.5 0h2.5m2 0h.5m1 0h.5M557 335.6h1m.5 0h1m37 0h.5m.5 0h.5m.5 0h1.5m1.5 0h1M557 336.1h.5m2 0h.5m35 0h.5m.5 0h.5m.5 0h1m.5 0h.5m.5 0h3M557 336.6h1.5m.5 0h.5m36.5 0h1.5m1 0h1m1 0h1.5M557 337.1h1m1 0h.5m35.5 0h1.5m.5 0h1m.5 0h1m.5 0h1M558 337.6h1m36 0h1.5m1 0h2M594.5 338.1h.5m.5 0h.5M594 338.6h1.5m.5 0h1M593 339.1h.5m.5 0h2.5M592 339.6h1.5m.5 0h1m.5 0h.5M590.5 340.1h.5m.5 0h.5m.5 0h2m.5 0h.5M590.5 340.6h.5m.5 0h1m.5 0h1M590.5 341.1h.5m.5 0h1m.5 0h.5M557 341.6h1m30 0h1m.5 0h1.5m1 0h.5M588 342.1h1.5M557 342.6h.5m.5 0h.5m28.5 0h2M557.5 343.1h1m28 0h1M557 343.6h2m27 0h2M557.5 344.1h1.5m1 0h.5m24 0h3M557.5 344.6h1.5m1.5 0h1m20.5 0h1.5m.5 0h.5m1.5 0h.5M558.5 345.1h.5m.5 0h1m.5 0h1m19 0h1m.5 0h1M559 345.6h1.5m18.5 0h1.5m.5 0h.5M561 346.1h1m17 0h1m.5 0h.5M561 346.6h1.5m15 0h1.5m.5 0h1M561 347.1h.5m.5 0h1.5m.5 0h.5m1.5 0h2m3.5 0h.5m1.5 0h2.5m.5 0h1M561 347.6h1m.5 0h1m.5 0h.5m1 0h3.5m.5 0h.5m1 0h1m.5 0h2m1.5 0h1M561.5 348.1h4m.5 0h1m.5 0h3m.5 0h.5m1 0h1m.5 0h.5M562 348.6h.5m.5 0h.5m.5 0h1m1.5 0h.5m.5 0h.5m1 0h1.5m2 0h1M562.5 349.1h1.5m.5 0h1m.5 0h2m.5 0h1.5M563 349.6h.5m.5 0h.5m.5 0h.5m1 0h.5m2 0h.5m.5 0h.5M566 350.1h.5m.5 0h3M568.5 350.6h.5" stroke="#1a21f8" stroke-width="0.5" stroke-opacity="1" fill="none"/>
<path d="M600.5 329.1h.5M596.5 329.6h2.5m1 0h.5m.5 0h1M594.5 330.1h2m.5 0h3m.5 0h2M573 330.6h3.5m16.5 0h1m.5 0h1.5m.5 0h2.5m.5 0h.5m.5 0h2.5M569 331.1h.5m.5 0h4.5m.5 0h1.5m1 0h3.5m9 0h.5m1 0h2.5m.5 0h2.5m.5 0h1.5m.5 0h1.5m.5 0h1.5M568.5 331.6h2m1.5 0h1m3.5 0h1.5m.5 0h1.5m.5 0h3.5m1 0h.5m1 0h.5m2 0h3.5m.5 0h2.5m1 0h6.5M566.5 332.1h1m.5 0h.5m12.5 0h.5m.5 0h1.5m.5 0h1m.5 0h1m2 0h.5m1 0h7m1 0h1.5m.5 0h.5m.5 0h1.5M564.5 332.6h1.5m1.5 0h.5m17.5 0h2m.5 0h1m.5 0h1m2 0h1.5m.5 0h7.5M563.5 333.1h3m20.5 0h1m.5 0h1.5m3.5 0h6m.5 0h1.5M563 333.6h1m.5 0h.5m23 0h1m4.5 0h1m.5 0h4.5m.5 0h1.5M561 334.1h2.5m30 0h2m.5 0h1m.5 0h.5m.5 0h2.5M560.5 334.6h2m31 0h1.5m.5 0h4.5M560 335.1h1m32 0h3m2.5 0h.5m.5 0h1M560 335.6h1m32 0h2M560 336.1h1m31 0h3M560 336.6h1m30 0h.5m.5 0h2.5M560 337.1h.5m30 0h3.5m.5 0h.5M557.5 337.6h.5m1 0h.5m.5 0h.5m29.5 0h2.5m.5 0h1m.5 0h.5M557 338.1h3.5m29 0h.5m.5 0h2.5m1 0h.5M557.5 338.6h.5m.5 0h.5m.5 0h.5m29 0h.5m.5 0h4M557.5 339.1h1.5m30.5 0h3.5M557.5 339.6h.5m30.5 0h2.5M557.5 340.1h1m29.5 0h2.5M557 340.6h1.5m29 0h2.5M557.5 341.1h1.5m28 0h1m1 0h.5M558.5 341.6h1m27 0h1.5M558 342.1h1.5m26.5 0h1.5M558.5 342.6h.5m.5 0h.5m24 0h3M558.5 343.1h3m21.5 0h2.5m.5 0h.5M559 343.6h2m.5 0h1m19.5 0h3M560.5 344.1h2.5m18 0h1m.5 0h.5M562 344.6h1.5m14.5 0h1.5m.5 0h2M562.5 345.1h1m.5 0h.5m12.5 0h4M562 345.6h4.5m.5 0h1m6.5 0h3M562.5 346.1h1m1 0h1m.5 0h.5m.5 0h6m.5 0h.5m.5 0h4M563.5 346.6h3m.5 0h1m.5 0h1.5m.5 0h6.5M568 347.1h2m2 0h.5m.5 0h.5" stroke="#141ef5" stroke-width="0.5" stroke-opacity="1" fill="none"/>
<path d="M570.5 331.6h1.5m1 0h3.5M569 332.1h5m2 0h5M568 332.6h2m7 0h2.5m.5 0h4.5m6 0h2M566.5 333.1h2.5m13 0h4.5m3.5 0h3.5M565 333.6h2.5m16 0h4m1.5 0h4.5M563.5 334.1h2.5m19 0h8.5M562.5 334.6h1.5m22.5 0h6.5M561.5 335.1h2m24 0h5.5M561 335.6h1.5m25.5 0h4.5M561 336.1h1.5m26 0h3.5M561 336.6h1m26.5 0h2M560.5 337.1h1.5m26.5 0h2M560.5 337.6h1m26.5 0h2M560.5 338.1h1m26 0h2M560 338.6h1m26 0h2M559 339.1h2m26 0h2M558.5 339.6h2m26 0h2M558.5 340.1h2m25.5 0h2M558.5 340.6h2m25.5 0h1.5M559 341.1h1.5m24.5 0h2M559.5 341.6h1.5m22 0h3.5M559.5 342.1h2.5m20.5 0h3M560 342.6h3m19 0h2M561.5 343.1h2.5m17 0h2M562.5 343.6h2.5m13 0h4M563 344.1h3m10.5 0h4.5M563.5 344.6h5m6 0h3.5M564.5 345.1h12M568 345.6h6.5" stroke="#0a4bfa" stroke-width="0.5" stroke-opacity="1" fill="none"/>
<path d="M574 332.1h2M570 332.6h7m2.5 0h.5M569 333.1h3m4.5 0h5.5M567.5 333.6h2.5m7.5 0h1.5m2 0h2.5M566 334.1h2m14.5 0h2.5M564 334.6h3m16 0h3.5M563.5 335.1h1.5m18.5 0h4M562.5 335.6h1.5m20 0h4M562.5 336.1h1m21 0h4M562 336.6h1.5m21.5 0h3.5M562 337.1h1.5m21.5 0h3.5M561.5 337.6h1.5m22 0h3M561.5 338.1h1.5m22 0h2.5M561 338.6h1.5m22.5 0h2M561 339.1h1m23 0h2M560.5 339.6h1.5m22.5 0h2M560.5 340.1h1.5m22 0h2M560.5 340.6h2m20.5 0h3M560.5 341.1h2.5m19 0h3M561 341.6h2.5m18 0h1.5M562 342.1h2.5m16 0h2M563 342.6h2m13.5 0h3.5M564 343.1h2m11.5 0h3.5M565 343.6h3m7.5 0h2.5M566 344.1h10.5M568.5 344.6h6" stroke="#007efc" stroke-width="0.5" stroke-opacity="1" fill="none"/>
<path d="M572 333.1h4.5M570 333.6h3m3 0h1.5m1.5 0h2M568 334.1h2.5m6.5 0h5.5M567 334.6h1.5m13 0h1.5M565 335.1h2.5m15 0h1M564 335.6h2.5m16.5 0h1M563.5 336.1h1.5m18 0h1.5M563.5 336.6h1m19 0h1.5M563.5 337.1h1m19 0h1.5M563 337.6h1m19.5 0h1.5M563 338.1h1m19.5 0h1.5M562.5 338.6h1.5m19 0h2M562 339.1h1.5m19.5 0h2M562 339.6h1.5m19 0h2M562 340.1h2m18 0h2M562.5 340.6h2m17 0h1.5M563 341.1h2m15.5 0h1.5M563.5 341.6h1.5m14 0h2.5M564.5 342.1h1.5m12 0h2.5M565 342.6h2m10 0h1.5M566 343.1h6m3 0h2.5M568 343.6h7.5" stroke="#00bae1" stroke-width="0.5" stroke-opacity="1" fill="none"/>
<path d="M573 333.6h3M570.5 334.1h3.5m1 0h2M568.5 334.6h2.5m5.5 0h5M567.5 335.1h1.5m8.5 0h5M566.5 335.6h1.5m13 0h2M565 336.1h2.5m14 0h1.5M564.5 336.6h2m15.5 0h1.5M564.5 337.1h1.5m16 0h1.5M564 337.6h1.5m16.5 0h1.5M564 338.1h1m17 0h1.5M564 338.6h1m17 0h1M563.5 339.1h1.5m16.5 0h1.5M563.5 339.6h1.5m16 0h1.5M564 340.1h1.5m15 0h1.5M564.5 340.6h1.5m13.5 0h2M565 341.1h1m12.5 0h2M565 341.6h2m10.5 0h1.5M566 342.1h3m7.5 0h1.5M567 342.6h10M572 343.1h3" stroke="#17d67d" stroke-width="0.5" stroke-opacity="1" fill="none"/>
<path d="M574 334.1h1M571 334.6h5.5M569 335.1h2.5m4.5 0h1.5M568 335.6h1.5m7.5 0h4M567.5 336.1h1m9.5 0h3.5M566.5 336.6h1.5m11 0h3M566 337.1h2m11.5 0h2.5M565.5 337.6h2.5m12 0h2M565 338.1h3m12 0h2M565 338.6h3.5m11.5 0h2M565 339.1h3.5m11.5 0h1.5M565 339.6h3.5m11 0h1.5M565.5 340.1h3.5m9.5 0h2M566 340.6h3m8.5 0h2M566 341.1h3.5m7.5 0h1.5M567 341.6h7m1.5 0h2M569 342.1h7.5" stroke="#5be42f" stroke-width="0.5" stroke-opacity="1" fill="none"/>
<path d="M571.5 335.1h4.5M569.5 335.6h3m2 0h2.5M568.5 336.1h2.5m5.5 0h1.5M568 336.6h2.5m6.5 0h2M568 337.1h2m7.5 0h2M568 337.6h2m8 0h2M568 338.1h2m8.5 0h1.5M568.5 338.6h1.5m8.5 0h1.5M568.5 339.1h2m7.5 0h2M568.5 339.6h2m6 0h3M569 340.1h4m2.5 0h3M569 340.6h8.5M569.5 341.1h7.5M574 341.6h1.5" stroke="#c8e913" stroke-width="0.5" stroke-opacity="1" fill="none"/>
<path d="M572.5 335.6h2M571 336.1h5.5M570.5 336.6h2.5m1 0h3M570 337.1h2m3 0h2.5M570 337.6h1.5m4 0h2.5M570 338.1h1.5m3.5 0h3.5M570 338.6h2.5m2.5 0h3.5M570.5 339.1h3m.5 0h4M570.5 339.6h6M573 340.1h2.5" stroke="#f69a03" stroke-width="0.5" stroke-opacity="1" fill="none"/>
<path d="M573 336.6h1M572 337.1h3M571.5 337.6h4M571.5 338.1h3.5M572.5 338.6h2.5M573.5 339.1h.5" stroke="#ff4100" stroke-width="0.5" stroke-opacity="1" fill="none"/>
<line x1="544.5" y1="353.3" x2="648.2" y2="353.3" stroke="#808080" stroke-width="1.4"/>
<line x1="648.2" y1="353.3" x2="648.2" y2="411.5" stroke="#c4c4c4" stroke-width="0.9"/>
<path d="M544.5,353.3 V308.0 H648.2 V353.3" fill="none" stroke="#6a6a6a" stroke-width="1.5"/>
<line x1="544.5" y1="308.0" x2="544.5" y2="411.5" stroke="#333" stroke-width="1.2"/>
<line x1="544.5" y1="411.5" x2="648.2" y2="411.5" stroke="#333" stroke-width="1.2"/>
<line x1="541.7" y1="411.5" x2="544.5" y2="411.5" stroke="#333" stroke-width="1.1"/>
<line x1="542.9" y1="407.2" x2="544.5" y2="407.2" stroke="#555" stroke-width="0.7"/>
<line x1="542.9" y1="404.6" x2="544.5" y2="404.6" stroke="#555" stroke-width="0.7"/>
<line x1="542.9" y1="402.9" x2="544.5" y2="402.9" stroke="#555" stroke-width="0.7"/>
<line x1="542.9" y1="401.4" x2="544.5" y2="401.4" stroke="#555" stroke-width="0.7"/>
<line x1="542.9" y1="400.3" x2="544.5" y2="400.3" stroke="#555" stroke-width="0.7"/>
<line x1="542.9" y1="399.3" x2="544.5" y2="399.3" stroke="#555" stroke-width="0.7"/>
<line x1="542.9" y1="398.6" x2="544.5" y2="398.6" stroke="#555" stroke-width="0.7"/>
<line x1="542.9" y1="397.8" x2="544.5" y2="397.8" stroke="#555" stroke-width="0.7"/>
<text x="0" y="0" font-size="5.2" text-anchor="middle" fill="#555" transform="translate(536.3 414.1) rotate(-38)">10<tspan dy="-2.4" font-size="3.8">0</tspan></text>
<line x1="541.7" y1="397.1" x2="544.5" y2="397.1" stroke="#333" stroke-width="1.1"/>
<line x1="542.9" y1="392.8" x2="544.5" y2="392.8" stroke="#555" stroke-width="0.7"/>
<line x1="542.9" y1="390.2" x2="544.5" y2="390.2" stroke="#555" stroke-width="0.7"/>
<line x1="542.9" y1="388.5" x2="544.5" y2="388.5" stroke="#555" stroke-width="0.7"/>
<line x1="542.9" y1="387.1" x2="544.5" y2="387.1" stroke="#555" stroke-width="0.7"/>
<line x1="542.9" y1="385.9" x2="544.5" y2="385.9" stroke="#555" stroke-width="0.7"/>
<line x1="542.9" y1="384.9" x2="544.5" y2="384.9" stroke="#555" stroke-width="0.7"/>
<line x1="542.9" y1="384.2" x2="544.5" y2="384.2" stroke="#555" stroke-width="0.7"/>
<line x1="542.9" y1="383.5" x2="544.5" y2="383.5" stroke="#555" stroke-width="0.7"/>
<text x="0" y="0" font-size="5.2" text-anchor="middle" fill="#555" transform="translate(536.3 399.7) rotate(-38)">10<tspan dy="-2.4" font-size="3.8">1</tspan></text>
<line x1="541.7" y1="382.8" x2="544.5" y2="382.8" stroke="#333" stroke-width="1.1"/>
<line x1="542.9" y1="378.4" x2="544.5" y2="378.4" stroke="#555" stroke-width="0.7"/>
<line x1="542.9" y1="375.9" x2="544.5" y2="375.9" stroke="#555" stroke-width="0.7"/>
<line x1="542.9" y1="374.1" x2="544.5" y2="374.1" stroke="#555" stroke-width="0.7"/>
<line x1="542.9" y1="372.7" x2="544.5" y2="372.7" stroke="#555" stroke-width="0.7"/>
<line x1="542.9" y1="371.5" x2="544.5" y2="371.5" stroke="#555" stroke-width="0.7"/>
<line x1="542.9" y1="370.5" x2="544.5" y2="370.5" stroke="#555" stroke-width="0.7"/>
<line x1="542.9" y1="369.8" x2="544.5" y2="369.8" stroke="#555" stroke-width="0.7"/>
<line x1="542.9" y1="369.1" x2="544.5" y2="369.1" stroke="#555" stroke-width="0.7"/>
<text x="0" y="0" font-size="5.2" text-anchor="middle" fill="#555" transform="translate(536.3 385.4) rotate(-38)">10<tspan dy="-2.4" font-size="3.8">2</tspan></text>
<line x1="541.7" y1="368.4" x2="544.5" y2="368.4" stroke="#333" stroke-width="1.1"/>
<line x1="542.9" y1="364.1" x2="544.5" y2="364.1" stroke="#555" stroke-width="0.7"/>
<line x1="542.9" y1="361.5" x2="544.5" y2="361.5" stroke="#555" stroke-width="0.7"/>
<line x1="542.9" y1="359.8" x2="544.5" y2="359.8" stroke="#555" stroke-width="0.7"/>
<line x1="542.9" y1="358.3" x2="544.5" y2="358.3" stroke="#555" stroke-width="0.7"/>
<line x1="542.9" y1="357.2" x2="544.5" y2="357.2" stroke="#555" stroke-width="0.7"/>
<line x1="542.9" y1="356.2" x2="544.5" y2="356.2" stroke="#555" stroke-width="0.7"/>
<line x1="542.9" y1="355.5" x2="544.5" y2="355.5" stroke="#555" stroke-width="0.7"/>
<line x1="542.9" y1="354.7" x2="544.5" y2="354.7" stroke="#555" stroke-width="0.7"/>
<text x="0" y="0" font-size="5.2" text-anchor="middle" fill="#555" transform="translate(536.3 371.0) rotate(-38)">10<tspan dy="-2.4" font-size="3.8">3</tspan></text>
<line x1="541.7" y1="354.0" x2="544.5" y2="354.0" stroke="#333" stroke-width="1.1"/>
<line x1="542.9" y1="349.7" x2="544.5" y2="349.7" stroke="#555" stroke-width="0.7"/>
<line x1="542.9" y1="347.1" x2="544.5" y2="347.1" stroke="#555" stroke-width="0.7"/>
<line x1="542.9" y1="345.4" x2="544.5" y2="345.4" stroke="#555" stroke-width="0.7"/>
<line x1="542.9" y1="344.0" x2="544.5" y2="344.0" stroke="#555" stroke-width="0.7"/>
<line x1="542.9" y1="342.8" x2="544.5" y2="342.8" stroke="#555" stroke-width="0.7"/>
<line x1="542.9" y1="341.8" x2="544.5" y2="341.8" stroke="#555" stroke-width="0.7"/>
<line x1="542.9" y1="341.1" x2="544.5" y2="341.1" stroke="#555" stroke-width="0.7"/>
<line x1="542.9" y1="340.4" x2="544.5" y2="340.4" stroke="#555" stroke-width="0.7"/>
<text x="0" y="0" font-size="5.2" text-anchor="middle" fill="#555" transform="translate(536.3 356.6) rotate(-38)">10<tspan dy="-2.4" font-size="3.8">4</tspan></text>
<line x1="541.7" y1="339.6" x2="544.5" y2="339.6" stroke="#333" stroke-width="1.1"/>
<line x1="542.9" y1="335.3" x2="544.5" y2="335.3" stroke="#555" stroke-width="0.7"/>
<line x1="542.9" y1="332.7" x2="544.5" y2="332.7" stroke="#555" stroke-width="0.7"/>
<line x1="542.9" y1="331.0" x2="544.5" y2="331.0" stroke="#555" stroke-width="0.7"/>
<line x1="542.9" y1="329.6" x2="544.5" y2="329.6" stroke="#555" stroke-width="0.7"/>
<line x1="542.9" y1="328.4" x2="544.5" y2="328.4" stroke="#555" stroke-width="0.7"/>
<line x1="542.9" y1="327.4" x2="544.5" y2="327.4" stroke="#555" stroke-width="0.7"/>
<line x1="542.9" y1="326.7" x2="544.5" y2="326.7" stroke="#555" stroke-width="0.7"/>
<line x1="542.9" y1="326.0" x2="544.5" y2="326.0" stroke="#555" stroke-width="0.7"/>
<text x="0" y="0" font-size="5.2" text-anchor="middle" fill="#555" transform="translate(536.3 342.2) rotate(-38)">10<tspan dy="-2.4" font-size="3.8">5</tspan></text>
<line x1="541.7" y1="325.3" x2="544.5" y2="325.3" stroke="#333" stroke-width="1.1"/>
<line x1="542.9" y1="321.0" x2="544.5" y2="321.0" stroke="#555" stroke-width="0.7"/>
<line x1="542.9" y1="318.4" x2="544.5" y2="318.4" stroke="#555" stroke-width="0.7"/>
<line x1="542.9" y1="316.6" x2="544.5" y2="316.6" stroke="#555" stroke-width="0.7"/>
<line x1="542.9" y1="315.2" x2="544.5" y2="315.2" stroke="#555" stroke-width="0.7"/>
<line x1="542.9" y1="314.1" x2="544.5" y2="314.1" stroke="#555" stroke-width="0.7"/>
<line x1="542.9" y1="313.1" x2="544.5" y2="313.1" stroke="#555" stroke-width="0.7"/>
<line x1="542.9" y1="312.3" x2="544.5" y2="312.3" stroke="#555" stroke-width="0.7"/>
<line x1="542.9" y1="311.6" x2="544.5" y2="311.6" stroke="#555" stroke-width="0.7"/>
<text x="0" y="0" font-size="5.2" text-anchor="middle" fill="#555" transform="translate(536.3 327.9) rotate(-38)">10<tspan dy="-2.4" font-size="3.8">6</tspan></text>
<line x1="541.7" y1="310.9" x2="544.5" y2="310.9" stroke="#333" stroke-width="1.1"/>
<text x="0" y="0" font-size="5.2" text-anchor="middle" fill="#555" transform="translate(536.3 313.5) rotate(-38)">10<tspan dy="-2.4" font-size="3.8">7</tspan></text>
<line x1="544.5" y1="411.5" x2="544.5" y2="414.3" stroke="#333" stroke-width="1"/>
<line x1="550.7" y1="411.5" x2="550.7" y2="413.0" stroke="#666" stroke-width="0.6"/>
<line x1="556.9" y1="411.5" x2="556.9" y2="413.0" stroke="#666" stroke-width="0.6"/>
<line x1="563.0" y1="411.5" x2="563.0" y2="413.0" stroke="#666" stroke-width="0.6"/>
<line x1="569.2" y1="411.5" x2="569.2" y2="413.0" stroke="#666" stroke-width="0.6"/>
<text x="545.3" y="419.8" font-size="5" text-anchor="middle" fill="#444">0</text>
<line x1="575.4" y1="411.5" x2="575.4" y2="414.3" stroke="#333" stroke-width="1"/>
<line x1="581.6" y1="411.5" x2="581.6" y2="413.0" stroke="#666" stroke-width="0.6"/>
<line x1="587.8" y1="411.5" x2="587.8" y2="413.0" stroke="#666" stroke-width="0.6"/>
<line x1="593.9" y1="411.5" x2="593.9" y2="413.0" stroke="#666" stroke-width="0.6"/>
<line x1="600.1" y1="411.5" x2="600.1" y2="413.0" stroke="#666" stroke-width="0.6"/>
<text x="576.2" y="419.8" font-size="5" text-anchor="middle" fill="#444">5.0M</text>
<line x1="606.3" y1="411.5" x2="606.3" y2="414.3" stroke="#333" stroke-width="1"/>
<line x1="612.5" y1="411.5" x2="612.5" y2="413.0" stroke="#666" stroke-width="0.6"/>
<line x1="618.7" y1="411.5" x2="618.7" y2="413.0" stroke="#666" stroke-width="0.6"/>
<line x1="624.8" y1="411.5" x2="624.8" y2="413.0" stroke="#666" stroke-width="0.6"/>
<line x1="631.0" y1="411.5" x2="631.0" y2="413.0" stroke="#666" stroke-width="0.6"/>
<text x="607.1" y="419.8" font-size="5" text-anchor="middle" fill="#444">10M</text>
<line x1="637.2" y1="411.5" x2="637.2" y2="414.3" stroke="#333" stroke-width="1"/>
<line x1="643.4" y1="411.5" x2="643.4" y2="413.0" stroke="#666" stroke-width="0.6"/>
<text x="638.0" y="419.8" font-size="5" text-anchor="middle" fill="#444">15M</text>
<text x="630.8" y="323.3" font-size="10.8" text-anchor="middle" font-weight="bold" font-style="normal" fill="#1a1a1a" >99.6%</text>
<line x1="33.5" y1="462" x2="33.5" y2="410.5" stroke="#111" stroke-width="1.3"/>
<path d="M29.5,411 L33.5,402.3 L37.5,411 Z" fill="#111"/>
<line x1="33.5" y1="462" x2="90" y2="462" stroke="#111" stroke-width="1.3"/>
<path d="M89,458.2 L97.8,462 L89,465.8 Z" fill="#111"/>
<text x="0" y="0" font-size="11.5" text-anchor="middle" fill="#222" transform="translate(24.7 435.2) rotate(-90)">PDGFRβ</text>
<text x="63" y="481" font-size="11" text-anchor="middle" font-weight="normal" font-style="normal" fill="#222" textLength="21.5" lengthAdjust="spacingAndGlyphs" >FSC</text>
<text x="129" y="457.2" font-size="15" text-anchor="middle" font-weight="normal" font-style="normal" fill="#111" textLength="48" lengthAdjust="spacingAndGlyphs" >Isotype</text>
<text x="129" y="475.9" font-size="15" text-anchor="middle" font-weight="normal" font-style="normal" fill="#111" textLength="48" lengthAdjust="spacingAndGlyphs" >Control</text>
<text x="208.3" y="466.6" font-size="14.8" text-anchor="start" font-weight="normal" font-style="italic" fill="#111" textLength="69.2" lengthAdjust="spacingAndGlyphs" >APOE KO</text>
<text x="338" y="466.6" font-size="14.8" text-anchor="start" font-weight="normal" font-style="italic" fill="#111" textLength="50.3" lengthAdjust="spacingAndGlyphs" >APOE2</text>
<text x="450.1" y="466.6" font-size="14.8" text-anchor="start" font-weight="normal" font-style="italic" fill="#111" textLength="50.9" lengthAdjust="spacingAndGlyphs" >APOE3</text>
<text x="566" y="466.6" font-size="14.8" text-anchor="start" font-weight="normal" font-style="italic" fill="#111" textLength="50.9" lengthAdjust="spacingAndGlyphs" >APOE4</text>
<text x="4.6" y="520.5" font-size="26" text-anchor="start" font-weight="normal" font-style="normal" fill="#000" textLength="34.8" lengthAdjust="spacingAndGlyphs" >(C)</text>
<rect x="69.3" y="512" width="191.7" height="192" fill="none" stroke="#aaa" stroke-width="1"/>
<line x1="69.3" y1="512" x2="69.3" y2="704" stroke="#777" stroke-width="1.2"/>
<line x1="69.3" y1="704" x2="261" y2="704" stroke="#333" stroke-width="1.4"/>
<line x1="64.3" y1="702.8" x2="69.3" y2="702.8" stroke="#222" stroke-width="1.3"/>
<text x="60.5" y="705.3" font-size="7.3" text-anchor="end" fill="#1a1a1a" stroke="#1a1a1a" stroke-width="0.2">0</text>
<line x1="67.3" y1="693.7" x2="69.3" y2="693.7" stroke="#444" stroke-width="0.8"/>
<line x1="67.3" y1="684.6" x2="69.3" y2="684.6" stroke="#444" stroke-width="0.8"/>
<line x1="67.3" y1="675.6" x2="69.3" y2="675.6" stroke="#444" stroke-width="0.8"/>
<line x1="64.3" y1="666.5" x2="69.3" y2="666.5" stroke="#222" stroke-width="1.3"/>
<text x="60.5" y="669.0" font-size="7.3" text-anchor="end" fill="#1a1a1a" stroke="#1a1a1a" stroke-width="0.2">20</text>
<line x1="67.3" y1="657.4" x2="69.3" y2="657.4" stroke="#444" stroke-width="0.8"/>
<line x1="67.3" y1="648.3" x2="69.3" y2="648.3" stroke="#444" stroke-width="0.8"/>
<line x1="67.3" y1="639.3" x2="69.3" y2="639.3" stroke="#444" stroke-width="0.8"/>
<line x1="64.3" y1="630.2" x2="69.3" y2="630.2" stroke="#222" stroke-width="1.3"/>
<text x="60.5" y="632.7" font-size="7.3" text-anchor="end" fill="#1a1a1a" stroke="#1a1a1a" stroke-width="0.2">40</text>
<line x1="67.3" y1="621.1" x2="69.3" y2="621.1" stroke="#444" stroke-width="0.8"/>
<line x1="67.3" y1="612.0" x2="69.3" y2="612.0" stroke="#444" stroke-width="0.8"/>
<line x1="67.3" y1="603.0" x2="69.3" y2="603.0" stroke="#444" stroke-width="0.8"/>
<line x1="64.3" y1="593.9" x2="69.3" y2="593.9" stroke="#222" stroke-width="1.3"/>
<text x="60.5" y="596.4" font-size="7.3" text-anchor="end" fill="#1a1a1a" stroke="#1a1a1a" stroke-width="0.2">60</text>
<line x1="67.3" y1="584.8" x2="69.3" y2="584.8" stroke="#444" stroke-width="0.8"/>
<line x1="67.3" y1="575.8" x2="69.3" y2="575.8" stroke="#444" stroke-width="0.8"/>
<line x1="67.3" y1="566.7" x2="69.3" y2="566.7" stroke="#444" stroke-width="0.8"/>
<line x1="64.3" y1="557.6" x2="69.3" y2="557.6" stroke="#222" stroke-width="1.3"/>
<text x="60.5" y="560.1" font-size="7.3" text-anchor="end" fill="#1a1a1a" stroke="#1a1a1a" stroke-width="0.2">80</text>
<line x1="67.3" y1="548.5" x2="69.3" y2="548.5" stroke="#444" stroke-width="0.8"/>
<line x1="67.3" y1="539.4" x2="69.3" y2="539.4" stroke="#444" stroke-width="0.8"/>
<line x1="67.3" y1="530.4" x2="69.3" y2="530.4" stroke="#444" stroke-width="0.8"/>
<line x1="64.3" y1="521.3" x2="69.3" y2="521.3" stroke="#222" stroke-width="1.3"/>
<text x="60.5" y="523.8" font-size="7.3" text-anchor="end" fill="#1a1a1a" stroke="#1a1a1a" stroke-width="0.2">100</text>
<line x1="69.3" y1="704" x2="69.3" y2="709.5" stroke="#222" stroke-width="1.4"/>
<line x1="77.2" y1="704" x2="77.2" y2="706.8" stroke="#444" stroke-width="0.9"/>
<line x1="81.8" y1="704" x2="81.8" y2="706.8" stroke="#444" stroke-width="0.9"/>
<line x1="85.1" y1="704" x2="85.1" y2="706.8" stroke="#444" stroke-width="0.9"/>
<line x1="87.7" y1="704" x2="87.7" y2="706.8" stroke="#444" stroke-width="0.9"/>
<line x1="89.8" y1="704" x2="89.8" y2="706.8" stroke="#444" stroke-width="0.9"/>
<line x1="91.5" y1="704" x2="91.5" y2="706.8" stroke="#444" stroke-width="0.9"/>
<line x1="93.1" y1="704" x2="93.1" y2="706.8" stroke="#444" stroke-width="0.9"/>
<line x1="94.4" y1="704" x2="94.4" y2="706.8" stroke="#444" stroke-width="0.9"/>
<line x1="95.6" y1="704" x2="95.6" y2="709.5" stroke="#222" stroke-width="1.4"/>
<line x1="103.5" y1="704" x2="103.5" y2="706.8" stroke="#444" stroke-width="0.9"/>
<line x1="108.1" y1="704" x2="108.1" y2="706.8" stroke="#444" stroke-width="0.9"/>
<line x1="111.4" y1="704" x2="111.4" y2="706.8" stroke="#444" stroke-width="0.9"/>
<line x1="114.0" y1="704" x2="114.0" y2="706.8" stroke="#444" stroke-width="0.9"/>
<line x1="116.1" y1="704" x2="116.1" y2="706.8" stroke="#444" stroke-width="0.9"/>
<line x1="117.8" y1="704" x2="117.8" y2="706.8" stroke="#444" stroke-width="0.9"/>
<line x1="119.4" y1="704" x2="119.4" y2="706.8" stroke="#444" stroke-width="0.9"/>
<line x1="120.7" y1="704" x2="120.7" y2="706.8" stroke="#444" stroke-width="0.9"/>
<line x1="121.9" y1="704" x2="121.9" y2="709.5" stroke="#222" stroke-width="1.4"/>
<line x1="129.8" y1="704" x2="129.8" y2="706.8" stroke="#444" stroke-width="0.9"/>
<line x1="134.4" y1="704" x2="134.4" y2="706.8" stroke="#444" stroke-width="0.9"/>
<line x1="137.7" y1="704" x2="137.7" y2="706.8" stroke="#444" stroke-width="0.9"/>
<line x1="140.3" y1="704" x2="140.3" y2="706.8" stroke="#444" stroke-width="0.9"/>
<line x1="142.4" y1="704" x2="142.4" y2="706.8" stroke="#444" stroke-width="0.9"/>
<line x1="144.1" y1="704" x2="144.1" y2="706.8" stroke="#444" stroke-width="0.9"/>
<line x1="145.7" y1="704" x2="145.7" y2="706.8" stroke="#444" stroke-width="0.9"/>
<line x1="147.0" y1="704" x2="147.0" y2="706.8" stroke="#444" stroke-width="0.9"/>
<line x1="148.2" y1="704" x2="148.2" y2="709.5" stroke="#222" stroke-width="1.4"/>
<line x1="156.1" y1="704" x2="156.1" y2="706.8" stroke="#444" stroke-width="0.9"/>
<line x1="160.7" y1="704" x2="160.7" y2="706.8" stroke="#444" stroke-width="0.9"/>
<line x1="164.0" y1="704" x2="164.0" y2="706.8" stroke="#444" stroke-width="0.9"/>
<line x1="166.6" y1="704" x2="166.6" y2="706.8" stroke="#444" stroke-width="0.9"/>
<line x1="168.7" y1="704" x2="168.7" y2="706.8" stroke="#444" stroke-width="0.9"/>
<line x1="170.4" y1="704" x2="170.4" y2="706.8" stroke="#444" stroke-width="0.9"/>
<line x1="172.0" y1="704" x2="172.0" y2="706.8" stroke="#444" stroke-width="0.9"/>
<line x1="173.3" y1="704" x2="173.3" y2="706.8" stroke="#444" stroke-width="0.9"/>
<line x1="174.5" y1="704" x2="174.5" y2="709.5" stroke="#222" stroke-width="1.4"/>
<line x1="182.4" y1="704" x2="182.4" y2="706.8" stroke="#444" stroke-width="0.9"/>
<line x1="187.0" y1="704" x2="187.0" y2="706.8" stroke="#444" stroke-width="0.9"/>
<line x1="190.3" y1="704" x2="190.3" y2="706.8" stroke="#444" stroke-width="0.9"/>
<line x1="192.9" y1="704" x2="192.9" y2="706.8" stroke="#444" stroke-width="0.9"/>
<line x1="195.0" y1="704" x2="195.0" y2="706.8" stroke="#444" stroke-width="0.9"/>
<line x1="196.7" y1="704" x2="196.7" y2="706.8" stroke="#444" stroke-width="0.9"/>
<line x1="198.3" y1="704" x2="198.3" y2="706.8" stroke="#444" stroke-width="0.9"/>
<line x1="199.6" y1="704" x2="199.6" y2="706.8" stroke="#444" stroke-width="0.9"/>
<line x1="200.8" y1="704" x2="200.8" y2="709.5" stroke="#222" stroke-width="1.4"/>
<line x1="208.7" y1="704" x2="208.7" y2="706.8" stroke="#444" stroke-width="0.9"/>
<line x1="213.3" y1="704" x2="213.3" y2="706.8" stroke="#444" stroke-width="0.9"/>
<line x1="216.6" y1="704" x2="216.6" y2="706.8" stroke="#444" stroke-width="0.9"/>
<line x1="219.2" y1="704" x2="219.2" y2="706.8" stroke="#444" stroke-width="0.9"/>
<line x1="221.3" y1="704" x2="221.3" y2="706.8" stroke="#444" stroke-width="0.9"/>
<line x1="223.0" y1="704" x2="223.0" y2="706.8" stroke="#444" stroke-width="0.9"/>
<line x1="224.6" y1="704" x2="224.6" y2="706.8" stroke="#444" stroke-width="0.9"/>
<line x1="225.9" y1="704" x2="225.9" y2="706.8" stroke="#444" stroke-width="0.9"/>
<line x1="227.1" y1="704" x2="227.1" y2="709.5" stroke="#222" stroke-width="1.4"/>
<line x1="235.0" y1="704" x2="235.0" y2="706.8" stroke="#444" stroke-width="0.9"/>
<line x1="239.6" y1="704" x2="239.6" y2="706.8" stroke="#444" stroke-width="0.9"/>
<line x1="242.9" y1="704" x2="242.9" y2="706.8" stroke="#444" stroke-width="0.9"/>
<line x1="245.5" y1="704" x2="245.5" y2="706.8" stroke="#444" stroke-width="0.9"/>
<line x1="247.6" y1="704" x2="247.6" y2="706.8" stroke="#444" stroke-width="0.9"/>
<line x1="249.3" y1="704" x2="249.3" y2="706.8" stroke="#444" stroke-width="0.9"/>
<line x1="250.9" y1="704" x2="250.9" y2="706.8" stroke="#444" stroke-width="0.9"/>
<line x1="252.2" y1="704" x2="252.2" y2="706.8" stroke="#444" stroke-width="0.9"/>
<line x1="253.4" y1="704" x2="253.4" y2="709.5" stroke="#222" stroke-width="1.4"/>
<text x="72.5" y="720.4" font-size="7.4" fill="#222" stroke="#222" stroke-width="0.15">10<tspan dy="-5.9" font-size="7.5" dx="0.3">0</tspan></text>
<text x="122" y="720.4" font-size="7.4" fill="#222" stroke="#222" stroke-width="0.15">10<tspan dy="-5.9" font-size="7.5" dx="0.3">2</tspan></text>
<text x="175.7" y="720.4" font-size="7.4" fill="#222" stroke="#222" stroke-width="0.15">10<tspan dy="-5.9" font-size="7.5" dx="0.3">4</tspan></text>
<text x="228" y="720.4" font-size="7.4" fill="#222" stroke="#222" stroke-width="0.15">10<tspan dy="-5.9" font-size="7.5" dx="0.3">6</tspan></text>
<text x="84.3" y="538.3" font-size="13.7" text-anchor="start" font-weight="normal" font-style="normal" fill="#111" textLength="28.2" lengthAdjust="spacingAndGlyphs" >NG2</text>
<path d="M99.9,702.7 L109.8,701.7 L116,699.5 L122.6,695.8 L126.6,686.9 L130,678 L132.5,671 L135.5,656 L137.4,639.4 L139.5,610 L141,584 L143.4,564.3 L144.8,545 L145.8,530.7 L147.2,524.8 L148.3,527 L149.3,534.7 L150.8,565 L152.3,603.9 L153.7,635 L155.2,663.2 L157.2,694.8 L158.2,702.7 Z" fill="#F9ABAB" stroke="#F23A3A" stroke-width="1"/>
<path d="M153.3,702.7 L156,699.5 L158.2,694.8 L160.2,675 L162.2,643.4 L164.2,605 L166.1,564.3 L167.2,540 L168.1,526.7 L169.1,523.8 L170,526 L171,530.7 L172.5,555 L174,584 L176,620 L178,653.3 L180.5,673 L182.9,686.9 L186.5,696 L190.8,701.7 L194.8,702.7 Z" fill="#5C9A2E" stroke="#F0A040" stroke-width="0.6"/>
<path d="M153.3,702.7 L156,699.5 L158.2,694.8 L160.2,675 L162.2,643.4 L164.2,605 L166.1,564.3 L167.2,540 L168.1,526.7 L169.1,523.8" fill="none" stroke="#66EE44" stroke-width="1.1"/>
<path d="M169.1,523.8 L170,526 L171,530.7 L172.5,555 L174,584 L176,620 L178,653.3 L180.5,673 L182.9,686.9 L186.5,696 L190.8,701.7 L194.8,702.7" fill="none" stroke="#1E5E10" stroke-width="1.1"/>
<line x1="69.5" y1="703.4" x2="261" y2="703.4" stroke="#4a8a2a" stroke-width="1"/>
<rect x="298.3" y="512.6" width="192.5" height="191.69999999999993" fill="none" stroke="#aaa" stroke-width="1"/>
<line x1="298.3" y1="512.6" x2="298.3" y2="704.3" stroke="#777" stroke-width="1.2"/>
<line x1="298.3" y1="704.3" x2="490.8" y2="704.3" stroke="#333" stroke-width="1.4"/>
<line x1="293.3" y1="701.5" x2="298.3" y2="701.5" stroke="#222" stroke-width="1.3"/>
<text x="289.5" y="704.0" font-size="7.3" text-anchor="end" fill="#1a1a1a" stroke="#1a1a1a" stroke-width="0.2">0</text>
<line x1="296.3" y1="692.5" x2="298.3" y2="692.5" stroke="#444" stroke-width="0.8"/>
<line x1="296.3" y1="683.5" x2="298.3" y2="683.5" stroke="#444" stroke-width="0.8"/>
<line x1="296.3" y1="674.5" x2="298.3" y2="674.5" stroke="#444" stroke-width="0.8"/>
<line x1="293.3" y1="665.5" x2="298.3" y2="665.5" stroke="#222" stroke-width="1.3"/>
<text x="289.5" y="668.0" font-size="7.3" text-anchor="end" fill="#1a1a1a" stroke="#1a1a1a" stroke-width="0.2">20</text>
<line x1="296.3" y1="656.5" x2="298.3" y2="656.5" stroke="#444" stroke-width="0.8"/>
<line x1="296.3" y1="647.5" x2="298.3" y2="647.5" stroke="#444" stroke-width="0.8"/>
<line x1="296.3" y1="638.5" x2="298.3" y2="638.5" stroke="#444" stroke-width="0.8"/>
<line x1="293.3" y1="629.5" x2="298.3" y2="629.5" stroke="#222" stroke-width="1.3"/>
<text x="289.5" y="632.0" font-size="7.3" text-anchor="end" fill="#1a1a1a" stroke="#1a1a1a" stroke-width="0.2">40</text>
<line x1="296.3" y1="620.5" x2="298.3" y2="620.5" stroke="#444" stroke-width="0.8"/>
<line x1="296.3" y1="611.5" x2="298.3" y2="611.5" stroke="#444" stroke-width="0.8"/>
<line x1="296.3" y1="602.5" x2="298.3" y2="602.5" stroke="#444" stroke-width="0.8"/>
<line x1="293.3" y1="593.5" x2="298.3" y2="593.5" stroke="#222" stroke-width="1.3"/>
<text x="289.5" y="596.0" font-size="7.3" text-anchor="end" fill="#1a1a1a" stroke="#1a1a1a" stroke-width="0.2">60</text>
<line x1="296.3" y1="584.5" x2="298.3" y2="584.5" stroke="#444" stroke-width="0.8"/>
<line x1="296.3" y1="575.5" x2="298.3" y2="575.5" stroke="#444" stroke-width="0.8"/>
<line x1="296.3" y1="566.5" x2="298.3" y2="566.5" stroke="#444" stroke-width="0.8"/>
<line x1="293.3" y1="557.5" x2="298.3" y2="557.5" stroke="#222" stroke-width="1.3"/>
<text x="289.5" y="560.0" font-size="7.3" text-anchor="end" fill="#1a1a1a" stroke="#1a1a1a" stroke-width="0.2">80</text>
<line x1="296.3" y1="548.5" x2="298.3" y2="548.5" stroke="#444" stroke-width="0.8"/>
<line x1="296.3" y1="539.5" x2="298.3" y2="539.5" stroke="#444" stroke-width="0.8"/>
<line x1="296.3" y1="530.5" x2="298.3" y2="530.5" stroke="#444" stroke-width="0.8"/>
<line x1="293.3" y1="521.5" x2="298.3" y2="521.5" stroke="#222" stroke-width="1.3"/>
<text x="289.5" y="524.0" font-size="7.3" text-anchor="end" fill="#1a1a1a" stroke="#1a1a1a" stroke-width="0.2">100</text>
<line x1="298.3" y1="704.3" x2="298.3" y2="709.8" stroke="#222" stroke-width="1.4"/>
<line x1="306.2" y1="704.3" x2="306.2" y2="707.0999999999999" stroke="#444" stroke-width="0.9"/>
<line x1="310.8" y1="704.3" x2="310.8" y2="707.0999999999999" stroke="#444" stroke-width="0.9"/>
<line x1="314.1" y1="704.3" x2="314.1" y2="707.0999999999999" stroke="#444" stroke-width="0.9"/>
<line x1="316.7" y1="704.3" x2="316.7" y2="707.0999999999999" stroke="#444" stroke-width="0.9"/>
<line x1="318.8" y1="704.3" x2="318.8" y2="707.0999999999999" stroke="#444" stroke-width="0.9"/>
<line x1="320.5" y1="704.3" x2="320.5" y2="707.0999999999999" stroke="#444" stroke-width="0.9"/>
<line x1="322.1" y1="704.3" x2="322.1" y2="707.0999999999999" stroke="#444" stroke-width="0.9"/>
<line x1="323.4" y1="704.3" x2="323.4" y2="707.0999999999999" stroke="#444" stroke-width="0.9"/>
<line x1="324.6" y1="704.3" x2="324.6" y2="709.8" stroke="#222" stroke-width="1.4"/>
<line x1="332.5" y1="704.3" x2="332.5" y2="707.0999999999999" stroke="#444" stroke-width="0.9"/>
<line x1="337.1" y1="704.3" x2="337.1" y2="707.0999999999999" stroke="#444" stroke-width="0.9"/>
<line x1="340.4" y1="704.3" x2="340.4" y2="707.0999999999999" stroke="#444" stroke-width="0.9"/>
<line x1="343.0" y1="704.3" x2="343.0" y2="707.0999999999999" stroke="#444" stroke-width="0.9"/>
<line x1="345.1" y1="704.3" x2="345.1" y2="707.0999999999999" stroke="#444" stroke-width="0.9"/>
<line x1="346.8" y1="704.3" x2="346.8" y2="707.0999999999999" stroke="#444" stroke-width="0.9"/>
<line x1="348.4" y1="704.3" x2="348.4" y2="707.0999999999999" stroke="#444" stroke-width="0.9"/>
<line x1="349.7" y1="704.3" x2="349.7" y2="707.0999999999999" stroke="#444" stroke-width="0.9"/>
<line x1="350.9" y1="704.3" x2="350.9" y2="709.8" stroke="#222" stroke-width="1.4"/>
<line x1="358.8" y1="704.3" x2="358.8" y2="707.0999999999999" stroke="#444" stroke-width="0.9"/>
<line x1="363.4" y1="704.3" x2="363.4" y2="707.0999999999999" stroke="#444" stroke-width="0.9"/>
<line x1="366.7" y1="704.3" x2="366.7" y2="707.0999999999999" stroke="#444" stroke-width="0.9"/>
<line x1="369.3" y1="704.3" x2="369.3" y2="707.0999999999999" stroke="#444" stroke-width="0.9"/>
<line x1="371.4" y1="704.3" x2="371.4" y2="707.0999999999999" stroke="#444" stroke-width="0.9"/>
<line x1="373.1" y1="704.3" x2="373.1" y2="707.0999999999999" stroke="#444" stroke-width="0.9"/>
<line x1="374.7" y1="704.3" x2="374.7" y2="707.0999999999999" stroke="#444" stroke-width="0.9"/>
<line x1="376.0" y1="704.3" x2="376.0" y2="707.0999999999999" stroke="#444" stroke-width="0.9"/>
<line x1="377.2" y1="704.3" x2="377.2" y2="709.8" stroke="#222" stroke-width="1.4"/>
<line x1="385.1" y1="704.3" x2="385.1" y2="707.0999999999999" stroke="#444" stroke-width="0.9"/>
<line x1="389.7" y1="704.3" x2="389.7" y2="707.0999999999999" stroke="#444" stroke-width="0.9"/>
<line x1="393.0" y1="704.3" x2="393.0" y2="707.0999999999999" stroke="#444" stroke-width="0.9"/>
<line x1="395.6" y1="704.3" x2="395.6" y2="707.0999999999999" stroke="#444" stroke-width="0.9"/>
<line x1="397.7" y1="704.3" x2="397.7" y2="707.0999999999999" stroke="#444" stroke-width="0.9"/>
<line x1="399.4" y1="704.3" x2="399.4" y2="707.0999999999999" stroke="#444" stroke-width="0.9"/>
<line x1="401.0" y1="704.3" x2="401.0" y2="707.0999999999999" stroke="#444" stroke-width="0.9"/>
<line x1="402.3" y1="704.3" x2="402.3" y2="707.0999999999999" stroke="#444" stroke-width="0.9"/>
<line x1="403.5" y1="704.3" x2="403.5" y2="709.8" stroke="#222" stroke-width="1.4"/>
<line x1="411.4" y1="704.3" x2="411.4" y2="707.0999999999999" stroke="#444" stroke-width="0.9"/>
<line x1="416.0" y1="704.3" x2="416.0" y2="707.0999999999999" stroke="#444" stroke-width="0.9"/>
<line x1="419.3" y1="704.3" x2="419.3" y2="707.0999999999999" stroke="#444" stroke-width="0.9"/>
<line x1="421.9" y1="704.3" x2="421.9" y2="707.0999999999999" stroke="#444" stroke-width="0.9"/>
<line x1="424.0" y1="704.3" x2="424.0" y2="707.0999999999999" stroke="#444" stroke-width="0.9"/>
<line x1="425.7" y1="704.3" x2="425.7" y2="707.0999999999999" stroke="#444" stroke-width="0.9"/>
<line x1="427.3" y1="704.3" x2="427.3" y2="707.0999999999999" stroke="#444" stroke-width="0.9"/>
<line x1="428.6" y1="704.3" x2="428.6" y2="707.0999999999999" stroke="#444" stroke-width="0.9"/>
<line x1="429.8" y1="704.3" x2="429.8" y2="709.8" stroke="#222" stroke-width="1.4"/>
<line x1="437.7" y1="704.3" x2="437.7" y2="707.0999999999999" stroke="#444" stroke-width="0.9"/>
<line x1="442.3" y1="704.3" x2="442.3" y2="707.0999999999999" stroke="#444" stroke-width="0.9"/>
<line x1="445.6" y1="704.3" x2="445.6" y2="707.0999999999999" stroke="#444" stroke-width="0.9"/>
<line x1="448.2" y1="704.3" x2="448.2" y2="707.0999999999999" stroke="#444" stroke-width="0.9"/>
<line x1="450.3" y1="704.3" x2="450.3" y2="707.0999999999999" stroke="#444" stroke-width="0.9"/>
<line x1="452.0" y1="704.3" x2="452.0" y2="707.0999999999999" stroke="#444" stroke-width="0.9"/>
<line x1="453.6" y1="704.3" x2="453.6" y2="707.0999999999999" stroke="#444" stroke-width="0.9"/>
<line x1="454.9" y1="704.3" x2="454.9" y2="707.0999999999999" stroke="#444" stroke-width="0.9"/>
<line x1="456.1" y1="704.3" x2="456.1" y2="709.8" stroke="#222" stroke-width="1.4"/>
<line x1="464.0" y1="704.3" x2="464.0" y2="707.0999999999999" stroke="#444" stroke-width="0.9"/>
<line x1="468.6" y1="704.3" x2="468.6" y2="707.0999999999999" stroke="#444" stroke-width="0.9"/>
<line x1="471.9" y1="704.3" x2="471.9" y2="707.0999999999999" stroke="#444" stroke-width="0.9"/>
<line x1="474.5" y1="704.3" x2="474.5" y2="707.0999999999999" stroke="#444" stroke-width="0.9"/>
<line x1="476.6" y1="704.3" x2="476.6" y2="707.0999999999999" stroke="#444" stroke-width="0.9"/>
<line x1="478.3" y1="704.3" x2="478.3" y2="707.0999999999999" stroke="#444" stroke-width="0.9"/>
<line x1="479.9" y1="704.3" x2="479.9" y2="707.0999999999999" stroke="#444" stroke-width="0.9"/>
<line x1="481.2" y1="704.3" x2="481.2" y2="707.0999999999999" stroke="#444" stroke-width="0.9"/>
<line x1="482.4" y1="704.3" x2="482.4" y2="709.8" stroke="#222" stroke-width="1.4"/>
<text x="302.3" y="723.7" font-size="7.6" fill="#222" stroke="#222" stroke-width="0.15">10<tspan dy="-6.1" font-size="7.8" dx="0.3">0</tspan></text>
<text x="351.3" y="723.7" font-size="7.6" fill="#222" stroke="#222" stroke-width="0.15">10<tspan dy="-6.1" font-size="7.8" dx="0.3">2</tspan></text>
<text x="403.8" y="723.7" font-size="7.6" fill="#222" stroke="#222" stroke-width="0.15">10<tspan dy="-6.1" font-size="7.8" dx="0.3">4</tspan></text>
<text x="457.3" y="723.7" font-size="7.6" fill="#222" stroke="#222" stroke-width="0.15">10<tspan dy="-6.1" font-size="7.8" dx="0.3">6</tspan></text>
<text x="308.3" y="537.9" font-size="13.8" text-anchor="start" font-weight="normal" font-style="normal" fill="#111" textLength="57" lengthAdjust="spacingAndGlyphs" >PDGFRβ</text>
<path d="M371.6,703.5 L373,695 L374.5,683.7 L376.5,655 L378.3,625.8 L379.8,595 L381.2,568 L382.2,545 L382.8,529.3 L383.2,522.5 L384,530 L385.5,560 L387.2,595 L389,625.8 L391,655 L392.8,683.7 L395.7,698.2 L399,700.5 L402.5,703.5 Z" fill="#F9ABAB" stroke="#F23A3A" stroke-width="1"/>
<path d="M379,703.5 L381,700.5 L384,701 L386,700.5 L388,703.5 Z" fill="#6EC8F0" stroke="#38B8EE" stroke-width="0.7"/>
<path d="M404.4,703.5 L410,700 L414,695.3 L418,680 L421,665 L423.7,649 L425.3,630 L426.6,606.5 L428.5,567.9 L430,548 L431.4,533.2 L433.4,519.7 L435,524 L436.3,529.3 L437.2,555 L438.2,587.2 L440,625 L442,664.4 L444,685 L445.9,695.3 L448.8,703.5 Z" fill="#A9BBA0" stroke="none"/>
<path d="M410,703.5 L415,700 L419,694 L422,683.7 L424,672 L425.6,664.4 L428,640 L430.5,606.5 L432,575 L433,548.6 L434.2,528 L435.3,520.6 L437,526 L438.5,545 L441,606.5 L443,650 L445,683.7 L446.5,696 L447.8,703.5 Z" fill="#5E9C30" stroke="#F5A040" stroke-width="0.8"/>
<path d="M410,703.5 L415,700 L419,694 L422,683.7 L424,672 L425.6,664.4 L428,640 L430.5,606.5 L432,575 L433,548.6 L434.2,528 L435.3,520.6" fill="none" stroke="#38B8EE" stroke-width="0.9"/>
<path d="M435.3,520.6 L437,526 L438.5,545 L441,606.5 L443,650 L445,683.7 L446.5,696 L447.8,703.5" fill="none" stroke="#66DD44" stroke-width="0.9"/>
<path d="M404.4,703.5 L410,700 L414,695.3 L418,680 L421,665 L423.7,649 L425.3,630 L426.6,606.5 L428.5,567.9 L430,548 L431.4,533.2 L433.4,519.7 L435,524 L436.3,529.3 L437.2,555 L438.2,587.2 L440,625 L442,664.4 L444,685 L445.9,695.3 L448.8,703.5 Z" fill="none" stroke="#2F6A1C" stroke-width="1.1"/>
<line x1="298.5" y1="703.6" x2="490.5" y2="703.6" stroke="#4a8a2a" stroke-width="1"/>
<line x1="515.5" y1="566" x2="617.6" y2="566" stroke="#111" stroke-width="1.4"/>
<line x1="515.5" y1="583.4" x2="617.6" y2="583.4" stroke="#111" stroke-width="1.4"/>
<line x1="515.5" y1="600.2" x2="617.6" y2="600.2" stroke="#111" stroke-width="1.4"/>
<line x1="515.5" y1="617.3" x2="617.6" y2="617.3" stroke="#111" stroke-width="1.4"/>
<line x1="515.5" y1="634.4" x2="617.6" y2="634.4" stroke="#111" stroke-width="1.4"/>
<line x1="515.5" y1="651.8" x2="617.6" y2="651.8" stroke="#111" stroke-width="1.4"/>
<rect x="517" y="569.6" width="12" height="9.4" rx="1.5" fill="#A9BCA0" stroke="#4C6C36" stroke-width="1.5"/>
<text x="573" y="580.6" font-size="11" font-weight="bold" text-anchor="middle" fill="#111"><tspan font-style="italic">APOE</tspan> KO</text>
<rect x="517" y="587.0" width="12" height="9.4" rx="1.5" fill="#C8F5B8" stroke="#5EE25A" stroke-width="1.5"/>
<text x="573" y="596.8" font-size="11" font-weight="bold" text-anchor="middle" fill="#111"><tspan font-style="italic">APOE2</tspan></text>
<rect x="517" y="603.8000000000001" width="12" height="9.4" rx="1.5" fill="#F9D4B6" stroke="#F49C4C" stroke-width="1.5"/>
<text x="573" y="613.6" font-size="11" font-weight="bold" text-anchor="middle" fill="#111"><tspan font-style="italic">APOE3</tspan></text>
<rect x="517" y="620.9" width="12" height="9.4" rx="1.5" fill="#A8E2F4" stroke="#3CC4F0" stroke-width="1.5"/>
<text x="573" y="630.8" font-size="11" font-weight="bold" text-anchor="middle" fill="#111"><tspan font-style="italic">APOE4</tspan></text>
<rect x="517" y="638.0" width="12" height="9.4" rx="1.5" fill="#F6B7B7" stroke="#F24848" stroke-width="1.5"/>
<text x="573" y="647.6" font-size="11" font-weight="bold" text-anchor="middle" fill="#111">Isotype</text>
<text x="4.6" y="746.4" font-size="26" text-anchor="start" font-weight="normal" font-style="normal" fill="#000" textLength="34.6" lengthAdjust="spacingAndGlyphs" >(D)</text>
<line x1="102.4" y1="799.1999999999999" x2="102.4" y2="975.8" stroke="#111" stroke-width="2"/>
<line x1="101.4" y1="974.8" x2="270" y2="974.8" stroke="#111" stroke-width="2"/>
<line x1="95.4" y1="974.8" x2="102.4" y2="974.8" stroke="#111" stroke-width="2"/>
<text x="93.4" y="979.0" font-size="12" font-weight="bold" text-anchor="end" fill="#111" textLength="18.5" lengthAdjust="spacingAndGlyphs">0.0</text>
<line x1="95.4" y1="916.6" x2="102.4" y2="916.6" stroke="#111" stroke-width="2"/>
<text x="93.4" y="920.8" font-size="12" font-weight="bold" text-anchor="end" fill="#111" textLength="18.5" lengthAdjust="spacingAndGlyphs">0.5</text>
<line x1="95.4" y1="858.4" x2="102.4" y2="858.4" stroke="#111" stroke-width="2"/>
<text x="93.4" y="862.6" font-size="12" font-weight="bold" text-anchor="end" fill="#111" textLength="18.5" lengthAdjust="spacingAndGlyphs">1.0</text>
<line x1="95.4" y1="800.2" x2="102.4" y2="800.2" stroke="#111" stroke-width="2"/>
<text x="93.4" y="804.4" font-size="12" font-weight="bold" text-anchor="end" fill="#111" textLength="18.5" lengthAdjust="spacingAndGlyphs">1.5</text>
<line x1="128.6" y1="974.8" x2="128.6" y2="982.3" stroke="#111" stroke-width="2"/>
<line x1="168.5" y1="974.8" x2="168.5" y2="982.3" stroke="#111" stroke-width="2"/>
<line x1="208.6" y1="974.8" x2="208.6" y2="982.3" stroke="#111" stroke-width="2"/>
<line x1="249.0" y1="974.8" x2="249.0" y2="982.3" stroke="#111" stroke-width="2"/>
<text x="0" y="0" font-size="14.4" font-weight="bold" fill="#111" transform="translate(66.8 1031.2) rotate(-90)" textLength="291.8" lengthAdjust="spacingAndGlyphs">Normailized Expression Relative to HPRT1</text>
<text x="168.3" y="773.4" font-size="15" font-style="italic" fill="#111" textLength="42.3" lengthAdjust="spacingAndGlyphs">APOE</text>
<text x="188.4" y="796.3" font-size="14.5" text-anchor="middle" fill="#111">ns</text>
<line x1="133.1" y1="805.7" x2="248.1" y2="805.7" stroke="#111" stroke-width="2.8"/>
<path d="M128.6,826.3 V862.8 M122.0,826.3 H135.2 M122.0,862.8 H135.2" stroke="#444" stroke-width="1.4" fill="none"/>
<line x1="115.39999999999999" y1="844.6" x2="141.79999999999998" y2="844.6" stroke="#111" stroke-width="2.3"/>
<path d="M168.5,851.4 V865.1 M161.9,851.4 H175.1 M161.9,865.1 H175.1" stroke="#444" stroke-width="1.4" fill="none"/>
<line x1="155.3" y1="858.3" x2="181.7" y2="858.3" stroke="#111" stroke-width="2.3"/>
<path d="M208.6,848.4 V862.8 M202.0,848.4 H215.2 M202.0,862.8 H215.2" stroke="#444" stroke-width="1.4" fill="none"/>
<line x1="195.4" y1="856" x2="221.79999999999998" y2="856" stroke="#111" stroke-width="2.3"/>
<path d="M249.0,840.4 V867.9 M242.4,840.4 H255.6 M242.4,867.9 H255.6" stroke="#444" stroke-width="1.4" fill="none"/>
<line x1="235.8" y1="853.7" x2="262.2" y2="853.7" stroke="#111" stroke-width="2.3"/>
<circle cx="128.6" cy="819.4" r="3.7" fill="#111"/>
<circle cx="128.6" cy="843.9" r="3.7" fill="#111"/>
<circle cx="128.6" cy="852.6" r="3.7" fill="#111"/>
<circle cx="128.6" cy="862.2" r="3.7" fill="#111"/>
<circle cx="168.6" cy="848.4" r="3.7" fill="#111"/>
<circle cx="168.6" cy="859" r="3.7" fill="#111"/>
<circle cx="159" cy="865.8" r="3.7" fill="#111"/>
<circle cx="178.8" cy="860.1" r="3.7" fill="#111"/>
<circle cx="199.4" cy="853" r="3.7" fill="#111"/>
<circle cx="199.4" cy="864.7" r="3.7" fill="#111"/>
<circle cx="218.8" cy="847.5" r="3.7" fill="#111"/>
<circle cx="218.8" cy="859" r="3.7" fill="#111"/>
<circle cx="238.9" cy="843" r="3.7" fill="#111"/>
<circle cx="258.8" cy="841.8" r="3.7" fill="#111"/>
<circle cx="249" cy="860.1" r="3.7" fill="#111"/>
<circle cx="249" cy="870.8" r="3.7" fill="#111"/>
<text x="0" y="0" font-size="13.4" text-anchor="end" fill="#111" stroke="#111" stroke-width="0.25" transform="translate(132.2 991.6) rotate(-45)">APOE KO</text>
<text x="0" y="0" font-size="13.4" text-anchor="end" fill="#111" stroke="#111" stroke-width="0.25" transform="translate(172.2 991.6) rotate(-45)">APOE2</text>
<text x="0" y="0" font-size="13.4" text-anchor="end" fill="#111" stroke="#111" stroke-width="0.25" transform="translate(212.2 991.6) rotate(-45)">APOE3</text>
<text x="0" y="0" font-size="13.4" text-anchor="end" fill="#111" stroke="#111" stroke-width="0.25" transform="translate(252.7 991.6) rotate(-45)">APOE4</text>
<line x1="333.2" y1="798.1500000000001" x2="333.2" y2="974.6" stroke="#111" stroke-width="2"/>
<line x1="332.2" y1="973.6" x2="500" y2="973.6" stroke="#111" stroke-width="2"/>
<line x1="326.2" y1="973.6" x2="333.2" y2="973.6" stroke="#111" stroke-width="2"/>
<text x="324.2" y="977.8" font-size="12" font-weight="bold" text-anchor="end" fill="#111" textLength="18.5" lengthAdjust="spacingAndGlyphs">0.0</text>
<line x1="326.2" y1="915.5" x2="333.2" y2="915.5" stroke="#111" stroke-width="2"/>
<text x="324.2" y="919.7" font-size="12" font-weight="bold" text-anchor="end" fill="#111" textLength="18.5" lengthAdjust="spacingAndGlyphs">0.5</text>
<line x1="326.2" y1="857.3" x2="333.2" y2="857.3" stroke="#111" stroke-width="2"/>
<text x="324.2" y="861.5" font-size="12" font-weight="bold" text-anchor="end" fill="#111" textLength="18.5" lengthAdjust="spacingAndGlyphs">1.0</text>
<line x1="326.2" y1="799.2" x2="333.2" y2="799.2" stroke="#111" stroke-width="2"/>
<text x="324.2" y="803.4" font-size="12" font-weight="bold" text-anchor="end" fill="#111" textLength="18.5" lengthAdjust="spacingAndGlyphs">1.5</text>
<line x1="359.2" y1="973.6" x2="359.2" y2="981.1" stroke="#111" stroke-width="2"/>
<line x1="399.2" y1="973.6" x2="399.2" y2="981.1" stroke="#111" stroke-width="2"/>
<line x1="439.7" y1="973.6" x2="439.7" y2="981.1" stroke="#111" stroke-width="2"/>
<line x1="479.6" y1="973.6" x2="479.6" y2="981.1" stroke="#111" stroke-width="2"/>
<text x="0" y="0" font-size="14.4" font-weight="bold" fill="#111" transform="translate(299.6 1031.2) rotate(-90)" textLength="291.8" lengthAdjust="spacingAndGlyphs">Normailized Expression Relative to HPRT1</text>
<text x="404.2" y="774" font-size="15" font-style="italic" fill="#111" textLength="38.4" lengthAdjust="spacingAndGlyphs">LRP1</text>
<text x="419" y="795.6" font-size="14.5" text-anchor="middle" fill="#111">ns</text>
<line x1="363.7" y1="804.5" x2="478.1" y2="804.5" stroke="#111" stroke-width="2.8"/>
<path d="M359.2,815.4 V874.5 M352.59999999999997,815.4 H365.8 M352.59999999999997,874.5 H365.8" stroke="#444" stroke-width="1.4" fill="none"/>
<line x1="346.0" y1="844.4" x2="372.4" y2="844.4" stroke="#111" stroke-width="2.3"/>
<path d="M399.2,838.2 V876.6 M392.59999999999997,838.2 H405.8 M392.59999999999997,876.6 H405.8" stroke="#444" stroke-width="1.4" fill="none"/>
<line x1="386.0" y1="857.7" x2="412.4" y2="857.7" stroke="#111" stroke-width="2.3"/>
<path d="M439.7,819.8 V869.5 M433.09999999999997,819.8 H446.3 M433.09999999999997,869.5 H446.3" stroke="#444" stroke-width="1.4" fill="none"/>
<line x1="426.5" y1="844.4" x2="452.9" y2="844.4" stroke="#111" stroke-width="2.3"/>
<path d="M479.6,816.3 V884.9 M473.0,816.3 H486.20000000000005 M473.0,884.9 H486.20000000000005" stroke="#444" stroke-width="1.4" fill="none"/>
<line x1="466.40000000000003" y1="850.9" x2="492.8" y2="850.9" stroke="#111" stroke-width="2.3"/>
<circle cx="359.2" cy="815.4" r="3.7" fill="#111"/>
<circle cx="359.2" cy="829.6" r="3.7" fill="#111"/>
<circle cx="359.2" cy="850.9" r="3.7" fill="#111"/>
<circle cx="359.2" cy="883.4" r="3.7" fill="#111"/>
<circle cx="390" cy="853.8" r="3.7" fill="#111"/>
<circle cx="409.2" cy="855.3" r="3.7" fill="#111"/>
<circle cx="399.2" cy="837" r="3.7" fill="#111"/>
<circle cx="399.2" cy="883.4" r="3.7" fill="#111"/>
<circle cx="439.7" cy="812.4" r="3.7" fill="#111"/>
<circle cx="439.7" cy="839" r="3.7" fill="#111"/>
<circle cx="439.7" cy="856.8" r="3.7" fill="#111"/>
<circle cx="439.7" cy="870.1" r="3.7" fill="#111"/>
<circle cx="479.6" cy="819.8" r="3.7" fill="#111"/>
<circle cx="479.6" cy="835.5" r="3.7" fill="#111"/>
<circle cx="479.6" cy="846.4" r="3.7" fill="#111"/>
<circle cx="479.6" cy="900.3" r="3.7" fill="#111"/>
<text x="0" y="0" font-size="13.4" text-anchor="end" fill="#111" stroke="#111" stroke-width="0.25" transform="translate(362.7 991.2) rotate(-45)">APOE KO</text>
<text x="0" y="0" font-size="13.4" text-anchor="end" fill="#111" stroke="#111" stroke-width="0.25" transform="translate(402.7 991.2) rotate(-45)">APOE2</text>
<text x="0" y="0" font-size="13.4" text-anchor="end" fill="#111" stroke="#111" stroke-width="0.25" transform="translate(443.2 991.2) rotate(-45)">APOE3</text>
<text x="0" y="0" font-size="13.4" text-anchor="end" fill="#111" stroke="#111" stroke-width="0.25" transform="translate(483.2 991.2) rotate(-45)">APOE4</text>
<text x="495.6" y="751.5" font-size="26" text-anchor="start" font-weight="normal" font-style="normal" fill="#000" textLength="32.6" lengthAdjust="spacingAndGlyphs" >(E)</text>
<line x1="578.3" y1="806.3" x2="578.3" y2="973.3" stroke="#111" stroke-width="1.6"/>
<line x1="577.3" y1="972.3" x2="742.8" y2="972.3" stroke="#111" stroke-width="1.6"/>
<line x1="572.3" y1="972.3" x2="578.3" y2="972.3" stroke="#111" stroke-width="1.6"/>
<text x="569.3" y="976.4" font-size="11.3" font-weight="bold" text-anchor="end" fill="#111">0</text>
<line x1="572.3" y1="939.3" x2="578.3" y2="939.3" stroke="#111" stroke-width="1.6"/>
<text x="569.3" y="943.4" font-size="11.3" font-weight="bold" text-anchor="end" fill="#111">1</text>
<line x1="572.3" y1="906.3" x2="578.3" y2="906.3" stroke="#111" stroke-width="1.6"/>
<text x="569.3" y="910.4" font-size="11.3" font-weight="bold" text-anchor="end" fill="#111">2</text>
<line x1="572.3" y1="873.3" x2="578.3" y2="873.3" stroke="#111" stroke-width="1.6"/>
<text x="569.3" y="877.4" font-size="11.3" font-weight="bold" text-anchor="end" fill="#111">3</text>
<line x1="572.3" y1="840.3" x2="578.3" y2="840.3" stroke="#111" stroke-width="1.6"/>
<text x="569.3" y="844.4" font-size="11.3" font-weight="bold" text-anchor="end" fill="#111">4</text>
<line x1="572.3" y1="807.3" x2="578.3" y2="807.3" stroke="#111" stroke-width="1.6"/>
<text x="569.3" y="811.4" font-size="11.3" font-weight="bold" text-anchor="end" fill="#111">5</text>
<line x1="603.3" y1="972.3" x2="603.3" y2="978.8" stroke="#111" stroke-width="1.6"/>
<line x1="641.3" y1="972.3" x2="641.3" y2="978.8" stroke="#111" stroke-width="1.6"/>
<line x1="679.0" y1="972.3" x2="679.0" y2="978.8" stroke="#111" stroke-width="1.6"/>
<line x1="717.5" y1="972.3" x2="717.5" y2="978.8" stroke="#111" stroke-width="1.6"/>
<text x="0" y="0" font-size="13.6" font-weight="bold" fill="#111" transform="translate(551.4 982.6) rotate(-90)" textLength="188.2" lengthAdjust="spacingAndGlyphs">APOE Concentration (ng/mL)</text>
<path d="M603.4,782 V722.2 H717.7 V746.2" fill="none" stroke="#222" stroke-width="1.5"/>
<path d="M640.9,766.7 V757.5 H717.7 V816.2" fill="none" stroke="#222" stroke-width="1.5"/>
<path d="M603.4,799.1 V791.6 H679.5 V816.2" fill="none" stroke="#222" stroke-width="1.5"/>
<path d="M603.4,961.8 V827.5 H638.5 V836.7" fill="none" stroke="#222" stroke-width="1.5"/>
<path d="M644.3,836.7 V827.5 H676.0 V836.7" fill="none" stroke="#222" stroke-width="1.5"/>
<path d="M681.9,836.7 V827.5 H717.7 V836.7" fill="none" stroke="#222" stroke-width="1.5"/>
<path d="M645.60,706.70L645.60,714.30M642.05,708.60L649.15,712.40M649.15,708.60L642.05,712.40M655.15,706.70L655.15,714.30M651.60,708.60L658.70,712.40M658.70,708.60L651.60,712.40M664.70,706.70L664.70,714.30M661.15,708.60L668.25,712.40M668.25,708.60L661.15,712.40M674.25,706.70L674.25,714.30M670.70,708.60L677.80,712.40M677.80,708.60L670.70,712.40" stroke="#1a1a1a" stroke-width="1.6" fill="none"/>
<path d="M625.90,776.80L625.90,784.40M622.35,778.70L629.45,782.50M629.45,778.70L622.35,782.50M635.45,776.80L635.45,784.40M631.90,778.70L639.00,782.50M639.00,778.70L631.90,782.50M645.00,776.80L645.00,784.40M641.45,778.70L648.55,782.50M648.55,778.70L641.45,782.50M654.55,776.80L654.55,784.40M651.00,778.70L658.10,782.50M658.10,778.70L651.00,782.50" stroke="#1a1a1a" stroke-width="1.6" fill="none"/>
<path d="M605.60,811.60L605.60,819.20M602.05,813.50L609.15,817.30M609.15,813.50L602.05,817.30M615.15,811.60L615.15,819.20M611.60,813.50L618.70,817.30M618.70,813.50L611.60,817.30M624.70,811.60L624.70,819.20M621.15,813.50L628.25,817.30M628.25,813.50L621.15,817.30M634.25,811.60L634.25,819.20M630.70,813.50L637.80,817.30M637.80,813.50L630.70,817.30" stroke="#1a1a1a" stroke-width="1.6" fill="none"/>
<text x="679.5" y="749" font-size="12.5" text-anchor="middle" fill="#222">ns</text>
<text x="659.7" y="818" font-size="12.5" text-anchor="middle" fill="#222">ns</text>
<text x="700" y="818" font-size="12.5" text-anchor="middle" fill="#222">ns</text>
<path d="M641.3,846.7 V875.2 M634.8,846.7 H647.8 M634.8,875.2 H647.8" stroke="#333" stroke-width="1.3" fill="none"/>
<line x1="628.8" y1="860.8" x2="653.8" y2="860.8" stroke="#222" stroke-width="1.6"/>
<path d="M679.3,852.1 V865.1 M672.8,852.1 H685.8 M672.8,865.1 H685.8" stroke="#333" stroke-width="1.3" fill="none"/>
<line x1="666.8" y1="858.8" x2="691.8" y2="858.8" stroke="#222" stroke-width="1.6"/>
<path d="M717.5,849.6 V893.3 M711.0,849.6 H724.0 M711.0,893.3 H724.0" stroke="#333" stroke-width="1.3" fill="none"/>
<line x1="705.0" y1="871.7" x2="730.0" y2="871.7" stroke="#222" stroke-width="1.6"/>
<line x1="594" y1="972.3" x2="613" y2="972.3" stroke="#111" stroke-width="1.6"/>
<circle cx="593.8" cy="971.8" r="3.5" fill="#111"/>
<circle cx="603.3" cy="971.8" r="3.5" fill="#111"/>
<circle cx="612.8" cy="971.8" r="3.5" fill="#111"/>
<circle cx="641.3" cy="847.3" r="3.5" fill="#111"/>
<circle cx="641.3" cy="859.6" r="3.5" fill="#111"/>
<circle cx="641.3" cy="875.2" r="3.5" fill="#111"/>
<circle cx="670" cy="852.1" r="3.5" fill="#111"/>
<circle cx="679.6" cy="865.1" r="3.5" fill="#111"/>
<circle cx="688.2" cy="858.8" r="3.5" fill="#111"/>
<circle cx="717.5" cy="846.4" r="3.5" fill="#111"/>
<circle cx="707.7" cy="886.1" r="3.5" fill="#111"/>
<circle cx="727" cy="881.8" r="3.5" fill="#111"/>
<text x="0" y="0" font-size="12.4" stroke="#111" stroke-width="0.15" text-anchor="end" fill="#111" transform="translate(605.2 988.5) rotate(-45)">APOE KO</text>
<text x="0" y="0" font-size="12.4" stroke="#111" stroke-width="0.15" text-anchor="end" fill="#111" transform="translate(644 988.5) rotate(-45)">APOE2</text>
<text x="0" y="0" font-size="12.4" stroke="#111" stroke-width="0.15" text-anchor="end" fill="#111" transform="translate(682.7 988.5) rotate(-45)">APOE3</text>
<text x="0" y="0" font-size="12.4" stroke="#111" stroke-width="0.15" text-anchor="end" fill="#111" transform="translate(720.2 988.5) rotate(-45)">APOE4</text>
</svg></body></html>
